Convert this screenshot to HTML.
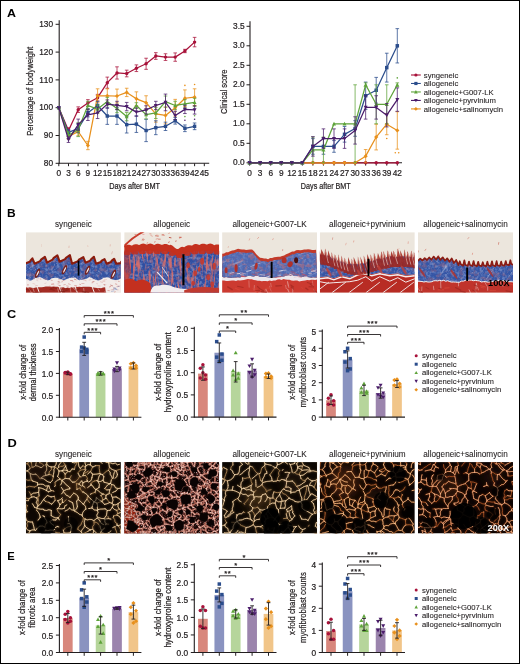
<!DOCTYPE html>
<html><head><meta charset="utf-8"><style>html,body{margin:0;padding:0;background:#fff;font-family:"Liberation Sans",sans-serif;}svg{display:block;}text{font-variant-ligatures:none;font-kerning:none;}</style></head>
<body>
<svg width="520" height="664" viewBox="0 0 520 664" font-family="'Liberation Sans', sans-serif" style="will-change:transform">
<rect x="0" y="0" width="520" height="664" fill="#fff"/>
<text transform="translate(7.0,16.8) scale(1.11,1)" font-size="11.2" font-weight="bold" fill="#000">A</text>
<text transform="translate(6.9,217.0) scale(1.07,1)" font-size="11.2" font-weight="bold" fill="#000">B</text>
<text transform="translate(7.0,318.3) scale(1.14,1)" font-size="11.2" font-weight="bold" fill="#000">C</text>
<text transform="translate(7.6,446.9) scale(1.15,1)" font-size="11.2" font-weight="bold" fill="#000">D</text>
<text transform="translate(7.3,559.8) scale(1.0,1)" font-size="11.2" font-weight="bold" fill="#000">E</text>
<line x1="59.20" y1="20.20" x2="59.20" y2="163.80" stroke="#231f20" stroke-width="1.1"/>
<line x1="58.70" y1="163.30" x2="209.20" y2="163.30" stroke="#231f20" stroke-width="1.1"/>
<line x1="55.60" y1="163.30" x2="59.20" y2="163.30" stroke="#231f20" stroke-width="1"/>
<text x="53.00" y="165.90" font-size="8.3" text-anchor="end" font-weight="normal" fill="#231f20" stroke="#231f20" stroke-width="0.22" >80</text>
<line x1="55.60" y1="135.50" x2="59.20" y2="135.50" stroke="#231f20" stroke-width="1"/>
<text x="53.00" y="138.10" font-size="8.3" text-anchor="end" font-weight="normal" fill="#231f20" stroke="#231f20" stroke-width="0.22" >90</text>
<line x1="55.60" y1="107.70" x2="59.20" y2="107.70" stroke="#231f20" stroke-width="1"/>
<text x="53.00" y="110.30" font-size="8.3" text-anchor="end" font-weight="normal" fill="#231f20" stroke="#231f20" stroke-width="0.22" >100</text>
<line x1="55.60" y1="79.90" x2="59.20" y2="79.90" stroke="#231f20" stroke-width="1"/>
<text x="53.00" y="82.50" font-size="8.3" text-anchor="end" font-weight="normal" fill="#231f20" stroke="#231f20" stroke-width="0.22" >110</text>
<line x1="55.60" y1="52.10" x2="59.20" y2="52.10" stroke="#231f20" stroke-width="1"/>
<text x="53.00" y="54.70" font-size="8.3" text-anchor="end" font-weight="normal" fill="#231f20" stroke="#231f20" stroke-width="0.22" >120</text>
<line x1="55.60" y1="24.30" x2="59.20" y2="24.30" stroke="#231f20" stroke-width="1"/>
<text x="53.00" y="26.90" font-size="8.3" text-anchor="end" font-weight="normal" fill="#231f20" stroke="#231f20" stroke-width="0.22" >130</text>
<line x1="58.80" y1="163.30" x2="58.80" y2="166.20" stroke="#231f20" stroke-width="1"/>
<text x="58.80" y="175.60" font-size="8.3" text-anchor="middle" font-weight="normal" fill="#231f20" stroke="#231f20" stroke-width="0.22" >0</text>
<line x1="68.50" y1="163.30" x2="68.50" y2="166.20" stroke="#231f20" stroke-width="1"/>
<text x="68.50" y="175.60" font-size="8.3" text-anchor="middle" font-weight="normal" fill="#231f20" stroke="#231f20" stroke-width="0.22" >3</text>
<line x1="78.20" y1="163.30" x2="78.20" y2="166.20" stroke="#231f20" stroke-width="1"/>
<text x="78.20" y="175.60" font-size="8.3" text-anchor="middle" font-weight="normal" fill="#231f20" stroke="#231f20" stroke-width="0.22" >6</text>
<line x1="87.90" y1="163.30" x2="87.90" y2="166.20" stroke="#231f20" stroke-width="1"/>
<text x="87.90" y="175.60" font-size="8.3" text-anchor="middle" font-weight="normal" fill="#231f20" stroke="#231f20" stroke-width="0.22" >9</text>
<line x1="97.60" y1="163.30" x2="97.60" y2="166.20" stroke="#231f20" stroke-width="1"/>
<text x="97.60" y="175.60" font-size="8.3" text-anchor="middle" font-weight="normal" fill="#231f20" stroke="#231f20" stroke-width="0.22" >12</text>
<line x1="107.30" y1="163.30" x2="107.30" y2="166.20" stroke="#231f20" stroke-width="1"/>
<text x="107.30" y="175.60" font-size="8.3" text-anchor="middle" font-weight="normal" fill="#231f20" stroke="#231f20" stroke-width="0.22" >15</text>
<line x1="117.00" y1="163.30" x2="117.00" y2="166.20" stroke="#231f20" stroke-width="1"/>
<text x="117.00" y="175.60" font-size="8.3" text-anchor="middle" font-weight="normal" fill="#231f20" stroke="#231f20" stroke-width="0.22" >18</text>
<line x1="126.70" y1="163.30" x2="126.70" y2="166.20" stroke="#231f20" stroke-width="1"/>
<text x="126.70" y="175.60" font-size="8.3" text-anchor="middle" font-weight="normal" fill="#231f20" stroke="#231f20" stroke-width="0.22" >21</text>
<line x1="136.40" y1="163.30" x2="136.40" y2="166.20" stroke="#231f20" stroke-width="1"/>
<text x="136.40" y="175.60" font-size="8.3" text-anchor="middle" font-weight="normal" fill="#231f20" stroke="#231f20" stroke-width="0.22" >24</text>
<line x1="146.10" y1="163.30" x2="146.10" y2="166.20" stroke="#231f20" stroke-width="1"/>
<text x="146.10" y="175.60" font-size="8.3" text-anchor="middle" font-weight="normal" fill="#231f20" stroke="#231f20" stroke-width="0.22" >27</text>
<line x1="155.80" y1="163.30" x2="155.80" y2="166.20" stroke="#231f20" stroke-width="1"/>
<text x="155.80" y="175.60" font-size="8.3" text-anchor="middle" font-weight="normal" fill="#231f20" stroke="#231f20" stroke-width="0.22" >30</text>
<line x1="165.50" y1="163.30" x2="165.50" y2="166.20" stroke="#231f20" stroke-width="1"/>
<text x="165.50" y="175.60" font-size="8.3" text-anchor="middle" font-weight="normal" fill="#231f20" stroke="#231f20" stroke-width="0.22" >33</text>
<line x1="175.20" y1="163.30" x2="175.20" y2="166.20" stroke="#231f20" stroke-width="1"/>
<text x="175.20" y="175.60" font-size="8.3" text-anchor="middle" font-weight="normal" fill="#231f20" stroke="#231f20" stroke-width="0.22" >36</text>
<line x1="184.90" y1="163.30" x2="184.90" y2="166.20" stroke="#231f20" stroke-width="1"/>
<text x="184.90" y="175.60" font-size="8.3" text-anchor="middle" font-weight="normal" fill="#231f20" stroke="#231f20" stroke-width="0.22" >39</text>
<line x1="194.60" y1="163.30" x2="194.60" y2="166.20" stroke="#231f20" stroke-width="1"/>
<text x="194.60" y="175.60" font-size="8.3" text-anchor="middle" font-weight="normal" fill="#231f20" stroke="#231f20" stroke-width="0.22" >42</text>
<line x1="204.30" y1="163.30" x2="204.30" y2="166.20" stroke="#231f20" stroke-width="1"/>
<text x="204.30" y="175.60" font-size="8.3" text-anchor="middle" font-weight="normal" fill="#231f20" stroke="#231f20" stroke-width="0.22" >45</text>
<text transform="translate(33.00,91.20) rotate(-90) scale(0.8600,1)" x="0" y="0" font-size="9" text-anchor="middle" fill="#231f20" stroke="#231f20" stroke-width="0.22">Percentage of bodyweight</text>
<text transform="translate(134.6,189.4) scale(0.8126,1)" font-size="9" text-anchor="middle" fill="#231f20" stroke="#231f20" stroke-width="0.22">Days after BMT</text>
<polyline points="58.80,107.70 68.50,130.50 78.20,109.65 87.90,102.97 97.60,97.69 107.30,82.68 117.00,72.95 126.70,73.51 136.40,68.22 146.10,63.78 155.80,55.99 165.50,57.10 175.20,57.10 184.90,50.99 194.60,42.09" fill="none" stroke="#a8123a" stroke-width="1.25" stroke-linejoin="round"/>
<path d="M68.50,127.72V133.28M66.70,127.72H70.30M66.70,133.28H70.30" stroke="#a8123a" stroke-width="0.9" fill="none" opacity="0.85"/>
<path d="M78.20,106.87V112.43M76.40,106.87H80.00M76.40,112.43H80.00" stroke="#a8123a" stroke-width="0.9" fill="none" opacity="0.85"/>
<path d="M87.90,99.64V106.31M86.10,99.64H89.70M86.10,106.31H89.70" stroke="#a8123a" stroke-width="0.9" fill="none" opacity="0.85"/>
<path d="M97.60,94.36V101.03M95.80,94.36H99.40M95.80,101.03H99.40" stroke="#a8123a" stroke-width="0.9" fill="none" opacity="0.85"/>
<path d="M107.30,77.12V88.24M105.50,77.12H109.10M105.50,88.24H109.10" stroke="#a8123a" stroke-width="0.9" fill="none" opacity="0.85"/>
<path d="M117.00,66.83V79.07M115.20,66.83H118.80M115.20,79.07H118.80" stroke="#a8123a" stroke-width="0.9" fill="none" opacity="0.85"/>
<path d="M126.70,70.17V76.84M124.90,70.17H128.50M124.90,76.84H128.50" stroke="#a8123a" stroke-width="0.9" fill="none" opacity="0.85"/>
<path d="M136.40,64.89V71.56M134.60,64.89H138.20M134.60,71.56H138.20" stroke="#a8123a" stroke-width="0.9" fill="none" opacity="0.85"/>
<path d="M146.10,58.22V69.34M144.30,58.22H147.90M144.30,69.34H147.90" stroke="#a8123a" stroke-width="0.9" fill="none" opacity="0.85"/>
<path d="M155.80,52.66V59.33M154.00,52.66H157.60M154.00,59.33H157.60" stroke="#a8123a" stroke-width="0.9" fill="none" opacity="0.85"/>
<path d="M165.50,53.77V60.44M163.70,53.77H167.30M163.70,60.44H167.30" stroke="#a8123a" stroke-width="0.9" fill="none" opacity="0.85"/>
<path d="M175.20,52.93V61.27M173.40,52.93H177.00M173.40,61.27H177.00" stroke="#a8123a" stroke-width="0.9" fill="none" opacity="0.85"/>
<path d="M184.90,49.32V52.66M183.10,49.32H186.70M183.10,52.66H186.70" stroke="#a8123a" stroke-width="0.9" fill="none" opacity="0.85"/>
<path d="M194.60,37.37V46.82M192.80,37.37H196.40M192.80,46.82H196.40" stroke="#a8123a" stroke-width="0.9" fill="none" opacity="0.85"/>
<circle cx="58.80" cy="107.70" r="1.70" fill="#a8123a"/>
<circle cx="68.50" cy="130.50" r="1.70" fill="#a8123a"/>
<circle cx="78.20" cy="109.65" r="1.70" fill="#a8123a"/>
<circle cx="87.90" cy="102.97" r="1.70" fill="#a8123a"/>
<circle cx="97.60" cy="97.69" r="1.70" fill="#a8123a"/>
<circle cx="107.30" cy="82.68" r="1.70" fill="#a8123a"/>
<circle cx="117.00" cy="72.95" r="1.70" fill="#a8123a"/>
<circle cx="126.70" cy="73.51" r="1.70" fill="#a8123a"/>
<circle cx="136.40" cy="68.22" r="1.70" fill="#a8123a"/>
<circle cx="146.10" cy="63.78" r="1.70" fill="#a8123a"/>
<circle cx="155.80" cy="55.99" r="1.70" fill="#a8123a"/>
<circle cx="165.50" cy="57.10" r="1.70" fill="#a8123a"/>
<circle cx="175.20" cy="57.10" r="1.70" fill="#a8123a"/>
<circle cx="184.90" cy="50.99" r="1.70" fill="#a8123a"/>
<circle cx="194.60" cy="42.09" r="1.70" fill="#a8123a"/>
<polyline points="58.80,107.70 68.50,136.33 78.20,131.61 87.90,145.51 97.60,95.75 107.30,95.75 117.00,96.02 126.70,92.41 136.40,98.80 146.10,102.70 155.80,113.82 165.50,115.48 175.20,107.70 184.90,98.25 194.60,97.14" fill="none" stroke="#e8901c" stroke-width="1.25" stroke-linejoin="round"/>
<path d="M68.50,133.55V139.11M66.70,133.55H70.30M66.70,139.11H70.30" stroke="#e8901c" stroke-width="0.9" fill="none" opacity="0.85"/>
<path d="M78.20,127.44V135.78M76.40,127.44H80.00M76.40,135.78H80.00" stroke="#e8901c" stroke-width="0.9" fill="none" opacity="0.85"/>
<path d="M87.90,141.34V149.68M86.10,141.34H89.70M86.10,149.68H89.70" stroke="#e8901c" stroke-width="0.9" fill="none" opacity="0.85"/>
<path d="M97.60,88.80V102.70M95.80,88.80H99.40M95.80,102.70H99.40" stroke="#e8901c" stroke-width="0.9" fill="none" opacity="0.85"/>
<path d="M107.30,88.80V102.70M105.50,88.80H109.10M105.50,102.70H109.10" stroke="#e8901c" stroke-width="0.9" fill="none" opacity="0.85"/>
<path d="M117.00,89.07V102.97M115.20,89.07H118.80M115.20,102.97H118.80" stroke="#e8901c" stroke-width="0.9" fill="none" opacity="0.85"/>
<path d="M126.70,88.24V96.58M124.90,88.24H128.50M124.90,96.58H128.50" stroke="#e8901c" stroke-width="0.9" fill="none" opacity="0.85"/>
<path d="M136.40,91.85V105.75M134.60,91.85H138.20M134.60,105.75H138.20" stroke="#e8901c" stroke-width="0.9" fill="none" opacity="0.85"/>
<path d="M146.10,95.75V109.65M144.30,95.75H147.90M144.30,109.65H147.90" stroke="#e8901c" stroke-width="0.9" fill="none" opacity="0.85"/>
<path d="M155.80,105.48V122.16M154.00,105.48H157.60M154.00,122.16H157.60" stroke="#e8901c" stroke-width="0.9" fill="none" opacity="0.85"/>
<path d="M165.50,107.14V123.82M163.70,107.14H167.30M163.70,123.82H167.30" stroke="#e8901c" stroke-width="0.9" fill="none" opacity="0.85"/>
<path d="M175.20,99.36V116.04M173.40,99.36H177.00M173.40,116.04H177.00" stroke="#e8901c" stroke-width="0.9" fill="none" opacity="0.85"/>
<path d="M184.90,89.91V106.59M183.10,89.91H186.70M183.10,106.59H186.70" stroke="#e8901c" stroke-width="0.9" fill="none" opacity="0.85"/>
<path d="M194.60,88.80V105.48M192.80,88.80H196.40M192.80,105.48H196.40" stroke="#e8901c" stroke-width="0.9" fill="none" opacity="0.85"/>
<path d="M58.80,105.66L60.84,107.70L58.80,109.74L56.76,107.70Z" fill="#e8901c"/>
<path d="M68.50,134.29L70.54,136.33L68.50,138.37L66.46,136.33Z" fill="#e8901c"/>
<path d="M78.20,129.57L80.24,131.61L78.20,133.65L76.16,131.61Z" fill="#e8901c"/>
<path d="M87.90,143.47L89.94,145.51L87.90,147.55L85.86,145.51Z" fill="#e8901c"/>
<path d="M97.60,93.71L99.64,95.75L97.60,97.79L95.56,95.75Z" fill="#e8901c"/>
<path d="M107.30,93.71L109.34,95.75L107.30,97.79L105.26,95.75Z" fill="#e8901c"/>
<path d="M117.00,93.98L119.04,96.02L117.00,98.06L114.96,96.02Z" fill="#e8901c"/>
<path d="M126.70,90.37L128.74,92.41L126.70,94.45L124.66,92.41Z" fill="#e8901c"/>
<path d="M136.40,96.76L138.44,98.80L136.40,100.84L134.36,98.80Z" fill="#e8901c"/>
<path d="M146.10,100.66L148.14,102.70L146.10,104.74L144.06,102.70Z" fill="#e8901c"/>
<path d="M155.80,111.78L157.84,113.82L155.80,115.86L153.76,113.82Z" fill="#e8901c"/>
<path d="M165.50,113.44L167.54,115.48L165.50,117.52L163.46,115.48Z" fill="#e8901c"/>
<path d="M175.20,105.66L177.24,107.70L175.20,109.74L173.16,107.70Z" fill="#e8901c"/>
<path d="M184.90,96.21L186.94,98.25L184.90,100.29L182.86,98.25Z" fill="#e8901c"/>
<path d="M194.60,95.10L196.64,97.14L194.60,99.18L192.56,97.14Z" fill="#e8901c"/>
<polyline points="58.80,107.70 68.50,132.44 78.20,128.55 87.90,112.70 97.60,105.48 107.30,116.04 117.00,116.04 126.70,124.66 136.40,124.10 146.10,130.50 155.80,127.72 165.50,126.33 175.20,120.77 184.90,128.27 194.60,126.33" fill="none" stroke="#2b4d8c" stroke-width="1.25" stroke-linejoin="round"/>
<path d="M68.50,129.66V135.22M66.70,129.66H70.30M66.70,135.22H70.30" stroke="#2b4d8c" stroke-width="0.9" fill="none" opacity="0.85"/>
<path d="M78.20,124.38V132.72M76.40,124.38H80.00M76.40,132.72H80.00" stroke="#2b4d8c" stroke-width="0.9" fill="none" opacity="0.85"/>
<path d="M87.90,108.53V116.87M86.10,108.53H89.70M86.10,116.87H89.70" stroke="#2b4d8c" stroke-width="0.9" fill="none" opacity="0.85"/>
<path d="M97.60,101.31V109.65M95.80,101.31H99.40M95.80,109.65H99.40" stroke="#2b4d8c" stroke-width="0.9" fill="none" opacity="0.85"/>
<path d="M107.30,107.70V124.38M105.50,107.70H109.10M105.50,124.38H109.10" stroke="#2b4d8c" stroke-width="0.9" fill="none" opacity="0.85"/>
<path d="M117.00,107.70V124.38M115.20,107.70H118.80M115.20,124.38H118.80" stroke="#2b4d8c" stroke-width="0.9" fill="none" opacity="0.85"/>
<path d="M126.70,116.32V133.00M124.90,116.32H128.50M124.90,133.00H128.50" stroke="#2b4d8c" stroke-width="0.9" fill="none" opacity="0.85"/>
<path d="M136.40,115.76V132.44M134.60,115.76H138.20M134.60,132.44H138.20" stroke="#2b4d8c" stroke-width="0.9" fill="none" opacity="0.85"/>
<path d="M146.10,119.38V141.62M144.30,119.38H147.90M144.30,141.62H147.90" stroke="#2b4d8c" stroke-width="0.9" fill="none" opacity="0.85"/>
<path d="M155.80,120.77V134.67M154.00,120.77H157.60M154.00,134.67H157.60" stroke="#2b4d8c" stroke-width="0.9" fill="none" opacity="0.85"/>
<path d="M165.50,122.16V130.50M163.70,122.16H167.30M163.70,130.50H167.30" stroke="#2b4d8c" stroke-width="0.9" fill="none" opacity="0.85"/>
<path d="M175.20,117.43V124.10M173.40,117.43H177.00M173.40,124.10H177.00" stroke="#2b4d8c" stroke-width="0.9" fill="none" opacity="0.85"/>
<path d="M184.90,124.94V131.61M183.10,124.94H186.70M183.10,131.61H186.70" stroke="#2b4d8c" stroke-width="0.9" fill="none" opacity="0.85"/>
<path d="M194.60,122.99V129.66M192.80,122.99H196.40M192.80,129.66H196.40" stroke="#2b4d8c" stroke-width="0.9" fill="none" opacity="0.85"/>
<rect x="57.10" y="106.00" width="3.40" height="3.40" fill="#2b4d8c"/>
<rect x="66.80" y="130.74" width="3.40" height="3.40" fill="#2b4d8c"/>
<rect x="76.50" y="126.85" width="3.40" height="3.40" fill="#2b4d8c"/>
<rect x="86.20" y="111.00" width="3.40" height="3.40" fill="#2b4d8c"/>
<rect x="95.90" y="103.78" width="3.40" height="3.40" fill="#2b4d8c"/>
<rect x="105.60" y="114.34" width="3.40" height="3.40" fill="#2b4d8c"/>
<rect x="115.30" y="114.34" width="3.40" height="3.40" fill="#2b4d8c"/>
<rect x="125.00" y="122.96" width="3.40" height="3.40" fill="#2b4d8c"/>
<rect x="134.70" y="122.40" width="3.40" height="3.40" fill="#2b4d8c"/>
<rect x="144.40" y="128.80" width="3.40" height="3.40" fill="#2b4d8c"/>
<rect x="154.10" y="126.02" width="3.40" height="3.40" fill="#2b4d8c"/>
<rect x="163.80" y="124.63" width="3.40" height="3.40" fill="#2b4d8c"/>
<rect x="173.50" y="119.07" width="3.40" height="3.40" fill="#2b4d8c"/>
<rect x="183.20" y="126.57" width="3.40" height="3.40" fill="#2b4d8c"/>
<rect x="192.90" y="124.63" width="3.40" height="3.40" fill="#2b4d8c"/>
<polyline points="58.80,107.70 68.50,135.22 78.20,129.66 87.90,105.48 97.60,109.09 107.30,101.58 117.00,108.53 126.70,116.60 136.40,105.48 146.10,114.65 155.80,112.98 165.50,101.58 175.20,105.48 184.90,103.81 194.60,102.42" fill="none" stroke="#5ea33a" stroke-width="1.25" stroke-linejoin="round"/>
<path d="M68.50,131.89V138.56M66.70,131.89H70.30M66.70,138.56H70.30" stroke="#5ea33a" stroke-width="0.9" fill="none" opacity="0.85"/>
<path d="M78.20,122.71V136.61M76.40,122.71H80.00M76.40,136.61H80.00" stroke="#5ea33a" stroke-width="0.9" fill="none" opacity="0.85"/>
<path d="M87.90,101.31V109.65M86.10,101.31H89.70M86.10,109.65H89.70" stroke="#5ea33a" stroke-width="0.9" fill="none" opacity="0.85"/>
<path d="M97.60,104.92V113.26M95.80,104.92H99.40M95.80,113.26H99.40" stroke="#5ea33a" stroke-width="0.9" fill="none" opacity="0.85"/>
<path d="M107.30,97.41V105.75M105.50,97.41H109.10M105.50,105.75H109.10" stroke="#5ea33a" stroke-width="0.9" fill="none" opacity="0.85"/>
<path d="M117.00,104.36V112.70M115.20,104.36H118.80M115.20,112.70H118.80" stroke="#5ea33a" stroke-width="0.9" fill="none" opacity="0.85"/>
<path d="M126.70,112.43V120.77M124.90,112.43H128.50M124.90,120.77H128.50" stroke="#5ea33a" stroke-width="0.9" fill="none" opacity="0.85"/>
<path d="M136.40,102.70V108.26M134.60,102.70H138.20M134.60,108.26H138.20" stroke="#5ea33a" stroke-width="0.9" fill="none" opacity="0.85"/>
<path d="M146.10,110.48V118.82M144.30,110.48H147.90M144.30,118.82H147.90" stroke="#5ea33a" stroke-width="0.9" fill="none" opacity="0.85"/>
<path d="M155.80,107.42V118.54M154.00,107.42H157.60M154.00,118.54H157.60" stroke="#5ea33a" stroke-width="0.9" fill="none" opacity="0.85"/>
<path d="M165.50,96.02V107.14M163.70,96.02H167.30M163.70,107.14H167.30" stroke="#5ea33a" stroke-width="0.9" fill="none" opacity="0.85"/>
<path d="M175.20,101.31V109.65M173.40,101.31H177.00M173.40,109.65H177.00" stroke="#5ea33a" stroke-width="0.9" fill="none" opacity="0.85"/>
<path d="M184.90,99.64V107.98M183.10,99.64H186.70M183.10,107.98H186.70" stroke="#5ea33a" stroke-width="0.9" fill="none" opacity="0.85"/>
<path d="M194.60,98.25V106.59M192.80,98.25H196.40M192.80,106.59H196.40" stroke="#5ea33a" stroke-width="0.9" fill="none" opacity="0.85"/>
<path d="M58.80,105.75L60.75,109.26L56.84,109.26Z" fill="#5ea33a"/>
<path d="M68.50,133.27L70.45,136.79L66.55,136.79Z" fill="#5ea33a"/>
<path d="M78.20,127.71L80.15,131.23L76.24,131.23Z" fill="#5ea33a"/>
<path d="M87.90,103.52L89.85,107.04L85.94,107.04Z" fill="#5ea33a"/>
<path d="M97.60,107.14L99.55,110.65L95.64,110.65Z" fill="#5ea33a"/>
<path d="M107.30,99.63L109.25,103.15L105.34,103.15Z" fill="#5ea33a"/>
<path d="M117.00,106.58L118.95,110.10L115.05,110.10Z" fill="#5ea33a"/>
<path d="M126.70,114.64L128.66,118.16L124.74,118.16Z" fill="#5ea33a"/>
<path d="M136.40,103.52L138.35,107.04L134.44,107.04Z" fill="#5ea33a"/>
<path d="M146.10,112.70L148.06,116.21L144.14,116.21Z" fill="#5ea33a"/>
<path d="M155.80,111.03L157.76,114.55L153.84,114.55Z" fill="#5ea33a"/>
<path d="M165.50,99.63L167.46,103.15L163.54,103.15Z" fill="#5ea33a"/>
<path d="M175.20,103.52L177.16,107.04L173.24,107.04Z" fill="#5ea33a"/>
<path d="M184.90,101.85L186.85,105.37L182.94,105.37Z" fill="#5ea33a"/>
<path d="M194.60,100.46L196.55,103.98L192.64,103.98Z" fill="#5ea33a"/>
<polyline points="58.80,107.70 68.50,139.67 78.20,124.66 87.90,114.93 97.60,112.98 107.30,104.09 117.00,105.48 126.70,106.59 136.40,112.15 146.10,109.92 155.80,105.48 165.50,102.42 175.20,115.48 184.90,109.37 194.60,109.92" fill="none" stroke="#4b1d6b" stroke-width="1.25" stroke-linejoin="round"/>
<path d="M68.50,136.89V142.45M66.70,136.89H70.30M66.70,142.45H70.30" stroke="#4b1d6b" stroke-width="0.9" fill="none" opacity="0.85"/>
<path d="M78.20,119.10V130.22M76.40,119.10H80.00M76.40,130.22H80.00" stroke="#4b1d6b" stroke-width="0.9" fill="none" opacity="0.85"/>
<path d="M87.90,109.37V120.49M86.10,109.37H89.70M86.10,120.49H89.70" stroke="#4b1d6b" stroke-width="0.9" fill="none" opacity="0.85"/>
<path d="M97.60,107.42V118.54M95.80,107.42H99.40M95.80,118.54H99.40" stroke="#4b1d6b" stroke-width="0.9" fill="none" opacity="0.85"/>
<path d="M107.30,99.92V108.26M105.50,99.92H109.10M105.50,108.26H109.10" stroke="#4b1d6b" stroke-width="0.9" fill="none" opacity="0.85"/>
<path d="M117.00,101.31V109.65M115.20,101.31H118.80M115.20,109.65H118.80" stroke="#4b1d6b" stroke-width="0.9" fill="none" opacity="0.85"/>
<path d="M126.70,102.42V110.76M124.90,102.42H128.50M124.90,110.76H128.50" stroke="#4b1d6b" stroke-width="0.9" fill="none" opacity="0.85"/>
<path d="M136.40,107.98V116.32M134.60,107.98H138.20M134.60,116.32H138.20" stroke="#4b1d6b" stroke-width="0.9" fill="none" opacity="0.85"/>
<path d="M146.10,105.75V114.09M144.30,105.75H147.90M144.30,114.09H147.90" stroke="#4b1d6b" stroke-width="0.9" fill="none" opacity="0.85"/>
<path d="M155.80,101.31V109.65M154.00,101.31H157.60M154.00,109.65H157.60" stroke="#4b1d6b" stroke-width="0.9" fill="none" opacity="0.85"/>
<path d="M165.50,94.08V110.76M163.70,94.08H167.30M163.70,110.76H167.30" stroke="#4b1d6b" stroke-width="0.9" fill="none" opacity="0.85"/>
<path d="M175.20,111.31V119.65M173.40,111.31H177.00M173.40,119.65H177.00" stroke="#4b1d6b" stroke-width="0.9" fill="none" opacity="0.85"/>
<path d="M184.90,105.20V113.54M183.10,105.20H186.70M183.10,113.54H186.70" stroke="#4b1d6b" stroke-width="0.9" fill="none" opacity="0.85"/>
<path d="M194.60,105.75V114.09M192.80,105.75H196.40M192.80,114.09H196.40" stroke="#4b1d6b" stroke-width="0.9" fill="none" opacity="0.85"/>
<path d="M58.80,109.66L60.75,106.14L56.84,106.14Z" fill="#4b1d6b"/>
<path d="M68.50,141.63L70.45,138.11L66.55,138.11Z" fill="#4b1d6b"/>
<path d="M78.20,126.61L80.15,123.09L76.24,123.09Z" fill="#4b1d6b"/>
<path d="M87.90,116.88L89.85,113.36L85.94,113.36Z" fill="#4b1d6b"/>
<path d="M97.60,114.94L99.55,111.42L95.64,111.42Z" fill="#4b1d6b"/>
<path d="M107.30,106.04L109.25,102.52L105.34,102.52Z" fill="#4b1d6b"/>
<path d="M117.00,107.43L118.95,103.91L115.05,103.91Z" fill="#4b1d6b"/>
<path d="M126.70,108.54L128.66,105.02L124.74,105.02Z" fill="#4b1d6b"/>
<path d="M136.40,114.10L138.35,110.58L134.44,110.58Z" fill="#4b1d6b"/>
<path d="M146.10,111.88L148.06,108.36L144.14,108.36Z" fill="#4b1d6b"/>
<path d="M155.80,107.43L157.76,103.91L153.84,103.91Z" fill="#4b1d6b"/>
<path d="M165.50,104.37L167.46,100.85L163.54,100.85Z" fill="#4b1d6b"/>
<path d="M175.20,117.44L177.16,113.92L173.24,113.92Z" fill="#4b1d6b"/>
<path d="M184.90,111.32L186.85,107.80L182.94,107.80Z" fill="#4b1d6b"/>
<path d="M194.60,111.88L196.55,108.36L192.64,108.36Z" fill="#4b1d6b"/>
<circle cx="184.90" cy="85.4" r="0.8" fill="#e8901c"/>
<circle cx="194.60" cy="84.5" r="0.8" fill="#e8901c"/>
<circle cx="184.90" cy="116.6" r="0.8" fill="#5ea33a"/>
<circle cx="194.60" cy="115.7" r="0.8" fill="#5ea33a"/>
<circle cx="184.90" cy="120.2" r="0.8" fill="#4b1d6b"/>
<circle cx="194.60" cy="119.3" r="0.8" fill="#4b1d6b"/>
<line x1="250.00" y1="21.30" x2="250.00" y2="163.30" stroke="#231f20" stroke-width="1.1"/>
<line x1="249.50" y1="162.80" x2="402.00" y2="162.80" stroke="#231f20" stroke-width="1.1"/>
<line x1="246.50" y1="162.80" x2="250.00" y2="162.80" stroke="#231f20" stroke-width="1"/>
<text x="244.60" y="165.40" font-size="8.3" text-anchor="end" font-weight="normal" fill="#231f20" stroke="#231f20" stroke-width="0.22" >0.0</text>
<line x1="246.50" y1="143.30" x2="250.00" y2="143.30" stroke="#231f20" stroke-width="1"/>
<text x="244.60" y="145.90" font-size="8.3" text-anchor="end" font-weight="normal" fill="#231f20" stroke="#231f20" stroke-width="0.22" >0.5</text>
<line x1="246.50" y1="123.80" x2="250.00" y2="123.80" stroke="#231f20" stroke-width="1"/>
<text x="244.60" y="126.40" font-size="8.3" text-anchor="end" font-weight="normal" fill="#231f20" stroke="#231f20" stroke-width="0.22" >1.0</text>
<line x1="246.50" y1="104.30" x2="250.00" y2="104.30" stroke="#231f20" stroke-width="1"/>
<text x="244.60" y="106.90" font-size="8.3" text-anchor="end" font-weight="normal" fill="#231f20" stroke="#231f20" stroke-width="0.22" >1.5</text>
<line x1="246.50" y1="84.80" x2="250.00" y2="84.80" stroke="#231f20" stroke-width="1"/>
<text x="244.60" y="87.40" font-size="8.3" text-anchor="end" font-weight="normal" fill="#231f20" stroke="#231f20" stroke-width="0.22" >2.0</text>
<line x1="246.50" y1="65.30" x2="250.00" y2="65.30" stroke="#231f20" stroke-width="1"/>
<text x="244.60" y="67.90" font-size="8.3" text-anchor="end" font-weight="normal" fill="#231f20" stroke="#231f20" stroke-width="0.22" >2.5</text>
<line x1="246.50" y1="45.80" x2="250.00" y2="45.80" stroke="#231f20" stroke-width="1"/>
<text x="244.60" y="48.40" font-size="8.3" text-anchor="end" font-weight="normal" fill="#231f20" stroke="#231f20" stroke-width="0.22" >3.0</text>
<line x1="246.50" y1="26.30" x2="250.00" y2="26.30" stroke="#231f20" stroke-width="1"/>
<text x="244.60" y="28.90" font-size="8.3" text-anchor="end" font-weight="normal" fill="#231f20" stroke="#231f20" stroke-width="0.22" >3.5</text>
<line x1="249.60" y1="162.80" x2="249.60" y2="165.60" stroke="#231f20" stroke-width="1"/>
<text x="249.60" y="175.60" font-size="8.3" text-anchor="middle" font-weight="normal" fill="#231f20" stroke="#231f20" stroke-width="0.22" >0</text>
<line x1="260.15" y1="162.80" x2="260.15" y2="165.60" stroke="#231f20" stroke-width="1"/>
<text x="260.15" y="175.60" font-size="8.3" text-anchor="middle" font-weight="normal" fill="#231f20" stroke="#231f20" stroke-width="0.22" >3</text>
<line x1="270.70" y1="162.80" x2="270.70" y2="165.60" stroke="#231f20" stroke-width="1"/>
<text x="270.70" y="175.60" font-size="8.3" text-anchor="middle" font-weight="normal" fill="#231f20" stroke="#231f20" stroke-width="0.22" >6</text>
<line x1="281.25" y1="162.80" x2="281.25" y2="165.60" stroke="#231f20" stroke-width="1"/>
<text x="281.25" y="175.60" font-size="8.3" text-anchor="middle" font-weight="normal" fill="#231f20" stroke="#231f20" stroke-width="0.22" >9</text>
<line x1="291.80" y1="162.80" x2="291.80" y2="165.60" stroke="#231f20" stroke-width="1"/>
<text x="291.80" y="175.60" font-size="8.3" text-anchor="middle" font-weight="normal" fill="#231f20" stroke="#231f20" stroke-width="0.22" >12</text>
<line x1="302.35" y1="162.80" x2="302.35" y2="165.60" stroke="#231f20" stroke-width="1"/>
<text x="302.35" y="175.60" font-size="8.3" text-anchor="middle" font-weight="normal" fill="#231f20" stroke="#231f20" stroke-width="0.22" >15</text>
<line x1="312.90" y1="162.80" x2="312.90" y2="165.60" stroke="#231f20" stroke-width="1"/>
<text x="312.90" y="175.60" font-size="8.3" text-anchor="middle" font-weight="normal" fill="#231f20" stroke="#231f20" stroke-width="0.22" >18</text>
<line x1="323.45" y1="162.80" x2="323.45" y2="165.60" stroke="#231f20" stroke-width="1"/>
<text x="323.45" y="175.60" font-size="8.3" text-anchor="middle" font-weight="normal" fill="#231f20" stroke="#231f20" stroke-width="0.22" >21</text>
<line x1="334.00" y1="162.80" x2="334.00" y2="165.60" stroke="#231f20" stroke-width="1"/>
<text x="334.00" y="175.60" font-size="8.3" text-anchor="middle" font-weight="normal" fill="#231f20" stroke="#231f20" stroke-width="0.22" >24</text>
<line x1="344.55" y1="162.80" x2="344.55" y2="165.60" stroke="#231f20" stroke-width="1"/>
<text x="344.55" y="175.60" font-size="8.3" text-anchor="middle" font-weight="normal" fill="#231f20" stroke="#231f20" stroke-width="0.22" >27</text>
<line x1="355.10" y1="162.80" x2="355.10" y2="165.60" stroke="#231f20" stroke-width="1"/>
<text x="355.10" y="175.60" font-size="8.3" text-anchor="middle" font-weight="normal" fill="#231f20" stroke="#231f20" stroke-width="0.22" >30</text>
<line x1="365.65" y1="162.80" x2="365.65" y2="165.60" stroke="#231f20" stroke-width="1"/>
<text x="365.65" y="175.60" font-size="8.3" text-anchor="middle" font-weight="normal" fill="#231f20" stroke="#231f20" stroke-width="0.22" >33</text>
<line x1="376.20" y1="162.80" x2="376.20" y2="165.60" stroke="#231f20" stroke-width="1"/>
<text x="376.20" y="175.60" font-size="8.3" text-anchor="middle" font-weight="normal" fill="#231f20" stroke="#231f20" stroke-width="0.22" >36</text>
<line x1="386.75" y1="162.80" x2="386.75" y2="165.60" stroke="#231f20" stroke-width="1"/>
<text x="386.75" y="175.60" font-size="8.3" text-anchor="middle" font-weight="normal" fill="#231f20" stroke="#231f20" stroke-width="0.22" >39</text>
<line x1="397.30" y1="162.80" x2="397.30" y2="165.60" stroke="#231f20" stroke-width="1"/>
<text x="397.30" y="175.60" font-size="8.3" text-anchor="middle" font-weight="normal" fill="#231f20" stroke="#231f20" stroke-width="0.22" >42</text>
<text transform="translate(226.70,91.80) rotate(-90) scale(0.8352,1)" x="0" y="0" font-size="9" text-anchor="middle" fill="#231f20" stroke="#231f20" stroke-width="0.22">Clinical score</text>
<text transform="translate(325.8,189.4) scale(0.7998,1)" font-size="9" text-anchor="middle" fill="#231f20" stroke="#231f20" stroke-width="0.22">Days after BMT</text>
<polyline points="249.60,162.80 260.15,162.80 270.70,162.80 281.25,162.80 291.80,162.80 302.35,162.80 312.90,162.80 323.45,162.80 334.00,162.80 344.55,162.80 355.10,162.80 365.65,162.80 376.20,162.80 386.75,162.80 397.30,162.80" fill="none" stroke="#a8123a" stroke-width="1.25" stroke-linejoin="round"/>
<circle cx="249.60" cy="162.80" r="1.75" fill="#a8123a"/>
<circle cx="260.15" cy="162.80" r="1.75" fill="#a8123a"/>
<circle cx="270.70" cy="162.80" r="1.75" fill="#a8123a"/>
<circle cx="281.25" cy="162.80" r="1.75" fill="#a8123a"/>
<circle cx="291.80" cy="162.80" r="1.75" fill="#a8123a"/>
<circle cx="302.35" cy="162.80" r="1.75" fill="#a8123a"/>
<circle cx="312.90" cy="162.80" r="1.75" fill="#a8123a"/>
<circle cx="323.45" cy="162.80" r="1.75" fill="#a8123a"/>
<circle cx="334.00" cy="162.80" r="1.75" fill="#a8123a"/>
<circle cx="344.55" cy="162.80" r="1.75" fill="#a8123a"/>
<circle cx="355.10" cy="162.80" r="1.75" fill="#a8123a"/>
<circle cx="365.65" cy="162.80" r="1.75" fill="#a8123a"/>
<circle cx="376.20" cy="162.80" r="1.75" fill="#a8123a"/>
<circle cx="386.75" cy="162.80" r="1.75" fill="#a8123a"/>
<circle cx="397.30" cy="162.80" r="1.75" fill="#a8123a"/>
<polyline points="249.60,162.80 260.15,162.80 270.70,162.80 281.25,162.80 291.80,162.80 302.35,162.80 312.90,162.80 323.45,162.80 334.00,162.80 344.55,162.80 355.10,162.80 365.65,156.17 376.20,137.06 386.75,124.19 397.30,130.43" fill="none" stroke="#e8901c" stroke-width="1.25" stroke-linejoin="round"/>
<path d="M365.65,149.54V162.80M363.85,149.54H367.45M363.85,162.80H367.45" stroke="#e8901c" stroke-width="0.9" fill="none" opacity="0.85"/>
<path d="M376.20,124.19V149.93M374.40,124.19H378.00M374.40,149.93H378.00" stroke="#e8901c" stroke-width="0.9" fill="none" opacity="0.85"/>
<path d="M386.75,113.66V134.72M384.95,113.66H388.55M384.95,134.72H388.55" stroke="#e8901c" stroke-width="0.9" fill="none" opacity="0.85"/>
<path d="M397.30,111.71V149.15M395.50,111.71H399.10M395.50,149.15H399.10" stroke="#e8901c" stroke-width="0.9" fill="none" opacity="0.85"/>
<path d="M249.60,160.70L251.70,162.80L249.60,164.90L247.50,162.80Z" fill="#e8901c"/>
<path d="M260.15,160.70L262.25,162.80L260.15,164.90L258.05,162.80Z" fill="#e8901c"/>
<path d="M270.70,160.70L272.80,162.80L270.70,164.90L268.60,162.80Z" fill="#e8901c"/>
<path d="M281.25,160.70L283.35,162.80L281.25,164.90L279.15,162.80Z" fill="#e8901c"/>
<path d="M291.80,160.70L293.90,162.80L291.80,164.90L289.70,162.80Z" fill="#e8901c"/>
<path d="M302.35,160.70L304.45,162.80L302.35,164.90L300.25,162.80Z" fill="#e8901c"/>
<path d="M312.90,160.70L315.00,162.80L312.90,164.90L310.80,162.80Z" fill="#e8901c"/>
<path d="M323.45,160.70L325.55,162.80L323.45,164.90L321.35,162.80Z" fill="#e8901c"/>
<path d="M334.00,160.70L336.10,162.80L334.00,164.90L331.90,162.80Z" fill="#e8901c"/>
<path d="M344.55,160.70L346.65,162.80L344.55,164.90L342.45,162.80Z" fill="#e8901c"/>
<path d="M355.10,160.70L357.20,162.80L355.10,164.90L353.00,162.80Z" fill="#e8901c"/>
<path d="M365.65,154.07L367.75,156.17L365.65,158.27L363.55,156.17Z" fill="#e8901c"/>
<path d="M376.20,134.96L378.30,137.06L376.20,139.16L374.10,137.06Z" fill="#e8901c"/>
<path d="M386.75,122.09L388.85,124.19L386.75,126.29L384.65,124.19Z" fill="#e8901c"/>
<path d="M397.30,128.33L399.40,130.43L397.30,132.53L395.20,130.43Z" fill="#e8901c"/>
<polyline points="249.60,162.80 260.15,162.80 270.70,162.80 281.25,162.80 291.80,162.80 302.35,162.80 312.90,146.42 323.45,146.42 334.00,146.42 344.55,134.33 355.10,128.48 365.65,95.72 376.20,90.26 386.75,67.64 397.30,45.80" fill="none" stroke="#2b4d8c" stroke-width="1.25" stroke-linejoin="round"/>
<path d="M312.90,138.62V154.22M311.10,138.62H314.70M311.10,154.22H314.70" stroke="#2b4d8c" stroke-width="0.9" fill="none" opacity="0.85"/>
<path d="M323.45,138.62V154.22M321.65,138.62H325.25M321.65,154.22H325.25" stroke="#2b4d8c" stroke-width="0.9" fill="none" opacity="0.85"/>
<path d="M334.00,140.57V152.27M332.20,140.57H335.80M332.20,152.27H335.80" stroke="#2b4d8c" stroke-width="0.9" fill="none" opacity="0.85"/>
<path d="M344.55,126.53V142.13M342.75,126.53H346.35M342.75,142.13H346.35" stroke="#2b4d8c" stroke-width="0.9" fill="none" opacity="0.85"/>
<path d="M355.10,120.68V136.28M353.30,120.68H356.90M353.30,136.28H356.90" stroke="#2b4d8c" stroke-width="0.9" fill="none" opacity="0.85"/>
<path d="M365.65,82.07V109.37M363.85,82.07H367.45M363.85,109.37H367.45" stroke="#2b4d8c" stroke-width="0.9" fill="none" opacity="0.85"/>
<path d="M376.20,77.39V103.13M374.40,77.39H378.00M374.40,103.13H378.00" stroke="#2b4d8c" stroke-width="0.9" fill="none" opacity="0.85"/>
<path d="M386.75,53.21V82.07M384.95,53.21H388.55M384.95,82.07H388.55" stroke="#2b4d8c" stroke-width="0.9" fill="none" opacity="0.85"/>
<path d="M397.30,28.64V62.96M395.50,28.64H399.10M395.50,62.96H399.10" stroke="#2b4d8c" stroke-width="0.9" fill="none" opacity="0.85"/>
<rect x="247.85" y="161.05" width="3.50" height="3.50" fill="#2b4d8c"/>
<rect x="258.40" y="161.05" width="3.50" height="3.50" fill="#2b4d8c"/>
<rect x="268.95" y="161.05" width="3.50" height="3.50" fill="#2b4d8c"/>
<rect x="279.50" y="161.05" width="3.50" height="3.50" fill="#2b4d8c"/>
<rect x="290.05" y="161.05" width="3.50" height="3.50" fill="#2b4d8c"/>
<rect x="300.60" y="161.05" width="3.50" height="3.50" fill="#2b4d8c"/>
<rect x="311.15" y="144.67" width="3.50" height="3.50" fill="#2b4d8c"/>
<rect x="321.70" y="144.67" width="3.50" height="3.50" fill="#2b4d8c"/>
<rect x="332.25" y="144.67" width="3.50" height="3.50" fill="#2b4d8c"/>
<rect x="342.80" y="132.58" width="3.50" height="3.50" fill="#2b4d8c"/>
<rect x="353.35" y="126.73" width="3.50" height="3.50" fill="#2b4d8c"/>
<rect x="363.90" y="93.97" width="3.50" height="3.50" fill="#2b4d8c"/>
<rect x="374.45" y="88.51" width="3.50" height="3.50" fill="#2b4d8c"/>
<rect x="385.00" y="65.89" width="3.50" height="3.50" fill="#2b4d8c"/>
<rect x="395.55" y="44.05" width="3.50" height="3.50" fill="#2b4d8c"/>
<polyline points="249.60,162.80 260.15,162.80 270.70,162.80 281.25,162.80 291.80,162.80 302.35,162.80 312.90,149.93 323.45,149.93 334.00,123.80 344.55,123.80 355.10,123.80 365.65,84.80 376.20,104.30 386.75,104.30 397.30,84.80" fill="none" stroke="#5ea33a" stroke-width="1.25" stroke-linejoin="round"/>
<path d="M312.90,137.06V162.80M311.10,137.06H314.70M311.10,162.80H314.70" stroke="#5ea33a" stroke-width="0.9" fill="none" opacity="0.85"/>
<path d="M323.45,137.06V162.80M321.65,137.06H325.25M321.65,162.80H325.25" stroke="#5ea33a" stroke-width="0.9" fill="none" opacity="0.85"/>
<path d="M355.10,84.80V162.80M353.30,84.80H356.90M353.30,162.80H356.90" stroke="#5ea33a" stroke-width="0.9" fill="none" opacity="0.85"/>
<path d="M365.65,82.85V86.75M363.85,82.85H367.45M363.85,86.75H367.45" stroke="#5ea33a" stroke-width="0.9" fill="none" opacity="0.85"/>
<path d="M376.20,84.80V123.80M374.40,84.80H378.00M374.40,123.80H378.00" stroke="#5ea33a" stroke-width="0.9" fill="none" opacity="0.85"/>
<path d="M386.75,84.80V123.80M384.95,84.80H388.55M384.95,123.80H388.55" stroke="#5ea33a" stroke-width="0.9" fill="none" opacity="0.85"/>
<path d="M397.30,82.85V86.75M395.50,82.85H399.10M395.50,86.75H399.10" stroke="#5ea33a" stroke-width="0.9" fill="none" opacity="0.85"/>
<path d="M249.60,160.79L251.61,164.41L247.59,164.41Z" fill="#5ea33a"/>
<path d="M260.15,160.79L262.16,164.41L258.14,164.41Z" fill="#5ea33a"/>
<path d="M270.70,160.79L272.71,164.41L268.69,164.41Z" fill="#5ea33a"/>
<path d="M281.25,160.79L283.26,164.41L279.24,164.41Z" fill="#5ea33a"/>
<path d="M291.80,160.79L293.81,164.41L289.79,164.41Z" fill="#5ea33a"/>
<path d="M302.35,160.79L304.36,164.41L300.34,164.41Z" fill="#5ea33a"/>
<path d="M312.90,147.92L314.91,151.54L310.89,151.54Z" fill="#5ea33a"/>
<path d="M323.45,147.92L325.46,151.54L321.44,151.54Z" fill="#5ea33a"/>
<path d="M334.00,121.79L336.01,125.41L331.99,125.41Z" fill="#5ea33a"/>
<path d="M344.55,121.79L346.56,125.41L342.54,125.41Z" fill="#5ea33a"/>
<path d="M355.10,121.79L357.11,125.41L353.09,125.41Z" fill="#5ea33a"/>
<path d="M365.65,82.79L367.66,86.41L363.64,86.41Z" fill="#5ea33a"/>
<path d="M376.20,102.29L378.21,105.91L374.19,105.91Z" fill="#5ea33a"/>
<path d="M386.75,102.29L388.76,105.91L384.74,105.91Z" fill="#5ea33a"/>
<path d="M397.30,82.79L399.31,86.41L395.29,86.41Z" fill="#5ea33a"/>
<polyline points="249.60,162.80 260.15,162.80 270.70,162.80 281.25,162.80 291.80,162.80 302.35,162.80 312.90,146.42 323.45,138.62 334.00,138.62 344.55,138.62 355.10,130.43 365.65,107.42 376.20,107.42 386.75,115.22 397.30,99.62" fill="none" stroke="#4b1d6b" stroke-width="1.25" stroke-linejoin="round"/>
<path d="M312.90,136.67V156.17M311.10,136.67H314.70M311.10,156.17H314.70" stroke="#4b1d6b" stroke-width="0.9" fill="none" opacity="0.85"/>
<path d="M323.45,128.87V148.37M321.65,128.87H325.25M321.65,148.37H325.25" stroke="#4b1d6b" stroke-width="0.9" fill="none" opacity="0.85"/>
<path d="M334.00,128.87V148.37M332.20,128.87H335.80M332.20,148.37H335.80" stroke="#4b1d6b" stroke-width="0.9" fill="none" opacity="0.85"/>
<path d="M344.55,128.87V148.37M342.75,128.87H346.35M342.75,148.37H346.35" stroke="#4b1d6b" stroke-width="0.9" fill="none" opacity="0.85"/>
<path d="M355.10,116.78V144.08M353.30,116.78H356.90M353.30,144.08H356.90" stroke="#4b1d6b" stroke-width="0.9" fill="none" opacity="0.85"/>
<path d="M365.65,95.72V119.12M363.85,95.72H367.45M363.85,119.12H367.45" stroke="#4b1d6b" stroke-width="0.9" fill="none" opacity="0.85"/>
<path d="M376.20,95.72V119.12M374.40,95.72H378.00M374.40,119.12H378.00" stroke="#4b1d6b" stroke-width="0.9" fill="none" opacity="0.85"/>
<path d="M386.75,103.52V126.92M384.95,103.52H388.55M384.95,126.92H388.55" stroke="#4b1d6b" stroke-width="0.9" fill="none" opacity="0.85"/>
<path d="M397.30,87.92V111.32M395.50,87.92H399.10M395.50,111.32H399.10" stroke="#4b1d6b" stroke-width="0.9" fill="none" opacity="0.85"/>
<path d="M249.60,164.81L251.61,161.19L247.59,161.19Z" fill="#4b1d6b"/>
<path d="M260.15,164.81L262.16,161.19L258.14,161.19Z" fill="#4b1d6b"/>
<path d="M270.70,164.81L272.71,161.19L268.69,161.19Z" fill="#4b1d6b"/>
<path d="M281.25,164.81L283.26,161.19L279.24,161.19Z" fill="#4b1d6b"/>
<path d="M291.80,164.81L293.81,161.19L289.79,161.19Z" fill="#4b1d6b"/>
<path d="M302.35,164.81L304.36,161.19L300.34,161.19Z" fill="#4b1d6b"/>
<path d="M312.90,148.43L314.91,144.81L310.89,144.81Z" fill="#4b1d6b"/>
<path d="M323.45,140.63L325.46,137.01L321.44,137.01Z" fill="#4b1d6b"/>
<path d="M334.00,140.63L336.01,137.01L331.99,137.01Z" fill="#4b1d6b"/>
<path d="M344.55,140.63L346.56,137.01L342.54,137.01Z" fill="#4b1d6b"/>
<path d="M355.10,132.44L357.11,128.82L353.09,128.82Z" fill="#4b1d6b"/>
<path d="M365.65,109.43L367.66,105.81L363.64,105.81Z" fill="#4b1d6b"/>
<path d="M376.20,109.43L378.21,105.81L374.19,105.81Z" fill="#4b1d6b"/>
<path d="M386.75,117.23L388.76,113.61L384.74,113.61Z" fill="#4b1d6b"/>
<path d="M397.30,101.63L399.31,98.01L395.29,98.01Z" fill="#4b1d6b"/>
<circle cx="397.30" cy="77.9" r="0.8" fill="#5ea33a"/>
<circle cx="386.75" cy="138.5" r="0.8" fill="#e8901c"/>
<circle cx="395.30" cy="152.7" r="0.8" fill="#e8901c"/>
<circle cx="398.70" cy="152.7" r="0.8" fill="#e8901c"/>
<line x1="411.00" y1="75.00" x2="420.80" y2="75.00" stroke="#a8123a" stroke-width="1.1"/>
<circle cx="415.90" cy="75.00" r="1.60" fill="#a8123a"/>
<text x="423.80" y="77.60" font-size="7.7" text-anchor="start" font-weight="normal" fill="#231f20" stroke="#231f20" stroke-width="0.1" >syngeneic</text>
<line x1="411.00" y1="83.48" x2="420.80" y2="83.48" stroke="#2b4d8c" stroke-width="1.1"/>
<rect x="414.30" y="81.88" width="3.20" height="3.20" fill="#2b4d8c"/>
<text x="423.80" y="86.08" font-size="7.7" text-anchor="start" font-weight="normal" fill="#231f20" stroke="#231f20" stroke-width="0.1" >allogeneic</text>
<line x1="411.00" y1="91.96" x2="420.80" y2="91.96" stroke="#5ea33a" stroke-width="1.1"/>
<path d="M415.90,90.12L417.74,93.43L414.06,93.43Z" fill="#5ea33a"/>
<text x="423.80" y="94.56" font-size="7.7" text-anchor="start" font-weight="normal" fill="#231f20" stroke="#231f20" stroke-width="0.1" >allogeneic+G007-LK</text>
<line x1="411.00" y1="100.44" x2="420.80" y2="100.44" stroke="#4b1d6b" stroke-width="1.1"/>
<path d="M415.90,102.28L417.74,98.97L414.06,98.97Z" fill="#4b1d6b"/>
<text x="423.80" y="103.04" font-size="7.7" text-anchor="start" font-weight="normal" fill="#231f20" stroke="#231f20" stroke-width="0.1" >allogeneic+pyrvinium</text>
<line x1="411.00" y1="108.92" x2="420.80" y2="108.92" stroke="#e8901c" stroke-width="1.1"/>
<path d="M415.90,107.00L417.82,108.92L415.90,110.84L413.98,108.92Z" fill="#e8901c"/>
<text x="423.80" y="111.52" font-size="7.7" text-anchor="start" font-weight="normal" fill="#231f20" stroke="#231f20" stroke-width="0.1" >allogeneic+salinomycin</text>
<text x="73.40" y="227.00" font-size="8.2" text-anchor="middle" font-weight="normal" fill="#231f20" stroke="#231f20" stroke-width="0.08" >syngeneic</text>
<text x="73.40" y="457.00" font-size="8.2" text-anchor="middle" font-weight="normal" fill="#231f20" stroke="#231f20" stroke-width="0.08" >syngeneic</text>
<text x="171.70" y="227.00" font-size="8.2" text-anchor="middle" font-weight="normal" fill="#231f20" stroke="#231f20" stroke-width="0.08" >allogeneic</text>
<text x="171.70" y="457.00" font-size="8.2" text-anchor="middle" font-weight="normal" fill="#231f20" stroke="#231f20" stroke-width="0.08" >allogeneic</text>
<text x="269.60" y="227.00" font-size="8.2" text-anchor="middle" font-weight="normal" fill="#231f20" stroke="#231f20" stroke-width="0.08" >allogeneic+G007-LK</text>
<text x="269.60" y="457.00" font-size="8.2" text-anchor="middle" font-weight="normal" fill="#231f20" stroke="#231f20" stroke-width="0.08" >allogeneic+G007-LK</text>
<text x="367.30" y="227.00" font-size="8.2" text-anchor="middle" font-weight="normal" fill="#231f20" stroke="#231f20" stroke-width="0.08" >allogeneic+pyrvinium</text>
<text x="367.30" y="457.00" font-size="8.2" text-anchor="middle" font-weight="normal" fill="#231f20" stroke="#231f20" stroke-width="0.08" >allogeneic+pyrvinium</text>
<text x="465.50" y="227.00" font-size="8.2" text-anchor="middle" font-weight="normal" fill="#231f20" stroke="#231f20" stroke-width="0.08" >allogeneic+salinomycin</text>
<text x="465.50" y="457.00" font-size="8.2" text-anchor="middle" font-weight="normal" fill="#231f20" stroke="#231f20" stroke-width="0.08" >allogeneic+salinomycin</text>
<defs>
<clipPath id="cb0"><rect x="25.9" y="232.2" width="95.0" height="60.6"/></clipPath>
<clipPath id="cb1"><rect x="124.2" y="232.2" width="95.0" height="60.6"/></clipPath>
<clipPath id="cb2"><rect x="222.1" y="232.2" width="95.0" height="60.6"/></clipPath>
<clipPath id="cb3"><rect x="319.8" y="232.2" width="95.0" height="60.6"/></clipPath>
<clipPath id="cb4"><rect x="418.0" y="232.2" width="95.0" height="60.6"/></clipPath>
<filter id="rmot" x="0" y="0" width="100%" height="100%"><feTurbulence type="fractalNoise" baseFrequency="0.22" numOctaves="2" seed="11"/><feColorMatrix type="matrix" values="0 0 0 0 0.72  0 0 0 0 0.16  0 0 0 0 0.14  6 0 0 0 -3.0"/></filter>
<filter id="rmot2" x="0" y="0" width="100%" height="100%"><feTurbulence type="fractalNoise" baseFrequency="0.18" numOctaves="2" seed="5"/><feColorMatrix type="matrix" values="0 0 0 0 0.75  0 0 0 0 0.18  0 0 0 0 0.16  5 0 0 0 -2.2"/></filter>
<filter id="bmot" x="0" y="0" width="100%" height="100%"><feTurbulence type="fractalNoise" baseFrequency="0.35" numOctaves="2" seed="3"/><feColorMatrix type="matrix" values="0 0 0 0 0.14  0 0 0 0 0.22  0 0 0 0 0.52  3 0 0 0 -1.3"/></filter>
<filter id="wst" x="0" y="0" width="100%" height="100%"><feTurbulence type="fractalNoise" baseFrequency="0.06 0.6" numOctaves="1" seed="8"/><feColorMatrix type="matrix" values="0 0 0 0 0.95  0 0 0 0 0.94  0 0 0 0 0.96  4 0 0 0 -2.45"/></filter>
<filter id="bl3"><feGaussianBlur stdDeviation="0.35"/></filter>
<filter id="rst" x="0" y="0" width="100%" height="100%"><feTurbulence type="fractalNoise" baseFrequency="0.45 0.07" numOctaves="2" seed="21"/><feColorMatrix type="matrix" values="0 0 0 0 0.76  0 0 0 0 0.16  0 0 0 0 0.13  5 0 0 0 -2.5"/></filter>
</defs>
<g clip-path="url(#cb0)">
<rect x="25.9" y="232.2" width="95.0" height="60.6" fill="#ece6dd"/>
<polygon points="25.9,276.2 120.9,276.2 120.9,292.8 25.9,292.8" fill="#f2ecea"/>
<line x1="36.4" y1="278.8" x2="38.8" y2="278.6" stroke="#e0c0c0" stroke-width="0.6" stroke-linecap="round" opacity="0.75"/>
<line x1="58.0" y1="281.8" x2="59.1" y2="281.9" stroke="#b04a44" stroke-width="0.6" stroke-linecap="round" opacity="0.75"/>
<line x1="104.0" y1="284.6" x2="104.8" y2="285.0" stroke="#b04a44" stroke-width="0.9" stroke-linecap="round" opacity="0.75"/>
<line x1="63.0" y1="280.6" x2="64.9" y2="280.0" stroke="#c86a64" stroke-width="0.6" stroke-linecap="round" opacity="0.75"/>
<line x1="51.1" y1="280.1" x2="52.3" y2="280.6" stroke="#b04a44" stroke-width="0.5" stroke-linecap="round" opacity="0.75"/>
<line x1="26.2" y1="278.8" x2="27.5" y2="278.9" stroke="#c86a64" stroke-width="0.8" stroke-linecap="round" opacity="0.75"/>
<line x1="102.9" y1="281.1" x2="104.9" y2="281.0" stroke="#dca09a" stroke-width="0.9" stroke-linecap="round" opacity="0.75"/>
<line x1="32.8" y1="283.4" x2="34.9" y2="284.1" stroke="#dca09a" stroke-width="0.5" stroke-linecap="round" opacity="0.75"/>
<line x1="91.7" y1="283.7" x2="92.5" y2="283.6" stroke="#e0c0c0" stroke-width="0.5" stroke-linecap="round" opacity="0.75"/>
<line x1="61.6" y1="281.9" x2="62.8" y2="281.6" stroke="#b04a44" stroke-width="0.4" stroke-linecap="round" opacity="0.75"/>
<line x1="68.6" y1="283.9" x2="70.1" y2="284.4" stroke="#c86a64" stroke-width="0.7" stroke-linecap="round" opacity="0.75"/>
<line x1="37.0" y1="279.4" x2="38.7" y2="278.7" stroke="#e0c0c0" stroke-width="0.6" stroke-linecap="round" opacity="0.75"/>
<line x1="58.9" y1="285.8" x2="59.7" y2="286.1" stroke="#e0c0c0" stroke-width="0.4" stroke-linecap="round" opacity="0.75"/>
<line x1="40.1" y1="279.0" x2="41.0" y2="279.1" stroke="#c86a64" stroke-width="0.7" stroke-linecap="round" opacity="0.75"/>
<line x1="104.2" y1="279.3" x2="106.6" y2="279.4" stroke="#dca09a" stroke-width="0.5" stroke-linecap="round" opacity="0.75"/>
<line x1="115.5" y1="283.9" x2="116.8" y2="284.3" stroke="#c86a64" stroke-width="0.7" stroke-linecap="round" opacity="0.75"/>
<line x1="71.0" y1="280.5" x2="72.8" y2="281.1" stroke="#e0c0c0" stroke-width="0.9" stroke-linecap="round" opacity="0.75"/>
<line x1="51.6" y1="284.2" x2="53.7" y2="284.0" stroke="#c86a64" stroke-width="0.9" stroke-linecap="round" opacity="0.75"/>
<line x1="46.8" y1="279.1" x2="47.7" y2="279.1" stroke="#c86a64" stroke-width="0.8" stroke-linecap="round" opacity="0.75"/>
<line x1="58.4" y1="281.7" x2="59.9" y2="282.3" stroke="#b04a44" stroke-width="0.4" stroke-linecap="round" opacity="0.75"/>
<line x1="74.8" y1="285.7" x2="76.8" y2="286.1" stroke="#c86a64" stroke-width="0.9" stroke-linecap="round" opacity="0.75"/>
<line x1="92.2" y1="282.2" x2="94.0" y2="281.6" stroke="#b04a44" stroke-width="0.8" stroke-linecap="round" opacity="0.75"/>
<line x1="36.7" y1="280.4" x2="37.9" y2="280.8" stroke="#e0c0c0" stroke-width="0.9" stroke-linecap="round" opacity="0.75"/>
<line x1="43.5" y1="278.7" x2="44.8" y2="279.1" stroke="#dca09a" stroke-width="0.9" stroke-linecap="round" opacity="0.75"/>
<line x1="93.0" y1="279.0" x2="94.3" y2="278.7" stroke="#b04a44" stroke-width="0.5" stroke-linecap="round" opacity="0.75"/>
<line x1="35.3" y1="285.9" x2="37.6" y2="285.3" stroke="#dca09a" stroke-width="0.6" stroke-linecap="round" opacity="0.75"/>
<line x1="81.8" y1="283.5" x2="84.0" y2="283.4" stroke="#b04a44" stroke-width="0.4" stroke-linecap="round" opacity="0.75"/>
<line x1="72.4" y1="281.8" x2="73.8" y2="281.4" stroke="#dca09a" stroke-width="0.5" stroke-linecap="round" opacity="0.75"/>
<line x1="49.3" y1="285.6" x2="50.7" y2="286.1" stroke="#e0c0c0" stroke-width="0.5" stroke-linecap="round" opacity="0.75"/>
<line x1="27.4" y1="280.6" x2="29.6" y2="280.0" stroke="#e0c0c0" stroke-width="0.4" stroke-linecap="round" opacity="0.75"/>
<line x1="58.5" y1="279.7" x2="60.3" y2="279.5" stroke="#dca09a" stroke-width="0.6" stroke-linecap="round" opacity="0.75"/>
<line x1="27.5" y1="284.9" x2="28.4" y2="284.9" stroke="#c86a64" stroke-width="0.8" stroke-linecap="round" opacity="0.75"/>
<line x1="59.1" y1="285.6" x2="60.3" y2="285.7" stroke="#b04a44" stroke-width="0.7" stroke-linecap="round" opacity="0.75"/>
<line x1="60.0" y1="279.6" x2="60.9" y2="279.3" stroke="#e0c0c0" stroke-width="0.8" stroke-linecap="round" opacity="0.75"/>
<line x1="83.8" y1="280.5" x2="85.4" y2="279.9" stroke="#dca09a" stroke-width="0.5" stroke-linecap="round" opacity="0.75"/>
<line x1="48.2" y1="278.6" x2="50.3" y2="278.1" stroke="#e0c0c0" stroke-width="0.5" stroke-linecap="round" opacity="0.75"/>
<line x1="115.0" y1="280.8" x2="116.9" y2="281.0" stroke="#e0c0c0" stroke-width="0.6" stroke-linecap="round" opacity="0.75"/>
<line x1="58.0" y1="284.0" x2="58.9" y2="283.8" stroke="#dca09a" stroke-width="0.6" stroke-linecap="round" opacity="0.75"/>
<line x1="118.5" y1="281.3" x2="119.3" y2="281.6" stroke="#c86a64" stroke-width="0.7" stroke-linecap="round" opacity="0.75"/>
<line x1="96.7" y1="283.6" x2="97.7" y2="283.9" stroke="#e0c0c0" stroke-width="0.9" stroke-linecap="round" opacity="0.75"/>
<line x1="70.4" y1="280.4" x2="72.5" y2="280.5" stroke="#c86a64" stroke-width="0.6" stroke-linecap="round" opacity="0.75"/>
<line x1="85.3" y1="280.6" x2="86.2" y2="280.8" stroke="#dca09a" stroke-width="0.7" stroke-linecap="round" opacity="0.75"/>
<line x1="56.9" y1="283.9" x2="59.3" y2="283.9" stroke="#e0c0c0" stroke-width="0.6" stroke-linecap="round" opacity="0.75"/>
<line x1="63.8" y1="284.8" x2="65.3" y2="284.5" stroke="#c86a64" stroke-width="0.6" stroke-linecap="round" opacity="0.75"/>
<line x1="116.9" y1="278.2" x2="118.4" y2="278.2" stroke="#b04a44" stroke-width="0.8" stroke-linecap="round" opacity="0.75"/>
<line x1="100.5" y1="281.8" x2="102.4" y2="282.4" stroke="#dca09a" stroke-width="0.6" stroke-linecap="round" opacity="0.75"/>
<line x1="44.7" y1="283.6" x2="46.1" y2="283.0" stroke="#e0c0c0" stroke-width="0.8" stroke-linecap="round" opacity="0.75"/>
<line x1="98.0" y1="285.9" x2="100.2" y2="286.1" stroke="#dca09a" stroke-width="0.5" stroke-linecap="round" opacity="0.75"/>
<line x1="104.7" y1="284.3" x2="105.9" y2="284.3" stroke="#dca09a" stroke-width="0.6" stroke-linecap="round" opacity="0.75"/>
<line x1="53.4" y1="285.0" x2="54.8" y2="285.1" stroke="#e0c0c0" stroke-width="0.5" stroke-linecap="round" opacity="0.75"/>
<line x1="79.7" y1="284.3" x2="80.5" y2="284.5" stroke="#c86a64" stroke-width="0.7" stroke-linecap="round" opacity="0.75"/>
<line x1="62.2" y1="280.1" x2="63.2" y2="279.9" stroke="#e0c0c0" stroke-width="0.5" stroke-linecap="round" opacity="0.75"/>
<line x1="74.4" y1="279.2" x2="76.1" y2="279.8" stroke="#b04a44" stroke-width="0.7" stroke-linecap="round" opacity="0.75"/>
<line x1="58.5" y1="281.6" x2="59.4" y2="281.4" stroke="#e0c0c0" stroke-width="0.4" stroke-linecap="round" opacity="0.75"/>
<line x1="118.3" y1="278.3" x2="119.7" y2="278.7" stroke="#e0c0c0" stroke-width="0.6" stroke-linecap="round" opacity="0.75"/>
<line x1="66.7" y1="285.9" x2="68.3" y2="286.2" stroke="#b04a44" stroke-width="0.5" stroke-linecap="round" opacity="0.75"/>
<line x1="32.2" y1="278.8" x2="34.2" y2="279.5" stroke="#dca09a" stroke-width="0.5" stroke-linecap="round" opacity="0.75"/>
<line x1="28.6" y1="278.8" x2="30.7" y2="279.1" stroke="#e0c0c0" stroke-width="0.8" stroke-linecap="round" opacity="0.75"/>
<line x1="110.6" y1="285.1" x2="112.7" y2="285.9" stroke="#b04a44" stroke-width="0.7" stroke-linecap="round" opacity="0.75"/>
<line x1="89.1" y1="280.0" x2="91.0" y2="279.7" stroke="#dca09a" stroke-width="0.7" stroke-linecap="round" opacity="0.75"/>
<polygon points="25.9,287.2 27.9,287.8 29.9,287.3 31.8,287.8 33.8,288.1 35.8,287.4 37.8,287.2 39.8,287.3 41.7,287.2 43.7,287.1 45.7,286.6 47.7,286.5 49.6,286.4 51.6,286.7 53.6,286.4 55.6,286.8 57.6,286.7 59.5,287.4 61.5,287.6 63.5,287.3 65.5,288.2 67.5,287.5 69.4,288.1 71.4,287.3 73.4,287.4 75.4,287.3 77.4,287.1 79.3,286.7 81.3,287.0 83.3,286.8 85.3,286.8 87.3,286.8 89.2,286.7 91.2,287.0 93.2,287.6 95.2,287.7 97.2,288.1 99.1,287.9 101.1,288.2 103.1,287.5 105.1,287.3 105.9,292.8 25.9,292.8" fill="#a42c24"/>
<line x1="36.9" y1="286.2" x2="39.4" y2="292.8" stroke="#f4ecea" stroke-width="1.0"/>
<line x1="58.9" y1="286.2" x2="61.4" y2="292.8" stroke="#f4ecea" stroke-width="1.0"/>
<line x1="74.9" y1="286.2" x2="77.4" y2="292.8" stroke="#f4ecea" stroke-width="1.0"/>
<line x1="91.9" y1="286.2" x2="94.4" y2="292.8" stroke="#f4ecea" stroke-width="1.0"/>
<line x1="28.9" y1="288.6" x2="32.5" y2="294.3" stroke="#f4e8e4" stroke-width="0.4" stroke-linecap="round" opacity="0.85"/>
<line x1="32.7" y1="287.5" x2="34.6" y2="293.4" stroke="#f4e8e4" stroke-width="0.5" stroke-linecap="round" opacity="0.85"/>
<line x1="69.6" y1="284.5" x2="70.9" y2="292.3" stroke="#f4e8e4" stroke-width="0.4" stroke-linecap="round" opacity="0.85"/>
<line x1="60.1" y1="286.1" x2="62.5" y2="291.1" stroke="#f4e8e4" stroke-width="0.5" stroke-linecap="round" opacity="0.85"/>
<line x1="96.5" y1="286.2" x2="99.6" y2="291.0" stroke="#f4e8e4" stroke-width="0.4" stroke-linecap="round" opacity="0.85"/>
<line x1="70.8" y1="285.6" x2="76.4" y2="291.0" stroke="#f4e8e4" stroke-width="0.5" stroke-linecap="round" opacity="0.85"/>
<line x1="57.5" y1="288.2" x2="59.7" y2="295.0" stroke="#f4e8e4" stroke-width="0.5" stroke-linecap="round" opacity="0.85"/>
<line x1="83.7" y1="288.4" x2="84.1" y2="292.6" stroke="#f4e8e4" stroke-width="0.5" stroke-linecap="round" opacity="0.85"/>
<line x1="76.2" y1="290.1" x2="79.8" y2="288.6" stroke="#801c14" stroke-width="1.2" stroke-linecap="round" opacity="0.6"/>
<line x1="23.9" y1="288.7" x2="29.5" y2="290.3" stroke="#801c14" stroke-width="1.2" stroke-linecap="round" opacity="0.6"/>
<line x1="35.9" y1="292.8" x2="41.1" y2="291.9" stroke="#801c14" stroke-width="0.9" stroke-linecap="round" opacity="0.6"/>
<line x1="62.7" y1="291.8" x2="68.5" y2="289.7" stroke="#801c14" stroke-width="1.1" stroke-linecap="round" opacity="0.6"/>
<line x1="82.4" y1="291.7" x2="85.6" y2="292.8" stroke="#801c14" stroke-width="1.1" stroke-linecap="round" opacity="0.6"/>
<line x1="49.7" y1="289.3" x2="53.7" y2="287.6" stroke="#801c14" stroke-width="0.9" stroke-linecap="round" opacity="0.6"/>
<line x1="50.6" y1="289.1" x2="54.2" y2="290.1" stroke="#801c14" stroke-width="1.3" stroke-linecap="round" opacity="0.6"/>
<line x1="53.2" y1="287.8" x2="57.4" y2="288.7" stroke="#801c14" stroke-width="1.1" stroke-linecap="round" opacity="0.6"/>
<line x1="83.4" y1="291.4" x2="88.8" y2="292.6" stroke="#801c14" stroke-width="1.2" stroke-linecap="round" opacity="0.6"/>
<line x1="60.0" y1="292.0" x2="63.1" y2="290.6" stroke="#801c14" stroke-width="1.0" stroke-linecap="round" opacity="0.6"/>
<line x1="61.1" y1="289.5" x2="67.4" y2="288.7" stroke="#801c14" stroke-width="1.0" stroke-linecap="round" opacity="0.6"/>
<line x1="33.4" y1="292.2" x2="36.4" y2="293.1" stroke="#801c14" stroke-width="1.2" stroke-linecap="round" opacity="0.6"/>
<line x1="59.6" y1="290.9" x2="64.4" y2="291.9" stroke="#801c14" stroke-width="1.1" stroke-linecap="round" opacity="0.6"/>
<line x1="29.3" y1="289.2" x2="32.8" y2="290.7" stroke="#801c14" stroke-width="0.8" stroke-linecap="round" opacity="0.6"/>
<line x1="117.7" y1="286.8" x2="119.8" y2="286.0" stroke="#dca09a" stroke-width="0.8" stroke-linecap="round" opacity="0.75"/>
<line x1="111.1" y1="289.9" x2="113.5" y2="289.4" stroke="#dca09a" stroke-width="0.7" stroke-linecap="round" opacity="0.75"/>
<line x1="109.5" y1="286.9" x2="110.8" y2="286.5" stroke="#c86a64" stroke-width="0.7" stroke-linecap="round" opacity="0.75"/>
<line x1="107.9" y1="290.5" x2="109.4" y2="290.7" stroke="#c86a64" stroke-width="0.7" stroke-linecap="round" opacity="0.75"/>
<line x1="113.5" y1="288.0" x2="115.9" y2="288.2" stroke="#7080b8" stroke-width="0.8" stroke-linecap="round" opacity="0.75"/>
<line x1="114.9" y1="288.9" x2="117.0" y2="289.5" stroke="#7080b8" stroke-width="0.9" stroke-linecap="round" opacity="0.75"/>
<line x1="116.8" y1="286.5" x2="118.5" y2="285.9" stroke="#dca09a" stroke-width="0.8" stroke-linecap="round" opacity="0.75"/>
<line x1="113.2" y1="289.3" x2="115.2" y2="288.9" stroke="#7080b8" stroke-width="0.5" stroke-linecap="round" opacity="0.75"/>
<line x1="113.3" y1="288.2" x2="114.5" y2="287.7" stroke="#dca09a" stroke-width="0.6" stroke-linecap="round" opacity="0.75"/>
<line x1="117.2" y1="290.0" x2="118.4" y2="289.9" stroke="#dca09a" stroke-width="0.5" stroke-linecap="round" opacity="0.75"/>
<line x1="104.3" y1="291.8" x2="106.2" y2="292.5" stroke="#dca09a" stroke-width="0.6" stroke-linecap="round" opacity="0.75"/>
<line x1="114.4" y1="292.1" x2="115.3" y2="291.8" stroke="#c86a64" stroke-width="0.7" stroke-linecap="round" opacity="0.75"/>
<line x1="118.0" y1="286.4" x2="119.0" y2="286.5" stroke="#7080b8" stroke-width="0.7" stroke-linecap="round" opacity="0.75"/>
<line x1="111.5" y1="291.4" x2="113.9" y2="290.9" stroke="#7080b8" stroke-width="0.6" stroke-linecap="round" opacity="0.75"/>
<clipPath id="dm0"><polygon points="25.9,263.2 29.8,261.8 30.6,260.4 32.4,258.4 34.6,263.7 40.2,261.1 41.0,259.7 44.9,256.9 47.1,262.7 52.7,259.6 53.5,258.2 57.4,255.3 59.6,261.7 65.2,259.1 66.0,257.8 69.9,255.2 72.1,263.7 78.1,261.1 78.9,259.7 83.3,257.1 85.5,262.7 90.3,260.6 91.1,259.2 93.9,256.8 96.1,263.7 100.9,262.1 101.7,260.6 104.5,259.1 106.7,263.7 111.0,262.1 111.8,260.6 114.1,258.8 116.3,263.7 120.6,263.1 121.4,261.6 123.7,260.4 125.9,263.2 120.9,278.4 118.9,279.3 116.9,280.1 115.0,280.1 113.0,279.5 111.0,279.1 109.0,277.6 107.0,277.3 105.1,277.6 103.1,278.1 101.1,279.4 99.1,280.3 97.2,280.2 95.2,279.4 93.2,278.8 91.2,277.6 89.2,276.9 87.3,278.2 85.3,278.9 83.3,279.6 81.3,279.8 79.3,280.2 77.4,279.3 75.4,277.6 73.4,277.4 71.4,277.7 69.4,278.1 67.5,278.7 65.5,279.6 63.5,280.2 61.5,279.2 59.5,278.8 57.6,278.0 55.6,277.4 53.6,278.1 51.6,278.3 49.6,280.0 47.7,280.2 45.7,279.7 43.7,278.8 41.7,277.8 39.8,277.1 37.8,277.6 35.8,277.8 33.8,278.8 31.8,280.3 29.9,280.5 27.9,279.2 25.9,278.7"/></clipPath>
<g clip-path="url(#dm0)"><rect x="25.9" y="232.2" width="95.0" height="60.6" fill="#3453a2"/><rect x="25.9" y="232.2" width="95.0" height="60.6" filter="url(#bmot)"/><g transform="rotate(-32 72.9 268.2)"><rect x="5.899999999999999" y="232.2" width="135.0" height="60.6" filter="url(#wst)" opacity="0.75"/></g><rect x="25.9" y="232.2" width="95.0" height="60.6" filter="url(#rmot)" opacity="0.25"/></g>
<ellipse cx="37.5" cy="273.2" rx="1.7" ry="5" transform="rotate(25 37.5 273.2)" fill="#7a1a10" opacity="0.9"/>
<ellipse cx="37.8" cy="273.2" rx="0.7" ry="3.2" transform="rotate(25 37.5 273.2)" fill="#f4ecec"/>
<ellipse cx="64.4" cy="269.7" rx="1.7" ry="5" transform="rotate(25 64.4 269.7)" fill="#7a1a10" opacity="0.9"/>
<ellipse cx="64.7" cy="269.7" rx="0.7" ry="3.2" transform="rotate(25 64.4 269.7)" fill="#f4ecec"/>
<ellipse cx="87.5" cy="270.2" rx="1.7" ry="5" transform="rotate(25 87.5 270.2)" fill="#7a1a10" opacity="0.9"/>
<ellipse cx="87.8" cy="270.2" rx="0.7" ry="3.2" transform="rotate(25 87.5 270.2)" fill="#f4ecec"/>
<ellipse cx="113.4" cy="274.2" rx="1.7" ry="5" transform="rotate(25 113.4 274.2)" fill="#7a1a10" opacity="0.9"/>
<ellipse cx="113.7" cy="274.2" rx="0.7" ry="3.2" transform="rotate(25 113.4 274.2)" fill="#f4ecec"/>
<polyline points="25.9,263.2 29.8,261.8 30.6,260.4 32.4,258.4 34.6,263.7 40.2,261.1 41.0,259.7 44.9,256.9 47.1,262.7 52.7,259.6 53.5,258.2 57.4,255.3 59.6,261.7 65.2,259.1 66.0,257.8 69.9,255.2 72.1,263.7 78.1,261.1 78.9,259.7 83.3,257.1 85.5,262.7 90.3,260.6 91.1,259.2 93.9,256.8 96.1,263.7 100.9,262.1 101.7,260.6 104.5,259.1 106.7,263.7 111.0,262.1 111.8,260.6 114.1,258.8 116.3,263.7 120.6,263.1 121.4,261.6 123.7,260.4 125.9,263.2" fill="none" stroke="#8a1c10" stroke-width="2.1" stroke-linejoin="round" filter="url(#bl3)"/>
<line x1="87.9" y1="246.7" x2="87.7" y2="245.6" stroke="#d88070" stroke-width="0.5" stroke-linecap="round" opacity="0.5"/>
<line x1="41.8" y1="246.7" x2="41.7" y2="244.5" stroke="#d88070" stroke-width="0.4" stroke-linecap="round" opacity="0.5"/>
<line x1="111.7" y1="253.9" x2="112.4" y2="251.7" stroke="#c05040" stroke-width="0.5" stroke-linecap="round" opacity="0.5"/>
<line x1="68.9" y1="247.7" x2="69.1" y2="246.1" stroke="#c05040" stroke-width="0.5" stroke-linecap="round" opacity="0.5"/>
<line x1="110.2" y1="246.0" x2="110.3" y2="244.7" stroke="#d88070" stroke-width="0.7" stroke-linecap="round" opacity="0.5"/>
<rect x="77.7" y="260.6" width="1.7" height="15.0" fill="#000"/>
</g>
<g clip-path="url(#cb1)">
<rect x="124.2" y="232.2" width="95.0" height="60.6" fill="#ece6dd"/>
<path d="M123.2,247.2 Q132.2,237.2 144.2,231.2" stroke="#c83a2a" stroke-width="2.0" fill="none"/>
<path d="M125.2,246.7 Q134.2,238.2 145.2,233.2 L150.2,233.2 Q138.2,239.2 130.2,246.2 Z" fill="#f2e4e0"/>
<line x1="162.7" y1="234.8" x2="164.5" y2="235.5" stroke="#d87060" stroke-width="0.5" stroke-linecap="round" opacity="0.8"/>
<line x1="158.5" y1="239.2" x2="160.3" y2="239.2" stroke="#c84030" stroke-width="0.7" stroke-linecap="round" opacity="0.8"/>
<line x1="155.5" y1="235.8" x2="156.2" y2="235.7" stroke="#b02818" stroke-width="0.7" stroke-linecap="round" opacity="0.8"/>
<line x1="156.9" y1="236.5" x2="158.4" y2="236.4" stroke="#c84030" stroke-width="0.5" stroke-linecap="round" opacity="0.8"/>
<line x1="156.7" y1="235.2" x2="158.2" y2="235.4" stroke="#d87060" stroke-width="0.8" stroke-linecap="round" opacity="0.8"/>
<line x1="179.3" y1="237.2" x2="180.4" y2="237.1" stroke="#d87060" stroke-width="0.9" stroke-linecap="round" opacity="0.8"/>
<line x1="154.4" y1="242.1" x2="155.2" y2="241.8" stroke="#c84030" stroke-width="0.7" stroke-linecap="round" opacity="0.8"/>
<line x1="150.8" y1="235.5" x2="152.4" y2="236.2" stroke="#d87060" stroke-width="0.6" stroke-linecap="round" opacity="0.8"/>
<line x1="135.0" y1="234.6" x2="136.5" y2="234.9" stroke="#d87060" stroke-width="0.9" stroke-linecap="round" opacity="0.8"/>
<line x1="162.0" y1="234.9" x2="163.8" y2="234.9" stroke="#c84030" stroke-width="0.8" stroke-linecap="round" opacity="0.8"/>
<line x1="168.8" y1="233.4" x2="169.4" y2="233.1" stroke="#d87060" stroke-width="0.8" stroke-linecap="round" opacity="0.8"/>
<line x1="169.3" y1="237.5" x2="171.0" y2="237.8" stroke="#b02818" stroke-width="0.9" stroke-linecap="round" opacity="0.8"/>
<line x1="175.6" y1="241.2" x2="176.2" y2="241.0" stroke="#c84030" stroke-width="0.9" stroke-linecap="round" opacity="0.8"/>
<line x1="179.5" y1="237.9" x2="181.3" y2="237.4" stroke="#c84030" stroke-width="0.9" stroke-linecap="round" opacity="0.8"/>
<line x1="149.8" y1="233.8" x2="151.1" y2="234.0" stroke="#d87060" stroke-width="0.7" stroke-linecap="round" opacity="0.8"/>
<line x1="142.1" y1="240.1" x2="143.1" y2="239.9" stroke="#c84030" stroke-width="0.6" stroke-linecap="round" opacity="0.8"/>
<line x1="142.3" y1="234.0" x2="144.2" y2="234.7" stroke="#d87060" stroke-width="0.6" stroke-linecap="round" opacity="0.8"/>
<line x1="147.0" y1="243.1" x2="147.7" y2="242.8" stroke="#d87060" stroke-width="0.9" stroke-linecap="round" opacity="0.8"/>
<line x1="156.1" y1="239.1" x2="157.8" y2="238.7" stroke="#d87060" stroke-width="0.7" stroke-linecap="round" opacity="0.8"/>
<line x1="142.3" y1="239.3" x2="143.2" y2="238.9" stroke="#c84030" stroke-width="0.6" stroke-linecap="round" opacity="0.8"/>
<line x1="168.4" y1="242.4" x2="169.4" y2="241.9" stroke="#c84030" stroke-width="0.8" stroke-linecap="round" opacity="0.8"/>
<line x1="143.5" y1="240.0" x2="144.2" y2="239.7" stroke="#c84030" stroke-width="0.7" stroke-linecap="round" opacity="0.8"/>
<polygon points="124.2,246.2 125.2,245.6 126.2,245.2 127.2,244.8 128.2,244.7 129.2,244.8 130.2,245.0 131.2,245.4 132.2,245.4 133.2,244.8 134.2,244.4 135.2,244.2 136.2,244.2 137.2,244.3 138.2,244.7 139.2,245.1 140.2,244.5 141.2,244.0 142.2,243.7 143.2,243.6 144.2,243.7 145.2,244.0 146.2,244.5 147.2,244.5 148.2,244.1 149.2,243.8 150.2,243.6 151.2,243.7 152.2,244.0 153.2,244.4 154.2,244.9 155.2,244.4 156.2,244.0 157.2,243.8 158.2,243.8 159.2,243.9 160.2,244.3 161.2,244.8 162.2,244.8 163.2,244.4 164.2,244.0 165.2,243.9 166.2,244.0 167.2,244.3 168.2,244.7 169.2,245.2 170.2,244.7 171.2,245.1 172.2,245.6 173.2,246.3 174.2,247.2 175.2,247.9 176.2,248.7 177.2,249.1 178.2,249.0 179.2,248.2 180.2,247.5 181.2,247.1 182.2,246.8 183.2,247.0 184.2,247.3 185.2,246.6 186.2,246.0 187.2,245.5 188.2,245.3 189.2,245.2 190.2,245.3 191.2,245.6 192.2,245.4 193.2,244.7 194.2,244.2 195.2,244.0 196.2,244.0 197.2,244.2 198.2,244.6 199.2,245.0 200.2,244.5 201.2,244.1 202.2,243.8 203.2,243.7 204.2,243.8 205.2,244.1 206.2,244.6 207.2,244.5 208.2,244.0 209.2,243.7 210.2,243.6 211.2,243.8 212.2,244.1 213.2,244.6 214.2,245.2 215.2,244.8 216.2,244.5 217.2,244.4 218.2,244.4 219.2,244.7 219.2,292.8 124.2,292.8" fill="#c4301e"/>
<clipPath id="dm1"><polygon points="124.2,253.2 125.2,252.6 126.2,252.2 127.2,251.8 128.2,251.7 129.2,251.8 130.2,252.0 131.2,252.4 132.2,252.4 133.2,251.8 134.2,251.4 135.2,251.2 136.2,251.2 137.2,251.3 138.2,251.7 139.2,252.1 140.2,251.5 141.2,251.0 142.2,250.7 143.2,250.6 144.2,250.7 145.2,251.0 146.2,251.5 147.2,251.5 148.2,251.1 149.2,250.8 150.2,250.6 151.2,250.7 152.2,251.0 153.2,251.4 154.2,251.9 155.2,251.4 156.2,251.0 157.2,250.8 158.2,250.8 159.2,250.9 160.2,251.3 161.2,251.8 162.2,251.8 163.2,251.4 164.2,251.0 165.2,250.9 166.2,251.0 167.2,251.3 168.2,251.7 169.2,252.2 170.2,251.7 171.2,252.1 172.2,252.6 173.2,253.3 174.2,254.2 175.2,254.9 176.2,255.7 177.2,256.1 178.2,256.0 179.2,255.2 180.2,254.5 181.2,254.1 182.2,253.8 183.2,254.0 184.2,254.3 185.2,253.6 186.2,253.0 187.2,252.5 188.2,252.3 189.2,252.2 190.2,252.3 191.2,252.6 192.2,252.4 193.2,251.7 194.2,251.2 195.2,251.0 196.2,251.0 197.2,251.2 198.2,251.6 199.2,252.0 200.2,251.5 201.2,251.1 202.2,250.8 203.2,250.7 204.2,250.8 205.2,251.1 206.2,251.6 207.2,251.5 208.2,251.0 209.2,250.7 210.2,250.6 211.2,250.8 212.2,251.1 213.2,251.6 214.2,252.2 215.2,251.8 216.2,251.5 217.2,251.4 218.2,251.4 219.2,251.7 219.2,292.8 124.2,292.8"/></clipPath>
<g clip-path="url(#dm1)"><rect x="124.2" y="232.2" width="95.0" height="60.6" fill="#2f4ea2"/><rect x="124.2" y="232.2" width="95.0" height="60.6" filter="url(#bmot)"/><rect x="124.2" y="232.2" width="95.0" height="60.6" filter="url(#rst)" opacity="0.85"/><rect x="124.2" y="232.2" width="95.0" height="60.6" filter="url(#rmot)" opacity="0.35"/></g>
<ellipse cx="127.2" cy="253.0" rx="3.6" ry="2.2" fill="#c4301e" opacity="0.9"/>
<ellipse cx="134.7" cy="252.4" rx="3.6" ry="2.2" fill="#c4301e" opacity="0.9"/>
<ellipse cx="142.2" cy="251.9" rx="3.6" ry="2.2" fill="#c4301e" opacity="0.9"/>
<ellipse cx="149.7" cy="251.8" rx="3.6" ry="2.2" fill="#c4301e" opacity="0.9"/>
<ellipse cx="157.2" cy="251.9" rx="3.6" ry="2.2" fill="#c4301e" opacity="0.9"/>
<ellipse cx="164.7" cy="252.1" rx="3.6" ry="2.2" fill="#c4301e" opacity="0.9"/>
<ellipse cx="172.2" cy="253.7" rx="3.6" ry="2.2" fill="#c4301e" opacity="0.9"/>
<ellipse cx="179.7" cy="256.0" rx="3.6" ry="2.2" fill="#c4301e" opacity="0.9"/>
<ellipse cx="187.2" cy="253.7" rx="3.6" ry="2.2" fill="#c4301e" opacity="0.9"/>
<ellipse cx="194.7" cy="252.2" rx="3.6" ry="2.2" fill="#c4301e" opacity="0.9"/>
<ellipse cx="202.2" cy="251.9" rx="3.6" ry="2.2" fill="#c4301e" opacity="0.9"/>
<ellipse cx="209.7" cy="251.7" rx="3.6" ry="2.2" fill="#c4301e" opacity="0.9"/>
<ellipse cx="217.2" cy="252.5" rx="3.6" ry="2.2" fill="#c4301e" opacity="0.9"/>
<polygon points="124.2,250.2 128.2,250.2 131.2,272.2 127.2,282.2 124.2,282.2" fill="#b83028" opacity="0.55"/>
<ellipse cx="188.2" cy="265.2" rx="1.8" ry="3" fill="#c83a2c" opacity="0.9"/>
<ellipse cx="195.2" cy="273.2" rx="1.8" ry="3" fill="#c83a2c" opacity="0.9"/>
<ellipse cx="202.2" cy="261.2" rx="2" ry="3.5" fill="#c83a2c" opacity="0.9"/>
<ellipse cx="208.2" cy="277.2" rx="2" ry="3" fill="#c83a2c" opacity="0.9"/>
<ellipse cx="214.2" cy="266.2" rx="1.8" ry="3.5" fill="#c83a2c" opacity="0.9"/>
<ellipse cx="193.2" cy="283.2" rx="1.8" ry="2.5" fill="#c83a2c" opacity="0.9"/>
<ellipse cx="212.2" cy="284.2" rx="1.8" ry="3" fill="#c83a2c" opacity="0.9"/>
<ellipse cx="199.2" cy="269.2" rx="1.5" ry="2.5" fill="#c83a2c" opacity="0.9"/>
<path d="M124.2,280.2 Q130.2,276.2 136.2,281.2 Q142.2,277.2 150.2,283.2 L152.2,292.8 L124.2,292.8Z" fill="#c4301f"/>
<path d="M150.2,292.8 Q152.2,284.2 158.2,285.7 Q166.2,283.2 174.2,287.2 Q182.2,289.7 190.2,288.7 L190.2,292.8Z" fill="#f2eef0"/>
<path d="M184.2,290.2 Q198.2,285.2 219.2,288.2 L219.2,292.8 L184.2,292.8Z" fill="#c03a30"/>
<path d="M157.2,272.2 L167.2,283.2" stroke="#f4f0f2" stroke-width="1.1"/>
<path d="M162.2,267.2 L168.2,276.2" stroke="#f4f0f2" stroke-width="0.8"/>
<rect x="182.4" y="254.2" width="2.1" height="31.0" fill="#000"/>
</g>
<g clip-path="url(#cb2)">
<rect x="222.1" y="232.2" width="95.0" height="60.6" fill="#ece6dd"/>
<polygon points="222.1,276.7 224.1,277.4 226.1,277.1 228.0,277.5 230.0,277.8 232.0,277.7 234.0,277.4 236.0,277.6 237.9,277.3 239.9,277.4 241.9,276.8 243.9,276.5 245.8,276.7 247.8,276.1 249.8,275.8 251.8,276.3 253.8,276.4 255.7,275.7 257.7,275.8 259.7,276.8 261.7,277.0 263.7,276.8 265.6,276.9 267.6,277.5 269.6,277.9 271.6,277.2 273.6,277.4 275.5,277.5 277.5,276.9 279.5,276.9 281.5,276.4 283.5,276.5 285.4,276.0 287.4,275.7 289.4,275.9 291.4,275.6 293.4,275.5 295.3,275.7 297.3,276.1 299.3,276.2 301.3,276.8 303.2,276.8 305.2,276.8 307.2,277.0 309.2,277.2 311.2,277.7 313.1,277.2 315.1,277.4 317.1,277.6 317.1,292.8 222.1,292.8" fill="#ece8ec"/>
<polygon points="222.1,280.5 224.1,280.4 226.1,281.1 228.0,281.0 230.0,280.7 232.0,280.6 234.0,280.5 236.0,281.0 237.9,280.3 239.9,280.5 241.9,280.3 243.9,280.1 245.8,279.4 247.8,278.9 249.8,279.2 251.8,279.3 253.8,279.9 255.7,280.2 257.7,280.7 259.7,280.8 261.7,281.2 263.7,281.1 265.6,281.0 267.6,281.3 269.6,280.6 271.6,280.9 273.6,280.6 275.5,280.4 277.5,279.4 279.5,279.3 281.5,279.9 283.5,279.0 285.4,279.4 287.4,279.7 289.4,279.8 291.4,280.5 293.4,280.8 295.3,280.5 297.3,280.5 299.3,281.4 301.3,281.0 303.2,280.7 305.2,280.4 307.2,280.0 309.2,280.3 311.2,279.8 313.1,279.8 315.1,280.0 317.1,279.4 317.1,292.8 222.1,292.8" fill="#cc3a30"/>
<line x1="312.3" y1="280.8" x2="313.1" y2="286.8" stroke="#f0dcd8" stroke-width="0.3" stroke-linecap="round" opacity="0.8"/>
<line x1="269.2" y1="286.0" x2="271.2" y2="291.1" stroke="#f0dcd8" stroke-width="0.3" stroke-linecap="round" opacity="0.8"/>
<line x1="287.0" y1="288.8" x2="289.0" y2="292.0" stroke="#f0dcd8" stroke-width="0.5" stroke-linecap="round" opacity="0.8"/>
<line x1="287.5" y1="281.3" x2="288.8" y2="287.4" stroke="#f0dcd8" stroke-width="0.5" stroke-linecap="round" opacity="0.8"/>
<line x1="288.3" y1="289.3" x2="289.3" y2="293.8" stroke="#f0dcd8" stroke-width="0.3" stroke-linecap="round" opacity="0.8"/>
<line x1="254.4" y1="285.5" x2="254.1" y2="289.9" stroke="#f0dcd8" stroke-width="0.4" stroke-linecap="round" opacity="0.8"/>
<line x1="285.6" y1="285.4" x2="286.2" y2="288.5" stroke="#f0dcd8" stroke-width="0.4" stroke-linecap="round" opacity="0.8"/>
<line x1="287.6" y1="282.5" x2="288.2" y2="285.6" stroke="#f0dcd8" stroke-width="0.3" stroke-linecap="round" opacity="0.8"/>
<line x1="265.3" y1="289.6" x2="264.8" y2="295.9" stroke="#f0dcd8" stroke-width="0.3" stroke-linecap="round" opacity="0.8"/>
<line x1="266.0" y1="289.2" x2="267.8" y2="293.4" stroke="#f0dcd8" stroke-width="0.5" stroke-linecap="round" opacity="0.8"/>
<line x1="313.9" y1="290.0" x2="316.8" y2="294.7" stroke="#f0dcd8" stroke-width="0.5" stroke-linecap="round" opacity="0.8"/>
<line x1="292.8" y1="288.2" x2="292.7" y2="293.9" stroke="#f0dcd8" stroke-width="0.5" stroke-linecap="round" opacity="0.8"/>
<line x1="248.9" y1="280.8" x2="249.2" y2="287.2" stroke="#f0dcd8" stroke-width="0.4" stroke-linecap="round" opacity="0.8"/>
<line x1="270.7" y1="283.4" x2="271.2" y2="286.7" stroke="#f0dcd8" stroke-width="0.4" stroke-linecap="round" opacity="0.8"/>
<line x1="275.9" y1="286.0" x2="281.5" y2="285.6" stroke="#a02820" stroke-width="1.4" stroke-linecap="round" opacity="0.7"/>
<line x1="261.4" y1="291.7" x2="266.3" y2="292.4" stroke="#a02820" stroke-width="1.2" stroke-linecap="round" opacity="0.7"/>
<line x1="266.1" y1="288.3" x2="271.3" y2="287.9" stroke="#d84a3a" stroke-width="1.1" stroke-linecap="round" opacity="0.7"/>
<line x1="310.3" y1="284.4" x2="313.4" y2="286.5" stroke="#a02820" stroke-width="1.1" stroke-linecap="round" opacity="0.7"/>
<line x1="291.4" y1="287.0" x2="293.5" y2="289.0" stroke="#a02820" stroke-width="1.3" stroke-linecap="round" opacity="0.7"/>
<line x1="290.8" y1="285.0" x2="293.5" y2="287.0" stroke="#a02820" stroke-width="1.2" stroke-linecap="round" opacity="0.7"/>
<line x1="237.5" y1="286.3" x2="243.2" y2="287.5" stroke="#a02820" stroke-width="1.1" stroke-linecap="round" opacity="0.7"/>
<line x1="227.7" y1="286.9" x2="232.2" y2="289.6" stroke="#a02820" stroke-width="1.4" stroke-linecap="round" opacity="0.7"/>
<line x1="257.5" y1="286.5" x2="259.1" y2="288.0" stroke="#a02820" stroke-width="1.2" stroke-linecap="round" opacity="0.7"/>
<line x1="253.0" y1="288.7" x2="257.1" y2="289.6" stroke="#d84a3a" stroke-width="1.2" stroke-linecap="round" opacity="0.7"/>
<line x1="230.0" y1="291.8" x2="233.0" y2="292.1" stroke="#d84a3a" stroke-width="0.9" stroke-linecap="round" opacity="0.7"/>
<line x1="309.0" y1="286.7" x2="313.6" y2="287.0" stroke="#a02820" stroke-width="1.1" stroke-linecap="round" opacity="0.7"/>
<line x1="255.0" y1="291.3" x2="257.9" y2="292.4" stroke="#d84a3a" stroke-width="1.1" stroke-linecap="round" opacity="0.7"/>
<line x1="301.6" y1="287.5" x2="303.2" y2="288.7" stroke="#d84a3a" stroke-width="0.9" stroke-linecap="round" opacity="0.7"/>
<line x1="314.1" y1="290.8" x2="318.7" y2="292.9" stroke="#a02820" stroke-width="1.3" stroke-linecap="round" opacity="0.7"/>
<line x1="307.3" y1="282.5" x2="312.1" y2="284.0" stroke="#a02820" stroke-width="1.1" stroke-linecap="round" opacity="0.7"/>
<line x1="235.3" y1="288.2" x2="239.3" y2="290.0" stroke="#d84a3a" stroke-width="1.1" stroke-linecap="round" opacity="0.7"/>
<line x1="305.8" y1="288.1" x2="308.0" y2="289.7" stroke="#a02820" stroke-width="1.3" stroke-linecap="round" opacity="0.7"/>
<line x1="259.5" y1="288.6" x2="263.7" y2="291.0" stroke="#a02820" stroke-width="1.1" stroke-linecap="round" opacity="0.7"/>
<line x1="256.0" y1="290.4" x2="259.4" y2="290.5" stroke="#a02820" stroke-width="1.3" stroke-linecap="round" opacity="0.7"/>
<polygon points="222.1,253.8 224.1,253.6 226.1,252.3 228.1,252.2 230.1,251.3 232.1,250.5 234.1,250.2 236.1,249.6 238.1,248.7 240.1,249.3 242.1,249.5 244.1,249.5 246.1,250.0 248.1,249.8 250.1,249.5 252.1,249.4 254.1,251.3 256.1,254.1 258.1,255.9 260.1,257.8 262.1,258.0 264.1,258.5 266.1,258.5 268.1,259.2 270.1,258.1 272.1,257.9 274.1,257.2 276.1,257.0 278.1,256.7 280.1,256.7 282.1,256.0 284.1,255.4 286.1,254.2 288.1,253.5 290.1,252.4 292.1,251.6 294.1,251.5 296.1,250.2 298.1,250.0 300.1,250.2 302.1,250.0 304.1,249.5 306.1,249.4 308.1,249.2 310.1,249.6 312.1,249.9 314.1,249.9 316.1,249.8 317.1,277.6 315.1,277.4 313.1,277.2 311.2,277.7 309.2,277.2 307.2,277.0 305.2,276.8 303.2,276.8 301.3,276.8 299.3,276.2 297.3,276.1 295.3,275.7 293.4,275.5 291.4,275.6 289.4,275.9 287.4,275.7 285.4,276.0 283.5,276.5 281.5,276.4 279.5,276.9 277.5,276.9 275.5,277.5 273.6,277.4 271.6,277.2 269.6,277.9 267.6,277.5 265.6,276.9 263.7,276.8 261.7,277.0 259.7,276.8 257.7,275.8 255.7,275.7 253.8,276.4 251.8,276.3 249.8,275.8 247.8,276.1 245.8,276.7 243.9,276.5 241.9,276.8 239.9,277.4 237.9,277.3 236.0,277.6 234.0,277.4 232.0,277.7 230.0,277.8 228.0,277.5 226.1,277.1 224.1,277.4 222.1,276.7" fill="#c23a2a"/>
<clipPath id="dm2"><polygon points="222.1,256.8 224.1,256.6 226.1,255.3 228.1,255.2 230.1,254.3 232.1,253.5 234.1,253.2 236.1,252.6 238.1,251.7 240.1,252.3 242.1,252.5 244.1,252.5 246.1,253.0 248.1,252.8 250.1,252.5 252.1,252.4 254.1,254.3 256.1,257.1 258.1,258.9 260.1,260.8 262.1,261.0 264.1,261.5 266.1,261.5 268.1,262.2 270.1,261.1 272.1,260.9 274.1,260.2 276.1,260.0 278.1,259.7 280.1,259.7 282.1,259.0 284.1,258.4 286.1,257.2 288.1,256.5 290.1,255.4 292.1,254.6 294.1,254.5 296.1,253.2 298.1,253.0 300.1,253.2 302.1,253.0 304.1,252.5 306.1,252.4 308.1,252.2 310.1,252.6 312.1,252.9 314.1,252.9 316.1,252.8 317.1,277.6 315.1,277.4 313.1,277.2 311.2,277.7 309.2,277.2 307.2,277.0 305.2,276.8 303.2,276.8 301.3,276.8 299.3,276.2 297.3,276.1 295.3,275.7 293.4,275.5 291.4,275.6 289.4,275.9 287.4,275.7 285.4,276.0 283.5,276.5 281.5,276.4 279.5,276.9 277.5,276.9 275.5,277.5 273.6,277.4 271.6,277.2 269.6,277.9 267.6,277.5 265.6,276.9 263.7,276.8 261.7,277.0 259.7,276.8 257.7,275.8 255.7,275.7 253.8,276.4 251.8,276.3 249.8,275.8 247.8,276.1 245.8,276.7 243.9,276.5 241.9,276.8 239.9,277.4 237.9,277.3 236.0,277.6 234.0,277.4 232.0,277.7 230.0,277.8 228.0,277.5 226.1,277.1 224.1,277.4 222.1,276.7"/></clipPath>
<g clip-path="url(#dm2)"><rect x="222.1" y="232.2" width="95.0" height="60.6" fill="#5068b0"/><rect x="222.1" y="232.2" width="95.0" height="60.6" filter="url(#bmot)"/><g transform="rotate(-20 269.1 268.2)"><rect x="202.1" y="222.2" width="135.0" height="80.6" filter="url(#wst)" opacity="0.6"/></g><rect x="222.1" y="232.2" width="95.0" height="60.6" filter="url(#rmot)" opacity="0.4"/></g>
<line x1="311.2" y1="271.4" x2="315.4" y2="270.7" stroke="#f0e8ec" stroke-width="0.7" stroke-linecap="round" opacity="0.8"/>
<line x1="230.1" y1="273.3" x2="233.5" y2="272.4" stroke="#f0e8ec" stroke-width="0.7" stroke-linecap="round" opacity="0.8"/>
<line x1="290.9" y1="271.8" x2="294.3" y2="272.3" stroke="#c85060" stroke-width="0.8" stroke-linecap="round" opacity="0.8"/>
<line x1="279.2" y1="271.2" x2="282.4" y2="270.7" stroke="#f0e8ec" stroke-width="0.8" stroke-linecap="round" opacity="0.8"/>
<line x1="302.1" y1="274.0" x2="306.4" y2="275.5" stroke="#c85060" stroke-width="1.0" stroke-linecap="round" opacity="0.8"/>
<line x1="286.6" y1="276.3" x2="289.6" y2="275.2" stroke="#f0e8ec" stroke-width="0.7" stroke-linecap="round" opacity="0.8"/>
<line x1="252.2" y1="274.0" x2="256.3" y2="275.2" stroke="#c85060" stroke-width="0.8" stroke-linecap="round" opacity="0.8"/>
<line x1="241.3" y1="276.5" x2="243.9" y2="276.6" stroke="#c85060" stroke-width="0.9" stroke-linecap="round" opacity="0.8"/>
<line x1="275.8" y1="277.3" x2="280.7" y2="276.7" stroke="#c85060" stroke-width="0.9" stroke-linecap="round" opacity="0.8"/>
<line x1="265.3" y1="274.2" x2="269.9" y2="275.4" stroke="#c85060" stroke-width="0.5" stroke-linecap="round" opacity="0.8"/>
<line x1="308.8" y1="273.6" x2="311.4" y2="273.5" stroke="#e0c0c8" stroke-width="0.7" stroke-linecap="round" opacity="0.8"/>
<line x1="257.2" y1="273.0" x2="260.0" y2="271.9" stroke="#c85060" stroke-width="0.6" stroke-linecap="round" opacity="0.8"/>
<line x1="265.6" y1="277.5" x2="270.0" y2="275.9" stroke="#f0e8ec" stroke-width="0.9" stroke-linecap="round" opacity="0.8"/>
<line x1="266.6" y1="277.4" x2="269.3" y2="277.5" stroke="#f0e8ec" stroke-width="0.5" stroke-linecap="round" opacity="0.8"/>
<line x1="296.8" y1="274.2" x2="299.1" y2="275.2" stroke="#c85060" stroke-width="0.6" stroke-linecap="round" opacity="0.8"/>
<line x1="291.9" y1="273.8" x2="296.3" y2="274.5" stroke="#c85060" stroke-width="0.6" stroke-linecap="round" opacity="0.8"/>
<line x1="313.4" y1="270.9" x2="316.8" y2="272.5" stroke="#e0c0c8" stroke-width="0.6" stroke-linecap="round" opacity="0.8"/>
<line x1="260.1" y1="274.6" x2="264.7" y2="275.2" stroke="#e0c0c8" stroke-width="0.9" stroke-linecap="round" opacity="0.8"/>
<line x1="246.8" y1="271.4" x2="251.0" y2="270.4" stroke="#f0e8ec" stroke-width="0.9" stroke-linecap="round" opacity="0.8"/>
<line x1="240.4" y1="274.6" x2="244.0" y2="275.1" stroke="#e0c0c8" stroke-width="0.8" stroke-linecap="round" opacity="0.8"/>
<line x1="237.2" y1="273.8" x2="239.7" y2="273.5" stroke="#f0e8ec" stroke-width="1.0" stroke-linecap="round" opacity="0.8"/>
<line x1="243.0" y1="276.3" x2="245.1" y2="276.8" stroke="#c85060" stroke-width="0.9" stroke-linecap="round" opacity="0.8"/>
<line x1="281.0" y1="270.6" x2="285.9" y2="270.2" stroke="#f0e8ec" stroke-width="0.6" stroke-linecap="round" opacity="0.8"/>
<line x1="297.5" y1="276.5" x2="301.6" y2="277.6" stroke="#c85060" stroke-width="0.5" stroke-linecap="round" opacity="0.8"/>
<line x1="289.8" y1="274.3" x2="292.5" y2="275.4" stroke="#f0e8ec" stroke-width="1.0" stroke-linecap="round" opacity="0.8"/>
<line x1="294.2" y1="277.2" x2="298.7" y2="276.2" stroke="#e0c0c8" stroke-width="0.9" stroke-linecap="round" opacity="0.8"/>
<line x1="240.6" y1="272.8" x2="245.5" y2="273.8" stroke="#e0c0c8" stroke-width="0.7" stroke-linecap="round" opacity="0.8"/>
<line x1="287.5" y1="276.6" x2="289.6" y2="276.3" stroke="#f0e8ec" stroke-width="0.7" stroke-linecap="round" opacity="0.8"/>
<line x1="304.3" y1="276.8" x2="307.0" y2="276.6" stroke="#e0c0c8" stroke-width="0.9" stroke-linecap="round" opacity="0.8"/>
<line x1="277.9" y1="275.2" x2="280.5" y2="275.3" stroke="#f0e8ec" stroke-width="0.7" stroke-linecap="round" opacity="0.8"/>
<ellipse cx="236.1" cy="268.2" rx="1.6" ry="4" transform="rotate(0 236.1 268.2)" fill="#b0302a"/>
<ellipse cx="256.1" cy="266.2" rx="1.5" ry="3.5" transform="rotate(10 256.1 266.2)" fill="#b0302a"/>
<ellipse cx="284.1" cy="260.2" rx="2.5" ry="3" transform="rotate(0 284.1 260.2)" fill="#b0302a"/>
<ellipse cx="290.1" cy="264.2" rx="2.5" ry="3" transform="rotate(30 290.1 264.2)" fill="#b0302a"/>
<ellipse cx="226.1" cy="270.2" rx="1.5" ry="3" transform="rotate(0 226.1 270.2)" fill="#b0302a"/>
<ellipse cx="296.1" cy="260.2" rx="2" ry="3" fill="#4a1010"/>
<line x1="272.7" y1="239.7" x2="273.2" y2="238.7" stroke="#d87060" stroke-width="0.8" stroke-linecap="round" opacity="0.6"/>
<line x1="228.1" y1="247.7" x2="228.5" y2="246.3" stroke="#d87060" stroke-width="0.5" stroke-linecap="round" opacity="0.6"/>
<line x1="257.6" y1="238.5" x2="258.6" y2="237.4" stroke="#d87060" stroke-width="0.9" stroke-linecap="round" opacity="0.6"/>
<line x1="249.2" y1="240.1" x2="249.7" y2="238.7" stroke="#d87060" stroke-width="0.7" stroke-linecap="round" opacity="0.6"/>
<line x1="282.6" y1="250.5" x2="282.7" y2="249.6" stroke="#c04030" stroke-width="0.7" stroke-linecap="round" opacity="0.6"/>
<rect x="270.7" y="261.7" width="1.9" height="16.3" fill="#000"/>
</g>
<g clip-path="url(#cb3)">
<rect x="319.8" y="232.2" width="95.0" height="60.6" fill="#ece6dd"/>
<polygon points="319.8,277.2 327.8,276.2 333.8,278.2 341.8,275.2 349.8,277.2 357.8,273.2 365.8,272.2 371.8,274.2 379.8,272.2 389.8,274.2 397.8,273.2 405.8,275.2 414.8,274.2 414.8,292.8 319.8,292.8" fill="#b82c24"/>
<polyline points="319.8,278.8 327.8,277.8 333.8,279.8 341.8,276.8 349.8,278.8 357.8,274.8 365.8,273.8 371.8,275.8 379.8,273.8 389.8,275.8 397.8,274.8 405.8,276.8 414.8,275.8" fill="none" stroke="#f4eeee" stroke-width="1.4"/>
<polyline points="319.8,281.7 327.8,283.2 333.8,282.7 341.8,282.2 349.8,281.7 357.8,280.2 365.8,276.7 371.8,281.2 379.8,276.7 389.8,281.2 397.8,277.7 405.8,282.2 414.8,278.7" fill="none" stroke="#f4eeee" stroke-width="1.0"/>
<line x1="314.8" y1="292.8" x2="328.8" y2="282.2" stroke="#f4eeee" stroke-width="0.9"/>
<line x1="331.8" y1="292.8" x2="345.8" y2="282.2" stroke="#f4eeee" stroke-width="0.9"/>
<line x1="348.8" y1="292.8" x2="362.8" y2="282.2" stroke="#f4eeee" stroke-width="0.9"/>
<line x1="365.8" y1="292.8" x2="379.8" y2="282.2" stroke="#f4eeee" stroke-width="0.9"/>
<line x1="382.8" y1="292.8" x2="396.8" y2="282.2" stroke="#f4eeee" stroke-width="0.9"/>
<line x1="399.8" y1="292.8" x2="413.8" y2="282.2" stroke="#f4eeee" stroke-width="0.9"/>
<clipPath id="dm3"><polygon points="319.8,255.0 321.8,254.5 323.8,255.2 325.8,255.6 327.8,255.7 329.8,256.5 331.8,258.4 333.8,258.3 335.8,259.5 337.8,261.1 339.8,261.8 341.8,261.4 343.8,262.2 345.8,263.3 347.8,264.6 349.8,263.6 351.8,264.3 353.8,263.9 355.8,263.9 357.8,264.4 359.8,263.7 361.8,263.6 363.8,263.6 365.8,263.1 367.8,261.9 369.8,261.8 371.8,260.8 373.8,260.7 375.8,259.3 377.8,259.0 379.8,258.8 381.8,259.0 383.8,258.1 385.8,257.5 387.8,256.7 389.8,256.4 391.8,256.1 393.8,257.3 395.8,257.0 397.8,256.9 399.8,256.2 401.8,256.7 403.8,256.3 405.8,256.8 407.8,256.4 409.8,257.1 411.8,257.2 413.8,257.4 414.8,274.2 405.8,275.2 397.8,273.2 389.8,274.2 379.8,272.2 371.8,274.2 365.8,272.2 357.8,273.2 349.8,277.2 341.8,275.2 333.8,278.2 327.8,276.2 319.8,277.2"/></clipPath>
<g clip-path="url(#dm3)"><rect x="319.8" y="232.2" width="95.0" height="60.6" fill="#3456a6"/><rect x="319.8" y="232.2" width="95.0" height="60.6" filter="url(#bmot)"/><rect x="319.8" y="232.2" width="95.0" height="60.6" filter="url(#rmot)" opacity="0.25"/></g>
<polygon points="317.6,255.7 317.4,246.4 322.0,257.2 324.5,264.7 320.8,264.7" fill="#a2241a" opacity="0.85"/>
<polygon points="320.7,256.2 321.3,249.0 325.5,257.7 328.0,265.2 324.1,265.2" fill="#a2241a" opacity="0.85"/>
<polygon points="324.3,257.0 325.1,248.6 328.5,258.5 331.0,266.0 327.4,266.0" fill="#a2241a" opacity="0.85"/>
<line x1="325.6" y1="250.6" x2="328.4" y2="263.0" stroke="#f2dcd6" stroke-width="0.7" opacity="0.8"/>
<polygon points="327.8,258.6 328.1,250.3 331.6,260.1 334.1,267.6 330.7,267.6" fill="#a2241a" opacity="0.85"/>
<polygon points="331.4,260.1 331.6,252.0 334.6,261.6 337.1,269.1 334.0,269.1" fill="#a2241a" opacity="0.85"/>
<line x1="332.2" y1="254.0" x2="335.0" y2="266.1" stroke="#f2dcd6" stroke-width="0.7" opacity="0.8"/>
<polygon points="334.0,261.4 334.8,254.3 338.6,262.9 341.1,270.4 337.3,270.4" fill="#a2241a" opacity="0.85"/>
<line x1="335.4" y1="256.3" x2="338.3" y2="267.4" stroke="#f2dcd6" stroke-width="0.7" opacity="0.8"/>
<polygon points="337.9,262.6 338.0,254.2 341.3,264.1 343.8,271.6 340.6,271.6" fill="#a2241a" opacity="0.85"/>
<line x1="338.7" y1="256.2" x2="341.6" y2="268.6" stroke="#f2dcd6" stroke-width="0.7" opacity="0.8"/>
<polygon points="341.1,264.0 341.4,255.5 344.7,265.5 347.2,273.0 343.9,273.0" fill="#a2241a" opacity="0.85"/>
<line x1="342.0" y1="257.5" x2="344.9" y2="270.0" stroke="#f2dcd6" stroke-width="0.7" opacity="0.8"/>
<polygon points="344.1,265.3 344.5,257.4 348.3,266.8 350.8,274.3 347.2,274.3" fill="#a2241a" opacity="0.85"/>
<line x1="345.2" y1="259.4" x2="348.2" y2="271.3" stroke="#f2dcd6" stroke-width="0.7" opacity="0.8"/>
<polygon points="347.5,265.8 348.3,257.1 351.5,267.3 354.0,274.8 350.5,274.8" fill="#a2241a" opacity="0.85"/>
<polygon points="351.1,266.1 351.7,258.4 354.5,267.6 357.0,275.1 353.8,275.1" fill="#a2241a" opacity="0.85"/>
<line x1="352.1" y1="260.4" x2="354.8" y2="272.1" stroke="#f2dcd6" stroke-width="0.7" opacity="0.8"/>
<polygon points="354.0,265.9 353.6,256.9 358.2,267.4 360.7,274.9 357.1,274.9" fill="#a2241a" opacity="0.85"/>
<polygon points="357.6,265.7 357.9,256.4 361.2,267.2 363.7,274.7 360.4,274.7" fill="#a2241a" opacity="0.85"/>
<line x1="358.5" y1="258.4" x2="361.4" y2="271.7" stroke="#f2dcd6" stroke-width="0.7" opacity="0.8"/>
<polygon points="361.2,265.0 360.3,256.4 364.2,266.5 366.7,274.0 363.7,274.0" fill="#a2241a" opacity="0.85"/>
<polygon points="364.1,264.1 363.7,255.6 367.9,265.6 370.4,273.1 367.0,273.1" fill="#a2241a" opacity="0.85"/>
<line x1="364.6" y1="257.6" x2="368.0" y2="270.1" stroke="#f2dcd6" stroke-width="0.7" opacity="0.8"/>
<polygon points="367.1,263.0 367.2,253.9 371.5,264.5 374.0,272.0 370.3,272.0" fill="#a2241a" opacity="0.85"/>
<polygon points="370.6,262.0 370.5,254.2 374.6,263.5 377.1,271.0 373.6,271.0" fill="#a2241a" opacity="0.85"/>
<line x1="371.3" y1="256.2" x2="374.6" y2="268.0" stroke="#f2dcd6" stroke-width="0.7" opacity="0.8"/>
<polygon points="373.7,261.2 373.9,252.7 378.1,262.7 380.6,270.2 376.9,270.2" fill="#a2241a" opacity="0.85"/>
<line x1="374.7" y1="254.7" x2="377.9" y2="267.2" stroke="#f2dcd6" stroke-width="0.7" opacity="0.8"/>
<polygon points="376.9,260.4 377.9,253.0 381.5,261.9 384.0,269.4 380.2,269.4" fill="#a2241a" opacity="0.85"/>
<polygon points="380.2,259.7 381.3,251.3 384.8,261.2 387.3,268.7 383.5,268.7" fill="#a2241a" opacity="0.85"/>
<line x1="381.8" y1="253.3" x2="384.5" y2="265.7" stroke="#f2dcd6" stroke-width="0.7" opacity="0.8"/>
<polygon points="384.0,259.0 383.3,250.8 387.6,260.5 390.1,268.0 386.8,268.0" fill="#a2241a" opacity="0.85"/>
<line x1="384.3" y1="252.8" x2="387.8" y2="265.0" stroke="#f2dcd6" stroke-width="0.7" opacity="0.8"/>
<polygon points="386.8,258.3 387.6,250.2 391.4,259.8 393.9,267.3 390.1,267.3" fill="#a2241a" opacity="0.85"/>
<line x1="388.2" y1="252.2" x2="391.1" y2="264.3" stroke="#f2dcd6" stroke-width="0.7" opacity="0.8"/>
<polygon points="390.2,258.1 391.4,251.0 394.6,259.6 397.1,267.1 393.4,267.1" fill="#a2241a" opacity="0.85"/>
<polygon points="393.4,257.9 393.3,250.6 398.0,259.4 400.5,266.9 396.7,266.9" fill="#a2241a" opacity="0.85"/>
<line x1="394.2" y1="252.6" x2="397.7" y2="263.9" stroke="#f2dcd6" stroke-width="0.7" opacity="0.8"/>
<polygon points="396.8,257.7 397.7,248.6 401.2,259.2 403.7,266.7 400.0,266.7" fill="#a2241a" opacity="0.85"/>
<polygon points="400.4,257.9 400.2,250.3 404.2,259.4 406.7,266.9 403.3,266.9" fill="#a2241a" opacity="0.85"/>
<polygon points="403.6,258.3 404.2,249.3 407.6,259.8 410.1,267.3 406.6,267.3" fill="#a2241a" opacity="0.85"/>
<line x1="404.8" y1="251.3" x2="407.6" y2="264.3" stroke="#f2dcd6" stroke-width="0.7" opacity="0.8"/>
<polygon points="406.8,258.6 407.4,251.1 411.0,260.1 413.5,267.6 409.9,267.6" fill="#a2241a" opacity="0.85"/>
<line x1="408.0" y1="253.1" x2="410.9" y2="264.6" stroke="#f2dcd6" stroke-width="0.7" opacity="0.8"/>
<polygon points="409.9,259.2 411.2,250.4 414.5,260.7 417.0,268.2 413.2,268.2" fill="#a2241a" opacity="0.85"/>
<line x1="411.6" y1="252.4" x2="414.2" y2="265.2" stroke="#f2dcd6" stroke-width="0.7" opacity="0.8"/>
<polygon points="413.4,259.7 413.9,252.0 417.6,261.2 420.1,268.7 416.5,268.7" fill="#a2241a" opacity="0.85"/>
<line x1="414.6" y1="254.0" x2="417.5" y2="265.7" stroke="#f2dcd6" stroke-width="0.7" opacity="0.8"/>
<ellipse cx="328.8" cy="272.2" rx="1.3" ry="5" transform="rotate(-30 328.8 272.2)" fill="#c04038" opacity="0.8"/>
<ellipse cx="339.8" cy="273.2" rx="1.3" ry="5" transform="rotate(-30 339.8 273.2)" fill="#c04038" opacity="0.8"/>
<ellipse cx="359.8" cy="274.2" rx="1.3" ry="5" transform="rotate(-30 359.8 274.2)" fill="#c04038" opacity="0.8"/>
<ellipse cx="379.8" cy="269.2" rx="1.3" ry="5" transform="rotate(-30 379.8 269.2)" fill="#c04038" opacity="0.8"/>
<ellipse cx="403.8" cy="270.2" rx="1.3" ry="5" transform="rotate(-30 403.8 270.2)" fill="#c04038" opacity="0.8"/>
<line x1="408.1" y1="243.5" x2="408.3" y2="241.8" stroke="#d87060" stroke-width="0.7" stroke-linecap="round" opacity="0.6"/>
<line x1="332.4" y1="239.5" x2="332.7" y2="237.8" stroke="#c04030" stroke-width="0.6" stroke-linecap="round" opacity="0.6"/>
<line x1="353.6" y1="242.0" x2="353.8" y2="240.9" stroke="#d87060" stroke-width="0.8" stroke-linecap="round" opacity="0.6"/>
<line x1="398.0" y1="249.5" x2="398.7" y2="248.8" stroke="#d87060" stroke-width="0.8" stroke-linecap="round" opacity="0.6"/>
<line x1="345.6" y1="244.9" x2="346.2" y2="243.2" stroke="#d87060" stroke-width="0.6" stroke-linecap="round" opacity="0.6"/>
<rect x="367.5" y="258.8" width="1.9" height="17.4" fill="#000"/>
</g>
<g clip-path="url(#cb4)">
<rect x="418.0" y="232.2" width="95.0" height="60.6" fill="#ece6dd"/>
<polygon points="418.0,281.2 420.0,281.3 422.0,281.5 423.9,282.0 425.9,281.6 427.9,282.0 429.9,282.0 431.9,281.7 433.8,280.8 435.8,280.7 437.8,280.9 439.8,280.3 441.8,280.9 443.7,280.3 445.7,281.2 447.7,280.7 449.7,281.6 451.6,282.1 453.6,282.0 455.6,282.1 457.6,282.3 459.6,282.2 461.5,281.1 463.5,281.1 465.5,280.3 467.5,280.4 469.5,280.1 471.4,280.1 473.4,280.7 475.4,280.4 477.4,280.7 479.4,280.9 481.3,282.0 483.3,281.7 485.3,281.6 487.3,282.1 489.2,282.0 491.2,281.6 493.2,281.2 495.2,280.9 497.2,280.8 499.1,280.2 501.1,280.7 503.1,280.7 505.1,281.1 507.1,281.4 509.0,281.7 511.0,281.7 513.0,281.9 513.0,292.8 418.0,292.8" fill="#c0342c"/>
<line x1="487.7" y1="287.2" x2="487.7" y2="290.3" stroke="#f0e0dc" stroke-width="0.6" stroke-linecap="round" opacity="0.8"/>
<line x1="500.6" y1="282.7" x2="502.7" y2="286.1" stroke="#f0e0dc" stroke-width="0.6" stroke-linecap="round" opacity="0.8"/>
<line x1="476.3" y1="283.2" x2="476.0" y2="289.1" stroke="#f0e0dc" stroke-width="0.6" stroke-linecap="round" opacity="0.8"/>
<line x1="417.9" y1="288.2" x2="420.3" y2="291.4" stroke="#f0e0dc" stroke-width="0.5" stroke-linecap="round" opacity="0.8"/>
<line x1="440.6" y1="281.4" x2="440.9" y2="288.6" stroke="#f0e0dc" stroke-width="0.6" stroke-linecap="round" opacity="0.8"/>
<line x1="476.3" y1="283.8" x2="478.5" y2="290.0" stroke="#f0e0dc" stroke-width="0.5" stroke-linecap="round" opacity="0.8"/>
<line x1="483.5" y1="280.1" x2="487.2" y2="286.4" stroke="#f0e0dc" stroke-width="0.5" stroke-linecap="round" opacity="0.8"/>
<line x1="469.1" y1="289.8" x2="471.4" y2="294.8" stroke="#f0e0dc" stroke-width="0.7" stroke-linecap="round" opacity="0.8"/>
<line x1="474.5" y1="290.0" x2="478.0" y2="293.9" stroke="#f0e0dc" stroke-width="0.5" stroke-linecap="round" opacity="0.8"/>
<line x1="421.9" y1="286.9" x2="421.7" y2="290.6" stroke="#f0e0dc" stroke-width="0.5" stroke-linecap="round" opacity="0.8"/>
<line x1="458.5" y1="281.1" x2="458.6" y2="285.9" stroke="#f0e0dc" stroke-width="0.6" stroke-linecap="round" opacity="0.8"/>
<line x1="433.3" y1="286.1" x2="433.9" y2="289.7" stroke="#f0e0dc" stroke-width="0.6" stroke-linecap="round" opacity="0.8"/>
<line x1="418.0" y1="286.9" x2="420.3" y2="287.9" stroke="#d84a3a" stroke-width="0.9" stroke-linecap="round" opacity="0.7"/>
<line x1="438.2" y1="289.9" x2="443.6" y2="289.8" stroke="#d84a3a" stroke-width="1.3" stroke-linecap="round" opacity="0.7"/>
<line x1="460.4" y1="291.2" x2="465.2" y2="292.1" stroke="#9c2620" stroke-width="1.2" stroke-linecap="round" opacity="0.7"/>
<line x1="438.9" y1="288.3" x2="441.5" y2="289.0" stroke="#9c2620" stroke-width="1.2" stroke-linecap="round" opacity="0.7"/>
<line x1="455.6" y1="287.6" x2="460.6" y2="290.0" stroke="#9c2620" stroke-width="1.3" stroke-linecap="round" opacity="0.7"/>
<line x1="425.9" y1="287.4" x2="429.0" y2="289.0" stroke="#9c2620" stroke-width="0.9" stroke-linecap="round" opacity="0.7"/>
<line x1="419.9" y1="291.7" x2="422.3" y2="292.6" stroke="#9c2620" stroke-width="1.3" stroke-linecap="round" opacity="0.7"/>
<line x1="481.0" y1="287.3" x2="483.8" y2="288.0" stroke="#d84a3a" stroke-width="0.9" stroke-linecap="round" opacity="0.7"/>
<line x1="503.9" y1="285.3" x2="508.8" y2="286.7" stroke="#9c2620" stroke-width="1.1" stroke-linecap="round" opacity="0.7"/>
<line x1="474.2" y1="284.9" x2="477.6" y2="286.2" stroke="#9c2620" stroke-width="1.1" stroke-linecap="round" opacity="0.7"/>
<line x1="509.3" y1="283.7" x2="513.1" y2="285.0" stroke="#d84a3a" stroke-width="1.0" stroke-linecap="round" opacity="0.7"/>
<line x1="480.7" y1="285.6" x2="485.3" y2="287.0" stroke="#d84a3a" stroke-width="1.2" stroke-linecap="round" opacity="0.7"/>
<line x1="472.5" y1="290.1" x2="475.9" y2="291.2" stroke="#9c2620" stroke-width="1.0" stroke-linecap="round" opacity="0.7"/>
<line x1="506.1" y1="290.8" x2="511.2" y2="291.9" stroke="#9c2620" stroke-width="1.2" stroke-linecap="round" opacity="0.7"/>
<line x1="444.9" y1="288.1" x2="449.1" y2="287.7" stroke="#d84a3a" stroke-width="1.1" stroke-linecap="round" opacity="0.7"/>
<line x1="490.0" y1="290.5" x2="495.7" y2="290.4" stroke="#d84a3a" stroke-width="0.8" stroke-linecap="round" opacity="0.7"/>
<clipPath id="dm4"><polygon points="418.0,260.9 420.2,258.7 422.5,260.5 424.7,258.1 427.0,260.0 429.2,257.5 431.5,259.7 433.7,256.6 436.0,259.5 438.2,256.5 440.5,259.9 442.7,257.3 445.0,260.7 447.2,258.3 449.5,261.8 451.7,258.4 454.0,263.1 456.2,260.0 458.5,265.1 459.8,261.2 460.7,264.1 463.1,265.8 464.4,260.3 465.3,264.8 467.7,265.9 469.0,261.5 469.9,264.9 472.3,266.0 473.6,261.0 474.5,265.0 476.9,266.2 478.2,261.8 479.1,265.2 481.5,266.2 482.8,262.2 483.7,265.2 486.1,266.2 487.4,261.7 488.3,265.2 490.7,266.2 492.0,261.3 492.9,265.2 495.3,266.2 496.6,261.1 497.5,265.2 499.9,266.0 501.2,261.6 502.1,265.0 504.5,265.6 505.8,261.1 506.7,264.6 509.1,265.1 510.4,260.2 511.3,264.1 513.7,264.7 515.0,259.9 515.9,263.7 513.0,281.9 511.0,281.7 509.0,281.7 507.1,281.4 505.1,281.1 503.1,280.7 501.1,280.7 499.1,280.2 497.2,280.8 495.2,280.9 493.2,281.2 491.2,281.6 489.2,282.0 487.3,282.1 485.3,281.6 483.3,281.7 481.3,282.0 479.4,280.9 477.4,280.7 475.4,280.4 473.4,280.7 471.4,280.1 469.5,280.1 467.5,280.4 465.5,280.3 463.5,281.1 461.5,281.1 459.6,282.2 457.6,282.3 455.6,282.1 453.6,282.0 451.6,282.1 449.7,281.6 447.7,280.7 445.7,281.2 443.7,280.3 441.8,280.9 439.8,280.3 437.8,280.9 435.8,280.7 433.8,280.8 431.9,281.7 429.9,282.0 427.9,282.0 425.9,281.6 423.9,282.0 422.0,281.5 420.0,281.3 418.0,281.2"/></clipPath>
<g clip-path="url(#dm4)"><rect x="418.0" y="232.2" width="95.0" height="60.6" fill="#3556a6"/><rect x="418.0" y="232.2" width="95.0" height="60.6" filter="url(#bmot)"/><g transform="rotate(-55 465.0 272.2)"><rect x="388.0" y="212.2" width="155.0" height="100.6" filter="url(#wst)" opacity="0.55"/></g><rect x="418.0" y="232.2" width="95.0" height="60.6" filter="url(#rmot)" opacity="0.25"/></g>
<polyline points="418.0,281.2 420.0,281.3 422.0,281.5 423.9,282.0 425.9,281.6 427.9,282.0 429.9,282.0 431.9,281.7 433.8,280.8 435.8,280.7 437.8,280.9 439.8,280.3 441.8,280.9 443.7,280.3 445.7,281.2 447.7,280.7 449.7,281.6 451.6,282.1 453.6,282.0 455.6,282.1 457.6,282.3 459.6,282.2 461.5,281.1 463.5,281.1 465.5,280.3 467.5,280.4 469.5,280.1 471.4,280.1 473.4,280.7 475.4,280.4 477.4,280.7 479.4,280.9 481.3,282.0 483.3,281.7 485.3,281.6 487.3,282.1 489.2,282.0 491.2,281.6 493.2,281.2 495.2,280.9 497.2,280.8 499.1,280.2 501.1,280.7 503.1,280.7 505.1,281.1 507.1,281.4 509.0,281.7 511.0,281.7 513.0,281.9" fill="none" stroke="#f4f0f0" stroke-width="1.0"/>
<ellipse cx="422.0" cy="272.2" rx="1.1" ry="6" transform="rotate(-35 422.0 272.2)" fill="#b0302a" opacity="0.8"/>
<ellipse cx="454.0" cy="274.2" rx="1.1" ry="6" transform="rotate(-35 454.0 274.2)" fill="#b0302a" opacity="0.8"/>
<ellipse cx="490.0" cy="272.2" rx="1.1" ry="6" transform="rotate(-35 490.0 272.2)" fill="#b0302a" opacity="0.8"/>
<polyline points="418.0,260.9 420.2,258.7 422.5,260.5 424.7,258.1 427.0,260.0 429.2,257.5 431.5,259.7 433.7,256.6 436.0,259.5 438.2,256.5 440.5,259.9 442.7,257.3 445.0,260.7 447.2,258.3 449.5,261.8 451.7,258.4 454.0,263.1 456.2,260.0 458.5,265.1 459.8,261.2 460.7,264.1 463.1,265.8 464.4,260.3 465.3,264.8 467.7,265.9 469.0,261.5 469.9,264.9 472.3,266.0 473.6,261.0 474.5,265.0 476.9,266.2 478.2,261.8 479.1,265.2 481.5,266.2 482.8,262.2 483.7,265.2 486.1,266.2 487.4,261.7 488.3,265.2 490.7,266.2 492.0,261.3 492.9,265.2 495.3,266.2 496.6,261.1 497.5,265.2 499.9,266.0 501.2,261.6 502.1,265.0 504.5,265.6 505.8,261.1 506.7,264.6 509.1,265.1 510.4,260.2 511.3,264.1 513.7,264.7 515.0,259.9 515.9,263.7" fill="none" stroke="#8a1c12" stroke-width="1.7" stroke-linejoin="round" filter="url(#bl3)"/>
<line x1="425.0" y1="250.5" x2="425.9" y2="249.2" stroke="#c04030" stroke-width="0.7" stroke-linecap="round" opacity="0.6"/>
<line x1="472.4" y1="254.4" x2="472.6" y2="253.2" stroke="#d87060" stroke-width="0.9" stroke-linecap="round" opacity="0.6"/>
<line x1="418.4" y1="252.1" x2="418.6" y2="250.8" stroke="#d87060" stroke-width="0.8" stroke-linecap="round" opacity="0.6"/>
<line x1="467.7" y1="238.9" x2="468.9" y2="237.4" stroke="#c04030" stroke-width="0.6" stroke-linecap="round" opacity="0.6"/>
<line x1="498.4" y1="244.4" x2="498.8" y2="242.5" stroke="#c04030" stroke-width="0.8" stroke-linecap="round" opacity="0.6"/>
<line x1="438.2" y1="256.2" x2="438.9" y2="255.2" stroke="#d87060" stroke-width="0.9" stroke-linecap="round" opacity="0.6"/>
<rect x="466.2" y="267.5" width="1.9" height="13.5" fill="#000"/>
<text x="488.0" y="285.8" font-size="8.4" font-weight="bold" fill="#000" textLength="21.6" lengthAdjust="spacingAndGlyphs">100X</text>
</g>
<defs>
<clipPath id="cd0"><rect x="25.9" y="462.1" width="95.0" height="71.4"/></clipPath>
<clipPath id="cd1"><rect x="124.2" y="462.1" width="95.0" height="71.4"/></clipPath>
<clipPath id="cd2"><rect x="222.1" y="462.1" width="95.0" height="71.4"/></clipPath>
<clipPath id="cd3"><rect x="319.8" y="462.1" width="95.0" height="71.4"/></clipPath>
<clipPath id="cd4"><rect x="418.0" y="462.1" width="95.0" height="71.4"/></clipPath>
<filter id="dblur" x="-5%" y="-5%" width="110%" height="110%"><feGaussianBlur stdDeviation="0.4"/></filter>
<filter id="dblur2" x="-5%" y="-5%" width="110%" height="110%"><feGaussianBlur stdDeviation="0.9"/></filter>
<filter id="dblur3" x="-50%" y="-50%" width="200%" height="200%"><feGaussianBlur stdDeviation="5"/></filter>
<filter id="mott" x="0" y="0" width="100%" height="100%"><feTurbulence type="fractalNoise" baseFrequency="0.6" numOctaves="2" seed="4" result="n"/><feColorMatrix in="n" type="matrix" values="0 0 0 0 0.12  0 0 0 0 0.03  0 0 0 0 0.03  5 0 0 0 -2.7"/></filter>
<filter id="mott2" x="0" y="0" width="100%" height="100%"><feTurbulence type="fractalNoise" baseFrequency="0.8" numOctaves="1" seed="9" result="n"/><feColorMatrix in="n" type="matrix" values="0 0 0 0 0.97  0 0 0 0 0.86  0 0 0 0 0.84  0 5 0 0 -3.0"/></filter>
</defs>
<g clip-path="url(#cd0)">
<rect x="25.9" y="462.1" width="95.0" height="71.4" fill="#0e0703"/>
<circle cx="75.9" cy="490.1" r="16" fill="#3a2410" opacity="0.6" filter="url(#dblur3)"/>
<circle cx="105.9" cy="482.1" r="10" fill="#2a1a0c" opacity="0.5" filter="url(#dblur3)"/>
<path d="M46.9,446.4 46.9,448.8 45.5,451.0 45.2,453.4 45.9,455.9 45.0,458.2M45.0,458.2 46.8,461.9M50.7,459.9 48.9,461.1 46.8,461.9M20.8,533.5 21.9,535.0M20.4,523.7 21.9,526.6 23.2,529.6M22.7,514.8 20.4,513.6 18.4,511.9 15.4,512.4 13.4,510.6M123.6,472.3 124.5,474.5M117.4,474.4 116.8,476.7 115.0,478.2M123.9,480.8 124.0,480.7M125.4,494.7 128.1,494.2 130.5,493.1 133.1,492.4M120.1,488.3 120.7,489.1M120.1,488.3 121.7,486.0 123.0,483.5 123.9,480.8M142.6,470.7 140.3,471.0 138.2,471.9 136.0,472.9 133.4,471.7 131.2,472.3 128.9,473.0 126.7,473.5 124.5,474.5M123.7,480.1 124.0,480.7M132.8,468.0 130.3,467.7 127.9,467.4 125.6,468.7 123.1,468.5M123.1,468.5 124.3,465.4 126.9,463.4M126.9,463.4 126.2,460.4 124.5,457.8M124.5,457.8 121.4,456.6M117.2,450.5 116.1,453.0 114.2,454.7 112.8,456.9 111.4,459.1 109.2,460.7M104.0,450.7 105.4,452.5 105.7,454.9 107.2,456.6 107.8,458.9 109.2,460.7M125.4,494.7 124.8,496.9 124.4,499.2 122.8,501.0M122.8,501.0 124.9,502.2 125.9,504.3M125.9,504.3 128.1,505.2 130.4,505.0 132.6,506.0 134.9,506.2 137.2,506.5 139.4,507.3 141.8,506.4 144.1,506.8 146.4,506.8 148.5,508.6 150.8,508.3M45.9,475.4 49.1,474.5M45.9,475.4 45.1,472.7 46.7,470.0 46.6,467.3 45.9,464.6M46.7,464.0 48.6,466.2 51.3,467.0M51.3,467.0 51.4,469.8 49.1,471.8 49.1,474.5M24.0,535.9 25.0,537.9 25.6,540.1 25.6,542.5 27.0,544.3 27.3,546.6 28.7,548.5 28.6,550.9 29.7,552.8 30.9,554.8M24.0,535.9 27.5,535.2M27.5,535.2 30.0,535.7 31.6,538.0 34.0,538.9M21.9,535.0 24.0,535.9M30.0,530.8 28.9,533.1 27.5,535.2M30.0,530.8 27.6,530.1 26.2,528.0M42.0,538.7 45.2,538.5 48.0,536.9M34.0,538.9 36.3,537.0 37.7,534.5M38.3,534.5 37.7,534.5M38.3,534.5 40.8,536.1 42.0,538.7M110.6,483.4 111.4,479.7M110.6,483.4 111.5,484.5M111.5,484.5 114.2,485.1 115.5,487.9 118.1,488.5M120.1,488.3 118.1,488.5M111.4,479.7 112.4,478.6M122.8,501.0 121.6,501.2M117.1,497.5 119.7,498.9 121.6,501.2M100.1,534.4 101.7,530.5M100.1,534.4 100.0,534.5M100.0,534.5 97.4,533.8 95.4,532.2 93.6,530.2M93.6,530.2 92.8,529.2M94.0,521.9 94.1,524.4 92.6,526.7 92.8,529.2M94.0,521.9 96.5,522.5 98.5,523.9 100.0,526.0M101.7,530.5 100.5,528.4 100.0,526.0M20.4,523.7 22.0,521.8 24.4,521.2 26.6,520.4M26.2,528.0 27.5,526.1 26.9,523.5 28.1,521.5M28.1,521.5 26.6,520.4M26.6,520.4 25.7,517.6 24.5,515.0M53.4,476.7 52.3,480.5M57.6,476.5 60.3,479.2M60.3,479.2 57.3,480.2 55.1,482.4M62.0,480.3 60.3,479.2M62.0,480.3 62.0,480.6M62.0,480.6 61.7,482.9 60.6,484.9M55.1,482.4 55.2,485.9M50.4,482.6 47.9,481.8 45.7,480.3 43.5,478.7 40.8,478.3M48.2,485.9 45.5,486.0 43.1,484.3 40.4,484.2 37.7,484.4M37.6,482.8 37.7,484.4M52.3,480.5 50.4,482.6M54.5,486.4 55.2,485.9M53.4,476.7 53.1,476.5M45.9,475.4 43.4,476.1 41.3,477.8M53.1,476.5 51.4,474.9 49.1,474.5M91.9,477.7 92.7,474.1M96.6,480.6 94.7,480.9M50.7,459.9 53.6,460.9 56.5,461.3M46.8,461.9 46.7,464.0M51.3,467.0 54.5,466.8M56.5,461.3 56.1,464.2 54.5,466.8M56.5,461.3 58.4,458.8 60.7,456.7M53.1,476.5 53.5,474.1 54.0,471.8 53.9,469.4 55.1,467.2M55.1,467.2 54.5,466.8M57.6,476.5 58.6,473.8 59.0,471.0M55.1,467.2 57.3,468.4M59.0,471.0 57.3,468.4M60.7,456.7 63.0,459.5M63.0,459.5 61.7,461.5 60.3,463.3 58.8,465.2 58.4,467.6M63.0,459.5 63.5,459.9M63.5,459.9 63.6,462.6 65.0,464.7M58.4,467.6 60.5,466.4 63.0,466.2 65.0,464.7M72.5,482.2 70.9,480.6 69.6,478.8M62.0,480.3 65.2,478.4M62.0,480.6 64.1,482.2 65.7,484.4 68.0,486.0 69.8,487.9M69.6,478.8 65.2,478.4M62.2,470.8 63.8,472.4 65.1,474.2M59.0,471.0 62.2,470.8M65.1,474.2 65.2,478.4M80.3,470.2 78.1,472.6M80.2,468.4 78.8,466.2 78.5,463.7 78.2,461.2M74.5,469.2 75.0,466.6 76.4,464.2 77.4,461.7M77.4,461.7 78.2,461.2M30.0,530.8 32.1,529.9 34.4,529.9M28.1,521.5 30.3,522.0 32.5,522.0M34.4,529.9 33.9,527.2 33.2,524.6 32.5,522.0M21.2,496.1 23.7,497.1 26.3,498.1 28.9,498.9M22.8,500.4 23.7,501.0M23.7,501.0 26.1,500.6 28.5,500.6M28.5,500.6 28.9,498.9M19.1,491.9 20.1,494.0 21.2,496.1M19.5,506.4 22.2,506.5M24.0,503.6 22.2,506.5M24.0,503.6 23.7,501.0M93.6,530.2 93.4,532.8 91.1,534.4 91.0,536.9M90.8,537.8 91.0,536.9M90.8,537.8 93.0,539.2M100.1,534.4 102.8,533.1 105.8,533.8 108.6,532.9M108.6,532.9 108.7,535.7 109.6,538.4 109.2,541.2M92.8,529.2 90.2,529.9M87.8,531.4 90.2,529.9M112.4,478.6 111.6,476.4 110.3,474.5 110.1,472.1 108.5,470.4M103.8,476.7 102.6,474.7M108.5,470.4 106.1,471.3 104.5,473.2 102.6,474.7M97.8,480.9 98.4,478.5 99.1,476.2 100.5,474.1M97.8,480.9 96.6,480.6M93.5,474.3 96.7,474.1 99.9,473.5M100.5,474.1 99.9,473.5M103.8,476.7 103.1,480.2M97.8,480.9 98.2,481.6M102.6,474.7 100.5,474.1M98.2,481.6 100.8,481.4 103.1,480.2M110.6,483.4 109.5,483.8M109.5,483.8 106.8,482.9 104.0,482.2M104.0,482.2 103.1,480.2M124.4,539.1 121.8,537.1M105.1,508.8 102.8,509.0 100.5,509.1 98.2,509.6M105.1,508.8 107.4,510.5M98.2,509.6 97.7,509.9M97.3,510.3 97.7,509.9M97.3,510.3 98.1,512.7 96.7,515.2 97.6,517.6M94.3,520.3 93.8,520.8M94.3,520.3 97.2,518.0M97.2,518.0 99.0,519.4 100.2,521.4 101.3,523.4 103.5,524.5M121.3,524.5 124.9,526.1M124.4,521.8 126.8,522.3M128.2,513.7 126.5,511.6 124.5,509.8M44.9,527.1 42.5,526.0 39.8,526.2M35.4,530.7 37.3,528.1 39.8,526.2M45.2,530.9 45.5,530.2M35.6,474.2 32.9,474.5 30.2,473.6M30.2,473.6 27.5,470.8M29.5,469.2 27.5,470.8M20.1,475.2 22.6,472.5M18.9,453.5 20.6,455.1 20.1,457.8 21.0,459.8 22.9,461.4 23.5,463.6M22.8,479.6 25.4,479.3 27.8,480.3 30.5,480.0 32.9,481.1M22.8,479.6 20.8,477.8 20.1,475.2M32.9,481.1 31.2,478.9 30.6,476.3 30.2,473.6M22.6,472.5 24.9,471.2 27.5,470.8M45.3,501.3 48.9,502.5M48.9,502.5 51.7,504.2M51.3,510.4 48.9,509.7 46.4,510.5 43.9,510.0M43.9,510.0 43.2,509.2M45.3,501.3 43.7,499.4M37.3,507.2 38.4,505.6M37.0,508.3 40.0,509.1 43.2,509.2M38.4,505.6 40.6,503.9 42.1,501.6 43.7,499.4M69.8,487.9 69.7,488.8M61.4,487.4 63.6,490.8M69.7,488.8 66.6,489.5 63.6,490.8M57.4,508.6 59.7,508.7 62.0,508.9 64.2,508.3M57.4,508.6 57.0,509.0M57.0,509.0 58.2,512.1 60.7,514.4M66.8,504.9 65.5,505.6M69.6,508.1 67.5,509.9 65.0,511.1M64.2,508.3 65.0,505.9M65.5,505.6 65.0,505.9M55.2,500.2 53.5,502.3 51.7,504.2M55.2,500.2 54.4,496.3M51.1,496.9 54.4,496.3M49.0,485.8 49.7,488.5 51.3,490.7M51.3,490.7 53.3,490.8M53.3,490.8 53.7,491.3M80.2,468.4 83.0,465.7M78.2,461.2 79.2,459.9M85.2,469.4 82.7,469.7 80.3,470.2M85.2,469.4 85.3,467.0M83.0,465.7 85.3,467.0M72.5,482.2 74.9,482.0M78.1,473.3 79.6,476.3M71.2,475.7 69.6,478.8M79.6,476.3 78.5,478.6 76.9,480.5 74.9,482.0M90.9,460.3 88.8,461.3 86.5,461.7M90.9,460.3 90.3,464.5M90.5,464.9 88.1,464.5 86.0,465.8M90.5,464.9 90.3,464.5M84.8,461.3 85.2,463.6 86.0,465.8M85.8,469.9 83.9,472.5 83.0,475.5M88.3,471.1 86.4,472.4 84.2,473.3 83.0,475.5M92.6,467.0 91.5,469.3 90.6,471.8M92.6,467.0 90.5,464.9M85.3,467.0 86.0,465.8M67.1,459.7 70.1,457.3M70.1,457.3 71.5,457.6M68.2,451.7 68.8,454.6 70.1,457.3M73.8,456.2 71.5,457.6M72.1,469.0 69.9,471.7M65.7,465.7 65.6,466.2M65.6,466.2 66.5,468.5 67.4,470.7M69.9,471.7 67.9,471.5M72.3,462.4 71.6,461.7M72.3,462.4 74.9,462.9 77.4,461.7M74.5,469.2 72.1,469.0M62.2,470.8 64.0,468.6 65.6,466.2M62.2,470.8 64.8,470.0 67.4,470.7M65.1,474.2 67.9,471.5M88.2,539.9 90.0,537.9M90.8,537.8 90.0,537.9M84.3,540.9 84.4,538.3 84.4,535.7 83.2,533.3M84.1,533.3 84.4,533.6M84.1,533.3 87.8,531.4M93.8,520.8 91.8,519.5 89.6,519.4 87.2,519.9 85.1,519.0M90.2,529.9 88.2,528.5 86.0,527.2 84.6,525.1M85.1,519.0 84.2,522.0 84.6,525.1M108.6,462.8 109.5,467.0M108.6,462.8 110.8,462.9 112.9,463.8 115.3,463.0 117.3,464.8 119.6,464.3M109.5,467.0 111.1,468.9 113.2,469.9 115.5,470.6M116.2,470.5 119.3,469.5 122.6,468.9M122.6,468.9 122.6,468.9M109.2,460.7 108.4,462.5M108.4,462.5 108.6,462.8M113.2,478.2 113.5,475.5 114.1,472.9 115.5,470.6M108.5,470.4 109.5,467.0M117.4,474.4 116.2,470.5M104.0,450.7 104.3,454.0 103.2,457.1M108.4,462.5 106.2,462.5M103.2,457.1 104.5,459.9 106.2,462.5M95.9,465.6 99.4,465.6M102.0,463.4 100.2,461.5 98.4,459.8 97.2,457.5 95.4,455.6 93.9,453.6M92.3,457.5 92.4,456.6M92.6,467.0 95.9,465.6M92.7,474.1 92.0,473.6M99.9,473.5 99.6,470.9 99.2,468.3 99.4,465.6M90.6,471.8 92.0,473.6M96.3,497.7 98.2,498.8 99.8,500.5 102.0,501.3M100.8,495.5 102.3,497.6 102.6,500.2M104.5,504.4 102.0,501.6M112.3,507.4 113.3,504.8M112.3,507.4 110.1,510.3M110.1,510.3 107.4,510.5M113.3,504.8 112.1,503.3M112.1,503.3 109.7,502.5M104.5,504.4 107.2,503.7 109.7,502.5M96.3,497.7 96.0,500.1 94.4,501.9M94.4,501.9 96.9,503.1M96.9,503.1 99.4,502.2 101.9,501.5M102.0,501.3 101.9,501.5M97.7,509.9 97.4,507.6 97.5,505.3 96.9,503.1M102.0,501.6 101.9,501.5M109.8,489.7 106.8,489.9M109.8,489.7 109.2,492.8M102.6,500.2 105.8,498.4M109.7,502.5 108.2,500.8 106.8,498.8M105.8,498.4 106.8,498.8M93.6,502.4 92.6,505.2 91.9,508.0M91.9,508.0 89.3,508.5M89.3,508.5 88.7,508.5M93.9,502.0 94.4,501.9M97.3,510.3 94.3,509.9 91.9,508.0M97.2,518.0 97.6,517.6M82.6,516.8 82.1,515.1M82.1,515.1 82.7,512.7 83.9,510.7 85.9,509.1M83.4,517.7 85.1,519.0M91.9,477.7 91.2,480.3 89.0,481.9M94.7,480.9 92.4,481.9 90.9,483.9M101.7,530.5 104.7,528.0M108.6,532.9 110.3,531.1M107.0,511.2 106.5,515.3M98.6,517.5 101.2,518.4 104.0,518.7M104.0,518.7 106.5,515.3M121.8,537.1 121.2,534.0 120.5,530.9M121.0,529.8 120.5,530.9M121.0,529.8 121.6,529.8M121.3,524.5 118.2,525.8M124.9,526.1 125.2,527.5M121.0,529.8 119.6,527.8 118.2,525.8M124.4,521.8 122.9,519.2M122.7,514.9 121.3,518.3M51.3,510.4 51.2,513.0 51.2,515.6M42.9,515.8 44.2,516.3M48.3,536.4 51.2,535.8 54.2,536.0M54.2,536.1 54.2,536.0M34.7,507.4 32.5,503.8M27.3,505.5 26.5,507.6 26.3,509.9M26.3,509.9 26.9,511.8M26.9,511.8 27.7,511.7M24.0,503.6 27.3,505.5M22.2,506.5 24.5,507.9 26.3,509.9M24.5,515.0 26.9,511.8M22.8,479.6 23.3,482.1 21.6,484.3 21.7,486.8M32.9,481.1 35.3,481.8 37.6,482.8M37.7,484.4 37.6,485.4M37.6,485.4 34.6,487.1M34.6,487.1 32.1,486.7 29.5,486.3 26.9,487.1 24.3,487.6 21.7,486.8M21.7,486.8 21.5,489.2 20.0,491.2M20.0,491.2 22.8,491.9 25.6,492.4M36.8,510.6 38.5,512.5 39.6,514.7 40.2,517.2M40.2,517.2 38.5,519.8M37.8,520.1 38.5,519.8M36.8,508.1 34.7,507.4M37.0,508.3 36.8,510.6M45.8,523.8 47.0,522.8M47.0,522.8 46.5,520.5 45.0,518.5 44.2,516.3M44.9,527.1 45.8,523.8M48.2,485.9 47.1,488.2 46.5,490.6M38.5,487.6 41.3,488.2 44.0,489.2 46.5,490.6M43.7,499.4 43.7,499.3M51.1,496.9 47.4,495.5M43.7,499.3 45.4,497.3 47.4,495.5M51.3,490.7 48.4,491.8M46.5,490.6 48.4,491.8M74.1,510.3 73.7,507.7 73.3,505.2 72.6,502.7M74.5,510.9 76.5,509.0 77.4,506.4M77.4,506.4 76.9,503.8 76.6,501.1M69.6,508.1 71.6,509.8 74.1,510.3M68.8,500.7 72.6,502.7M57.4,508.6 59.3,506.9 59.9,504.4M57.7,500.7 59.9,504.4M59.9,504.4 60.5,504.3M79.8,458.9 80.7,459.0M79.8,458.9 78.9,456.4M80.7,459.0 83.5,458.2 85.3,455.6 87.9,454.4M83.7,460.2 80.7,459.0M85.5,475.4 87.1,477.5M85.5,475.4 82.8,475.8M86.9,480.0 87.4,478.4M83.0,475.5 82.8,475.8M90.1,471.7 87.7,474.1M79.6,476.3 80.8,476.8M80.8,476.8 81.0,476.8M32.7,456.8 33.1,459.4M33.1,459.4 32.9,459.5M28.2,459.5 30.5,459.8 32.9,459.5M37.8,455.2 38.3,458.0M35.5,460.4 38.3,458.0M60.7,514.4 58.3,517.8M68.4,516.4 68.6,518.8 68.6,521.1M59.2,519.8 58.3,517.8M51.2,515.6 53.3,516.9 55.5,517.8 58.0,517.8M58.0,517.8 58.3,517.8M59.2,541.2 61.7,539.5 62.9,536.8M70.3,538.3 67.9,537.6 65.5,536.4 62.9,536.8M98.2,481.6 99.4,484.4 99.0,487.5M99.0,487.5 99.1,487.5M90.9,483.9 91.1,484.9M95.9,489.6 94.1,488.3 93.0,486.2 91.1,484.9M95.9,489.6 96.3,489.3M99.0,487.5 96.3,489.3M95.4,493.0 95.0,492.3M100.8,495.5 103.3,494.1M95.0,492.3 95.9,489.6M96.3,489.3 98.6,491.0 100.7,492.9 103.3,494.1M112.4,497.3 116.2,496.9M111.9,496.8 111.1,494.1M112.7,492.5 116.0,491.0M112.1,503.3 113.0,500.3 112.4,497.3M113.3,504.8 115.9,504.8 118.2,503.5M117.1,497.5 116.2,496.9M121.6,501.2 118.2,503.5M118.1,488.5 116.0,491.0M110.5,489.0 111.3,486.8 111.5,484.5M87.0,499.1 87.4,497.3M87.0,499.1 85.1,501.5 83.5,504.2M83.0,504.0 83.5,504.2M83.0,504.0 80.8,501.6 78.2,499.6M78.2,499.6 78.3,497.4M93.9,502.0 92.2,500.0 90.0,498.4 88.2,496.4M89.5,502.5 87.0,499.1M88.2,496.4 87.4,497.3M85.9,509.1 85.4,506.2 83.5,504.2M82.1,515.1 79.4,514.3 77.2,512.4 74.6,511.2M76.6,501.1 78.2,499.6M81.6,480.9 83.0,482.7M86.9,480.0 87.5,481.1M87.5,481.1 85.2,481.7 83.0,482.7M87.5,481.1 88.2,481.7M108.7,524.2 106.3,524.0M106.3,524.0 104.8,521.9 104.9,519.4M104.9,519.4 108.7,518.6M110.9,519.1 108.7,518.6M105.3,524.8 106.3,524.0M108.0,516.5 108.7,518.6M112.3,527.7 115.1,526.6M115.1,526.6 115.3,528.9 116.3,531.0 116.9,533.3M116.9,533.3 115.3,535.3M110.3,531.1 110.8,530.9M118.2,525.8 117.1,525.3M117.1,525.3 117.0,525.3M122.0,511.5 121.7,512.0M122.0,511.5 119.1,509.0M121.7,512.0 117.7,513.7M119.1,509.0 116.9,510.4M116.9,510.4 117.7,513.7M124.5,509.8 122.0,511.5M118.2,503.5 117.9,506.4 119.1,509.0M112.3,507.4 114.3,509.4 116.9,510.4M117.0,523.6 115.0,522.1 114.7,519.5 113.2,517.7M120.8,518.4 119.2,516.2 116.7,515.1M116.7,515.1 113.7,515.9M113.7,515.9 113.2,517.7M117.1,525.3 117.0,523.6M121.3,518.3 120.8,518.4M117.7,513.7 116.7,515.1M31.5,497.1 31.0,494.7M31.5,497.1 34.0,496.7 36.3,497.9M31.0,494.7 33.3,493.2 36.0,492.9 38.6,492.2M36.8,497.7 36.3,497.9M37.8,497.0 39.1,496.1M38.6,492.2 39.1,496.1M28.9,498.7 31.5,497.1M29.2,491.7 31.0,494.7M38.5,487.6 39.0,489.9 38.6,492.2M37.3,507.2 37.5,504.8 36.3,502.4 37.4,500.0 36.8,497.7M38.4,505.6 37.9,502.7 38.5,499.8 37.8,497.0M69.9,497.6 68.4,496.0 66.1,495.2 64.8,493.3 63.3,491.7M61.6,493.9 63.3,491.7M63.2,502.5 66.2,499.7M57.7,500.7 60.4,499.7 62.3,497.7M63.6,490.8 63.3,491.7M62.6,502.5 60.5,504.3M62.6,502.5 62.3,499.2M62.3,499.2 62.2,502.0 60.5,504.3M63.2,502.5 62.6,502.5M60.5,504.3 60.5,504.3M31.2,462.5 31.7,464.8 32.0,467.2M30.2,468.1 29.1,465.8 27.6,463.8M27.6,463.8 28.2,462.7M28.2,459.5 28.2,462.7M32.9,459.5 31.2,462.5M29.5,469.2 30.2,468.1M23.5,463.6 27.6,463.8M33.5,467.0 34.6,466.4M35.6,474.2 36.8,474.8M32.0,467.2 33.5,467.0M40.0,478.9 37.5,475.4M36.2,462.6 35.5,465.6M35.5,465.6 38.1,466.2 40.4,467.4M39.6,462.8 42.1,463.5 43.7,465.5M40.4,467.4 41.7,467.5M43.7,465.5 41.7,467.5M41.3,458.6 40.9,460.9 39.6,462.8M34.6,466.4 35.5,465.6M55.8,520.0 52.8,519.9 50.1,521.3M53.6,525.2 51.5,523.8 49.9,521.9M58.0,517.8 55.8,520.0M70.5,538.0 72.9,537.4 75.5,537.9 77.8,536.7M70.4,532.8 70.9,530.0 71.5,527.2M77.8,529.3 81.0,531.5M77.8,536.7 80.0,534.9M80.0,534.9 81.6,532.7M81.6,532.7 81.0,531.5M78.6,542.4 77.3,539.7 77.8,536.7M70.3,538.3 70.5,538.0M83.4,517.7 83.0,520.4 81.7,522.6 80.8,525.1 78.4,526.8 77.8,529.3M84.6,525.1 83.9,527.6 82.3,529.5 81.0,531.5M81.3,540.5 80.5,537.7 80.0,534.9M62.9,536.8 62.8,536.5M70.4,532.8 67.3,533.1 64.1,533.1M62.8,536.5 64.1,533.1M90.3,494.3 91.8,493.5M88.2,496.4 88.2,496.2M95.0,492.3 91.8,493.5M91.1,484.9 87.7,487.5M103.7,494.0 106.0,495.4M106.0,495.4 107.1,494.5M104.7,488.6 104.9,488.8M105.8,498.4 106.0,495.4M109.5,493.6 107.1,494.5M106.8,489.9 104.9,488.8M109.5,483.8 107.5,485.1 106.1,486.9 104.7,488.6M88.2,496.2 86.8,494.4 85.0,493.1 83.1,491.9M85.1,488.1 84.1,486.6M83.0,482.7 82.4,485.7M84.1,486.6 82.4,485.7M81.6,480.9 78.8,484.1M76.4,483.4 78.8,484.1M78.8,484.1 81.3,485.9M83.1,491.9 82.7,492.0M82.7,492.0 80.9,490.3 80.1,487.9M77.6,495.8 75.9,494.3 73.8,493.1M76.8,489.3 77.6,489.1M78.3,497.4 77.6,495.8M69.9,497.6 71.7,495.3 73.8,493.1M80.1,487.9 77.6,489.1M76.4,483.4 76.7,486.4 76.8,489.3M70.7,525.0 69.4,523.4M71.5,527.2 70.9,526.2M70.7,525.0 70.9,526.2M69.4,523.4 67.5,523.7M55.4,532.2 57.5,532.6 59.6,533.3M55.4,527.5 57.3,526.5M57.3,526.5 58.9,526.9M62.8,536.5 61.3,534.8 59.6,533.3M64.1,533.1 63.3,530.2M70.9,526.2 68.0,526.8 65.6,528.1 63.4,530.0M45.5,530.2 47.9,530.6 50.1,530.1 52.5,530.2 54.7,529.4" stroke="#a88050" stroke-width="1.85" fill="none" stroke-linecap="round" stroke-linejoin="round" opacity="0.35" filter="url(#dblur2)"/>
<path d="M46.9,446.4 46.9,448.8 45.5,451.0 45.2,453.4 45.9,455.9 45.0,458.2M45.0,458.2 46.8,461.9M50.7,459.9 48.9,461.1 46.8,461.9M20.8,533.5 21.9,535.0M20.4,523.7 21.9,526.6 23.2,529.6M22.7,514.8 20.4,513.6 18.4,511.9 15.4,512.4 13.4,510.6M123.6,472.3 124.5,474.5M117.4,474.4 116.8,476.7 115.0,478.2M123.9,480.8 124.0,480.7M125.4,494.7 128.1,494.2 130.5,493.1 133.1,492.4M120.1,488.3 120.7,489.1M120.1,488.3 121.7,486.0 123.0,483.5 123.9,480.8M142.6,470.7 140.3,471.0 138.2,471.9 136.0,472.9 133.4,471.7 131.2,472.3 128.9,473.0 126.7,473.5 124.5,474.5M123.7,480.1 124.0,480.7M132.8,468.0 130.3,467.7 127.9,467.4 125.6,468.7 123.1,468.5M123.1,468.5 124.3,465.4 126.9,463.4M126.9,463.4 126.2,460.4 124.5,457.8M124.5,457.8 121.4,456.6M117.2,450.5 116.1,453.0 114.2,454.7 112.8,456.9 111.4,459.1 109.2,460.7M104.0,450.7 105.4,452.5 105.7,454.9 107.2,456.6 107.8,458.9 109.2,460.7M125.4,494.7 124.8,496.9 124.4,499.2 122.8,501.0M122.8,501.0 124.9,502.2 125.9,504.3M125.9,504.3 128.1,505.2 130.4,505.0 132.6,506.0 134.9,506.2 137.2,506.5 139.4,507.3 141.8,506.4 144.1,506.8 146.4,506.8 148.5,508.6 150.8,508.3M45.9,475.4 49.1,474.5M45.9,475.4 45.1,472.7 46.7,470.0 46.6,467.3 45.9,464.6M46.7,464.0 48.6,466.2 51.3,467.0M51.3,467.0 51.4,469.8 49.1,471.8 49.1,474.5M24.0,535.9 25.0,537.9 25.6,540.1 25.6,542.5 27.0,544.3 27.3,546.6 28.7,548.5 28.6,550.9 29.7,552.8 30.9,554.8M24.0,535.9 27.5,535.2M27.5,535.2 30.0,535.7 31.6,538.0 34.0,538.9M21.9,535.0 24.0,535.9M30.0,530.8 28.9,533.1 27.5,535.2M30.0,530.8 27.6,530.1 26.2,528.0M42.0,538.7 45.2,538.5 48.0,536.9M34.0,538.9 36.3,537.0 37.7,534.5M38.3,534.5 37.7,534.5M38.3,534.5 40.8,536.1 42.0,538.7M110.6,483.4 111.4,479.7M110.6,483.4 111.5,484.5M111.5,484.5 114.2,485.1 115.5,487.9 118.1,488.5M120.1,488.3 118.1,488.5M111.4,479.7 112.4,478.6M122.8,501.0 121.6,501.2M117.1,497.5 119.7,498.9 121.6,501.2M100.1,534.4 101.7,530.5M100.1,534.4 100.0,534.5M100.0,534.5 97.4,533.8 95.4,532.2 93.6,530.2M93.6,530.2 92.8,529.2M94.0,521.9 94.1,524.4 92.6,526.7 92.8,529.2M94.0,521.9 96.5,522.5 98.5,523.9 100.0,526.0M101.7,530.5 100.5,528.4 100.0,526.0M20.4,523.7 22.0,521.8 24.4,521.2 26.6,520.4M26.2,528.0 27.5,526.1 26.9,523.5 28.1,521.5M28.1,521.5 26.6,520.4M26.6,520.4 25.7,517.6 24.5,515.0M53.4,476.7 52.3,480.5M57.6,476.5 60.3,479.2M60.3,479.2 57.3,480.2 55.1,482.4M62.0,480.3 60.3,479.2M62.0,480.3 62.0,480.6M62.0,480.6 61.7,482.9 60.6,484.9M55.1,482.4 55.2,485.9M50.4,482.6 47.9,481.8 45.7,480.3 43.5,478.7 40.8,478.3M48.2,485.9 45.5,486.0 43.1,484.3 40.4,484.2 37.7,484.4M37.6,482.8 37.7,484.4M52.3,480.5 50.4,482.6M54.5,486.4 55.2,485.9M53.4,476.7 53.1,476.5M45.9,475.4 43.4,476.1 41.3,477.8M53.1,476.5 51.4,474.9 49.1,474.5M91.9,477.7 92.7,474.1M96.6,480.6 94.7,480.9M50.7,459.9 53.6,460.9 56.5,461.3M46.8,461.9 46.7,464.0M51.3,467.0 54.5,466.8M56.5,461.3 56.1,464.2 54.5,466.8M56.5,461.3 58.4,458.8 60.7,456.7M53.1,476.5 53.5,474.1 54.0,471.8 53.9,469.4 55.1,467.2M55.1,467.2 54.5,466.8M57.6,476.5 58.6,473.8 59.0,471.0M55.1,467.2 57.3,468.4M59.0,471.0 57.3,468.4M60.7,456.7 63.0,459.5M63.0,459.5 61.7,461.5 60.3,463.3 58.8,465.2 58.4,467.6M63.0,459.5 63.5,459.9M63.5,459.9 63.6,462.6 65.0,464.7M58.4,467.6 60.5,466.4 63.0,466.2 65.0,464.7M72.5,482.2 70.9,480.6 69.6,478.8M62.0,480.3 65.2,478.4M62.0,480.6 64.1,482.2 65.7,484.4 68.0,486.0 69.8,487.9M69.6,478.8 65.2,478.4M62.2,470.8 63.8,472.4 65.1,474.2M59.0,471.0 62.2,470.8M65.1,474.2 65.2,478.4M80.3,470.2 78.1,472.6M80.2,468.4 78.8,466.2 78.5,463.7 78.2,461.2M74.5,469.2 75.0,466.6 76.4,464.2 77.4,461.7M77.4,461.7 78.2,461.2M30.0,530.8 32.1,529.9 34.4,529.9M28.1,521.5 30.3,522.0 32.5,522.0M34.4,529.9 33.9,527.2 33.2,524.6 32.5,522.0M21.2,496.1 23.7,497.1 26.3,498.1 28.9,498.9M22.8,500.4 23.7,501.0M23.7,501.0 26.1,500.6 28.5,500.6M28.5,500.6 28.9,498.9M19.1,491.9 20.1,494.0 21.2,496.1M19.5,506.4 22.2,506.5M24.0,503.6 22.2,506.5M24.0,503.6 23.7,501.0M93.6,530.2 93.4,532.8 91.1,534.4 91.0,536.9M90.8,537.8 91.0,536.9M90.8,537.8 93.0,539.2M100.1,534.4 102.8,533.1 105.8,533.8 108.6,532.9M108.6,532.9 108.7,535.7 109.6,538.4 109.2,541.2M92.8,529.2 90.2,529.9M87.8,531.4 90.2,529.9M112.4,478.6 111.6,476.4 110.3,474.5 110.1,472.1 108.5,470.4M103.8,476.7 102.6,474.7M108.5,470.4 106.1,471.3 104.5,473.2 102.6,474.7M97.8,480.9 98.4,478.5 99.1,476.2 100.5,474.1M97.8,480.9 96.6,480.6M93.5,474.3 96.7,474.1 99.9,473.5M100.5,474.1 99.9,473.5M103.8,476.7 103.1,480.2M97.8,480.9 98.2,481.6M102.6,474.7 100.5,474.1M98.2,481.6 100.8,481.4 103.1,480.2M110.6,483.4 109.5,483.8M109.5,483.8 106.8,482.9 104.0,482.2M104.0,482.2 103.1,480.2M124.4,539.1 121.8,537.1M105.1,508.8 102.8,509.0 100.5,509.1 98.2,509.6M105.1,508.8 107.4,510.5M98.2,509.6 97.7,509.9M97.3,510.3 97.7,509.9M97.3,510.3 98.1,512.7 96.7,515.2 97.6,517.6M94.3,520.3 93.8,520.8M94.3,520.3 97.2,518.0M97.2,518.0 99.0,519.4 100.2,521.4 101.3,523.4 103.5,524.5M121.3,524.5 124.9,526.1M124.4,521.8 126.8,522.3M128.2,513.7 126.5,511.6 124.5,509.8M44.9,527.1 42.5,526.0 39.8,526.2M35.4,530.7 37.3,528.1 39.8,526.2M45.2,530.9 45.5,530.2M35.6,474.2 32.9,474.5 30.2,473.6M30.2,473.6 27.5,470.8M29.5,469.2 27.5,470.8M20.1,475.2 22.6,472.5M18.9,453.5 20.6,455.1 20.1,457.8 21.0,459.8 22.9,461.4 23.5,463.6M22.8,479.6 25.4,479.3 27.8,480.3 30.5,480.0 32.9,481.1M22.8,479.6 20.8,477.8 20.1,475.2M32.9,481.1 31.2,478.9 30.6,476.3 30.2,473.6M22.6,472.5 24.9,471.2 27.5,470.8M45.3,501.3 48.9,502.5M48.9,502.5 51.7,504.2M51.3,510.4 48.9,509.7 46.4,510.5 43.9,510.0M43.9,510.0 43.2,509.2M45.3,501.3 43.7,499.4M37.3,507.2 38.4,505.6M37.0,508.3 40.0,509.1 43.2,509.2M38.4,505.6 40.6,503.9 42.1,501.6 43.7,499.4M69.8,487.9 69.7,488.8M61.4,487.4 63.6,490.8M69.7,488.8 66.6,489.5 63.6,490.8M57.4,508.6 59.7,508.7 62.0,508.9 64.2,508.3M57.4,508.6 57.0,509.0M57.0,509.0 58.2,512.1 60.7,514.4M66.8,504.9 65.5,505.6M69.6,508.1 67.5,509.9 65.0,511.1M64.2,508.3 65.0,505.9M65.5,505.6 65.0,505.9M55.2,500.2 53.5,502.3 51.7,504.2M55.2,500.2 54.4,496.3M51.1,496.9 54.4,496.3M49.0,485.8 49.7,488.5 51.3,490.7M51.3,490.7 53.3,490.8M53.3,490.8 53.7,491.3M80.2,468.4 83.0,465.7M78.2,461.2 79.2,459.9M85.2,469.4 82.7,469.7 80.3,470.2M85.2,469.4 85.3,467.0M83.0,465.7 85.3,467.0M72.5,482.2 74.9,482.0M78.1,473.3 79.6,476.3M71.2,475.7 69.6,478.8M79.6,476.3 78.5,478.6 76.9,480.5 74.9,482.0M90.9,460.3 88.8,461.3 86.5,461.7M90.9,460.3 90.3,464.5M90.5,464.9 88.1,464.5 86.0,465.8M90.5,464.9 90.3,464.5M84.8,461.3 85.2,463.6 86.0,465.8M85.8,469.9 83.9,472.5 83.0,475.5M88.3,471.1 86.4,472.4 84.2,473.3 83.0,475.5M92.6,467.0 91.5,469.3 90.6,471.8M92.6,467.0 90.5,464.9M85.3,467.0 86.0,465.8M67.1,459.7 70.1,457.3M70.1,457.3 71.5,457.6M68.2,451.7 68.8,454.6 70.1,457.3M73.8,456.2 71.5,457.6M72.1,469.0 69.9,471.7M65.7,465.7 65.6,466.2M65.6,466.2 66.5,468.5 67.4,470.7M69.9,471.7 67.9,471.5M72.3,462.4 71.6,461.7M72.3,462.4 74.9,462.9 77.4,461.7M74.5,469.2 72.1,469.0M62.2,470.8 64.0,468.6 65.6,466.2M62.2,470.8 64.8,470.0 67.4,470.7M65.1,474.2 67.9,471.5M88.2,539.9 90.0,537.9M90.8,537.8 90.0,537.9M84.3,540.9 84.4,538.3 84.4,535.7 83.2,533.3M84.1,533.3 84.4,533.6M84.1,533.3 87.8,531.4M93.8,520.8 91.8,519.5 89.6,519.4 87.2,519.9 85.1,519.0M90.2,529.9 88.2,528.5 86.0,527.2 84.6,525.1M85.1,519.0 84.2,522.0 84.6,525.1M108.6,462.8 109.5,467.0M108.6,462.8 110.8,462.9 112.9,463.8 115.3,463.0 117.3,464.8 119.6,464.3M109.5,467.0 111.1,468.9 113.2,469.9 115.5,470.6M116.2,470.5 119.3,469.5 122.6,468.9M122.6,468.9 122.6,468.9M109.2,460.7 108.4,462.5M108.4,462.5 108.6,462.8M113.2,478.2 113.5,475.5 114.1,472.9 115.5,470.6M108.5,470.4 109.5,467.0M117.4,474.4 116.2,470.5M104.0,450.7 104.3,454.0 103.2,457.1M108.4,462.5 106.2,462.5M103.2,457.1 104.5,459.9 106.2,462.5M95.9,465.6 99.4,465.6M102.0,463.4 100.2,461.5 98.4,459.8 97.2,457.5 95.4,455.6 93.9,453.6M92.3,457.5 92.4,456.6M92.6,467.0 95.9,465.6M92.7,474.1 92.0,473.6M99.9,473.5 99.6,470.9 99.2,468.3 99.4,465.6M90.6,471.8 92.0,473.6M96.3,497.7 98.2,498.8 99.8,500.5 102.0,501.3M100.8,495.5 102.3,497.6 102.6,500.2M104.5,504.4 102.0,501.6M112.3,507.4 113.3,504.8M112.3,507.4 110.1,510.3M110.1,510.3 107.4,510.5M113.3,504.8 112.1,503.3M112.1,503.3 109.7,502.5M104.5,504.4 107.2,503.7 109.7,502.5M96.3,497.7 96.0,500.1 94.4,501.9M94.4,501.9 96.9,503.1M96.9,503.1 99.4,502.2 101.9,501.5M102.0,501.3 101.9,501.5M97.7,509.9 97.4,507.6 97.5,505.3 96.9,503.1M102.0,501.6 101.9,501.5M109.8,489.7 106.8,489.9M109.8,489.7 109.2,492.8M102.6,500.2 105.8,498.4M109.7,502.5 108.2,500.8 106.8,498.8M105.8,498.4 106.8,498.8M93.6,502.4 92.6,505.2 91.9,508.0M91.9,508.0 89.3,508.5M89.3,508.5 88.7,508.5M93.9,502.0 94.4,501.9M97.3,510.3 94.3,509.9 91.9,508.0M97.2,518.0 97.6,517.6M82.6,516.8 82.1,515.1M82.1,515.1 82.7,512.7 83.9,510.7 85.9,509.1M83.4,517.7 85.1,519.0M91.9,477.7 91.2,480.3 89.0,481.9M94.7,480.9 92.4,481.9 90.9,483.9M101.7,530.5 104.7,528.0M108.6,532.9 110.3,531.1M107.0,511.2 106.5,515.3M98.6,517.5 101.2,518.4 104.0,518.7M104.0,518.7 106.5,515.3M121.8,537.1 121.2,534.0 120.5,530.9M121.0,529.8 120.5,530.9M121.0,529.8 121.6,529.8M121.3,524.5 118.2,525.8M124.9,526.1 125.2,527.5M121.0,529.8 119.6,527.8 118.2,525.8M124.4,521.8 122.9,519.2M122.7,514.9 121.3,518.3M51.3,510.4 51.2,513.0 51.2,515.6M42.9,515.8 44.2,516.3M48.3,536.4 51.2,535.8 54.2,536.0M54.2,536.1 54.2,536.0M34.7,507.4 32.5,503.8M27.3,505.5 26.5,507.6 26.3,509.9M26.3,509.9 26.9,511.8M26.9,511.8 27.7,511.7M24.0,503.6 27.3,505.5M22.2,506.5 24.5,507.9 26.3,509.9M24.5,515.0 26.9,511.8M22.8,479.6 23.3,482.1 21.6,484.3 21.7,486.8M32.9,481.1 35.3,481.8 37.6,482.8M37.7,484.4 37.6,485.4M37.6,485.4 34.6,487.1M34.6,487.1 32.1,486.7 29.5,486.3 26.9,487.1 24.3,487.6 21.7,486.8M21.7,486.8 21.5,489.2 20.0,491.2M20.0,491.2 22.8,491.9 25.6,492.4M36.8,510.6 38.5,512.5 39.6,514.7 40.2,517.2M40.2,517.2 38.5,519.8M37.8,520.1 38.5,519.8M36.8,508.1 34.7,507.4M37.0,508.3 36.8,510.6M45.8,523.8 47.0,522.8M47.0,522.8 46.5,520.5 45.0,518.5 44.2,516.3M44.9,527.1 45.8,523.8M48.2,485.9 47.1,488.2 46.5,490.6M38.5,487.6 41.3,488.2 44.0,489.2 46.5,490.6M43.7,499.4 43.7,499.3M51.1,496.9 47.4,495.5M43.7,499.3 45.4,497.3 47.4,495.5M51.3,490.7 48.4,491.8M46.5,490.6 48.4,491.8M74.1,510.3 73.7,507.7 73.3,505.2 72.6,502.7M74.5,510.9 76.5,509.0 77.4,506.4M77.4,506.4 76.9,503.8 76.6,501.1M69.6,508.1 71.6,509.8 74.1,510.3M68.8,500.7 72.6,502.7M57.4,508.6 59.3,506.9 59.9,504.4M57.7,500.7 59.9,504.4M59.9,504.4 60.5,504.3M79.8,458.9 80.7,459.0M79.8,458.9 78.9,456.4M80.7,459.0 83.5,458.2 85.3,455.6 87.9,454.4M83.7,460.2 80.7,459.0M85.5,475.4 87.1,477.5M85.5,475.4 82.8,475.8M86.9,480.0 87.4,478.4M83.0,475.5 82.8,475.8M90.1,471.7 87.7,474.1M79.6,476.3 80.8,476.8M80.8,476.8 81.0,476.8M32.7,456.8 33.1,459.4M33.1,459.4 32.9,459.5M28.2,459.5 30.5,459.8 32.9,459.5M37.8,455.2 38.3,458.0M35.5,460.4 38.3,458.0M60.7,514.4 58.3,517.8M68.4,516.4 68.6,518.8 68.6,521.1M59.2,519.8 58.3,517.8M51.2,515.6 53.3,516.9 55.5,517.8 58.0,517.8M58.0,517.8 58.3,517.8M59.2,541.2 61.7,539.5 62.9,536.8M70.3,538.3 67.9,537.6 65.5,536.4 62.9,536.8M98.2,481.6 99.4,484.4 99.0,487.5M99.0,487.5 99.1,487.5M90.9,483.9 91.1,484.9M95.9,489.6 94.1,488.3 93.0,486.2 91.1,484.9M95.9,489.6 96.3,489.3M99.0,487.5 96.3,489.3M95.4,493.0 95.0,492.3M100.8,495.5 103.3,494.1M95.0,492.3 95.9,489.6M96.3,489.3 98.6,491.0 100.7,492.9 103.3,494.1M112.4,497.3 116.2,496.9M111.9,496.8 111.1,494.1M112.7,492.5 116.0,491.0M112.1,503.3 113.0,500.3 112.4,497.3M113.3,504.8 115.9,504.8 118.2,503.5M117.1,497.5 116.2,496.9M121.6,501.2 118.2,503.5M118.1,488.5 116.0,491.0M110.5,489.0 111.3,486.8 111.5,484.5M87.0,499.1 87.4,497.3M87.0,499.1 85.1,501.5 83.5,504.2M83.0,504.0 83.5,504.2M83.0,504.0 80.8,501.6 78.2,499.6M78.2,499.6 78.3,497.4M93.9,502.0 92.2,500.0 90.0,498.4 88.2,496.4M89.5,502.5 87.0,499.1M88.2,496.4 87.4,497.3M85.9,509.1 85.4,506.2 83.5,504.2M82.1,515.1 79.4,514.3 77.2,512.4 74.6,511.2M76.6,501.1 78.2,499.6M81.6,480.9 83.0,482.7M86.9,480.0 87.5,481.1M87.5,481.1 85.2,481.7 83.0,482.7M87.5,481.1 88.2,481.7M108.7,524.2 106.3,524.0M106.3,524.0 104.8,521.9 104.9,519.4M104.9,519.4 108.7,518.6M110.9,519.1 108.7,518.6M105.3,524.8 106.3,524.0M108.0,516.5 108.7,518.6M112.3,527.7 115.1,526.6M115.1,526.6 115.3,528.9 116.3,531.0 116.9,533.3M116.9,533.3 115.3,535.3M110.3,531.1 110.8,530.9M118.2,525.8 117.1,525.3M117.1,525.3 117.0,525.3M122.0,511.5 121.7,512.0M122.0,511.5 119.1,509.0M121.7,512.0 117.7,513.7M119.1,509.0 116.9,510.4M116.9,510.4 117.7,513.7M124.5,509.8 122.0,511.5M118.2,503.5 117.9,506.4 119.1,509.0M112.3,507.4 114.3,509.4 116.9,510.4M117.0,523.6 115.0,522.1 114.7,519.5 113.2,517.7M120.8,518.4 119.2,516.2 116.7,515.1M116.7,515.1 113.7,515.9M113.7,515.9 113.2,517.7M117.1,525.3 117.0,523.6M121.3,518.3 120.8,518.4M117.7,513.7 116.7,515.1M31.5,497.1 31.0,494.7M31.5,497.1 34.0,496.7 36.3,497.9M31.0,494.7 33.3,493.2 36.0,492.9 38.6,492.2M36.8,497.7 36.3,497.9M37.8,497.0 39.1,496.1M38.6,492.2 39.1,496.1M28.9,498.7 31.5,497.1M29.2,491.7 31.0,494.7M38.5,487.6 39.0,489.9 38.6,492.2M37.3,507.2 37.5,504.8 36.3,502.4 37.4,500.0 36.8,497.7M38.4,505.6 37.9,502.7 38.5,499.8 37.8,497.0M69.9,497.6 68.4,496.0 66.1,495.2 64.8,493.3 63.3,491.7M61.6,493.9 63.3,491.7M63.2,502.5 66.2,499.7M57.7,500.7 60.4,499.7 62.3,497.7M63.6,490.8 63.3,491.7M62.6,502.5 60.5,504.3M62.6,502.5 62.3,499.2M62.3,499.2 62.2,502.0 60.5,504.3M63.2,502.5 62.6,502.5M60.5,504.3 60.5,504.3M31.2,462.5 31.7,464.8 32.0,467.2M30.2,468.1 29.1,465.8 27.6,463.8M27.6,463.8 28.2,462.7M28.2,459.5 28.2,462.7M32.9,459.5 31.2,462.5M29.5,469.2 30.2,468.1M23.5,463.6 27.6,463.8M33.5,467.0 34.6,466.4M35.6,474.2 36.8,474.8M32.0,467.2 33.5,467.0M40.0,478.9 37.5,475.4M36.2,462.6 35.5,465.6M35.5,465.6 38.1,466.2 40.4,467.4M39.6,462.8 42.1,463.5 43.7,465.5M40.4,467.4 41.7,467.5M43.7,465.5 41.7,467.5M41.3,458.6 40.9,460.9 39.6,462.8M34.6,466.4 35.5,465.6M55.8,520.0 52.8,519.9 50.1,521.3M53.6,525.2 51.5,523.8 49.9,521.9M58.0,517.8 55.8,520.0M70.5,538.0 72.9,537.4 75.5,537.9 77.8,536.7M70.4,532.8 70.9,530.0 71.5,527.2M77.8,529.3 81.0,531.5M77.8,536.7 80.0,534.9M80.0,534.9 81.6,532.7M81.6,532.7 81.0,531.5M78.6,542.4 77.3,539.7 77.8,536.7M70.3,538.3 70.5,538.0M83.4,517.7 83.0,520.4 81.7,522.6 80.8,525.1 78.4,526.8 77.8,529.3M84.6,525.1 83.9,527.6 82.3,529.5 81.0,531.5M81.3,540.5 80.5,537.7 80.0,534.9M62.9,536.8 62.8,536.5M70.4,532.8 67.3,533.1 64.1,533.1M62.8,536.5 64.1,533.1M90.3,494.3 91.8,493.5M88.2,496.4 88.2,496.2M95.0,492.3 91.8,493.5M91.1,484.9 87.7,487.5M103.7,494.0 106.0,495.4M106.0,495.4 107.1,494.5M104.7,488.6 104.9,488.8M105.8,498.4 106.0,495.4M109.5,493.6 107.1,494.5M106.8,489.9 104.9,488.8M109.5,483.8 107.5,485.1 106.1,486.9 104.7,488.6M88.2,496.2 86.8,494.4 85.0,493.1 83.1,491.9M85.1,488.1 84.1,486.6M83.0,482.7 82.4,485.7M84.1,486.6 82.4,485.7M81.6,480.9 78.8,484.1M76.4,483.4 78.8,484.1M78.8,484.1 81.3,485.9M83.1,491.9 82.7,492.0M82.7,492.0 80.9,490.3 80.1,487.9M77.6,495.8 75.9,494.3 73.8,493.1M76.8,489.3 77.6,489.1M78.3,497.4 77.6,495.8M69.9,497.6 71.7,495.3 73.8,493.1M80.1,487.9 77.6,489.1M76.4,483.4 76.7,486.4 76.8,489.3M70.7,525.0 69.4,523.4M71.5,527.2 70.9,526.2M70.7,525.0 70.9,526.2M69.4,523.4 67.5,523.7M55.4,532.2 57.5,532.6 59.6,533.3M55.4,527.5 57.3,526.5M57.3,526.5 58.9,526.9M62.8,536.5 61.3,534.8 59.6,533.3M64.1,533.1 63.3,530.2M70.9,526.2 68.0,526.8 65.6,528.1 63.4,530.0M45.5,530.2 47.9,530.6 50.1,530.1 52.5,530.2 54.7,529.4" stroke="#a88050" stroke-width="0.95" fill="none" stroke-linecap="round" stroke-linejoin="round" filter="url(#dblur)"/>
<path d="M46.9,446.4 46.9,448.8 45.5,451.0 45.2,453.4 45.9,455.9 45.0,458.2M50.7,459.9 48.9,461.1 46.8,461.9M20.4,523.7 21.9,526.6 23.2,529.6M123.6,472.3 124.5,474.5M117.4,474.4 116.8,476.7 115.0,478.2M123.9,480.8 124.0,480.7M142.6,470.7 140.3,471.0 138.2,471.9 136.0,472.9 133.4,471.7 131.2,472.3 128.9,473.0 126.7,473.5 124.5,474.5M123.7,480.1 124.0,480.7M132.8,468.0 130.3,467.7 127.9,467.4 125.6,468.7 123.1,468.5M123.1,468.5 124.3,465.4 126.9,463.4M126.9,463.4 126.2,460.4 124.5,457.8M117.2,450.5 116.1,453.0 114.2,454.7 112.8,456.9 111.4,459.1 109.2,460.7M104.0,450.7 105.4,452.5 105.7,454.9 107.2,456.6 107.8,458.9 109.2,460.7M125.4,494.7 124.8,496.9 124.4,499.2 122.8,501.0M122.8,501.0 124.9,502.2 125.9,504.3M125.9,504.3 128.1,505.2 130.4,505.0 132.6,506.0 134.9,506.2 137.2,506.5 139.4,507.3 141.8,506.4 144.1,506.8 146.4,506.8 148.5,508.6 150.8,508.3M45.9,475.4 49.1,474.5M45.9,475.4 45.1,472.7 46.7,470.0 46.6,467.3 45.9,464.6M46.7,464.0 48.6,466.2 51.3,467.0M24.0,535.9 27.5,535.2M27.5,535.2 30.0,535.7 31.6,538.0 34.0,538.9M21.9,535.0 24.0,535.9M30.0,530.8 28.9,533.1 27.5,535.2M30.0,530.8 27.6,530.1 26.2,528.0M42.0,538.7 45.2,538.5 48.0,536.9M38.3,534.5 37.7,534.5M38.3,534.5 40.8,536.1 42.0,538.7M110.6,483.4 111.4,479.7M110.6,483.4 111.5,484.5M111.5,484.5 114.2,485.1 115.5,487.9 118.1,488.5M120.1,488.3 118.1,488.5M122.8,501.0 121.6,501.2M117.1,497.5 119.7,498.9 121.6,501.2M100.1,534.4 101.7,530.5M100.1,534.4 100.0,534.5M100.0,534.5 97.4,533.8 95.4,532.2 93.6,530.2M101.7,530.5 100.5,528.4 100.0,526.0M26.6,520.4 25.7,517.6 24.5,515.0M57.6,476.5 60.3,479.2M60.3,479.2 57.3,480.2 55.1,482.4M62.0,480.6 61.7,482.9 60.6,484.9M50.4,482.6 47.9,481.8 45.7,480.3 43.5,478.7 40.8,478.3M48.2,485.9 45.5,486.0 43.1,484.3 40.4,484.2 37.7,484.4M37.6,482.8 37.7,484.4M52.3,480.5 50.4,482.6M54.5,486.4 55.2,485.9M53.4,476.7 53.1,476.5M45.9,475.4 43.4,476.1 41.3,477.8M91.9,477.7 92.7,474.1M50.7,459.9 53.6,460.9 56.5,461.3M46.8,461.9 46.7,464.0M51.3,467.0 54.5,466.8M56.5,461.3 56.1,464.2 54.5,466.8M53.1,476.5 53.5,474.1 54.0,471.8 53.9,469.4 55.1,467.2M57.6,476.5 58.6,473.8 59.0,471.0M59.0,471.0 57.3,468.4M60.7,456.7 63.0,459.5M63.0,459.5 61.7,461.5 60.3,463.3 58.8,465.2 58.4,467.6M72.5,482.2 70.9,480.6 69.6,478.8M62.0,480.3 65.2,478.4M62.0,480.6 64.1,482.2 65.7,484.4 68.0,486.0 69.8,487.9M69.6,478.8 65.2,478.4M62.2,470.8 63.8,472.4 65.1,474.2M59.0,471.0 62.2,470.8M80.2,468.4 78.8,466.2 78.5,463.7 78.2,461.2M77.4,461.7 78.2,461.2M30.0,530.8 32.1,529.9 34.4,529.9M28.1,521.5 30.3,522.0 32.5,522.0M34.4,529.9 33.9,527.2 33.2,524.6 32.5,522.0M23.7,501.0 26.1,500.6 28.5,500.6M19.1,491.9 20.1,494.0 21.2,496.1M19.5,506.4 22.2,506.5M24.0,503.6 22.2,506.5M24.0,503.6 23.7,501.0M93.6,530.2 93.4,532.8 91.1,534.4 91.0,536.9M90.8,537.8 91.0,536.9M90.8,537.8 93.0,539.2M100.1,534.4 102.8,533.1 105.8,533.8 108.6,532.9M108.6,532.9 108.7,535.7 109.6,538.4 109.2,541.2M92.8,529.2 90.2,529.9M87.8,531.4 90.2,529.9M112.4,478.6 111.6,476.4 110.3,474.5 110.1,472.1 108.5,470.4M103.8,476.7 102.6,474.7M97.8,480.9 98.4,478.5 99.1,476.2 100.5,474.1M97.8,480.9 96.6,480.6M93.5,474.3 96.7,474.1 99.9,473.5M100.5,474.1 99.9,473.5M103.8,476.7 103.1,480.2M102.6,474.7 100.5,474.1M98.2,481.6 100.8,481.4 103.1,480.2M110.6,483.4 109.5,483.8M109.5,483.8 106.8,482.9 104.0,482.2M104.0,482.2 103.1,480.2M124.4,539.1 121.8,537.1M105.1,508.8 102.8,509.0 100.5,509.1 98.2,509.6M105.1,508.8 107.4,510.5M98.2,509.6 97.7,509.9M97.3,510.3 98.1,512.7 96.7,515.2 97.6,517.6M94.3,520.3 97.2,518.0M97.2,518.0 99.0,519.4 100.2,521.4 101.3,523.4 103.5,524.5M121.3,524.5 124.9,526.1M128.2,513.7 126.5,511.6 124.5,509.8M44.9,527.1 42.5,526.0 39.8,526.2M35.4,530.7 37.3,528.1 39.8,526.2M45.2,530.9 45.5,530.2M35.6,474.2 32.9,474.5 30.2,473.6M30.2,473.6 27.5,470.8M29.5,469.2 27.5,470.8M20.1,475.2 22.6,472.5M18.9,453.5 20.6,455.1 20.1,457.8 21.0,459.8 22.9,461.4 23.5,463.6M22.8,479.6 20.8,477.8 20.1,475.2M32.9,481.1 31.2,478.9 30.6,476.3 30.2,473.6M22.6,472.5 24.9,471.2 27.5,470.8M48.9,502.5 51.7,504.2M51.3,510.4 48.9,509.7 46.4,510.5 43.9,510.0M43.9,510.0 43.2,509.2M45.3,501.3 43.7,499.4M37.3,507.2 38.4,505.6M37.0,508.3 40.0,509.1 43.2,509.2M38.4,505.6 40.6,503.9 42.1,501.6 43.7,499.4M69.8,487.9 69.7,488.8M61.4,487.4 63.6,490.8M69.7,488.8 66.6,489.5 63.6,490.8M57.4,508.6 59.7,508.7 62.0,508.9 64.2,508.3M66.8,504.9 65.5,505.6M69.6,508.1 67.5,509.9 65.0,511.1M64.2,508.3 65.0,505.9M55.2,500.2 53.5,502.3 51.7,504.2M51.1,496.9 54.4,496.3M49.0,485.8 49.7,488.5 51.3,490.7M53.3,490.8 53.7,491.3M80.2,468.4 83.0,465.7M78.2,461.2 79.2,459.9M85.2,469.4 85.3,467.0M72.5,482.2 74.9,482.0M78.1,473.3 79.6,476.3M90.9,460.3 90.3,464.5M90.5,464.9 88.1,464.5 86.0,465.8M90.5,464.9 90.3,464.5M84.8,461.3 85.2,463.6 86.0,465.8M85.8,469.9 83.9,472.5 83.0,475.5M92.6,467.0 90.5,464.9M85.3,467.0 86.0,465.8M67.1,459.7 70.1,457.3M70.1,457.3 71.5,457.6M73.8,456.2 71.5,457.6M72.1,469.0 69.9,471.7M65.7,465.7 65.6,466.2M65.6,466.2 66.5,468.5 67.4,470.7M69.9,471.7 67.9,471.5M72.3,462.4 71.6,461.7M72.3,462.4 74.9,462.9 77.4,461.7M74.5,469.2 72.1,469.0M62.2,470.8 64.0,468.6 65.6,466.2M62.2,470.8 64.8,470.0 67.4,470.7M65.1,474.2 67.9,471.5M88.2,539.9 90.0,537.9M84.3,540.9 84.4,538.3 84.4,535.7 83.2,533.3M84.1,533.3 84.4,533.6M93.8,520.8 91.8,519.5 89.6,519.4 87.2,519.9 85.1,519.0M90.2,529.9 88.2,528.5 86.0,527.2 84.6,525.1M85.1,519.0 84.2,522.0 84.6,525.1M108.6,462.8 109.5,467.0M108.6,462.8 110.8,462.9 112.9,463.8 115.3,463.0 117.3,464.8 119.6,464.3M109.5,467.0 111.1,468.9 113.2,469.9 115.5,470.6M122.6,468.9 122.6,468.9M109.2,460.7 108.4,462.5M113.2,478.2 113.5,475.5 114.1,472.9 115.5,470.6M117.4,474.4 116.2,470.5M104.0,450.7 104.3,454.0 103.2,457.1M108.4,462.5 106.2,462.5M102.0,463.4 100.2,461.5 98.4,459.8 97.2,457.5 95.4,455.6 93.9,453.6M92.6,467.0 95.9,465.6M92.7,474.1 92.0,473.6M90.6,471.8 92.0,473.6M96.3,497.7 98.2,498.8 99.8,500.5 102.0,501.3M104.5,504.4 102.0,501.6M112.3,507.4 113.3,504.8M112.3,507.4 110.1,510.3M110.1,510.3 107.4,510.5M113.3,504.8 112.1,503.3M112.1,503.3 109.7,502.5M104.5,504.4 107.2,503.7 109.7,502.5M96.3,497.7 96.0,500.1 94.4,501.9M94.4,501.9 96.9,503.1M102.0,501.3 101.9,501.5M97.7,509.9 97.4,507.6 97.5,505.3 96.9,503.1M109.8,489.7 106.8,489.9M109.8,489.7 109.2,492.8M102.6,500.2 105.8,498.4M105.8,498.4 106.8,498.8M93.6,502.4 92.6,505.2 91.9,508.0M91.9,508.0 89.3,508.5M89.3,508.5 88.7,508.5M93.9,502.0 94.4,501.9M97.3,510.3 94.3,509.9 91.9,508.0M82.6,516.8 82.1,515.1M82.1,515.1 82.7,512.7 83.9,510.7 85.9,509.1M91.9,477.7 91.2,480.3 89.0,481.9M101.7,530.5 104.7,528.0M108.6,532.9 110.3,531.1M107.0,511.2 106.5,515.3M98.6,517.5 101.2,518.4 104.0,518.7M104.0,518.7 106.5,515.3M121.8,537.1 121.2,534.0 120.5,530.9M121.0,529.8 120.5,530.9M121.0,529.8 121.6,529.8M121.3,524.5 118.2,525.8M124.4,521.8 122.9,519.2M122.7,514.9 121.3,518.3M51.3,510.4 51.2,513.0 51.2,515.6M42.9,515.8 44.2,516.3M48.3,536.4 51.2,535.8 54.2,536.0M54.2,536.1 54.2,536.0M34.7,507.4 32.5,503.8M26.3,509.9 26.9,511.8M26.9,511.8 27.7,511.7M22.2,506.5 24.5,507.9 26.3,509.9M32.9,481.1 35.3,481.8 37.6,482.8M37.7,484.4 37.6,485.4M21.7,486.8 21.5,489.2 20.0,491.2M36.8,510.6 38.5,512.5 39.6,514.7 40.2,517.2M40.2,517.2 38.5,519.8M36.8,508.1 34.7,507.4M45.8,523.8 47.0,522.8M47.0,522.8 46.5,520.5 45.0,518.5 44.2,516.3M48.2,485.9 47.1,488.2 46.5,490.6M38.5,487.6 41.3,488.2 44.0,489.2 46.5,490.6M51.1,496.9 47.4,495.5M43.7,499.3 45.4,497.3 47.4,495.5M51.3,490.7 48.4,491.8M46.5,490.6 48.4,491.8M74.1,510.3 73.7,507.7 73.3,505.2 72.6,502.7M74.5,510.9 76.5,509.0 77.4,506.4M77.4,506.4 76.9,503.8 76.6,501.1M69.6,508.1 71.6,509.8 74.1,510.3M68.8,500.7 72.6,502.7M57.4,508.6 59.3,506.9 59.9,504.4M57.7,500.7 59.9,504.4M59.9,504.4 60.5,504.3M79.8,458.9 80.7,459.0M79.8,458.9 78.9,456.4M80.7,459.0 83.5,458.2 85.3,455.6 87.9,454.4M85.5,475.4 82.8,475.8M90.1,471.7 87.7,474.1M80.8,476.8 81.0,476.8M32.7,456.8 33.1,459.4M33.1,459.4 32.9,459.5M35.5,460.4 38.3,458.0M68.4,516.4 68.6,518.8 68.6,521.1M59.2,519.8 58.3,517.8M51.2,515.6 53.3,516.9 55.5,517.8 58.0,517.8M58.0,517.8 58.3,517.8M59.2,541.2 61.7,539.5 62.9,536.8M70.3,538.3 67.9,537.6 65.5,536.4 62.9,536.8M98.2,481.6 99.4,484.4 99.0,487.5M99.0,487.5 99.1,487.5M90.9,483.9 91.1,484.9M95.9,489.6 94.1,488.3 93.0,486.2 91.1,484.9M99.0,487.5 96.3,489.3M100.8,495.5 103.3,494.1M95.0,492.3 95.9,489.6M96.3,489.3 98.6,491.0 100.7,492.9 103.3,494.1M112.4,497.3 116.2,496.9M111.9,496.8 111.1,494.1M112.7,492.5 116.0,491.0M112.1,503.3 113.0,500.3 112.4,497.3M113.3,504.8 115.9,504.8 118.2,503.5M117.1,497.5 116.2,496.9M121.6,501.2 118.2,503.5M118.1,488.5 116.0,491.0M87.0,499.1 85.1,501.5 83.5,504.2M83.0,504.0 83.5,504.2M83.0,504.0 80.8,501.6 78.2,499.6M78.2,499.6 78.3,497.4M93.9,502.0 92.2,500.0 90.0,498.4 88.2,496.4M85.9,509.1 85.4,506.2 83.5,504.2M82.1,515.1 79.4,514.3 77.2,512.4 74.6,511.2M76.6,501.1 78.2,499.6M81.6,480.9 83.0,482.7M86.9,480.0 87.5,481.1M87.5,481.1 85.2,481.7 83.0,482.7M87.5,481.1 88.2,481.7M106.3,524.0 104.8,521.9 104.9,519.4M104.9,519.4 108.7,518.6M110.9,519.1 108.7,518.6M105.3,524.8 106.3,524.0M112.3,527.7 115.1,526.6M116.9,533.3 115.3,535.3M110.3,531.1 110.8,530.9M118.2,525.8 117.1,525.3M117.1,525.3 117.0,525.3M122.0,511.5 119.1,509.0M121.7,512.0 117.7,513.7M118.2,503.5 117.9,506.4 119.1,509.0M112.3,507.4 114.3,509.4 116.9,510.4M120.8,518.4 119.2,516.2 116.7,515.1M113.7,515.9 113.2,517.7M117.1,525.3 117.0,523.6M31.5,497.1 34.0,496.7 36.3,497.9M31.0,494.7 33.3,493.2 36.0,492.9 38.6,492.2M36.8,497.7 36.3,497.9M38.6,492.2 39.1,496.1M28.9,498.7 31.5,497.1M38.5,487.6 39.0,489.9 38.6,492.2M37.3,507.2 37.5,504.8 36.3,502.4 37.4,500.0 36.8,497.7M69.9,497.6 68.4,496.0 66.1,495.2 64.8,493.3 63.3,491.7M61.6,493.9 63.3,491.7M57.7,500.7 60.4,499.7 62.3,497.7M62.6,502.5 62.3,499.2M63.2,502.5 62.6,502.5M60.5,504.3 60.5,504.3M32.9,459.5 31.2,462.5M29.5,469.2 30.2,468.1M35.6,474.2 36.8,474.8M32.0,467.2 33.5,467.0M36.2,462.6 35.5,465.6M35.5,465.6 38.1,466.2 40.4,467.4M40.4,467.4 41.7,467.5M43.7,465.5 41.7,467.5M41.3,458.6 40.9,460.9 39.6,462.8M34.6,466.4 35.5,465.6M55.8,520.0 52.8,519.9 50.1,521.3M53.6,525.2 51.5,523.8 49.9,521.9M58.0,517.8 55.8,520.0M70.4,532.8 70.9,530.0 71.5,527.2M77.8,536.7 80.0,534.9M81.6,532.7 81.0,531.5M78.6,542.4 77.3,539.7 77.8,536.7M70.3,538.3 70.5,538.0M84.6,525.1 83.9,527.6 82.3,529.5 81.0,531.5M81.3,540.5 80.5,537.7 80.0,534.9M62.9,536.8 62.8,536.5M70.4,532.8 67.3,533.1 64.1,533.1M90.3,494.3 91.8,493.5M88.2,496.4 88.2,496.2M91.1,484.9 87.7,487.5M106.0,495.4 107.1,494.5M105.8,498.4 106.0,495.4M109.5,493.6 107.1,494.5M109.5,483.8 107.5,485.1 106.1,486.9 104.7,488.6M88.2,496.2 86.8,494.4 85.0,493.1 83.1,491.9M83.0,482.7 82.4,485.7M84.1,486.6 82.4,485.7M81.6,480.9 78.8,484.1M78.8,484.1 81.3,485.9M83.1,491.9 82.7,492.0M77.6,495.8 75.9,494.3 73.8,493.1M76.8,489.3 77.6,489.1M78.3,497.4 77.6,495.8M69.9,497.6 71.7,495.3 73.8,493.1M70.7,525.0 69.4,523.4M71.5,527.2 70.9,526.2M70.7,525.0 70.9,526.2M69.4,523.4 67.5,523.7M55.4,527.5 57.3,526.5M57.3,526.5 58.9,526.9M62.8,536.5 61.3,534.8 59.6,533.3M64.1,533.1 63.3,530.2M45.5,530.2 47.9,530.6 50.1,530.1 52.5,530.2 54.7,529.4" stroke="#fce8c4" stroke-width="0.65" fill="none" stroke-linecap="round" stroke-dasharray="1.2 0.9" opacity="0.9"/>
<circle cx="37.9" cy="472.1" r="10" fill="#3a2412" opacity="0.3" filter="url(#dblur)"/>
<circle cx="45.9" cy="526.1" r="9" fill="#050302" opacity="0.75" filter="url(#dblur)"/>
<circle cx="70.9" cy="524.1" r="7" fill="#050302" opacity="0.6" filter="url(#dblur)"/>
<circle cx="105.9" cy="526.1" r="7" fill="#050302" opacity="0.6" filter="url(#dblur)"/>
<circle cx="95.9" cy="502.1" r="5" fill="#050302" opacity="0.5" filter="url(#dblur)"/>
</g>
<g clip-path="url(#cd1)">
<rect x="124.2" y="462.1" width="95.0" height="71.4" fill="#1a0806"/>
<path d="M124.2,496.1 Q136.2,506.1 141.2,533.5 L124.2,533.5Z" fill="#a02010" opacity="0.9" filter="url(#dblur)"/>
<path d="M121.3,456.2 118.9,457.4 116.9,459.1M223.2,539.2 224.8,537.2 226.0,535.1 227.4,533.1M215.1,531.1 219.1,529.6M215.1,531.1 217.2,532.9 219.4,534.6 221.1,536.8M219.1,529.6 221.3,530.6 223.6,531.4M221.1,536.8 222.7,534.4 223.9,531.7M223.9,531.7 223.6,531.4M227.4,533.1 223.9,531.7M225.3,526.9 224.2,529.1 223.6,531.4M213.4,531.2 213.1,530.0M213.4,531.2 215.1,531.1M213.1,530.0 214.2,526.8M217.4,524.1 219.8,527.2M217.4,524.1 215.3,525.4M219.8,527.2 219.1,529.6M215.3,525.4 214.2,526.8M221.4,464.2 219.5,464.7M219.5,464.7 218.2,467.9M227.1,472.2 225.0,471.4 222.8,471.0 220.6,470.4 218.5,469.6M218.2,467.9 218.5,469.6M227.1,472.2 225.1,474.5 223.8,477.1M223.8,477.1 222.3,477.7M217.1,475.6 217.7,472.9 218.3,470.2M218.3,470.2 218.5,469.6M222.7,460.3 221.4,464.2M121.8,528.9 119.5,527.9 117.4,526.6 114.8,526.3 112.6,525.0M121.8,528.9 120.5,530.9 119.9,533.3M119.9,533.3 117.9,532.3M119.9,533.3 120.7,535.4M117.0,538.2 118.6,536.4 120.7,535.4M119.0,465.1 120.7,466.9M119.0,465.1 121.5,464.1 124.1,463.7M120.7,466.9 124.5,465.5M124.1,463.7 124.5,465.5M118.3,464.9 120.0,462.6 122.0,460.6 124.1,458.8M124.1,463.7 124.9,459.9M124.9,459.9 124.1,458.8M121.3,456.2 123.6,457.7M124.1,458.8 123.6,457.7M157.6,470.7 155.1,467.9M213.4,531.2 212.0,533.2M212.0,533.2 212.1,535.2M212.1,535.2 213.6,536.8 215.6,537.8 217.1,539.5M213.1,530.0 212.9,529.8M214.2,526.8 213.6,523.8 212.6,521.0M212.6,521.0 210.7,524.0M219.2,508.8 217.4,507.1 215.0,506.2M219.2,508.8 217.0,509.2 215.0,510.4M215.0,506.2 214.3,509.7M215.0,510.4 214.4,509.8M214.3,509.7 214.4,509.8M217.7,512.4 219.5,508.9M217.7,512.4 216.0,512.7M219.5,508.9 219.2,508.8M216.0,512.7 215.0,510.4M212.8,505.0 214.2,504.5M212.8,505.0 211.6,502.9 209.9,501.3 208.4,499.5M214.2,504.5 214.6,503.7M214.6,503.7 214.6,500.7M214.6,500.7 211.5,500.2 208.4,499.5M212.9,466.1 215.5,467.6M212.9,466.1 211.8,466.0M211.8,466.0 210.9,467.7M210.9,467.7 212.7,469.8M212.7,469.8 215.5,467.6M216.2,461.1 214.7,463.7 212.9,466.1M218.2,467.9 215.5,467.6M212.6,471.0 212.7,469.8M212.6,471.0 215.5,470.9 218.3,470.2M216.0,492.0 213.0,489.7M216.0,492.0 217.9,490.6 219.8,489.1M218.8,487.3 219.8,489.1M218.8,487.3 216.6,488.0 214.3,488.2M214.3,488.2 213.0,489.7M220.7,497.8 217.8,496.6M220.7,497.8 223.1,496.0M223.1,496.0 224.8,493.4M218.2,494.2 217.8,496.6M218.2,494.2 220.3,492.7 222.7,491.8M224.8,493.4 223.4,492.0M222.7,491.8 223.4,492.0M220.4,500.6 220.7,497.8M220.4,500.6 217.7,500.1 214.9,500.3M214.9,500.3 215.1,498.5M215.1,498.5 217.8,496.6M216.4,493.1 213.3,495.6M216.4,493.1 218.2,494.2M213.3,495.6 215.1,498.5M216.0,492.0 216.4,493.1M219.8,489.1 222.7,491.8M219.6,484.1 218.8,487.3M220.6,483.5 222.6,485.2 224.9,486.4M223.8,477.1 225.2,478.5M222.3,477.7 221.5,480.4 220.8,483.1M220.8,483.1 223.6,483.4 226.5,482.8M220.6,483.5 220.8,483.1M210.3,463.6 211.8,466.0M210.3,463.6 212.6,461.8 215.0,460.0M216.2,461.1 215.9,460.6M215.0,460.0 215.9,460.6M221.4,456.7 222.4,457.5M222.4,457.5 222.9,457.4M236.6,461.7 234.5,460.6 232.1,460.0 229.9,459.1 227.5,458.8 225.1,458.2 222.9,457.4M222.7,460.3 222.4,457.5M215.9,460.6 217.9,459.7 219.3,457.7 221.4,456.7M130.6,515.9 129.5,517.6M130.6,515.9 128.6,514.7 126.8,513.2M129.5,517.6 127.0,517.1 124.4,516.9M126.8,513.2 125.4,514.9 124.4,516.9M120.8,511.8 119.9,510.0M119.9,510.0 118.9,508.9M123.6,517.1 122.7,512.8M123.5,517.1 121.8,517.1M121.8,517.1 118.3,516.8M122.7,512.8 120.8,511.8M121.8,517.1 121.2,519.4 120.1,521.5M116.3,521.6 120.1,521.5M123.5,517.1 122.4,519.2 122.1,521.5M120.1,521.5 122.1,521.5M160.1,457.0 158.2,459.1M155.5,456.2 158.2,459.1M152.7,459.7 155.0,456.3M152.7,459.7 150.9,457.8 149.5,455.6M158.2,459.1 158.1,459.3M154.0,460.8 157.9,459.4M154.0,460.8 152.7,459.9M152.7,459.9 152.7,459.7M158.1,459.3 157.9,459.4M123.6,517.1 123.8,517.1M123.8,517.1 124.4,516.9M122.7,512.8 124.4,512.0M126.8,513.2 126.6,512.6M126.6,512.6 124.4,512.0M186.8,537.9 183.5,535.1M186.8,537.9 185.1,540.0 183.6,542.3M181.3,540.2 182.1,538.1 182.0,535.8M182.0,535.8 183.5,535.1M186.8,537.9 189.1,537.7 191.3,537.0M183.5,535.1 184.3,532.1M184.3,532.1 185.5,532.3M191.3,537.0 189.4,535.4 187.2,534.2 185.5,532.3M154.0,460.8 154.8,463.7M157.9,459.4 157.2,461.7 157.5,464.0M157.5,464.0 154.8,463.7M212.1,535.2 210.9,537.2M223.8,500.6 226.4,501.3 228.8,502.4 231.2,503.4 233.5,504.8M223.8,500.6 223.0,498.4 223.1,496.0M219.6,484.1 217.2,482.8 214.7,481.9M217.1,475.6 214.7,476.5M214.7,481.9 215.1,479.2 214.7,476.5M214.3,488.2 213.5,485.7 213.5,483.0M214.7,481.9 213.5,483.0M212.6,471.0 211.1,474.1M214.7,476.5 213.1,476.0M211.1,474.1 213.1,476.0M218.6,504.0 218.7,504.1M218.6,504.0 220.5,500.6M218.7,504.1 221.6,502.7M220.5,500.6 221.2,501.0M221.2,501.0 221.6,502.7M219.5,508.9 219.5,508.9M215.0,506.2 214.2,504.5M214.6,503.7 218.6,504.0M221.1,506.4 218.7,504.1M220.4,500.6 220.5,500.6M214.9,500.3 214.6,500.7M221.1,506.4 222.8,505.6M222.8,505.6 221.6,502.7M223.8,500.6 221.2,501.0M222.8,505.6 225.3,505.7 227.8,506.0 230.3,505.9M214.5,458.6 214.5,459.1M214.5,458.6 216.5,455.8M214.5,459.1 215.0,460.0M213.8,456.3 214.5,458.6M139.0,540.7 139.0,538.2M133.8,539.8 136.4,539.0 139.0,538.2M133.2,523.9 136.0,525.5M133.2,523.9 134.9,522.2M136.0,525.5 137.9,522.1M134.9,522.2 137.9,522.1M120.7,535.4 123.9,536.2M123.9,536.2 123.7,538.8 123.6,541.4M151.6,460.5 150.5,462.2M150.5,462.2 146.8,462.4M146.6,459.8 146.6,462.4M146.6,462.4 146.8,462.4M150.5,464.2 146.8,462.4M150.5,464.2 150.5,462.2M122.7,509.5 124.6,509.6M122.7,509.5 123.9,507.0M124.6,509.6 125.5,508.6M123.9,507.0 125.5,508.6M119.9,510.0 122.7,509.5M124.4,512.0 124.6,509.6M150.2,532.3 152.5,534.1 154.9,535.6M150.2,532.3 149.8,534.8 149.2,537.3M149.2,537.3 152.2,537.5 155.2,537.5M154.9,535.6 155.2,537.5M149.0,537.8 149.2,539.2M149.0,537.8 149.2,537.3M152.5,545.0 153.7,542.9 154.8,540.7 155.4,538.4M138.6,528.6 142.2,528.7M140.2,532.8 142.5,530.5M142.2,528.7 142.5,530.5M142.3,518.2 143.7,516.7M142.3,518.2 142.8,520.5M143.7,516.7 145.0,516.7M142.8,520.5 146.7,520.2M146.7,520.2 145.0,516.7M142.1,515.0 142.9,512.3M142.1,515.0 143.7,516.7M143.6,512.4 142.9,512.3M143.6,512.4 145.2,516.4M145.0,516.7 145.2,516.4M164.3,538.6 164.3,538.5M164.3,538.5 164.4,538.4M170.0,538.4 171.3,540.4 172.3,542.6M170.0,538.4 169.3,537.6M165.1,486.7 164.4,489.6 164.7,492.5M165.1,486.7 162.0,485.9M157.1,489.2 157.1,488.3M157.1,488.3 159.4,487.0M162.0,485.9 159.4,487.0M192.6,539.5 192.1,537.4M191.3,537.0 191.4,537.0M192.1,537.4 191.4,537.0M197.4,509.0 198.0,506.3M197.4,509.0 194.1,508.9M195.9,503.1 193.7,504.6 191.2,505.3M195.9,503.1 197.1,503.4M191.2,505.3 192.9,506.9 194.1,508.9M198.0,506.3 197.1,503.4M194.2,498.6 193.4,499.8M194.2,498.6 197.7,500.2M197.7,500.2 198.0,501.0M198.0,501.0 197.7,502.6M195.9,503.1 193.5,500.0M197.1,503.4 197.7,502.6M155.0,467.1 153.0,468.7 150.9,470.1M155.0,467.1 155.0,467.1M155.0,467.1 153.9,465.1M150.9,470.1 151.9,467.6 153.3,465.3M153.3,465.3 153.9,465.1M157.6,470.7 158.1,470.6M155.1,467.9 155.0,467.1M158.1,470.6 159.3,470.2M159.3,470.2 160.2,467.3M160.2,467.3 157.6,467.3 155.0,467.1M150.7,464.8 150.5,464.2M150.7,464.8 153.3,465.3M152.7,459.9 151.6,460.5M154.8,463.7 153.9,465.1M206.1,521.5 205.6,521.7M205.6,521.7 205.0,524.4M205.0,524.4 207.8,526.7M209.2,523.9 208.4,526.8M212.9,529.8 210.9,528.0 208.4,526.8M210.7,524.0 209.2,523.9M199.8,527.8 199.8,527.8M199.8,527.8 200.7,529.2M199.8,527.8 201.9,526.7 203.9,525.5M200.7,529.2 203.2,529.7 205.6,530.7M203.9,525.5 206.0,528.8M205.6,530.7 206.0,528.8M199.8,519.2 202.6,520.6 205.6,521.7M199.8,519.2 198.3,520.9 196.7,522.3M196.7,522.3 198.3,525.0 199.8,527.8M205.0,524.4 203.9,525.5M207.4,532.6 205.7,534.3 203.6,535.4M207.4,532.6 205.6,530.7M200.8,534.3 203.6,535.4M200.8,534.3 200.9,531.7 200.7,529.2M207.8,526.7 206.0,528.8M212.0,533.2 209.7,533.3 207.4,532.6M217.7,512.4 220.1,514.8M219.5,508.9 221.5,510.1 223.0,512.0M230.3,505.9 228.3,507.1 227.1,509.2 225.0,510.2 223.5,512.0M223.0,512.0 223.5,512.0M223.5,512.0 224.8,513.8 225.7,515.9M203.9,459.0 199.9,457.4M203.9,459.0 204.3,460.8M200.0,464.1 202.3,462.6 204.3,460.8M200.0,464.1 199.3,461.9 199.5,459.7 199.3,457.5M199.3,457.5 199.9,457.4M203.9,459.0 206.6,457.8M206.6,457.8 205.5,456.0M199.9,457.4 200.6,456.8M208.4,499.5 208.0,499.4M213.3,495.6 212.5,495.2M212.5,495.2 210.4,497.4 208.0,499.4M213.0,489.7 211.6,490.1M211.7,483.2 213.5,483.0M211.7,483.2 210.1,485.8M210.1,485.8 209.5,487.5M211.6,490.1 209.5,487.5M212.5,495.2 210.6,492.1M211.6,490.1 210.6,492.1M200.0,464.1 199.8,466.0M206.4,462.5 204.3,460.8M206.4,462.5 204.2,465.8M199.8,466.0 203.9,465.9M204.2,465.8 203.9,465.9M208.0,461.8 210.1,463.6M208.0,461.8 206.4,462.5M210.1,463.6 207.6,466.5M204.2,465.8 207.6,466.5M210.3,463.6 210.1,463.6M210.9,467.7 209.1,468.6M207.6,466.5 209.1,468.6M211.1,474.1 208.2,473.2M208.2,473.2 208.3,476.2 207.7,479.2M213.1,476.0 211.3,478.0 209.2,479.8M209.2,479.8 207.7,479.2M211.7,483.2 209.6,481.9M209.2,479.8 209.6,481.9M140.1,520.4 138.6,521.9M140.1,520.4 140.9,518.4M138.6,521.9 138.5,521.8M138.5,521.8 137.9,520.5M137.6,519.6 140.9,518.4M137.6,519.6 137.9,520.5M140.9,518.4 140.9,518.4M140.0,523.3 138.6,521.9M140.0,523.3 142.5,523.7M142.6,521.1 142.5,523.7M142.6,521.1 140.1,520.4M142.3,518.2 140.9,518.4M142.8,520.5 142.6,521.1M140.0,523.3 138.6,525.3 137.5,527.4M137.5,527.4 136.0,525.5M137.9,522.1 138.5,521.8M135.0,521.0 137.9,520.5M135.0,521.0 134.9,522.2M134.8,519.0 135.1,518.4M134.8,519.0 135.0,521.0M135.1,518.4 136.7,518.3M136.7,518.3 137.6,519.6M138.6,528.6 137.7,528.5M137.7,528.5 135.6,530.6M137.5,535.3 136.3,533.3 135.5,531.2M137.5,535.3 138.7,536.0M140.2,532.8 138.7,536.0M135.6,530.6 135.5,531.2M133.8,539.8 134.3,537.7M139.0,538.2 139.3,536.9M137.5,535.3 135.0,536.4M138.7,536.0 139.2,536.5M139.3,536.9 139.2,536.5M134.3,537.7 135.0,536.4M143.6,539.3 142.2,538.0M142.2,538.0 145.4,536.3M144.9,539.6 145.9,537.2M145.9,537.2 145.4,536.3M139.3,536.9 142.2,538.0M149.0,537.8 145.9,537.2M143.1,531.9 143.1,534.2M143.1,531.9 145.4,532.2 147.5,533.3M143.1,534.2 145.3,535.0M147.5,533.3 145.3,535.0M139.2,536.5 141.4,535.8 143.1,534.2M143.0,531.3 142.5,530.5M143.0,531.3 143.1,531.9M150.0,531.9 150.0,531.6M150.0,531.9 147.5,533.3M150.0,531.6 147.7,531.2 145.3,531.5 143.0,531.3M150.0,531.9 150.2,532.3M130.3,464.6 130.8,468.2M130.3,464.6 132.6,464.9 134.9,465.6M134.9,465.6 132.6,466.6 130.8,468.2M150.7,464.8 148.8,466.3M146.6,462.4 146.0,463.6M148.8,466.3 146.0,463.6M137.7,465.7 137.8,466.0M137.7,465.7 137.7,465.1M137.8,466.0 140.0,465.3 142.2,465.0 144.5,465.0M137.7,465.1 140.8,462.9M140.8,462.9 145.0,464.3M145.0,464.3 144.5,465.0M137.5,464.7 138.4,462.1 139.6,459.6M137.5,464.7 137.7,465.1M142.2,461.3 140.8,462.9M142.3,461.2 142.2,461.3M142.3,461.2 145.5,463.7M145.5,463.7 145.0,464.3M139.4,456.7 141.7,457.3 143.7,458.5M143.7,458.5 145.9,457.9M145.9,457.9 146.7,456.2M136.7,458.2 134.9,455.6M136.7,458.2 139.2,457.0M142.3,461.2 143.7,458.5M139.6,459.6 139.2,457.0M146.6,459.8 145.9,457.9M145.5,463.7 146.0,463.6M124.9,459.9 126.2,460.3M123.6,457.7 126.4,455.6M126.2,460.3 128.7,459.4 130.7,457.7M134.0,456.6 135.5,459.4M133.0,460.0 131.7,457.8M133.0,460.0 133.6,460.6M132.2,456.4 131.7,457.8M133.6,460.6 134.7,460.7M134.7,460.7 135.5,459.4M136.7,458.2 135.5,459.4M126.2,460.3 126.3,460.3M126.3,460.3 128.5,460.4 130.8,460.5 133.0,460.0M130.7,457.7 131.7,457.8M130.0,464.1 128.3,462.0 126.3,460.3M130.0,464.1 132.0,462.5 133.6,460.6M130.0,464.1 130.3,464.6M130.0,464.1 130.0,464.1M134.9,465.6 137.7,465.7M143.6,512.4 145.7,511.9M147.8,514.5 145.2,516.4M147.8,514.5 147.3,513.6M147.3,513.6 145.7,511.9M162.8,537.9 159.3,538.4M162.8,537.9 162.2,535.7 160.9,533.7M160.9,533.7 160.9,533.7M160.9,533.7 159.9,536.0 159.3,538.4M159.3,538.4 159.3,538.4M163.1,545.8 161.5,543.5 160.3,541.0 159.3,538.4M164.3,538.5 162.8,537.9M155.4,538.4 159.3,538.4M154.9,535.6 157.0,533.7 159.1,531.9M159.1,531.9 159.4,531.9M151.1,528.6 149.3,526.8 147.5,525.1 146.0,523.0M151.1,528.6 150.3,529.6M150.3,529.6 148.1,528.6 145.8,528.2 143.7,527.3M143.7,527.3 143.5,524.6M143.5,524.6 146.0,523.0M150.0,531.6 150.3,529.6M151.1,528.5 155.2,527.8M151.1,528.5 151.1,528.6M155.2,527.8 157.4,529.7 159.1,531.9M142.2,528.7 143.7,527.3M137.7,528.5 137.5,527.4M142.5,523.7 143.5,524.6M146.7,520.2 147.5,521.1M147.5,521.1 146.0,523.0M151.0,524.3 154.5,522.1M151.0,524.3 149.2,520.9M149.2,520.9 150.5,518.8 152.5,517.3M154.5,522.1 153.4,520.0 152.9,517.7M152.5,517.3 152.9,517.7M151.1,528.5 151.0,524.3M147.5,521.1 149.2,520.9M147.8,514.5 152.1,515.2M152.1,515.2 152.4,515.4M152.4,515.4 152.5,517.3M155.5,527.4 155.2,527.8M155.5,527.4 159.9,527.4M159.4,531.9 160.7,530.6M159.9,527.4 160.7,530.6M180.0,540.1 178.9,538.1 177.6,536.2M182.0,535.8 179.3,535.0M179.3,535.0 177.6,536.2M172.5,542.8 173.8,540.8 174.3,538.4 175.7,536.4M177.6,536.2 175.7,536.4M164.9,534.8 165.7,534.4M164.9,534.8 161.5,533.8M165.7,534.4 165.7,532.9M161.5,533.8 164.6,531.5M164.6,531.5 165.7,532.9M164.4,538.4 164.9,534.8M168.8,535.3 169.3,537.6M168.8,535.3 168.7,535.1M168.7,535.1 165.7,534.4M160.9,533.7 161.5,533.8M168.7,535.1 169.8,531.5M169.8,531.5 169.7,530.9M169.7,530.9 168.1,530.2M168.1,530.2 165.7,532.9M160.7,530.6 164.1,528.3M164.1,528.3 164.6,531.5M166.6,528.6 168.1,530.2M166.6,528.6 164.6,527.6M164.6,527.6 164.1,528.3M161.8,497.6 158.9,498.5M161.8,497.6 164.1,498.3M161.3,503.2 163.4,501.9M161.3,503.2 158.9,500.7M158.9,500.7 158.9,498.5M164.1,498.3 163.4,501.9M179.7,499.3 180.2,502.1 180.9,504.8M179.7,499.3 178.0,500.2M180.9,504.8 178.4,504.0 175.8,503.9M178.0,500.2 175.8,503.9M164.5,493.0 163.4,494.0M164.5,493.0 164.5,492.9M163.4,494.0 160.9,494.1 158.4,494.9M157.1,489.2 157.0,489.6M157.0,489.6 157.2,492.4 158.4,494.9M163.4,494.0 161.8,497.6M158.9,498.5 158.3,497.7M158.4,494.9 158.3,497.7M157.1,507.7 153.4,507.2M157.1,507.7 156.5,510.4 156.7,513.2M153.4,507.2 154.5,509.2 155.8,511.1 156.6,513.2M156.7,513.2 156.6,513.2M158.9,506.8 156.8,505.1 154.8,503.4M158.9,506.8 157.1,507.7M153.4,507.2 153.4,507.1M153.4,507.1 154.8,503.4M196.2,530.2 193.8,529.5M196.2,530.2 195.6,532.9 195.2,535.6M193.8,529.5 193.5,532.1 193.3,534.7 192.4,537.2M195.2,535.6 192.4,537.2M198.5,535.8 200.8,534.3M198.5,535.8 195.2,535.6M199.8,527.8 196.2,530.2M193.4,529.3 190.5,532.2M193.4,529.3 192.2,527.0M191.5,527.2 192.2,527.0M191.5,527.2 189.2,530.5M190.5,532.2 189.3,530.9M189.2,530.5 189.3,530.9M192.1,537.4 192.4,537.2M191.4,537.0 190.7,534.7 190.5,532.2M193.8,529.5 193.4,529.3M195.3,522.2 193.6,523.5M195.3,522.2 196.7,522.3M193.6,523.5 192.2,527.0M187.4,528.5 187.3,526.6M187.4,528.5 189.2,530.5M187.3,526.6 191.5,527.2M185.5,532.3 189.3,530.9M187.4,528.5 185.8,530.1 184.0,531.5M180.9,504.8 181.3,505.7M181.3,505.7 178.3,505.8 175.2,505.3M175.8,503.9 174.8,504.8M175.2,505.3 174.8,504.8M179.2,509.6 177.7,513.4M179.2,509.6 178.2,509.3M178.2,509.3 176.0,510.5 173.6,510.7M173.4,511.3 175.4,512.8 177.7,513.4M171.7,516.2 169.6,517.7 167.6,519.2M171.7,516.2 172.9,518.9 173.2,521.7M167.6,519.2 170.1,521.3 173.2,522.5M173.2,521.7 173.2,522.5M187.3,526.6 186.8,525.9M193.6,523.5 189.4,523.3M189.4,523.3 186.8,525.9M182.7,512.9 183.6,514.9 184.5,517.0 184.7,519.3M182.7,512.9 183.1,511.4M184.7,519.3 185.6,519.0M183.1,511.4 185.3,512.7M185.3,512.7 186.7,515.9M186.7,515.9 185.6,519.0M195.3,522.2 194.0,519.8 192.1,518.0M189.4,523.3 188.5,521.1 187.0,519.3M187.0,519.3 189.6,519.0 192.1,518.0M198.0,506.3 200.8,505.8M197.7,502.6 201.4,502.3M200.8,505.8 201.4,502.3M137.2,479.0 138.7,477.2 140.3,475.4M137.2,479.0 137.1,480.0M137.1,480.0 139.7,480.8M139.7,480.8 141.5,478.5M141.5,478.5 140.3,475.4M118.8,508.0 119.8,505.4M123.9,507.0 122.8,505.3M122.8,505.3 119.8,505.4M119.8,505.4 119.1,503.9M200.2,515.7 203.2,514.3M200.2,515.7 199.8,519.2M203.2,514.3 205.3,515.0 207.5,515.5M206.1,521.5 207.3,519.3 209.2,517.8M207.5,515.5 209.2,517.8M212.6,521.0 213.1,518.3M209.2,517.8 213.1,518.3M216.0,512.7 213.9,515.3M214.4,509.8 213.1,513.8M213.1,513.8 213.9,515.3M197.4,509.0 197.5,509.3M197.5,509.3 201.6,509.2M201.3,505.9 200.8,505.8M201.3,505.9 202.7,507.1M201.6,509.2 202.7,507.1M201.3,505.9 203.4,503.6 205.8,501.5M205.8,501.5 206.6,503.6M206.6,503.6 205.8,506.8M202.7,507.1 205.8,506.8M206.8,538.5 206.8,541.7M206.8,538.5 206.6,538.4M206.6,538.4 205.1,542.4M210.9,537.2 206.8,538.5M203.6,535.4 204.1,538.0M204.1,538.0 206.6,538.4M199.3,537.7 201.5,538.0 203.4,539.2M199.3,537.7 199.1,541.9M198.5,535.8 199.3,537.7M204.1,538.0 203.4,539.2M220.1,514.8 220.0,515.2M213.9,515.3 213.3,518.2M213.3,518.2 214.3,518.5M220.0,515.2 218.1,516.2 216.1,517.3 214.3,518.5M217.4,524.1 218.3,521.1M215.3,525.4 214.5,523.2 214.8,520.8 214.3,518.5M213.3,518.2 213.1,518.3M214.3,518.5 214.3,518.5M227.9,520.3 226.3,522.6 224.0,524.2M225.5,517.9 222.3,518.0M222.3,518.0 219.8,521.1M219.8,521.1 222.5,524.1M224.0,524.2 222.5,524.1M220.0,515.2 222.3,518.0M218.3,521.1 219.8,521.1M219.8,527.2 222.5,524.1M208.1,461.0 210.0,459.7 211.9,458.5M208.1,461.0 206.9,457.9M206.9,457.9 208.2,457.0M211.9,458.5 209.7,456.5M208.0,461.8 208.1,461.0M214.5,459.1 211.9,458.5M206.6,457.8 206.9,457.9M192.3,478.1 188.7,479.0M192.3,478.1 193.5,476.9M193.5,476.9 192.1,474.5M192.1,474.5 189.8,476.1 187.9,478.4M187.9,478.4 188.7,479.0M194.6,484.1 192.4,485.0 190.5,486.5M194.6,484.1 193.5,481.1 192.3,478.1M190.2,486.4 190.5,486.5M190.2,486.4 189.6,483.9 189.1,481.5 188.7,479.0M199.6,477.1 199.6,477.9M199.6,477.1 196.5,476.9 193.5,476.9M199.6,477.9 197.7,480.6 196.5,483.6M197.3,468.2 198.1,470.6 199.6,472.7 200.7,475.1M197.3,468.2 194.5,467.7M199.6,477.1 200.7,475.1M194.5,467.7 190.5,469.3M192.1,474.5 191.0,472.0 190.4,469.4M190.4,469.4 190.5,469.3M204.1,474.1 204.4,471.8 204.1,469.4 204.5,467.0M204.1,474.1 207.9,473.0M207.9,473.0 207.9,471.9M197.3,468.2 199.8,466.0M200.7,475.1 201.8,475.0M201.8,475.0 204.1,474.1M203.9,465.9 204.5,467.0M208.2,473.2 207.9,473.0M201.8,475.0 204.1,477.4 206.7,479.4M207.7,479.2 206.7,479.4M209.1,468.6 207.9,471.9M204.4,484.7 207.3,487.1M204.4,484.7 204.7,483.4M208.3,484.1 207.5,487.1M208.3,484.1 207.6,482.9M207.6,482.9 205.0,483.2M204.7,483.4 205.0,483.2M207.5,487.1 207.3,487.1M210.1,485.8 208.3,484.1M209.5,487.5 207.5,487.1M209.6,481.9 207.6,482.9M206.7,479.4 205.0,483.2M199.6,477.9 201.6,479.4 203.3,481.3 204.7,483.4M135.5,531.2 133.2,531.9 131.2,533.2M135.0,536.4 131.5,535.5M134.3,537.7 130.5,537.5M131.5,535.5 130.5,537.5M130.5,539.7 129.9,538.3M126.5,541.1 128.2,537.7M128.2,537.7 129.9,538.3M129.9,538.3 130.5,537.5M129.7,521.9 129.5,517.6M129.7,521.9 129.5,522.8M123.8,517.1 125.4,519.9 126.9,522.7M129.7,521.9 132.1,520.2 134.8,519.0M133.2,523.9 130.4,524.2M129.5,522.8 130.4,524.2M122.1,521.5 124.1,523.6M126.9,522.7 124.1,523.6M112.8,524.8 115.5,525.2 118.2,524.8 120.9,524.8 123.6,524.6M124.1,523.6 123.6,524.6M139.3,473.9 139.6,471.4 138.9,468.9M139.3,473.9 136.8,475.4M134.3,473.9 135.3,471.9 136.4,469.9 137.9,468.2M134.3,473.9 136.8,475.4M138.9,468.9 138.0,468.2M137.9,468.2 138.0,468.2M140.2,474.5 139.3,473.9M140.2,474.5 140.3,475.4M137.2,479.0 136.8,475.4M129.5,474.8 130.5,472.5 130.6,470.0M129.5,474.8 131.9,474.0 134.3,473.9M130.6,470.0 133.0,469.1 135.4,468.6 137.9,468.2M130.6,470.0 130.6,470.0M130.6,470.0 130.8,468.2M137.8,466.0 138.0,468.2M140.2,474.5 141.5,474.4M138.9,468.9 141.4,469.4 143.9,470.0M141.5,478.5 143.7,477.7 145.7,476.5M141.5,474.4 143.5,475.6 145.7,476.5M150.9,470.1 149.2,472.7M148.8,466.3 148.2,469.1 148.6,471.9M149.2,472.7 148.6,471.9M144.5,465.0 144.8,467.5 144.6,470.0M144.6,470.0 143.9,470.0M126.6,512.6 127.6,510.5 129.1,508.8M125.5,508.6 128.8,508.5M129.1,508.8 128.8,508.5M174.9,535.0 175.6,532.9 175.9,530.6 176.2,528.4M174.9,535.0 173.1,534.5M176.2,528.4 174.3,530.8 172.3,533.2M172.3,533.2 172.8,534.3M172.8,534.3 173.1,534.5M179.1,530.9 179.3,535.0M179.1,530.9 176.2,528.3M176.2,528.3 176.2,528.4M175.7,536.4 174.9,535.0M170.0,538.4 171.2,536.2 173.1,534.5M168.8,535.3 172.8,534.3M169.8,531.5 172.3,533.2M178.2,509.3 176.7,507.2 175.2,505.3M173.6,510.7 172.1,508.1M174.8,504.8 172.1,504.8M172.1,508.1 172.1,504.8M163.6,518.5 163.7,519.0M171.7,516.2 172.2,515.5M163.7,519.0 167.6,519.2M166.7,513.2 169.6,514.1 172.2,515.5M173.2,521.7 174.5,519.0 175.1,516.0M175.1,516.0 173.2,515.0M172.2,515.5 173.2,515.0M161.3,503.2 161.6,504.5M158.9,500.7 157.1,502.3 154.8,503.2M158.9,506.8 159.3,506.8M154.8,503.2 154.8,503.4M161.6,504.5 159.3,506.8M159.0,513.4 156.7,513.2M159.0,513.4 160.3,511.1M159.3,506.8 160.3,511.1M164.1,498.3 166.8,497.7M163.4,501.9 166.6,501.3 169.8,501.2M169.8,501.2 169.8,500.9M166.8,497.7 168.7,498.9 169.8,500.9M164.5,493.0 166.5,495.2M166.8,497.7 166.5,495.2M169.8,501.2 170.1,503.2M178.0,500.2 175.8,499.9 173.6,499.8 171.3,499.4M170.1,503.2 172.1,504.8M169.8,500.9 171.3,499.4M163.4,519.5 164.5,521.6 164.5,524.0M163.4,519.5 160.7,520.5M160.7,520.5 159.0,522.3 157.0,523.9M160.5,526.4 164.3,525.4M160.5,526.4 156.8,524.9M156.8,524.9 157.0,523.9M164.3,525.4 164.5,524.0M159.0,513.4 160.3,515.3 161.9,516.9 163.6,518.5M152.4,515.4 154.6,514.5 156.6,513.2M152.9,517.7 155.6,518.4 158.2,519.4 160.7,520.5M163.7,519.0 163.4,519.5M154.5,522.1 157.0,523.9M159.9,527.4 160.5,526.4M164.6,527.6 164.3,525.4M155.5,527.4 156.8,524.9M171.8,525.4 169.3,525.1 167.0,524.2 164.5,524.0M193.5,500.0 192.0,501.8 190.9,503.8M191.2,505.3 190.7,505.2M190.9,503.8 190.7,505.2M173.9,491.3 176.1,490.4 178.5,490.5M173.9,491.3 173.7,491.1M178.5,490.5 177.3,487.7 175.8,485.2M173.7,491.1 174.4,488.2 174.5,485.3M175.8,485.2 174.5,485.3M148.0,492.1 145.1,493.3M148.0,492.1 148.6,492.6M144.9,494.2 145.1,497.4M145.1,497.4 146.7,498.4M146.7,498.4 147.8,496.3 149.5,494.7M148.6,492.6 149.5,494.7M152.1,515.2 151.8,512.0 150.8,509.0M150.8,509.0 148.5,509.7M145.7,511.9 145.6,509.1M148.5,509.7 145.6,509.1M142.9,512.3 141.2,510.3M141.2,510.3 143.1,508.0M143.1,508.0 145.1,508.5M145.1,508.5 145.6,509.1M147.9,491.6 147.7,488.9 146.9,486.2M147.9,491.6 149.8,490.2 152.1,489.6 153.9,488.2 155.8,487.0M146.9,486.2 149.4,486.4 151.8,485.6 154.2,485.9M154.2,485.9 154.5,485.9M154.5,485.9 155.3,486.4M155.8,487.0 155.3,486.4M157.1,488.3 155.8,487.0M157.0,489.6 155.7,490.6M148.0,492.1 147.9,491.6M155.7,490.6 153.5,491.7 151.0,492.1 148.6,492.6M157.8,480.5 155.0,480.1M157.8,480.5 156.1,483.2 155.3,486.4M154.0,480.7 155.0,480.1M154.0,480.7 154.3,483.3 154.5,485.9M159.5,478.7 159.9,481.5 159.8,484.3 159.4,487.0M159.5,478.7 157.8,480.5M145.5,485.1 146.5,482.8M145.5,485.1 143.4,485.3M139.7,480.8 140.0,481.3M143.4,485.3 142.0,483.0 140.0,481.3M145.7,476.5 146.6,476.4M146.5,482.8 146.4,479.6 146.6,476.4M149.2,472.7 149.5,473.5M146.6,476.4 149.5,473.5M152.5,472.7 150.6,473.9M149.5,473.5 150.6,473.9M179.2,509.6 182.4,508.9M182.7,512.9 181.2,514.4M177.7,513.4 177.6,514.2M183.1,511.4 182.4,508.9M181.2,514.4 177.6,514.2M173.4,511.3 173.0,512.3M175.1,516.0 176.6,516.1M173.0,512.3 173.2,515.0M177.6,514.2 176.6,516.1M184.0,531.5 183.6,531.2M186.8,525.9 183.6,524.8M183.6,524.8 183.8,528.0 183.6,531.2M179.1,530.9 182.6,531.0M182.6,531.0 183.6,531.2M182.4,521.0 182.2,523.5M182.4,521.0 179.8,519.0M179.8,519.0 179.1,518.8M179.1,518.8 177.4,520.4 175.3,521.5 173.2,522.5M182.2,523.5 180.1,524.9M180.1,524.9 178.3,526.6 175.9,527.4M175.9,527.4 174.7,526.8M174.7,526.8 173.5,525.3M173.5,525.3 173.2,522.5M184.7,519.3 182.4,521.0M185.6,519.0 187.0,519.3M183.6,524.8 182.2,523.5M181.2,514.4 180.9,516.8 179.8,519.0M173.2,522.5 173.2,522.5M182.6,531.0 181.5,527.9 180.1,524.9M176.2,528.3 175.9,527.4M169.7,530.9 172.4,529.1 174.7,526.8M171.8,525.4 173.5,525.3M188.8,512.2 186.6,511.1 184.8,509.5 182.9,508.1M188.8,512.2 188.2,507.9M187.7,506.9 188.2,507.9M187.7,506.9 183.5,507.7M183.5,507.7 182.9,508.0M182.9,508.0 182.9,508.1M194.1,508.9 192.0,511.1M192.0,511.1 190.2,509.5 188.2,507.9M189.2,505.5 190.7,505.2M189.2,505.5 187.7,506.9M184.8,500.9 188.1,503.2M184.8,500.9 184.7,503.2 183.8,505.4 183.5,507.7M188.1,503.2 189.2,505.5M179.7,499.3 179.8,499.1M179.8,499.1 182.3,499.9 184.8,500.9M184.8,500.9 184.8,500.9M182.4,508.9 182.9,508.1M198.1,513.6 194.8,514.4M192.0,511.1 191.9,511.6M194.8,514.4 191.9,511.6M200.2,515.7 198.1,513.6M192.1,518.0 192.1,517.7M194.8,514.4 192.1,517.7M129.5,474.8 128.2,476.2M130.1,482.2 128.2,479.5M130.1,482.2 132.3,481.0 134.9,481.0 137.1,480.0M128.2,476.2 128.2,479.5M106.9,491.1 109.2,490.9 111.1,489.5 113.4,489.2 115.6,488.5 117.7,487.7 119.9,487.1M119.9,487.1 119.0,489.4 117.5,491.2 116.0,493.1M144.4,493.1 142.2,491.7 140.2,489.9M144.4,493.1 145.1,493.3M145.5,485.1 146.9,486.2M143.4,485.3 142.2,486.5M140.2,489.9 142.2,486.5M140.0,481.3 138.1,483.1 136.7,485.4M142.2,486.5 139.4,486.2 136.7,485.4M144.9,494.2 143.0,496.0 140.4,496.9 138.4,498.6M145.1,497.4 143.0,498.2 140.9,498.9 138.7,499.1M138.4,498.6 138.7,499.1M144.4,493.1 142.2,494.2 140.2,495.8 138.0,497.0M138.0,497.0 138.1,498.2M138.4,498.6 138.1,498.2M213.1,513.8 212.5,512.9M208.4,512.7 212.5,512.9M214.3,509.7 211.8,510.4M212.8,505.0 211.8,505.4M211.8,505.4 211.3,507.6 210.2,509.6M210.2,509.6 211.8,510.4M211.8,510.4 212.5,512.9M203.7,511.3 206.2,510.7 208.7,510.5M203.7,511.3 203.6,511.1M203.6,511.1 204.7,509.0 205.9,507.0M205.9,507.0 208.9,510.1M208.7,510.5 208.9,510.1M203.2,514.3 203.7,511.3M208.4,512.7 208.7,510.5M201.6,509.2 203.6,511.1M205.8,506.8 205.9,507.0M211.8,505.4 209.2,504.5 206.6,503.6M210.2,509.6 208.9,510.1M157.6,473.3 158.1,470.6M159.3,470.2 160.7,472.1M160.7,472.1 160.0,475.9M159.5,478.7 160.0,478.1M162.0,485.9 162.0,483.6 162.2,481.2 162.4,478.9M162.4,478.9 160.0,478.1M157.6,473.3 155.7,476.2M155.7,476.2 157.6,477.4 159.8,477.9M160.0,475.9 159.8,477.9M155.7,476.2 154.8,476.0M154.8,476.0 155.0,480.1M159.8,477.9 160.0,478.1M202.6,497.9 202.3,497.2M202.6,497.9 205.3,500.8M202.3,497.2 204.4,495.2 205.7,492.7M207.7,499.4 205.6,500.9M207.9,493.0 206.5,492.6M205.6,500.9 205.3,500.8M206.5,492.6 205.7,492.7M197.7,500.2 198.2,497.2 197.8,494.2M198.0,501.0 200.5,499.7 202.6,497.9M197.8,494.2 200.1,495.6 202.3,497.2M201.4,502.3 205.3,500.8M208.0,499.4 207.7,499.4M210.6,492.1 207.9,493.0M205.8,501.5 205.6,500.9M206.5,488.5 207.3,487.1M206.5,488.5 206.5,492.6M190.2,486.4 188.7,486.7M187.9,478.4 187.2,477.9M188.6,486.7 188.7,486.7M188.6,486.7 186.9,484.6 185.9,482.1 184.0,480.1M187.2,477.9 184.0,480.1M200.9,486.4 203.7,485.2M200.9,486.4 201.1,487.8M203.7,485.2 204.2,489.1M201.1,487.8 201.7,490.9M204.2,489.1 203.3,491.0M203.3,491.0 201.7,490.9M198.6,485.6 196.5,483.6M198.6,485.6 200.9,486.4M204.4,484.7 203.7,485.2M197.6,490.3 201.1,487.8M197.6,490.3 198.3,488.0 198.6,485.6M206.5,488.5 204.2,489.1M197.6,490.3 196.7,493.6M196.7,493.6 197.6,493.9M197.6,493.9 199.7,492.5 201.7,490.9M205.7,492.7 203.3,491.0M197.8,494.2 197.6,493.9M131.2,533.2 128.5,531.9M128.2,537.7 125.0,535.7M128.5,531.9 127.0,534.0 125.0,535.7M123.9,536.2 124.9,535.7M124.9,535.7 125.0,535.7M135.6,530.6 133.7,529.1M130.4,524.2 130.4,524.2M133.7,529.1 131.8,526.8 130.4,524.2M142.1,515.0 140.1,514.7M141.2,510.3 140.0,510.6M140.0,510.6 139.6,511.1M139.6,511.1 140.1,514.7M140.1,514.7 138.4,516.0M136.7,518.3 138.3,516.0M138.3,516.0 138.4,516.0M131.2,515.5 132.8,515.8M131.2,515.5 131.5,512.7 131.5,509.9M132.8,515.8 136.1,513.7M131.5,509.9 133.6,509.3M133.6,509.3 136.3,512.2M136.1,513.7 136.3,512.2M135.1,518.4 132.8,515.8M130.6,515.9 131.2,515.5M129.1,508.8 131.5,509.9M138.3,516.0 136.1,513.7M139.6,511.1 136.3,512.2M171.8,508.3 169.5,508.8 167.5,510.1M171.8,508.3 170.7,510.2 169.2,512.0M167.5,510.1 167.0,512.1M169.2,512.0 167.0,512.1M172.1,508.1 171.8,508.3M173.0,512.3 169.2,512.0M166.7,513.2 166.8,512.4M166.8,512.4 167.0,512.1M162.6,505.3 162.4,507.6 162.8,510.0M162.6,505.3 166.5,506.3M166.5,506.3 166.5,506.3M163.3,510.1 162.8,510.0M161.6,504.5 162.6,505.3M160.3,511.1 162.8,510.0M167.5,510.1 166.5,506.3M166.8,512.4 163.3,510.1M169.5,493.4 172.6,496.4M169.5,493.4 168.7,494.2M168.7,494.2 170.4,495.9 172.1,497.5M172.1,497.5 172.5,496.9M173.9,491.3 173.9,492.0M173.7,491.1 170.9,490.3M164.7,492.5 167.5,491.1 170.5,490.1M170.9,490.3 170.5,490.1M166.5,495.2 168.7,494.2M171.3,499.4 172.1,497.5M179.8,499.1 179.8,497.5M179.8,497.5 177.5,496.7M177.5,496.7 175.0,497.2 172.5,496.9M177.5,496.7 175.8,494.2 173.9,492.0M190.5,486.5 191.4,489.0 192.8,491.1M192.8,491.1 196.2,493.6M194.2,498.6 195.1,495.3M195.1,495.3 196.2,493.6M179.8,497.5 181.3,494.7M185.7,499.9 186.3,496.8M178.5,490.5 180.3,490.7M180.3,490.7 181.3,493.6M181.3,494.7 181.3,493.6M188.4,501.6 190.2,499.9M188.4,501.6 187.2,500.0M187.2,500.0 190.1,499.0M190.2,499.9 190.3,499.3M190.3,499.3 190.1,499.0M188.1,503.2 188.4,501.6M190.9,503.8 190.2,499.9M185.7,499.9 187.2,500.0M193.4,499.8 190.3,499.3M165.1,486.7 166.2,486.3M170.5,490.1 169.5,487.8M166.2,486.3 169.5,487.8M162.4,478.9 164.7,478.8 166.8,477.8M166.2,486.3 166.6,484.9M166.6,484.9 167.0,482.5 167.0,480.2 166.8,477.8M181.9,480.6 180.4,482.0M179.0,473.5 181.6,474.9M179.0,473.5 177.9,475.5 176.0,477.0M180.4,482.0 178.7,480.5 177.5,478.6 176.0,477.0M182.6,487.1 185.6,486.9 188.6,486.7M182.6,487.1 181.4,484.9 180.2,482.7M180.4,482.0 180.2,482.7M180.3,490.7 182.6,487.1M175.8,485.2 178.8,483.2M180.2,482.7 178.8,483.2M151.3,498.4 151.0,495.7M151.3,498.4 153.8,498.8M151.0,495.7 153.3,495.2M153.3,495.2 155.6,497.5M153.8,498.8 155.6,497.5M155.7,490.6 154.6,492.9 153.3,495.2M149.5,494.7 151.0,495.7M158.3,497.7 155.6,497.5M154.0,502.6 154.8,503.2M154.0,502.6 153.8,498.8M153.4,507.1 151.4,507.7M150.8,509.0 151.2,507.9M151.4,507.7 151.2,507.9M145.1,508.5 147.5,505.9M151.2,507.9 147.5,505.9M151.2,481.4 149.9,481.5M151.2,481.4 152.3,479.4M149.9,481.5 150.6,479.0 150.3,476.4 150.7,473.9M152.3,479.4 152.1,476.9 151.3,474.5M151.3,474.5 150.7,473.9M154.2,485.9 152.5,483.8 151.2,481.4M146.5,482.8 149.9,481.5M154.0,480.7 152.3,479.4M150.6,473.9 150.7,473.9M154.8,476.0 151.3,474.5M188.3,514.9 190.8,515.7M188.3,514.9 188.4,512.7M190.8,515.7 190.8,512.4M190.8,512.4 188.8,512.3M188.8,512.3 188.4,512.7M186.7,515.9 188.3,514.9M192.1,517.7 190.8,515.7M185.3,512.7 188.4,512.7M191.9,511.6 190.8,512.4M188.8,512.2 188.8,512.3M138.0,497.0 137.4,494.2M140.2,489.9 138.7,490.9M137.4,494.2 138.7,490.9M131.0,484.6 133.2,486.0M131.0,484.6 131.7,487.4 132.3,490.2 132.7,493.1M133.2,486.0 134.6,487.7M134.6,487.7 133.4,490.3 132.9,493.1M132.7,493.1 132.9,493.1M130.1,482.2 130.3,484.0M130.3,484.0 131.0,484.6M136.7,485.4 133.2,486.0M129.6,485.0 130.3,484.0M129.6,485.0 128.5,488.0 128.0,491.1M129.8,494.1 132.7,493.1M129.8,494.1 128.7,493.2M128.0,491.1 128.7,493.2M137.4,494.2 135.3,493.3 132.9,493.1M129.8,494.1 130.2,497.4M130.2,497.4 131.0,498.6M138.1,498.2 135.7,497.8 133.4,498.3 131.0,498.6M122.8,505.3 124.1,504.4M128.8,508.5 128.8,507.5M124.1,504.4 127.8,504.1M128.8,507.5 127.8,504.1M124.1,504.4 123.9,501.4M128.5,502.7 127.8,504.1M128.5,502.7 125.4,499.9M123.9,501.4 125.4,499.9M118.7,501.7 119.9,500.5M123.9,501.4 119.9,500.5M130.2,497.4 127.7,498.1 125.2,498.4M131.0,498.6 130.1,501.7M128.5,502.7 130.1,501.7M125.2,498.4 125.4,499.9M160.7,472.1 163.3,472.3 165.8,472.6M166.8,477.8 167.6,477.3M167.6,477.3 166.7,473.7M165.8,472.6 166.7,473.7M167.6,477.3 171.4,477.9M171.5,477.8 171.4,477.9M171.5,477.8 172.1,475.6 172.5,473.3M166.7,473.7 168.7,472.1 170.3,470.2M172.5,473.3 170.3,470.2M199.3,457.5 198.8,457.2M198.8,457.2 199.3,455.0 199.7,452.8 199.6,450.5 200.1,448.3 200.3,446.1 200.5,443.8 201.0,441.6 200.7,439.3 200.8,437.1 201.8,434.9 201.1,432.6 202.2,430.4 202.2,428.2 202.8,426.0 202.3,423.7 202.9,421.5 203.1,419.2 203.7,417.0 203.7,414.8 203.8,412.5 204.3,410.3 204.0,408.0 204.2,405.8 204.6,403.6 205.2,401.4M194.5,467.7 194.4,467.0M196.2,457.8 195.4,458.5M196.2,457.8 198.6,457.2M198.8,457.2 198.6,457.2M194.4,467.0 194.7,464.2 195.3,461.4 195.4,458.5M194.0,450.2 195.5,452.6 197.2,454.8 198.6,457.2M187.2,477.9 186.5,475.4M181.6,474.9 183.3,474.8M186.5,475.4 183.3,474.8M190.4,469.4 189.6,470.0M133.7,529.1 131.3,529.4 129.0,530.1M130.4,524.2 129.8,525.2M129.8,525.2 129.8,527.7 129.0,530.1M128.5,531.9 128.4,531.4M128.4,531.4 129.0,530.1M187.0,491.0 184.8,492.6 182.1,493.4M187.0,491.0 187.1,493.4M187.1,493.4 184.6,493.8 182.1,493.4M188.7,486.7 188.1,488.9 187.0,491.0M181.3,493.6 182.1,493.4M187.5,496.3 188.0,494.5M187.5,496.3 189.9,498.0M189.9,498.0 190.7,497.0M190.7,497.0 190.3,493.5M190.3,493.5 188.0,494.5M186.3,496.8 187.5,496.3M187.1,493.4 188.0,494.5M190.1,499.0 189.9,498.0M195.1,495.3 192.9,496.2 190.7,497.0M192.8,491.1 190.3,493.5M170.2,483.2 171.9,479.9M170.2,483.2 170.5,486.6M173.6,484.8 172.7,482.7 172.3,480.5M173.6,484.8 170.5,486.6M172.3,480.5 171.9,479.9M166.6,484.9 170.2,483.2M171.4,477.9 171.9,479.9M169.5,487.8 170.5,486.6M174.5,485.3 173.6,484.8M178.8,483.2 176.6,482.4 174.6,481.0 172.3,480.5M176.0,477.0 173.9,477.8 171.5,477.8M145.2,502.6 147.4,500.4M145.2,502.6 147.4,505.4M147.4,505.4 150.2,503.2M147.4,500.4 149.8,500.8M149.8,500.8 150.6,501.8M150.6,501.8 150.2,503.2M141.2,503.1 139.1,502.0M141.2,503.1 145.2,502.6M146.7,498.4 147.4,500.4M138.7,499.1 139.1,502.0M143.1,508.0 141.9,505.7 141.2,503.1M147.5,505.9 147.4,505.4M151.4,507.7 150.5,505.5 150.2,503.2M151.3,498.4 149.8,500.8M154.0,502.6 150.6,501.8M120.7,466.9 121.1,468.2M121.1,468.2 118.3,470.7M117.5,477.5 119.4,475.2 121.7,473.2M118.3,470.7 121.7,473.2M119.8,485.5 120.6,482.6M119.8,485.5 117.7,484.7 115.4,484.4 113.2,484.2 110.9,483.8 108.8,482.9 106.6,482.3M106.6,482.3 109.0,482.9 111.3,481.9 113.6,482.0 116.0,482.4 118.3,482.5 120.6,482.6M129.6,485.0 127.5,485.6 125.4,486.3 123.5,487.5 121.5,488.4M120.0,487.0 121.5,488.4M120.0,487.0 119.8,485.5M128.2,479.5 126.0,480.2 123.6,480.4 121.4,481.0M121.4,481.0 120.6,482.6M120.0,487.0 119.9,487.1M117.5,477.6 119.4,479.3 121.4,481.0M131.1,505.7 132.5,503.3M131.1,505.7 133.4,505.9 135.6,506.4M132.5,503.3 136.4,504.7M136.4,504.7 136.2,505.6M136.2,505.6 135.6,506.4M130.1,501.7 132.5,503.3M128.8,507.5 131.1,505.7M133.6,509.3 135.6,506.4M140.0,510.6 138.3,507.9 136.2,505.6M125.6,494.9 123.6,491.1M125.6,494.9 123.6,496.7M123.6,496.7 122.0,496.5M122.0,496.5 120.3,494.1M120.3,494.1 121.9,490.6M121.9,490.6 123.6,491.1M128.7,493.2 125.6,494.9M125.2,498.4 123.6,496.7M119.9,500.5 120.8,498.4 122.0,496.5M118.6,494.1 120.3,494.1M121.5,488.4 121.9,490.6M160.1,457.0 162.4,457.6 164.3,458.9M158.1,459.3 160.1,460.8 161.6,462.8M161.6,462.8 162.9,460.8 164.3,458.9M191.8,459.3 191.4,461.6M191.8,459.3 190.0,457.8M190.0,457.8 189.8,457.8M189.8,457.8 188.6,461.9M191.4,461.6 188.6,461.9M194.4,467.0 192.9,464.3 191.4,461.6M195.4,458.5 191.8,459.3M191.9,456.0 190.0,457.8M187.4,462.5 186.5,461.6M187.4,462.5 188.6,461.9M188.7,457.3 189.8,457.8M188.7,457.3 186.2,460.0M186.2,460.0 186.5,461.6M190.5,469.3 187.9,466.1M187.9,466.1 187.4,462.5M121.8,528.9 122.0,528.9M123.6,524.6 123.6,525.5M123.6,525.5 122.0,528.9M124.9,535.7 123.6,532.8 123.2,529.5M122.0,528.9 123.2,529.5M125.4,473.9 123.9,473.0M125.4,473.9 126.6,470.9 127.0,467.6M123.4,469.5 125.2,466.6M125.2,466.6 126.4,466.9M126.4,466.9 127.0,467.6M128.2,476.2 125.4,473.9M121.7,473.2 123.9,473.0M130.6,470.0 127.0,467.6M121.1,468.2 123.4,469.5M124.5,465.5 125.2,466.6M130.0,464.1 128.4,465.8 126.4,466.9M165.8,472.6 165.4,468.9M170.3,470.2 170.7,469.1M170.7,469.1 170.1,466.9M170.1,466.9 168.5,466.4M168.5,466.4 165.4,468.9M160.2,467.3 160.8,466.4M165.4,468.9 162.9,468.1 160.8,466.4M171.2,469.2 173.8,471.7M171.2,469.2 174.3,469.1M174.3,469.1 175.2,470.8M173.8,471.7 175.2,471.0M175.2,471.0 175.2,470.8M172.5,473.3 173.8,471.7M170.7,469.1 171.2,469.2M178.9,473.1 175.2,471.0M176.6,468.5 175.2,470.8M176.6,468.5 179.3,470.0M179.9,471.0 179.3,470.0M183.3,474.8 183.2,472.5 184.1,470.4M179.9,471.0 181.2,470.0M181.2,470.0 184.1,470.4M189.6,470.0 186.5,469.9M186.5,469.9 184.1,470.4M126.9,530.4 126.6,527.2M126.9,530.4 124.7,529.6M124.7,529.6 125.9,527.2M126.6,527.2 125.9,527.2M129.8,525.2 126.6,527.2M123.2,529.5 124.7,529.6M123.6,525.5 125.9,527.2M167.8,464.8 167.8,464.8M167.8,464.8 166.6,463.6M167.8,464.8 165.4,464.8 163.2,465.8 160.8,465.9M166.6,463.6 164.0,463.1 161.5,463.6M161.5,463.6 160.7,465.4M160.7,465.4 160.8,465.9M168.5,466.4 167.8,464.8M160.8,466.4 160.8,465.9M161.6,462.8 161.5,463.6M164.3,458.9 165.2,458.6M165.2,458.6 166.0,461.1 166.6,463.6M157.5,464.0 160.7,465.4M187.9,466.1 185.8,465.7M186.5,469.9 183.6,467.5M185.8,465.7 183.6,467.5M181.2,470.0 181.9,467.3M181.9,467.3 182.4,467.3M183.6,467.5 182.4,467.3M165.2,458.6 165.8,458.1M165.8,458.1 166.8,456.1M176.6,468.5 175.5,465.1M174.3,469.1 175.0,465.3M175.5,465.1 175.0,465.3M179.3,470.0 178.3,467.3 177.6,464.5M177.6,464.5 176.8,464.3M175.5,465.1 176.8,464.3M170.1,466.9 173.1,465.2M175.0,465.3 173.1,465.2M185.8,465.7 185.4,465.6M182.4,467.3 184.1,465.9M185.4,465.6 184.1,465.9M186.5,461.6 182.8,463.0M185.4,465.6 182.8,463.0M181.9,467.3 180.5,464.4M184.1,465.9 180.5,464.4M177.6,464.5 180.5,464.4M180.5,464.4 180.5,464.4M168.7,463.2 170.9,461.3M168.7,463.2 168.2,460.9 166.9,459.0M166.9,459.0 169.0,460.0 170.9,461.3M167.8,464.8 168.7,463.2M173.1,465.2 171.2,461.3M171.2,461.3 170.9,461.3M165.8,458.1 166.9,459.0M182.2,462.9 181.8,463.1M182.2,462.9 182.4,460.7 183.2,458.5M181.8,463.1 180.6,461.2 179.6,459.2M183.2,458.5 179.6,459.2M182.8,463.0 182.2,462.9M180.5,464.4 181.8,463.1M186.2,460.0 183.4,458.4M183.4,458.4 183.2,458.5M183.4,458.4 183.4,456.8M179.6,459.2 178.9,459.0M176.8,464.3 176.7,463.6M176.7,463.6 174.6,461.8 172.6,459.8M171.2,461.3 172.3,459.9M172.6,459.8 172.3,459.9M172.3,459.9 170.0,456.4M177.3,460.2 178.1,459.6M177.3,460.2 174.6,458.4M178.1,459.6 176.9,457.4 175.1,455.7M174.6,458.4 174.6,458.2M175.1,455.7 174.6,458.2M176.7,463.6 177.3,460.2M178.9,459.0 178.1,459.6M172.6,459.8 174.6,458.4M170.6,456.1 172.8,456.8 174.6,458.2" stroke="#b46a5a" stroke-width="1.75" fill="none" stroke-linecap="round" stroke-linejoin="round"/>
<path d="M121.3,456.2 118.9,457.4 116.9,459.1M223.2,539.2 224.8,537.2 226.0,535.1 227.4,533.1M215.1,531.1 219.1,529.6M215.1,531.1 217.2,532.9 219.4,534.6 221.1,536.8M219.1,529.6 221.3,530.6 223.6,531.4M225.3,526.9 224.2,529.1 223.6,531.4M213.4,531.2 213.1,530.0M213.4,531.2 215.1,531.1M217.4,524.1 219.8,527.2M217.4,524.1 215.3,525.4M219.8,527.2 219.1,529.6M221.4,464.2 219.5,464.7M219.5,464.7 218.2,467.9M227.1,472.2 225.0,471.4 222.8,471.0 220.6,470.4 218.5,469.6M227.1,472.2 225.1,474.5 223.8,477.1M223.8,477.1 222.3,477.7M217.1,475.6 217.7,472.9 218.3,470.2M119.9,533.3 120.7,535.4M117.0,538.2 118.6,536.4 120.7,535.4M119.0,465.1 120.7,466.9M119.0,465.1 121.5,464.1 124.1,463.7M120.7,466.9 124.5,465.5M124.1,463.7 124.5,465.5M118.3,464.9 120.0,462.6 122.0,460.6 124.1,458.8M124.1,463.7 124.9,459.9M124.9,459.9 124.1,458.8M121.3,456.2 123.6,457.7M157.6,470.7 155.1,467.9M212.0,533.2 212.1,535.2M212.1,535.2 213.6,536.8 215.6,537.8 217.1,539.5M219.2,508.8 217.4,507.1 215.0,506.2M215.0,506.2 214.3,509.7M215.0,510.4 214.4,509.8M217.7,512.4 219.5,508.9M219.5,508.9 219.2,508.8M216.0,512.7 215.0,510.4M212.8,505.0 214.2,504.5M212.8,505.0 211.6,502.9 209.9,501.3 208.4,499.5M214.6,503.7 214.6,500.7M212.9,466.1 215.5,467.6M212.9,466.1 211.8,466.0M211.8,466.0 210.9,467.7M210.9,467.7 212.7,469.8M212.7,469.8 215.5,467.6M216.2,461.1 214.7,463.7 212.9,466.1M218.2,467.9 215.5,467.6M212.6,471.0 212.7,469.8M216.0,492.0 213.0,489.7M216.0,492.0 217.9,490.6 219.8,489.1M218.8,487.3 219.8,489.1M214.3,488.2 213.0,489.7M220.7,497.8 217.8,496.6M222.7,491.8 223.4,492.0M220.4,500.6 220.7,497.8M220.4,500.6 217.7,500.1 214.9,500.3M214.9,500.3 215.1,498.5M215.1,498.5 217.8,496.6M216.4,493.1 218.2,494.2M213.3,495.6 215.1,498.5M216.0,492.0 216.4,493.1M220.6,483.5 222.6,485.2 224.9,486.4M222.3,477.7 221.5,480.4 220.8,483.1M220.8,483.1 223.6,483.4 226.5,482.8M220.6,483.5 220.8,483.1M216.2,461.1 215.9,460.6M215.0,460.0 215.9,460.6M222.4,457.5 222.9,457.4M236.6,461.7 234.5,460.6 232.1,460.0 229.9,459.1 227.5,458.8 225.1,458.2 222.9,457.4M222.7,460.3 222.4,457.5M129.5,517.6 127.0,517.1 124.4,516.9M126.8,513.2 125.4,514.9 124.4,516.9M120.8,511.8 119.9,510.0M119.9,510.0 118.9,508.9M123.6,517.1 122.7,512.8M121.8,517.1 121.2,519.4 120.1,521.5M116.3,521.6 120.1,521.5M120.1,521.5 122.1,521.5M160.1,457.0 158.2,459.1M152.7,459.7 155.0,456.3M154.0,460.8 157.9,459.4M152.7,459.9 152.7,459.7M123.6,517.1 123.8,517.1M123.8,517.1 124.4,516.9M122.7,512.8 124.4,512.0M126.8,513.2 126.6,512.6M126.6,512.6 124.4,512.0M186.8,537.9 183.5,535.1M186.8,537.9 185.1,540.0 183.6,542.3M181.3,540.2 182.1,538.1 182.0,535.8M186.8,537.9 189.1,537.7 191.3,537.0M184.3,532.1 185.5,532.3M191.3,537.0 189.4,535.4 187.2,534.2 185.5,532.3M154.0,460.8 154.8,463.7M157.9,459.4 157.2,461.7 157.5,464.0M212.1,535.2 210.9,537.2M223.8,500.6 223.0,498.4 223.1,496.0M219.6,484.1 217.2,482.8 214.7,481.9M217.1,475.6 214.7,476.5M214.3,488.2 213.5,485.7 213.5,483.0M214.7,481.9 213.5,483.0M212.6,471.0 211.1,474.1M214.7,476.5 213.1,476.0M211.1,474.1 213.1,476.0M221.2,501.0 221.6,502.7M219.5,508.9 219.5,508.9M215.0,506.2 214.2,504.5M214.6,503.7 218.6,504.0M221.1,506.4 218.7,504.1M220.4,500.6 220.5,500.6M221.1,506.4 222.8,505.6M222.8,505.6 225.3,505.7 227.8,506.0 230.3,505.9M214.5,458.6 214.5,459.1M214.5,458.6 216.5,455.8M213.8,456.3 214.5,458.6M139.0,540.7 139.0,538.2M133.2,523.9 136.0,525.5M133.2,523.9 134.9,522.2M136.0,525.5 137.9,522.1M134.9,522.2 137.9,522.1M146.6,459.8 146.6,462.4M146.6,462.4 146.8,462.4M150.5,464.2 150.5,462.2M122.7,509.5 124.6,509.6M122.7,509.5 123.9,507.0M119.9,510.0 122.7,509.5M150.2,532.3 152.5,534.1 154.9,535.6M149.2,537.3 152.2,537.5 155.2,537.5M149.0,537.8 149.2,539.2M138.6,528.6 142.2,528.7M142.3,518.2 143.7,516.7M142.3,518.2 142.8,520.5M146.7,520.2 145.0,516.7M142.1,515.0 143.7,516.7M143.6,512.4 142.9,512.3M143.6,512.4 145.2,516.4M145.0,516.7 145.2,516.4M164.3,538.6 164.3,538.5M170.0,538.4 169.3,537.6M165.1,486.7 162.0,485.9M157.1,488.3 159.4,487.0M162.0,485.9 159.4,487.0M192.6,539.5 192.1,537.4M191.3,537.0 191.4,537.0M192.1,537.4 191.4,537.0M197.4,509.0 198.0,506.3M197.4,509.0 194.1,508.9M191.2,505.3 192.9,506.9 194.1,508.9M198.0,506.3 197.1,503.4M194.2,498.6 193.4,499.8M194.2,498.6 197.7,500.2M155.0,467.1 153.9,465.1M155.1,467.9 155.0,467.1M158.1,470.6 159.3,470.2M159.3,470.2 160.2,467.3M160.2,467.3 157.6,467.3 155.0,467.1M150.7,464.8 150.5,464.2M150.7,464.8 153.3,465.3M199.8,527.8 200.7,529.2M199.8,527.8 201.9,526.7 203.9,525.5M203.9,525.5 206.0,528.8M199.8,519.2 198.3,520.9 196.7,522.3M196.7,522.3 198.3,525.0 199.8,527.8M207.4,532.6 205.7,534.3 203.6,535.4M207.4,532.6 205.6,530.7M207.8,526.7 206.0,528.8M212.0,533.2 209.7,533.3 207.4,532.6M217.7,512.4 220.1,514.8M219.5,508.9 221.5,510.1 223.0,512.0M230.3,505.9 228.3,507.1 227.1,509.2 225.0,510.2 223.5,512.0M223.0,512.0 223.5,512.0M223.5,512.0 224.8,513.8 225.7,515.9M203.9,459.0 199.9,457.4M206.6,457.8 205.5,456.0M208.4,499.5 208.0,499.4M213.3,495.6 212.5,495.2M212.5,495.2 210.4,497.4 208.0,499.4M212.5,495.2 210.6,492.1M199.8,466.0 203.9,465.9M204.2,465.8 203.9,465.9M208.0,461.8 210.1,463.6M210.1,463.6 207.6,466.5M210.3,463.6 210.1,463.6M208.2,473.2 208.3,476.2 207.7,479.2M213.1,476.0 211.3,478.0 209.2,479.8M209.2,479.8 207.7,479.2M209.2,479.8 209.6,481.9M140.1,520.4 138.6,521.9M138.6,521.9 138.5,521.8M137.6,519.6 140.9,518.4M137.6,519.6 137.9,520.5M140.0,523.3 138.6,521.9M140.0,523.3 142.5,523.7M142.6,521.1 142.5,523.7M142.6,521.1 140.1,520.4M142.3,518.2 140.9,518.4M140.0,523.3 138.6,525.3 137.5,527.4M137.5,527.4 136.0,525.5M137.9,522.1 138.5,521.8M135.0,521.0 134.9,522.2M134.8,519.0 135.1,518.4M134.8,519.0 135.0,521.0M138.6,528.6 137.7,528.5M137.5,535.3 136.3,533.3 135.5,531.2M137.5,535.3 138.7,536.0M140.2,532.8 138.7,536.0M135.6,530.6 135.5,531.2M133.8,539.8 134.3,537.7M139.0,538.2 139.3,536.9M137.5,535.3 135.0,536.4M138.7,536.0 139.2,536.5M139.3,536.9 139.2,536.5M142.2,538.0 145.4,536.3M144.9,539.6 145.9,537.2M145.9,537.2 145.4,536.3M139.3,536.9 142.2,538.0M149.0,537.8 145.9,537.2M143.1,531.9 143.1,534.2M143.1,531.9 145.4,532.2 147.5,533.3M143.1,534.2 145.3,535.0M139.2,536.5 141.4,535.8 143.1,534.2M143.0,531.3 143.1,531.9M150.0,531.9 150.0,531.6M150.0,531.9 150.2,532.3M130.3,464.6 130.8,468.2M130.3,464.6 132.6,464.9 134.9,465.6M150.7,464.8 148.8,466.3M146.6,462.4 146.0,463.6M148.8,466.3 146.0,463.6M137.7,465.7 137.7,465.1M140.8,462.9 145.0,464.3M145.0,464.3 144.5,465.0M137.5,464.7 138.4,462.1 139.6,459.6M137.5,464.7 137.7,465.1M142.2,461.3 140.8,462.9M142.3,461.2 142.2,461.3M142.3,461.2 145.5,463.7M143.7,458.5 145.9,457.9M136.7,458.2 134.9,455.6M136.7,458.2 139.2,457.0M142.3,461.2 143.7,458.5M139.6,459.6 139.2,457.0M123.6,457.7 126.4,455.6M126.2,460.3 128.7,459.4 130.7,457.7M133.0,460.0 131.7,457.8M132.2,456.4 131.7,457.8M134.7,460.7 135.5,459.4M136.7,458.2 135.5,459.4M126.2,460.3 126.3,460.3M130.0,464.1 128.3,462.0 126.3,460.3M130.0,464.1 132.0,462.5 133.6,460.6M130.0,464.1 130.0,464.1M134.9,465.6 137.7,465.7M143.6,512.4 145.7,511.9M147.8,514.5 145.2,516.4M147.8,514.5 147.3,513.6M147.3,513.6 145.7,511.9M162.8,537.9 159.3,538.4M162.8,537.9 162.2,535.7 160.9,533.7M160.9,533.7 160.9,533.7M163.1,545.8 161.5,543.5 160.3,541.0 159.3,538.4M164.3,538.5 162.8,537.9M159.1,531.9 159.4,531.9M151.1,528.6 149.3,526.8 147.5,525.1 146.0,523.0M150.3,529.6 148.1,528.6 145.8,528.2 143.7,527.3M143.7,527.3 143.5,524.6M151.1,528.5 151.1,528.6M155.2,527.8 157.4,529.7 159.1,531.9M137.7,528.5 137.5,527.4M142.5,523.7 143.5,524.6M146.7,520.2 147.5,521.1M151.0,524.3 154.5,522.1M149.2,520.9 150.5,518.8 152.5,517.3M154.5,522.1 153.4,520.0 152.9,517.7M151.1,528.5 151.0,524.3M147.8,514.5 152.1,515.2M152.1,515.2 152.4,515.4M155.5,527.4 155.2,527.8M159.9,527.4 160.7,530.6M182.0,535.8 179.3,535.0M177.6,536.2 175.7,536.4M164.9,534.8 165.7,534.4M168.7,535.1 165.7,534.4M160.9,533.7 161.5,533.8M168.7,535.1 169.8,531.5M169.7,530.9 168.1,530.2M168.1,530.2 165.7,532.9M160.7,530.6 164.1,528.3M166.6,528.6 168.1,530.2M164.6,527.6 164.1,528.3M161.8,497.6 158.9,498.5M161.8,497.6 164.1,498.3M161.3,503.2 163.4,501.9M161.3,503.2 158.9,500.7M158.9,500.7 158.9,498.5M164.1,498.3 163.4,501.9M158.4,494.9 158.3,497.7M157.1,507.7 153.4,507.2M153.4,507.2 154.5,509.2 155.8,511.1 156.6,513.2M156.7,513.2 156.6,513.2M158.9,506.8 156.8,505.1 154.8,503.4M158.9,506.8 157.1,507.7M153.4,507.2 153.4,507.1M195.2,535.6 192.4,537.2M198.5,535.8 195.2,535.6M199.8,527.8 196.2,530.2M191.5,527.2 189.2,530.5M190.5,532.2 189.3,530.9M189.2,530.5 189.3,530.9M191.4,537.0 190.7,534.7 190.5,532.2M195.3,522.2 193.6,523.5M193.6,523.5 192.2,527.0M187.4,528.5 187.3,526.6M187.4,528.5 189.2,530.5M185.5,532.3 189.3,530.9M181.3,505.7 178.3,505.8 175.2,505.3M175.8,503.9 174.8,504.8M175.2,505.3 174.8,504.8M179.2,509.6 178.2,509.3M178.2,509.3 176.0,510.5 173.6,510.7M173.4,511.3 175.4,512.8 177.7,513.4M171.7,516.2 169.6,517.7 167.6,519.2M171.7,516.2 172.9,518.9 173.2,521.7M167.6,519.2 170.1,521.3 173.2,522.5M187.3,526.6 186.8,525.9M189.4,523.3 186.8,525.9M183.1,511.4 185.3,512.7M186.7,515.9 185.6,519.0M195.3,522.2 194.0,519.8 192.1,518.0M189.4,523.3 188.5,521.1 187.0,519.3M197.7,502.6 201.4,502.3M200.8,505.8 201.4,502.3M137.2,479.0 138.7,477.2 140.3,475.4M137.2,479.0 137.1,480.0M137.1,480.0 139.7,480.8M141.5,478.5 140.3,475.4M119.8,505.4 119.1,503.9M200.2,515.7 203.2,514.3M203.2,514.3 205.3,515.0 207.5,515.5M206.1,521.5 207.3,519.3 209.2,517.8M207.5,515.5 209.2,517.8M212.6,521.0 213.1,518.3M216.0,512.7 213.9,515.3M213.1,513.8 213.9,515.3M197.4,509.0 197.5,509.3M197.5,509.3 201.6,509.2M201.3,505.9 200.8,505.8M201.6,509.2 202.7,507.1M205.8,501.5 206.6,503.6M206.6,503.6 205.8,506.8M202.7,507.1 205.8,506.8M206.8,538.5 206.8,541.7M206.8,538.5 206.6,538.4M206.6,538.4 205.1,542.4M204.1,538.0 206.6,538.4M204.1,538.0 203.4,539.2M220.1,514.8 220.0,515.2M213.9,515.3 213.3,518.2M213.3,518.2 214.3,518.5M215.3,525.4 214.5,523.2 214.8,520.8 214.3,518.5M213.3,518.2 213.1,518.3M214.3,518.5 214.3,518.5M227.9,520.3 226.3,522.6 224.0,524.2M225.5,517.9 222.3,518.0M222.3,518.0 219.8,521.1M224.0,524.2 222.5,524.1M220.0,515.2 222.3,518.0M218.3,521.1 219.8,521.1M219.8,527.2 222.5,524.1M208.1,461.0 210.0,459.7 211.9,458.5M208.1,461.0 206.9,457.9M211.9,458.5 209.7,456.5M206.6,457.8 206.9,457.9M192.3,478.1 193.5,476.9M193.5,476.9 192.1,474.5M192.1,474.5 189.8,476.1 187.9,478.4M194.6,484.1 192.4,485.0 190.5,486.5M190.2,486.4 189.6,483.9 189.1,481.5 188.7,479.0M199.6,477.1 199.6,477.9M199.6,477.1 196.5,476.9 193.5,476.9M197.3,468.2 198.1,470.6 199.6,472.7 200.7,475.1M197.3,468.2 194.5,467.7M199.6,477.1 200.7,475.1M194.5,467.7 190.5,469.3M207.9,473.0 207.9,471.9M197.3,468.2 199.8,466.0M201.8,475.0 204.1,474.1M201.8,475.0 204.1,477.4 206.7,479.4M207.7,479.2 206.7,479.4M209.1,468.6 207.9,471.9M204.4,484.7 204.7,483.4M208.3,484.1 207.6,482.9M207.6,482.9 205.0,483.2M204.7,483.4 205.0,483.2M207.5,487.1 207.3,487.1M210.1,485.8 208.3,484.1M209.6,481.9 207.6,482.9M199.6,477.9 201.6,479.4 203.3,481.3 204.7,483.4M135.0,536.4 131.5,535.5M134.3,537.7 130.5,537.5M131.5,535.5 130.5,537.5M130.5,539.7 129.9,538.3M126.5,541.1 128.2,537.7M128.2,537.7 129.9,538.3M123.8,517.1 125.4,519.9 126.9,522.7M129.5,522.8 130.4,524.2M122.1,521.5 124.1,523.6M126.9,522.7 124.1,523.6M139.3,473.9 139.6,471.4 138.9,468.9M139.3,473.9 136.8,475.4M134.3,473.9 136.8,475.4M138.9,468.9 138.0,468.2M137.9,468.2 138.0,468.2M140.2,474.5 139.3,473.9M137.2,479.0 136.8,475.4M129.5,474.8 131.9,474.0 134.3,473.9M130.6,470.0 130.8,468.2M137.8,466.0 138.0,468.2M138.9,468.9 141.4,469.4 143.9,470.0M141.5,478.5 143.7,477.7 145.7,476.5M141.5,474.4 143.5,475.6 145.7,476.5M150.9,470.1 149.2,472.7M148.8,466.3 148.2,469.1 148.6,471.9M149.2,472.7 148.6,471.9M144.5,465.0 144.8,467.5 144.6,470.0M126.6,512.6 127.6,510.5 129.1,508.8M125.5,508.6 128.8,508.5M129.1,508.8 128.8,508.5M174.9,535.0 173.1,534.5M176.2,528.4 174.3,530.8 172.3,533.2M172.3,533.2 172.8,534.3M172.8,534.3 173.1,534.5M179.1,530.9 176.2,528.3M175.7,536.4 174.9,535.0M170.0,538.4 171.2,536.2 173.1,534.5M169.8,531.5 172.3,533.2M178.2,509.3 176.7,507.2 175.2,505.3M174.8,504.8 172.1,504.8M172.1,508.1 172.1,504.8M163.6,518.5 163.7,519.0M175.1,516.0 173.2,515.0M172.2,515.5 173.2,515.0M161.3,503.2 161.6,504.5M158.9,506.8 159.3,506.8M154.8,503.2 154.8,503.4M164.1,498.3 166.8,497.7M166.8,497.7 168.7,498.9 169.8,500.9M164.5,493.0 166.5,495.2M166.8,497.7 166.5,495.2M169.8,501.2 170.1,503.2M170.1,503.2 172.1,504.8M169.8,500.9 171.3,499.4M163.4,519.5 160.7,520.5M160.7,520.5 159.0,522.3 157.0,523.9M160.5,526.4 164.3,525.4M159.0,513.4 160.3,515.3 161.9,516.9 163.6,518.5M152.9,517.7 155.6,518.4 158.2,519.4 160.7,520.5M154.5,522.1 157.0,523.9M159.9,527.4 160.5,526.4M164.6,527.6 164.3,525.4M155.5,527.4 156.8,524.9M171.8,525.4 169.3,525.1 167.0,524.2 164.5,524.0M193.5,500.0 192.0,501.8 190.9,503.8M191.2,505.3 190.7,505.2M173.9,491.3 176.1,490.4 178.5,490.5M178.5,490.5 177.3,487.7 175.8,485.2M148.0,492.1 148.6,492.6M146.7,498.4 147.8,496.3 149.5,494.7M148.6,492.6 149.5,494.7M152.1,515.2 151.8,512.0 150.8,509.0M145.7,511.9 145.6,509.1M142.9,512.3 141.2,510.3M141.2,510.3 143.1,508.0M145.1,508.5 145.6,509.1M147.9,491.6 147.7,488.9 146.9,486.2M154.2,485.9 154.5,485.9M154.5,485.9 155.3,486.4M155.8,487.0 155.3,486.4M148.0,492.1 147.9,491.6M155.7,490.6 153.5,491.7 151.0,492.1 148.6,492.6M157.8,480.5 155.0,480.1M157.8,480.5 156.1,483.2 155.3,486.4M154.0,480.7 155.0,480.1M159.5,478.7 157.8,480.5M145.5,485.1 146.5,482.8M145.5,485.1 143.4,485.3M139.7,480.8 140.0,481.3M143.4,485.3 142.0,483.0 140.0,481.3M145.7,476.5 146.6,476.4M152.5,472.7 150.6,473.9M149.5,473.5 150.6,473.9M182.7,512.9 181.2,514.4M183.1,511.4 182.4,508.9M181.2,514.4 177.6,514.2M175.1,516.0 176.6,516.1M173.0,512.3 173.2,515.0M177.6,514.2 176.6,516.1M184.0,531.5 183.6,531.2M186.8,525.9 183.6,524.8M183.6,524.8 183.8,528.0 183.6,531.2M182.4,521.0 182.2,523.5M182.4,521.0 179.8,519.0M179.8,519.0 179.1,518.8M179.1,518.8 177.4,520.4 175.3,521.5 173.2,522.5M182.2,523.5 180.1,524.9M174.7,526.8 173.5,525.3M173.5,525.3 173.2,522.5M184.7,519.3 182.4,521.0M181.2,514.4 180.9,516.8 179.8,519.0M173.2,522.5 173.2,522.5M182.6,531.0 181.5,527.9 180.1,524.9M176.2,528.3 175.9,527.4M169.7,530.9 172.4,529.1 174.7,526.8M171.8,525.4 173.5,525.3M188.8,512.2 186.6,511.1 184.8,509.5 182.9,508.1M188.8,512.2 188.2,507.9M187.7,506.9 183.5,507.7M183.5,507.7 182.9,508.0M182.9,508.0 182.9,508.1M192.0,511.1 190.2,509.5 188.2,507.9M189.2,505.5 190.7,505.2M184.8,500.9 188.1,503.2M188.1,503.2 189.2,505.5M179.7,499.3 179.8,499.1M184.8,500.9 184.8,500.9M182.4,508.9 182.9,508.1M194.8,514.4 191.9,511.6M200.2,515.7 198.1,513.6M194.8,514.4 192.1,517.7M128.2,476.2 128.2,479.5M119.9,487.1 119.0,489.4 117.5,491.2 116.0,493.1M144.4,493.1 142.2,491.7 140.2,489.9M144.4,493.1 145.1,493.3M145.5,485.1 146.9,486.2M140.2,489.9 142.2,486.5M145.1,497.4 143.0,498.2 140.9,498.9 138.7,499.1M138.4,498.6 138.7,499.1M144.4,493.1 142.2,494.2 140.2,495.8 138.0,497.0M138.0,497.0 138.1,498.2M213.1,513.8 212.5,512.9M208.4,512.7 212.5,512.9M212.8,505.0 211.8,505.4M210.2,509.6 211.8,510.4M211.8,510.4 212.5,512.9M203.7,511.3 206.2,510.7 208.7,510.5M203.7,511.3 203.6,511.1M210.2,509.6 208.9,510.1M160.7,472.1 160.0,475.9M159.5,478.7 160.0,478.1M162.0,485.9 162.0,483.6 162.2,481.2 162.4,478.9M162.4,478.9 160.0,478.1M157.6,473.3 155.7,476.2M155.7,476.2 157.6,477.4 159.8,477.9M155.7,476.2 154.8,476.0M154.8,476.0 155.0,480.1M159.8,477.9 160.0,478.1M202.6,497.9 205.3,500.8M207.9,493.0 206.5,492.6M197.7,500.2 198.2,497.2 197.8,494.2M197.8,494.2 200.1,495.6 202.3,497.2M208.0,499.4 207.7,499.4M205.8,501.5 205.6,500.9M206.5,488.5 207.3,487.1M206.5,488.5 206.5,492.6M190.2,486.4 188.7,486.7M187.9,478.4 187.2,477.9M188.6,486.7 186.9,484.6 185.9,482.1 184.0,480.1M187.2,477.9 184.0,480.1M200.9,486.4 201.1,487.8M201.1,487.8 201.7,490.9M203.3,491.0 201.7,490.9M198.6,485.6 196.5,483.6M198.6,485.6 200.9,486.4M204.4,484.7 203.7,485.2M197.6,490.3 201.1,487.8M206.5,488.5 204.2,489.1M197.6,490.3 196.7,493.6M196.7,493.6 197.6,493.9M197.6,493.9 199.7,492.5 201.7,490.9M205.7,492.7 203.3,491.0M123.9,536.2 124.9,535.7M135.6,530.6 133.7,529.1M130.4,524.2 130.4,524.2M133.7,529.1 131.8,526.8 130.4,524.2M142.1,515.0 140.1,514.7M141.2,510.3 140.0,510.6M139.6,511.1 140.1,514.7M136.7,518.3 138.3,516.0M138.3,516.0 138.4,516.0M131.2,515.5 131.5,512.7 131.5,509.9M133.6,509.3 136.3,512.2M136.1,513.7 136.3,512.2M171.8,508.3 169.5,508.8 167.5,510.1M171.8,508.3 170.7,510.2 169.2,512.0M167.5,510.1 167.0,512.1M169.2,512.0 167.0,512.1M173.0,512.3 169.2,512.0M166.7,513.2 166.8,512.4M162.6,505.3 162.4,507.6 162.8,510.0M166.5,506.3 166.5,506.3M163.3,510.1 162.8,510.0M169.5,493.4 172.6,496.4M169.5,493.4 168.7,494.2M172.1,497.5 172.5,496.9M173.9,491.3 173.9,492.0M173.7,491.1 170.9,490.3M171.3,499.4 172.1,497.5M179.8,499.1 179.8,497.5M179.8,497.5 177.5,496.7M177.5,496.7 175.0,497.2 172.5,496.9M177.5,496.7 175.8,494.2 173.9,492.0M190.5,486.5 191.4,489.0 192.8,491.1M192.8,491.1 196.2,493.6M194.2,498.6 195.1,495.3M195.1,495.3 196.2,493.6M180.3,490.7 181.3,493.6M181.3,494.7 181.3,493.6M188.4,501.6 190.2,499.9M188.4,501.6 187.2,500.0M190.3,499.3 190.1,499.0M188.1,503.2 188.4,501.6M190.9,503.8 190.2,499.9M185.7,499.9 187.2,500.0M193.4,499.8 190.3,499.3M170.5,490.1 169.5,487.8M162.4,478.9 164.7,478.8 166.8,477.8M166.2,486.3 166.6,484.9M166.6,484.9 167.0,482.5 167.0,480.2 166.8,477.8M179.0,473.5 181.6,474.9M179.0,473.5 177.9,475.5 176.0,477.0M180.4,482.0 178.7,480.5 177.5,478.6 176.0,477.0M182.6,487.1 181.4,484.9 180.2,482.7M180.4,482.0 180.2,482.7M180.3,490.7 182.6,487.1M180.2,482.7 178.8,483.2M151.3,498.4 153.8,498.8M151.0,495.7 153.3,495.2M153.8,498.8 155.6,497.5M155.7,490.6 154.6,492.9 153.3,495.2M154.0,502.6 154.8,503.2M153.4,507.1 151.4,507.7M151.4,507.7 151.2,507.9M145.1,508.5 147.5,505.9M151.2,507.9 147.5,505.9M151.2,481.4 149.9,481.5M151.2,481.4 152.3,479.4M149.9,481.5 150.6,479.0 150.3,476.4 150.7,473.9M152.3,479.4 152.1,476.9 151.3,474.5M151.3,474.5 150.7,473.9M154.2,485.9 152.5,483.8 151.2,481.4M150.6,473.9 150.7,473.9M154.8,476.0 151.3,474.5M188.3,514.9 188.4,512.7M190.8,515.7 190.8,512.4M190.8,512.4 188.8,512.3M192.1,517.7 190.8,515.7M185.3,512.7 188.4,512.7M188.8,512.2 188.8,512.3M138.0,497.0 137.4,494.2M140.2,489.9 138.7,490.9M131.0,484.6 133.2,486.0M133.2,486.0 134.6,487.7M130.3,484.0 131.0,484.6M136.7,485.4 133.2,486.0M129.8,494.1 128.7,493.2M128.0,491.1 128.7,493.2M137.4,494.2 135.3,493.3 132.9,493.1M129.8,494.1 130.2,497.4M122.8,505.3 124.1,504.4M124.1,504.4 127.8,504.1M128.5,502.7 127.8,504.1M128.5,502.7 125.4,499.9M118.7,501.7 119.9,500.5M123.9,501.4 119.9,500.5M131.0,498.6 130.1,501.7M125.2,498.4 125.4,499.9M160.7,472.1 163.3,472.3 165.8,472.6M166.8,477.8 167.6,477.3M165.8,472.6 166.7,473.7M171.5,477.8 171.4,477.9M171.5,477.8 172.1,475.6 172.5,473.3M172.5,473.3 170.3,470.2M199.3,457.5 198.8,457.2M196.2,457.8 195.4,458.5M198.8,457.2 198.6,457.2M194.4,467.0 194.7,464.2 195.3,461.4 195.4,458.5M181.6,474.9 183.3,474.8M186.5,475.4 183.3,474.8M190.4,469.4 189.6,470.0M133.7,529.1 131.3,529.4 129.0,530.1M130.4,524.2 129.8,525.2M129.8,525.2 129.8,527.7 129.0,530.1M187.0,491.0 184.8,492.6 182.1,493.4M187.1,493.4 184.6,493.8 182.1,493.4M187.5,496.3 188.0,494.5M190.7,497.0 190.3,493.5M190.3,493.5 188.0,494.5M186.3,496.8 187.5,496.3M173.6,484.8 170.5,486.6M166.6,484.9 170.2,483.2M171.4,477.9 171.9,479.9M169.5,487.8 170.5,486.6M174.5,485.3 173.6,484.8M178.8,483.2 176.6,482.4 174.6,481.0 172.3,480.5M176.0,477.0 173.9,477.8 171.5,477.8M145.2,502.6 147.4,500.4M149.8,500.8 150.6,501.8M150.6,501.8 150.2,503.2M141.2,503.1 139.1,502.0M141.2,503.1 145.2,502.6M143.1,508.0 141.9,505.7 141.2,503.1M147.5,505.9 147.4,505.4M151.3,498.4 149.8,500.8M117.5,477.5 119.4,475.2 121.7,473.2M118.3,470.7 121.7,473.2M106.6,482.3 109.0,482.9 111.3,481.9 113.6,482.0 116.0,482.4 118.3,482.5 120.6,482.6M129.6,485.0 127.5,485.6 125.4,486.3 123.5,487.5 121.5,488.4M120.0,487.0 119.8,485.5M128.2,479.5 126.0,480.2 123.6,480.4 121.4,481.0M120.0,487.0 119.9,487.1M131.1,505.7 133.4,505.9 135.6,506.4M132.5,503.3 136.4,504.7M128.8,507.5 131.1,505.7M125.6,494.9 123.6,496.7M123.6,496.7 122.0,496.5M122.0,496.5 120.3,494.1M120.3,494.1 121.9,490.6M121.9,490.6 123.6,491.1M128.7,493.2 125.6,494.9M125.2,498.4 123.6,496.7M118.6,494.1 120.3,494.1M121.5,488.4 121.9,490.6M161.6,462.8 162.9,460.8 164.3,458.9M191.8,459.3 190.0,457.8M191.4,461.6 188.6,461.9M194.4,467.0 192.9,464.3 191.4,461.6M195.4,458.5 191.8,459.3M191.9,456.0 190.0,457.8M187.4,462.5 186.5,461.6M187.4,462.5 188.6,461.9M188.7,457.3 189.8,457.8M186.2,460.0 186.5,461.6M187.9,466.1 187.4,462.5M121.8,528.9 122.0,528.9M124.9,535.7 123.6,532.8 123.2,529.5M122.0,528.9 123.2,529.5M125.4,473.9 123.9,473.0M125.4,473.9 126.6,470.9 127.0,467.6M125.2,466.6 126.4,466.9M126.4,466.9 127.0,467.6M121.7,473.2 123.9,473.0M121.1,468.2 123.4,469.5M130.0,464.1 128.4,465.8 126.4,466.9M165.8,472.6 165.4,468.9M168.5,466.4 165.4,468.9M160.2,467.3 160.8,466.4M165.4,468.9 162.9,468.1 160.8,466.4M171.2,469.2 173.8,471.7M174.3,469.1 175.2,470.8M175.2,471.0 175.2,470.8M170.7,469.1 171.2,469.2M178.9,473.1 175.2,471.0M176.6,468.5 175.2,470.8M176.6,468.5 179.3,470.0M179.9,471.0 181.2,470.0M181.2,470.0 184.1,470.4M126.9,530.4 126.6,527.2M126.6,527.2 125.9,527.2M129.8,525.2 126.6,527.2M123.6,525.5 125.9,527.2M167.8,464.8 166.6,463.6M167.8,464.8 165.4,464.8 163.2,465.8 160.8,465.9M161.5,463.6 160.7,465.4M160.7,465.4 160.8,465.9M168.5,466.4 167.8,464.8M160.8,466.4 160.8,465.9M165.2,458.6 166.0,461.1 166.6,463.6M187.9,466.1 185.8,465.7M185.8,465.7 183.6,467.5M181.2,470.0 181.9,467.3M181.9,467.3 182.4,467.3M183.6,467.5 182.4,467.3M165.8,458.1 166.8,456.1M179.3,470.0 178.3,467.3 177.6,464.5M170.1,466.9 173.1,465.2M175.0,465.3 173.1,465.2M182.4,467.3 184.1,465.9M186.5,461.6 182.8,463.0M181.9,467.3 180.5,464.4M184.1,465.9 180.5,464.4M177.6,464.5 180.5,464.4M168.7,463.2 170.9,461.3M168.7,463.2 168.2,460.9 166.9,459.0M166.9,459.0 169.0,460.0 170.9,461.3M167.8,464.8 168.7,463.2M165.8,458.1 166.9,459.0M182.2,462.9 181.8,463.1M182.2,462.9 182.4,460.7 183.2,458.5M181.8,463.1 180.6,461.2 179.6,459.2M183.2,458.5 179.6,459.2M182.8,463.0 182.2,462.9M186.2,460.0 183.4,458.4M183.4,458.4 183.2,458.5M183.4,458.4 183.4,456.8M176.8,464.3 176.7,463.6M176.7,463.6 174.6,461.8 172.6,459.8M171.2,461.3 172.3,459.9M172.3,459.9 170.0,456.4M177.3,460.2 178.1,459.6M177.3,460.2 174.6,458.4M178.1,459.6 176.9,457.4 175.1,455.7M178.9,459.0 178.1,459.6M172.6,459.8 174.6,458.4M170.6,456.1 172.8,456.8 174.6,458.2" stroke="#f8d8d0" stroke-width="0.7" fill="none" stroke-linecap="round" stroke-dasharray="1 1.2" opacity="0.85"/>
<rect x="124.2" y="462.1" width="95.0" height="71.4" filter="url(#mott)"/>
<rect x="124.2" y="462.1" width="95.0" height="71.4" filter="url(#mott2)" opacity="0.7"/>
<polygon points="186.0,484.3 182.8,487.0 180.8,491.3 176.3,490.0 174.8,486.1 175.1,482.7 176.7,479.3 180.5,479.4 183.9,480.7" fill="#0a0303" stroke="#0a0303" stroke-width="0.6" stroke-linejoin="round"/>
<polygon points="198.6,482.4 197.1,484.7 195.2,487.5 192.2,486.1 190.0,484.0 190.5,481.0 191.9,478.2 195.3,476.9 197.9,479.4" fill="#0a0303" stroke="#0a0303" stroke-width="0.6" stroke-linejoin="round"/>
<polygon points="177.9,503.6 177.5,507.3 174.2,509.9 170.6,507.9 167.2,505.7 166.8,501.3 170.9,499.7 173.8,499.4 177.1,500.2" fill="#0a0303" stroke="#0a0303" stroke-width="0.6" stroke-linejoin="round"/>
<polygon points="191.0,499.0 190.4,502.7 186.9,504.3 183.1,504.0 181.4,500.7 180.6,497.0 183.9,495.4 186.7,494.8 190.2,495.5" fill="#0a0303" stroke="#0a0303" stroke-width="0.6" stroke-linejoin="round"/>
<polygon points="170.0,493.5 168.5,495.8 166.3,497.0 164.0,496.5 162.5,494.7 161.8,492.1 163.8,490.3 166.3,490.2 168.7,491.0" fill="#0a0303" stroke="#0a0303" stroke-width="0.6" stroke-linejoin="round"/>
<polygon points="152.8,472.3 151.2,474.8 148.9,476.1 145.3,477.3 143.9,473.9 144.6,471.0 146.4,469.3 149.0,467.6 151.8,469.3" fill="#0a0303" stroke="#0a0303" stroke-width="0.6" stroke-linejoin="round"/>
<polygon points="138.8,487.9 139.2,491.3 136.2,493.8 133.1,491.6 131.5,489.3 129.4,485.8 133.3,484.5 136.0,483.1 139.0,484.7" fill="#0a0303" stroke="#0a0303" stroke-width="0.6" stroke-linejoin="round"/>
<polygon points="135.0,494.4 135.2,497.4 132.3,498.2 129.2,498.5 127.7,495.8 127.5,492.9 129.8,491.3 132.2,490.9 135.0,491.5" fill="#0a0303" stroke="#0a0303" stroke-width="0.6" stroke-linejoin="round"/>
<polygon points="154.7,499.9 154.4,502.0 152.6,503.9 150.3,502.6 149.2,500.9 148.3,498.6 150.0,496.5 152.5,496.5 154.1,498.0" fill="#0a0303" stroke="#0a0303" stroke-width="0.6" stroke-linejoin="round"/>
<polygon points="145.0,508.2 142.7,509.8 141.4,511.7 139.2,510.9 136.8,509.7 138.1,507.2 139.3,505.7 141.3,505.6 142.7,506.6" fill="#0a0303" stroke="#0a0303" stroke-width="0.6" stroke-linejoin="round"/>
<polygon points="162.1,521.1 160.6,525.3 156.3,525.3 152.2,527.0 150.2,523.1 150.0,519.0 152.7,516.0 156.8,514.2 160.7,516.8" fill="#0a0303" stroke="#0a0303" stroke-width="0.6" stroke-linejoin="round"/>
<polygon points="138.7,526.7 135.9,530.3 132.6,532.1 129.5,530.4 126.5,528.6 127.4,525.2 128.1,520.6 132.6,521.2 135.1,523.8" fill="#0a0303" stroke="#0a0303" stroke-width="0.6" stroke-linejoin="round"/>
<polygon points="183.6,525.8 183.2,528.8 180.4,530.3 176.8,530.6 174.6,527.6 174.5,523.9 176.8,521.0 180.6,520.4 183.9,522.2" fill="#0a0303" stroke="#0a0303" stroke-width="0.6" stroke-linejoin="round"/>
<polygon points="207.6,517.5 207.4,520.6 204.4,522.0 201.6,520.9 198.9,519.2 199.6,516.1 200.8,512.7 204.3,513.2 207.8,514.0" fill="#0a0303" stroke="#0a0303" stroke-width="0.6" stroke-linejoin="round"/>
<polygon points="214.0,523.0 214.3,525.8 211.5,525.6 209.1,526.3 207.4,524.3 208.4,522.1 209.6,520.5 211.6,519.5 213.7,520.7" fill="#0a0303" stroke="#0a0303" stroke-width="0.6" stroke-linejoin="round"/>
<polygon points="215.2,499.0 213.7,501.3 211.7,503.2 209.1,502.2 208.7,499.8 207.0,497.6 209.1,495.8 211.7,494.9 213.9,496.5" fill="#0a0303" stroke="#0a0303" stroke-width="0.6" stroke-linejoin="round"/>
<polygon points="202.9,508.2 202.5,510.4 200.6,512.1 198.3,511.0 196.5,509.4 196.6,507.0 198.5,505.8 200.4,505.3 202.6,506.0" fill="#0a0303" stroke="#0a0303" stroke-width="0.6" stroke-linejoin="round"/>
<polygon points="132.8,463.9 132.4,466.2 130.2,466.6 127.7,467.4 126.6,465.0 126.1,462.6 127.7,460.4 130.2,460.9 131.9,462.0" fill="#0a0303" stroke="#0a0303" stroke-width="0.6" stroke-linejoin="round"/>
<polygon points="196.7,469.5 196.8,471.7 194.6,471.8 193.1,471.5 191.3,470.6 190.9,468.3 193.1,467.6 194.6,467.3 196.8,467.3" fill="#0a0303" stroke="#0a0303" stroke-width="0.6" stroke-linejoin="round"/>
<polygon points="170.0,469.5 169.6,471.9 167.2,472.1 165.6,471.5 163.7,470.6 163.6,468.4 165.4,467.2 167.1,467.2 169.2,467.4" fill="#0a0303" stroke="#0a0303" stroke-width="0.6" stroke-linejoin="round"/>
<polygon points="217.0,473.1 215.6,475.5 213.4,476.7 211.2,475.8 208.7,474.6 209.2,471.8 211.0,470.0 213.4,469.4 215.7,470.6" fill="#0a0303" stroke="#0a0303" stroke-width="0.6" stroke-linejoin="round"/>
<polygon points="163.2,484.1 162.1,485.7 160.6,486.4 159.2,485.8 158.2,484.8 158.2,483.4 158.9,481.9 160.6,481.8 162.2,482.4" fill="#0a0303" stroke="#0a0303" stroke-width="0.6" stroke-linejoin="round"/>
<polygon points="190.4,512.1 190.5,514.1 188.6,514.1 186.5,515.0 186.0,512.9 185.6,511.2 186.7,509.5 188.7,509.5 189.8,510.7" fill="#0a0303" stroke="#0a0303" stroke-width="0.6" stroke-linejoin="round"/>
<polygon points="147.3,517.1 147.0,519.4 144.8,520.6 142.7,519.8 141.7,518.0 141.4,516.1 142.8,514.7 144.6,514.6 146.1,515.5" fill="#0a0303" stroke="#0a0303" stroke-width="0.6" stroke-linejoin="round"/>
<polygon points="216.4,486.1 216.7,488.2 214.8,489.4 212.4,489.2 211.6,487.0 210.8,484.9 212.7,483.5 214.6,483.8 216.1,484.5" fill="#0a0303" stroke="#0a0303" stroke-width="0.6" stroke-linejoin="round"/>
<polygon points="157.0,510.1 156.0,511.6 154.7,512.8 153.1,512.1 152.1,510.8 151.6,509.2 153.3,508.5 154.5,508.2 156.2,508.4" fill="#0a0303" stroke="#0a0303" stroke-width="0.6" stroke-linejoin="round"/>
<polygon points="209.4,466.1 208.6,468.1 206.7,468.7 204.5,469.0 203.7,467.0 203.1,465.0 204.8,463.6 206.7,463.0 207.9,464.7" fill="#0a0303" stroke="#0a0303" stroke-width="0.6" stroke-linejoin="round"/>
<polygon points="172.0,514.1 171.9,515.5 170.7,517.0 168.7,516.7 167.7,515.0 167.8,513.2 168.8,511.7 170.7,511.3 172.4,512.3" fill="#0a0303" stroke="#0a0303" stroke-width="0.6" stroke-linejoin="round"/>
<polygon points="142.1,477.1 141.0,478.6 139.7,480.1 137.9,479.4 135.7,478.4 135.8,475.9 137.4,474.0 139.6,474.6 141.2,475.4" fill="#0a0303" stroke="#0a0303" stroke-width="0.6" stroke-linejoin="round"/>
<polygon points="160.0,492.1 159.8,494.3 157.6,494.2 156.1,494.0 155.4,492.8 154.0,490.9 156.2,490.4 157.6,489.7 159.5,490.2" fill="#0a0303" stroke="#0a0303" stroke-width="0.6" stroke-linejoin="round"/>
<polygon points="176.8,474.1 176.9,476.3 174.6,476.4 172.9,476.3 171.7,475.0 170.8,472.9 172.6,471.4 174.6,471.6 176.4,472.3" fill="#0a0303" stroke="#0a0303" stroke-width="0.6" stroke-linejoin="round"/>
<polygon points="188.3,489.1 187.8,490.5 186.7,492.0 185.0,491.2 184.2,489.8 183.1,488.0 184.7,486.5 186.7,486.3 188.8,486.9" fill="#0a0303" stroke="#0a0303" stroke-width="0.6" stroke-linejoin="round"/>
<polygon points="207.7,492.1 207.0,494.4 204.6,494.6 203.1,494.0 201.9,493.0 200.7,490.8 202.4,489.0 204.9,488.3 205.9,490.6" fill="#0a0303" stroke="#0a0303" stroke-width="0.6" stroke-linejoin="round"/>
<polygon points="219.6,507.1 218.4,508.9 216.8,510.4 214.7,509.7 213.1,508.2 213.4,506.1 214.4,504.0 216.8,503.8 218.5,505.2" fill="#0a0303" stroke="#0a0303" stroke-width="0.6" stroke-linejoin="round"/>
<polygon points="166.3,506.1 166.1,507.7 164.8,509.5 163.0,508.2 161.0,507.3 162.4,505.4 162.8,503.6 164.6,503.8 166.3,504.3" fill="#0a0303" stroke="#0a0303" stroke-width="0.6" stroke-linejoin="round"/>
<polygon points="149.2,489.1 147.9,490.5 146.6,491.6 144.9,491.4 143.5,490.1 143.5,488.1 145.2,487.4 146.5,487.3 148.5,487.2" fill="#0a0303" stroke="#0a0303" stroke-width="0.6" stroke-linejoin="round"/>
<polygon points="194.7,520.1 194.8,522.3 192.6,522.2 190.7,522.8 189.7,521.0 190.0,519.3 190.4,516.9 192.8,516.9 194.3,518.3" fill="#0a0303" stroke="#0a0303" stroke-width="0.6" stroke-linejoin="round"/>
<polygon points="172.4,528.1 171.8,530.3 169.6,530.4 167.6,530.9 166.2,529.2 166.0,526.9 167.5,525.2 169.7,525.4 171.1,526.5" fill="#0a0303" stroke="#0a0303" stroke-width="0.6" stroke-linejoin="round"/>
<polygon points="212.1,477.1 211.2,478.8 209.6,479.5 208.1,479.1 207.4,477.8 207.2,476.4 207.8,474.6 209.7,474.2 210.9,475.7" fill="#0a0303" stroke="#0a0303" stroke-width="0.6" stroke-linejoin="round"/>
<polygon points="183.0,512.1 182.7,513.3 181.7,515.1 180.2,513.8 179.0,512.9 178.6,511.2 180.3,510.5 181.6,509.6 182.9,510.7" fill="#0a0303" stroke="#0a0303" stroke-width="0.6" stroke-linejoin="round"/>
</g>
<g clip-path="url(#cd2)">
<rect x="222.1" y="462.1" width="95.0" height="71.4" fill="#0c0703"/>
<circle cx="257.1" cy="498.1" r="13" fill="#4a3018" opacity="0.7" filter="url(#dblur3)"/>
<circle cx="292.1" cy="482.1" r="10" fill="#2a1a0c" opacity="0.6" filter="url(#dblur3)"/>
<path d="M215.1,475.3 216.4,473.4 217.9,471.6 218.4,469.3M215.6,468.0 218.4,469.3M219.3,489.3 219.1,488.8M220.1,477.3 218.1,478.6 217.8,481.2 215.2,482.1 214.3,484.2M205.3,505.7 207.8,504.9 209.2,502.4 211.6,501.5 213.8,500.2 216.3,499.4 218.1,497.6M218.1,497.6 217.6,494.9 217.3,492.3M218.1,497.6 219.9,499.1 222.5,498.9 224.3,500.3M224.3,500.3 224.6,497.9 225.8,495.5 225.3,492.9 226.1,490.6M226.1,490.6 223.8,490.0 221.5,489.9 219.3,489.3M320.3,462.4 318.3,463.2M314.2,454.4 314.6,456.9 315.7,459.0 317.3,461.0 318.3,463.2M318.3,463.2 318.1,465.9 319.2,468.5 318.9,471.2M279.7,470.5 278.1,468.9 276.2,467.6M282.4,470.4 283.0,469.5M276.2,467.6 277.4,464.7M277.4,464.7 279.9,464.1 282.0,462.7M317.8,478.2 316.5,480.4 315.9,482.7 315.0,485.0 314.1,487.3M317.8,478.2 315.6,480.3 312.6,480.9M312.6,480.9 310.5,482.7 309.5,485.3M314.1,487.3 312.1,485.7 309.5,485.3M285.9,500.7 282.1,501.2M285.9,500.7 284.9,503.1 285.4,505.7 284.8,508.1M280.2,508.4 282.5,508.2 284.8,508.1M280.2,508.4 280.7,506.2 281.2,503.9 281.2,501.6M281.2,501.6 282.1,501.2M299.3,490.4 299.3,489.5M299.3,490.4 300.1,493.0 300.7,495.6 301.8,498.0 301.8,500.8M301.8,500.8 304.6,499.9M304.6,499.9 304.3,497.5 305.0,495.2 305.8,492.9 306.3,490.6 306.6,488.2 306.7,485.8M299.3,489.5 301.7,488.0 304.0,486.6 306.7,485.8M306.9,499.5 308.7,497.2 310.3,494.8M306.9,499.5 304.6,499.9M310.3,494.8 309.6,492.4 308.7,490.2 308.6,487.6 307.3,485.5M307.3,485.5 307.2,485.5M307.2,485.5 306.7,485.8M222.6,478.8 224.1,479.3M222.6,478.8 220.2,477.3M224.1,479.3 224.9,476.8 225.7,474.3 226.7,471.9 227.0,469.3M220.2,477.3 220.4,475.0 220.5,472.7 221.7,470.6 222.2,468.3M227.0,469.3 223.3,467.4M222.2,468.3 223.3,467.4M216.6,485.7 218.2,484.0 219.5,482.2 220.5,480.0 222.6,478.8M219.1,488.8 220.4,486.5 222.5,484.7 223.9,482.5 225.0,480.0M225.0,480.0 224.1,479.3M220.1,477.3 220.2,477.3M218.4,469.3 222.2,468.3M258.5,427.6 258.2,429.9 257.9,432.1 256.1,433.9 256.3,436.3 256.2,438.6 255.1,440.6 254.0,442.6 253.7,444.8 252.7,446.9 252.4,449.1 252.3,451.4 251.0,453.4 251.2,455.7 250.1,457.8 249.7,459.9 248.8,462.0 248.9,464.3M239.0,454.8 241.1,456.4 242.2,458.8 244.4,460.2 245.4,462.7 247.6,464.2M220.2,531.7 221.3,533.9 220.3,536.4 221.8,538.4 221.9,540.7M220.2,531.7 218.0,530.3 216.4,528.2M216.4,537.9 219.3,539.0 221.9,540.7M224.5,533.0 223.9,536.1 224.1,539.4M216.4,528.2 218.6,527.8 220.5,526.7 222.5,525.6 224.7,525.1M224.5,533.0 227.2,532.9 229.8,532.5M224.7,525.1 225.6,527.2 227.8,528.4 228.3,530.8 229.8,532.5M224.3,500.3 224.4,500.5M224.4,500.5 223.6,502.8 223.0,505.2 221.4,507.2M216.3,509.7 217.6,511.9 218.2,514.4M215.1,523.0 217.4,519.2M282.2,562.3 282.3,560.0 283.8,558.0 284.2,555.7 284.0,553.3 284.8,551.1 284.7,548.7 286.4,546.8 286.7,544.5 286.5,542.0 287.3,539.9 288.1,537.7M280.1,541.1 282.8,540.2 285.0,538.1 287.8,537.4M288.1,537.7 287.8,537.4M279.7,470.5 278.5,472.8 279.0,475.6 277.7,477.9 277.3,480.4M284.3,480.0 281.9,479.3 279.6,480.8 277.3,480.4M285.1,472.4 287.4,472.3 289.7,472.7M289.7,472.7 288.3,474.5 287.8,476.7 286.4,478.6 286.0,480.8M284.3,480.0 286.0,480.8M292.3,481.0 289.5,481.4 286.7,481.3M286.0,480.8 286.7,481.3M300.8,501.8 300.5,501.9M300.8,501.8 301.8,500.8M300.5,501.9 297.7,502.0 295.0,501.4M295.0,501.4 293.2,500.0 291.1,499.3 289.1,498.2M289.1,498.2 289.0,497.8M299.3,490.4 297.0,490.5 295.2,492.1 292.9,492.2 290.8,493.0M318.1,477.9 317.8,478.2M318.1,477.9 318.2,474.9 317.9,472.0M310.7,471.1 313.2,470.8 315.6,471.4 317.9,472.0M310.7,471.1 310.2,471.7M312.6,480.9 309.8,479.8 307.6,477.9M295.9,451.2 297.1,453.2 299.2,454.3 300.0,456.5 301.9,457.9M310.7,456.9 308.4,456.6 306.3,457.1 304.1,457.3 301.9,457.9M263.0,442.8 263.6,445.0 262.5,447.3 263.3,449.5 264.1,451.7 264.1,454.0 264.2,456.2 263.7,458.5 263.7,460.7M249.9,466.2 252.1,466.8M271.3,465.3 268.2,464.6 265.1,464.0M263.7,460.7 265.1,464.0M265.1,464.0 264.7,465.4M264.7,465.4 261.8,468.0M312.7,514.2 314.5,513.2M316.3,522.7 318.5,521.0 320.8,519.6M314.5,513.2 315.2,513.4M321.9,493.1 319.4,492.2 317.6,490.4M321.9,493.1 320.9,495.7 318.8,497.4M318.8,497.4 317.6,497.8M317.6,497.8 316.0,496.1 314.0,495.0 312.0,493.8M317.6,490.4 316.3,490.2M311.5,501.6 313.4,500.1 315.7,499.3 317.6,497.8M310.3,494.8 312.0,493.8M314.1,487.3 316.3,490.2M321.2,481.4 320.5,483.8 318.8,485.7 318.8,488.3 317.6,490.4M286.6,509.4 289.2,507.7 291.6,505.8M286.6,509.4 287.3,511.5M287.3,511.5 289.8,510.9 291.9,509.4M291.6,505.8 291.9,509.4M289.1,498.2 285.9,500.7M292.8,511.2 291.9,509.4M295.4,485.0 295.2,483.8M295.4,485.0 296.7,486.3M296.7,486.3 299.2,485.6 301.4,484.4 303.4,482.8 305.5,481.5M301.0,478.6 302.8,480.2 305.2,480.5M299.3,489.5 296.7,486.3M292.3,481.0 295.2,483.8M293.2,472.9 294.8,472.6M300.2,475.5 301.0,478.6M300.2,475.5 299.3,474.4M294.8,472.6 296.8,474.1 299.3,474.4M307.6,477.9 305.2,480.5M310.2,471.7 307.4,471.9 305.2,473.7 302.9,475.2 300.2,475.5M232.9,465.0 232.8,460.9M236.9,459.1 238.8,460.8 240.9,462.4 242.5,464.5M239.8,466.6 242.5,464.5M239.0,454.8 237.9,456.9 236.9,459.1M241.0,411.3 240.4,413.5 239.3,415.6 238.6,417.7 237.9,419.9 236.4,421.7 234.9,423.6 235.1,426.1 233.7,428.0 233.0,430.1 232.6,432.5 231.2,434.3 229.7,436.2 229.8,438.7 229.1,440.8 228.2,442.9 226.9,444.8 225.5,446.7 225.3,449.1 224.5,451.2 223.1,453.1 222.0,455.1 220.6,456.9 220.4,459.3M227.6,457.5 225.0,459.4 221.8,460.0M220.4,459.3 221.8,460.0M232.8,460.9 230.4,458.8 227.6,457.5M215.6,457.3 218.1,458.1 220.4,459.3M230.6,469.5 231.1,466.9 232.9,465.0M225.0,480.0 227.4,481.0M227.4,481.0 228.1,485.2M228.1,485.2 227.9,487.9 226.7,490.2M224.7,525.1 226.5,522.7M226.5,522.7 225.1,519.8M229.8,532.5 230.2,532.7M231.6,522.3 235.5,522.4M235.5,522.4 234.1,524.3 233.2,526.4 232.9,528.9 231.2,530.6 230.2,532.7M224.1,539.4 226.6,537.7 229.5,537.2 232.1,536.1M234.3,538.9 232.2,536.1M227.2,490.5 226.7,490.2M232.7,501.7 235.4,499.6M313.0,535.1 314.9,533.6 317.3,533.3 319.6,532.8M315.3,526.0 317.0,527.5M308.4,526.3 309.1,525.2M319.6,539.3 320.0,536.1 319.9,533.0M266.5,491.7 265.6,489.0 263.4,487.1 262.0,484.6M266.5,491.7 268.6,490.2 271.1,489.7M272.1,480.7 269.8,481.2 267.4,481.4 265.0,481.9 262.7,482.7M272.1,480.7 273.2,481.4M262.0,484.6 262.7,482.7M291.0,488.5 288.6,487.1 285.8,487.2M291.0,488.5 290.8,491.9M290.8,491.9 288.4,491.0 285.8,490.5 283.7,488.9M285.8,487.2 283.7,488.9M286.7,481.3 286.4,484.3 285.8,487.2M290.8,493.0 290.8,491.9M289.0,497.8 287.3,496.0 285.5,494.4 282.9,493.6 281.6,491.4M281.8,490.3 283.7,488.9M277.3,480.4 276.3,481.1M296.6,463.8 298.7,461.3 301.4,459.6M294.6,463.5 295.3,460.9 294.3,458.4 294.7,455.8 294.6,453.3M299.3,474.4 300.0,472.1 301.9,470.5M301.9,470.5 304.7,470.0 307.4,469.8 310.2,470.5M301.4,459.6 302.2,462.5 303.6,465.2M303.6,465.2 306.2,466.4 308.8,467.5M310.2,470.5 308.8,467.5M275.3,467.7 272.9,466.4M275.3,467.7 273.8,469.4 272.5,471.2 271.2,473.0 269.9,474.9M266.6,471.4 266.9,473.4M276.2,467.6 275.3,467.7M273.2,456.4 275.1,457.5 276.9,458.9M276.9,458.9 276.9,461.8 277.4,464.7M272.1,480.7 271.6,477.6 269.9,474.9M273.2,481.4 276.3,481.1M264.7,465.4 265.2,468.6 266.6,471.4M265.0,473.9 264.1,476.5 262.7,479.0 262.2,481.7M258.9,473.8 260.5,473.0M258.9,473.8 259.5,476.0 260.0,478.1 260.6,480.3M260.6,480.3 262.2,481.7M266.9,473.4 265.0,473.9M261.8,468.0 261.1,470.5 260.5,473.0M257.9,473.6 255.7,471.8 254.1,469.4 252.5,467.1M252.4,478.4 254.4,476.9 256.1,475.2 257.9,473.6M321.2,481.4 323.3,482.1 325.4,482.8 327.3,484.2 329.6,484.4 331.2,486.3 333.8,486.0 335.4,487.8 337.9,487.8 339.5,489.8 341.6,490.5 343.9,490.7 345.9,491.6M321.9,493.1 324.4,493.7 327.0,493.9 329.6,493.2M318.8,497.4 319.3,500.1 320.0,502.7M320.0,502.7 321.8,501.4 323.2,499.5 324.4,497.6 326.5,496.5 328.5,495.3 329.6,493.2M313.4,503.6 314.0,505.8 314.6,508.0 313.5,510.4 314.6,512.5M314.6,512.5 316.6,510.9 318.6,509.3 319.9,507.0 321.6,505.2M319.9,503.3 321.6,505.2M311.5,501.6 313.4,503.6M322.2,511.9 320.4,512.6M320.4,512.6 317.7,512.4 315.2,513.4M328.0,507.3 325.6,507.3 323.5,506.4 321.6,505.2M265.0,501.7 266.6,499.6 267.5,497.0M267.5,497.0 269.9,498.2M269.9,498.2 270.2,501.4 269.5,504.5M267.7,506.3 269.5,504.5M278.4,509.4 276.9,508.4M281.2,501.6 278.5,501.8 276.0,500.5M276.0,500.5 275.2,503.1M276.9,508.4 276.0,505.8 275.2,503.1M300.8,501.8 302.0,504.4 302.0,507.2M292.8,511.2 292.6,512.6M292.6,512.6 292.9,512.9M313.0,535.1 311.0,536.9M312.3,514.3 310.5,516.1 309.3,518.4 308.0,520.5M312.3,514.3 310.3,513.1 308.3,511.9 306.2,510.7 303.9,509.9 302.3,508.2M308.0,520.5 306.0,519.3 303.7,519.4 301.6,519.0M301.6,519.0 299.9,515.2M312.7,514.2 312.3,514.3M315.3,526.0 316.3,522.7M302.0,507.2 302.3,508.2M294.7,515.9 292.9,512.9M249.4,467.8 247.2,468.9 245.4,470.5 243.4,471.7 241.9,473.7 239.8,474.8M249.4,467.8 249.5,470.2 248.8,472.7 249.0,475.2 249.7,477.7M249.7,477.7 247.3,477.8 245.0,478.5 242.5,477.9M249.9,466.2 249.4,467.8M239.8,466.6 239.5,469.2 239.2,471.8 237.9,474.2M230.6,469.5 232.5,470.8 233.1,473.1 234.7,474.7M237.9,474.2 234.7,474.7M227.4,481.0 230.3,480.0 232.8,478.2M234.7,474.7 232.8,478.2M249.7,477.7 250.6,478.5M224.4,515.5 225.2,517.8M221.4,507.2 223.2,508.8 225.4,509.8 227.2,511.2M224.4,515.5 225.8,513.3 227.2,511.2M322.6,520.2 321.5,517.4 321.5,514.3M321.5,514.3 322.5,516.9 324.9,518.5 326.1,520.9M320.8,519.6 322.6,520.2M317.0,527.5 319.2,526.3 320.6,524.3 322.9,523.1 324.1,520.8M319.9,533.0 319.6,532.8M279.6,494.4 278.3,496.3 276.8,497.9 275.9,500.0M279.6,494.4 280.5,492.2M280.5,492.2 277.2,492.7 273.9,491.9M273.9,491.9 272.9,494.9 273.0,498.0M273.0,498.0 275.9,500.0M282.1,501.2 281.6,498.8 280.4,496.7 279.6,494.4M281.6,491.4 280.5,492.2M265.6,493.8 267.5,497.0M269.9,498.2 273.0,498.0M269.5,504.5 272.2,503.1 275.2,503.1M287.4,463.8 284.3,461.5M284.3,461.5 283.7,459.1 282.8,456.8M282.0,462.7 284.3,461.5M292.2,472.3 291.8,469.6 291.1,467.0 290.3,464.5M290.3,464.5 289.2,463.7M290.3,464.5 292.5,464.1 294.6,463.5M294.6,453.3 293.2,455.7 290.8,457.1M276.9,458.9 279.8,457.6 282.8,456.8M302.6,466.1 301.6,469.6M302.6,466.1 300.1,466.0 297.8,466.9M301.6,469.6 297.7,467.8M297.8,466.9 297.7,467.8M301.9,470.5 301.6,469.6M296.6,463.8 297.8,466.9M294.8,472.6 296.8,470.6 297.7,467.8M267.6,506.8 267.4,508.9M267.4,508.9 265.0,509.7 262.6,510.1 260.0,509.8M260.0,509.8 257.5,507.1M267.7,506.3 267.6,506.8M258.7,502.8 260.4,501.2M258.7,502.8 258.7,502.8M259.9,510.8 258.0,512.5 256.3,514.3 254.8,516.3M252.9,507.9 251.8,510.6M252.9,507.9 255.3,508.0 257.5,507.1M251.8,510.6 253.9,513.1 254.8,516.3M259.9,510.8 261.4,513.1 261.9,515.9M259.4,519.3 261.9,515.9M259.4,519.3 256.7,519.6 254.4,521.0M254.8,516.3 254.0,518.6 254.4,521.0M252.0,500.8 250.9,502.9 250.0,505.0M248.3,498.8 246.3,501.4 244.1,503.7M244.1,503.7 244.7,504.5M252.9,507.9 250.0,505.0M254.0,499.2 252.0,500.8M243.5,512.0 241.6,513.7 239.0,513.8 237.0,515.2M237.0,515.2 236.6,514.7M294.7,515.9 292.0,519.3M292.0,519.3 290.4,517.4 289.6,515.0 289.2,512.6M283.5,518.6 287.2,518.2M287.2,518.2 286.3,514.0M278.4,509.4 278.6,512.2 278.5,515.1M278.5,515.1 278.5,515.1M286.3,514.0 287.4,512.0M290.9,531.4 293.0,531.8M291.8,519.8 289.6,520.9M296.4,526.5 293.5,526.8 290.9,525.7 288.1,525.1M289.6,520.9 288.0,524.8M305.3,528.5 302.6,529.7M302.6,529.7 300.0,528.1 298.4,525.5M287.2,518.2 289.6,520.9M290.9,531.4 289.6,529.3 288.3,527.1M288.3,527.1 288.1,525.1M293.0,531.8 294.2,528.9 296.4,526.5M249.5,538.5 249.4,537.3M262.3,538.6 260.5,536.3 258.1,534.5 256.4,532.1M278.5,515.1 276.5,516.8 275.0,518.9M268.2,509.8 268.3,510.4M268.3,510.4 268.9,512.7 270.4,514.4 271.8,516.3 273.4,517.9M275.0,518.9 273.4,517.9M233.0,486.4 232.2,490.2M237.5,485.3 241.1,487.5M232.2,490.2 235.0,490.9 237.5,492.0 240.0,493.4M241.8,488.8 241.1,487.5M241.8,488.8 240.6,492.5M240.0,493.4 240.6,492.5M227.2,490.5 229.7,490.2 232.2,490.2M242.5,477.9 242.8,480.4 241.2,482.6 240.8,485.0 241.1,487.5M235.4,499.6 237.8,498.5M237.8,498.5 239.4,496.2 240.0,493.4M243.7,488.3 241.8,488.8M237.8,498.5 239.0,500.6 241.1,501.7M248.1,496.2 245.9,494.3 242.8,494.4 240.6,492.5M262.0,484.6 259.7,486.3 257.1,487.5M255.7,480.0 255.9,483.2 256.0,486.4M250.8,478.6 251.2,481.5 252.4,484.2M243.7,488.3 244.0,488.4M244.0,488.4 246.7,487.7 249.0,486.4 251.4,485.1M252.4,484.2 251.4,485.1M244.0,488.4 246.3,489.9 249.2,489.5 251.7,490.8M251.4,485.1 250.9,488.0 251.7,490.8M228.3,517.0 230.0,515.2 231.7,513.6 233.8,512.4M226.7,517.3 228.2,515.2 230.4,513.5 231.3,510.9M233.8,512.4 232.4,510.8M232.4,510.8 231.3,510.9M225.2,517.8 226.7,517.3M235.5,522.4 237.2,521.5M237.2,521.5 236.3,518.4 237.0,515.2M232.7,501.7 233.4,504.0 233.0,506.3 232.3,508.5 232.4,510.8M237.2,521.5 237.2,521.6M232.2,536.1 233.6,533.7 236.5,532.8 237.9,530.5M237.2,521.6 239.4,524.0M253.3,524.7 251.0,526.1 248.6,527.1 246.0,527.5M253.3,524.7 255.3,527.0M249.4,537.3 247.5,535.0 245.2,533.0M256.4,532.1 255.8,529.6 255.3,527.0M246.0,527.5 245.6,530.2 245.2,533.0M237.7,537.6 241.2,536.9M237.7,537.6 239.1,535.1 239.1,532.2M241.2,536.9 243.3,535.6 244.5,533.5M239.1,532.2 242.0,532.1 244.5,533.5M234.3,538.9 237.7,537.6M242.8,539.3 241.2,536.9M245.2,533.0 244.5,533.5M239.4,524.0 241.4,525.5 243.8,526.4 246.0,527.5M253.2,494.8 254.0,497.1M253.2,494.8 253.9,492.0M254.0,497.1 256.4,496.6 258.8,496.9 261.2,496.7M253.9,492.0 256.0,490.6M262.3,494.8 261.2,496.7M248.1,496.2 250.4,494.8 253.2,494.8M254.0,499.2 254.0,497.1M251.7,490.8 253.9,492.0M260.4,501.2 261.1,499.0 261.2,496.7M265.6,493.8 262.3,494.8M248.1,512.5 249.8,514.2 250.1,516.6 250.6,518.8 252.2,520.6M247.1,518.3 249.9,519.0 252.2,520.6M251.8,510.6 248.1,512.5M243.5,512.0 244.8,512.5M237.2,521.6 239.5,520.1 242.1,519.9 244.5,518.7 247.1,518.3M254.4,521.0 253.7,521.9M253.7,521.9 252.2,520.6M253.3,524.7 253.7,521.9M300.4,533.4 302.1,531.4M300.4,533.4 302.1,535.2 304.4,536.5 306.0,538.4 307.0,540.9 308.9,542.5M302.6,529.7 302.1,531.4M297.5,536.0 300.4,533.4M311.0,536.9 309.8,538.8M284.3,534.2 283.2,532.7M288.3,527.1 286.6,528.9 284.8,530.6 283.1,532.3M283.2,532.7 283.1,532.3M263.9,515.9 266.0,519.1M263.9,515.9 266.2,513.8M266.2,513.8 267.6,515.8 267.9,518.3M266.0,519.1 267.9,518.3M264.8,521.6 266.0,519.1M268.3,510.4 266.2,513.8M273.4,517.9 270.6,517.4 267.9,518.3M281.9,524.4 278.6,525.0M275.0,518.9 276.4,520.8 278.0,522.6 278.6,525.0M279.5,528.7 280.7,531.1 283.1,532.3M279.5,528.7 278.6,525.3M278.6,525.0 278.6,525.3M279.5,528.7 277.7,530.9 276.7,533.6M276.7,533.6 279.3,535.1M284.3,534.2 282.5,536.0 281.0,538.1 279.8,540.4M275.0,518.9 273.7,521.1 271.7,522.5 269.1,523.0 267.8,525.1M274.5,527.9 271.4,527.8 268.4,526.9M268.4,526.9 267.8,525.1M264.8,521.6 265.6,524.2M265.6,524.2 267.8,525.1M275.2,534.1 274.0,537.8M275.2,534.1 273.2,531.8M273.2,531.8 272.3,531.9M274.0,537.8 272.2,538.5M279.8,540.5 276.7,539.6 274.0,537.8M274.5,527.9 273.2,531.8M268.4,526.9 268.0,529.6M268.0,529.6 270.2,530.6 272.3,531.9M264.4,537.1 267.9,537.2M262.3,538.6 264.4,537.1M260.7,526.7 262.8,528.0 263.9,530.2M260.7,526.7 262.9,525.2 265.4,524.3M265.4,524.3 264.6,527.2 263.9,530.2M255.3,527.0 258.0,526.5 260.7,526.7M265.7,532.5 263.9,530.2M265.6,524.2 265.4,524.3" stroke="#a07a4c" stroke-width="1.85" fill="none" stroke-linecap="round" stroke-linejoin="round" opacity="0.35" filter="url(#dblur2)"/>
<path d="M215.1,475.3 216.4,473.4 217.9,471.6 218.4,469.3M215.6,468.0 218.4,469.3M219.3,489.3 219.1,488.8M220.1,477.3 218.1,478.6 217.8,481.2 215.2,482.1 214.3,484.2M205.3,505.7 207.8,504.9 209.2,502.4 211.6,501.5 213.8,500.2 216.3,499.4 218.1,497.6M218.1,497.6 217.6,494.9 217.3,492.3M218.1,497.6 219.9,499.1 222.5,498.9 224.3,500.3M224.3,500.3 224.6,497.9 225.8,495.5 225.3,492.9 226.1,490.6M226.1,490.6 223.8,490.0 221.5,489.9 219.3,489.3M320.3,462.4 318.3,463.2M314.2,454.4 314.6,456.9 315.7,459.0 317.3,461.0 318.3,463.2M318.3,463.2 318.1,465.9 319.2,468.5 318.9,471.2M279.7,470.5 278.1,468.9 276.2,467.6M282.4,470.4 283.0,469.5M276.2,467.6 277.4,464.7M277.4,464.7 279.9,464.1 282.0,462.7M317.8,478.2 316.5,480.4 315.9,482.7 315.0,485.0 314.1,487.3M317.8,478.2 315.6,480.3 312.6,480.9M312.6,480.9 310.5,482.7 309.5,485.3M314.1,487.3 312.1,485.7 309.5,485.3M285.9,500.7 282.1,501.2M285.9,500.7 284.9,503.1 285.4,505.7 284.8,508.1M280.2,508.4 282.5,508.2 284.8,508.1M280.2,508.4 280.7,506.2 281.2,503.9 281.2,501.6M281.2,501.6 282.1,501.2M299.3,490.4 299.3,489.5M299.3,490.4 300.1,493.0 300.7,495.6 301.8,498.0 301.8,500.8M301.8,500.8 304.6,499.9M304.6,499.9 304.3,497.5 305.0,495.2 305.8,492.9 306.3,490.6 306.6,488.2 306.7,485.8M299.3,489.5 301.7,488.0 304.0,486.6 306.7,485.8M306.9,499.5 308.7,497.2 310.3,494.8M306.9,499.5 304.6,499.9M310.3,494.8 309.6,492.4 308.7,490.2 308.6,487.6 307.3,485.5M307.3,485.5 307.2,485.5M307.2,485.5 306.7,485.8M222.6,478.8 224.1,479.3M222.6,478.8 220.2,477.3M224.1,479.3 224.9,476.8 225.7,474.3 226.7,471.9 227.0,469.3M220.2,477.3 220.4,475.0 220.5,472.7 221.7,470.6 222.2,468.3M227.0,469.3 223.3,467.4M222.2,468.3 223.3,467.4M216.6,485.7 218.2,484.0 219.5,482.2 220.5,480.0 222.6,478.8M219.1,488.8 220.4,486.5 222.5,484.7 223.9,482.5 225.0,480.0M225.0,480.0 224.1,479.3M220.1,477.3 220.2,477.3M218.4,469.3 222.2,468.3M258.5,427.6 258.2,429.9 257.9,432.1 256.1,433.9 256.3,436.3 256.2,438.6 255.1,440.6 254.0,442.6 253.7,444.8 252.7,446.9 252.4,449.1 252.3,451.4 251.0,453.4 251.2,455.7 250.1,457.8 249.7,459.9 248.8,462.0 248.9,464.3M239.0,454.8 241.1,456.4 242.2,458.8 244.4,460.2 245.4,462.7 247.6,464.2M220.2,531.7 221.3,533.9 220.3,536.4 221.8,538.4 221.9,540.7M220.2,531.7 218.0,530.3 216.4,528.2M216.4,537.9 219.3,539.0 221.9,540.7M224.5,533.0 223.9,536.1 224.1,539.4M216.4,528.2 218.6,527.8 220.5,526.7 222.5,525.6 224.7,525.1M224.5,533.0 227.2,532.9 229.8,532.5M224.7,525.1 225.6,527.2 227.8,528.4 228.3,530.8 229.8,532.5M224.3,500.3 224.4,500.5M224.4,500.5 223.6,502.8 223.0,505.2 221.4,507.2M216.3,509.7 217.6,511.9 218.2,514.4M215.1,523.0 217.4,519.2M282.2,562.3 282.3,560.0 283.8,558.0 284.2,555.7 284.0,553.3 284.8,551.1 284.7,548.7 286.4,546.8 286.7,544.5 286.5,542.0 287.3,539.9 288.1,537.7M280.1,541.1 282.8,540.2 285.0,538.1 287.8,537.4M288.1,537.7 287.8,537.4M279.7,470.5 278.5,472.8 279.0,475.6 277.7,477.9 277.3,480.4M284.3,480.0 281.9,479.3 279.6,480.8 277.3,480.4M285.1,472.4 287.4,472.3 289.7,472.7M289.7,472.7 288.3,474.5 287.8,476.7 286.4,478.6 286.0,480.8M284.3,480.0 286.0,480.8M292.3,481.0 289.5,481.4 286.7,481.3M286.0,480.8 286.7,481.3M300.8,501.8 300.5,501.9M300.8,501.8 301.8,500.8M300.5,501.9 297.7,502.0 295.0,501.4M295.0,501.4 293.2,500.0 291.1,499.3 289.1,498.2M289.1,498.2 289.0,497.8M299.3,490.4 297.0,490.5 295.2,492.1 292.9,492.2 290.8,493.0M318.1,477.9 317.8,478.2M318.1,477.9 318.2,474.9 317.9,472.0M310.7,471.1 313.2,470.8 315.6,471.4 317.9,472.0M310.7,471.1 310.2,471.7M312.6,480.9 309.8,479.8 307.6,477.9M295.9,451.2 297.1,453.2 299.2,454.3 300.0,456.5 301.9,457.9M310.7,456.9 308.4,456.6 306.3,457.1 304.1,457.3 301.9,457.9M263.0,442.8 263.6,445.0 262.5,447.3 263.3,449.5 264.1,451.7 264.1,454.0 264.2,456.2 263.7,458.5 263.7,460.7M249.9,466.2 252.1,466.8M271.3,465.3 268.2,464.6 265.1,464.0M263.7,460.7 265.1,464.0M265.1,464.0 264.7,465.4M264.7,465.4 261.8,468.0M312.7,514.2 314.5,513.2M316.3,522.7 318.5,521.0 320.8,519.6M314.5,513.2 315.2,513.4M321.9,493.1 319.4,492.2 317.6,490.4M321.9,493.1 320.9,495.7 318.8,497.4M318.8,497.4 317.6,497.8M317.6,497.8 316.0,496.1 314.0,495.0 312.0,493.8M317.6,490.4 316.3,490.2M311.5,501.6 313.4,500.1 315.7,499.3 317.6,497.8M310.3,494.8 312.0,493.8M314.1,487.3 316.3,490.2M321.2,481.4 320.5,483.8 318.8,485.7 318.8,488.3 317.6,490.4M286.6,509.4 289.2,507.7 291.6,505.8M286.6,509.4 287.3,511.5M287.3,511.5 289.8,510.9 291.9,509.4M291.6,505.8 291.9,509.4M289.1,498.2 285.9,500.7M292.8,511.2 291.9,509.4M295.4,485.0 295.2,483.8M295.4,485.0 296.7,486.3M296.7,486.3 299.2,485.6 301.4,484.4 303.4,482.8 305.5,481.5M301.0,478.6 302.8,480.2 305.2,480.5M299.3,489.5 296.7,486.3M292.3,481.0 295.2,483.8M293.2,472.9 294.8,472.6M300.2,475.5 301.0,478.6M300.2,475.5 299.3,474.4M294.8,472.6 296.8,474.1 299.3,474.4M307.6,477.9 305.2,480.5M310.2,471.7 307.4,471.9 305.2,473.7 302.9,475.2 300.2,475.5M232.9,465.0 232.8,460.9M236.9,459.1 238.8,460.8 240.9,462.4 242.5,464.5M239.8,466.6 242.5,464.5M239.0,454.8 237.9,456.9 236.9,459.1M241.0,411.3 240.4,413.5 239.3,415.6 238.6,417.7 237.9,419.9 236.4,421.7 234.9,423.6 235.1,426.1 233.7,428.0 233.0,430.1 232.6,432.5 231.2,434.3 229.7,436.2 229.8,438.7 229.1,440.8 228.2,442.9 226.9,444.8 225.5,446.7 225.3,449.1 224.5,451.2 223.1,453.1 222.0,455.1 220.6,456.9 220.4,459.3M227.6,457.5 225.0,459.4 221.8,460.0M220.4,459.3 221.8,460.0M232.8,460.9 230.4,458.8 227.6,457.5M215.6,457.3 218.1,458.1 220.4,459.3M230.6,469.5 231.1,466.9 232.9,465.0M225.0,480.0 227.4,481.0M227.4,481.0 228.1,485.2M228.1,485.2 227.9,487.9 226.7,490.2M224.7,525.1 226.5,522.7M226.5,522.7 225.1,519.8M229.8,532.5 230.2,532.7M231.6,522.3 235.5,522.4M235.5,522.4 234.1,524.3 233.2,526.4 232.9,528.9 231.2,530.6 230.2,532.7M224.1,539.4 226.6,537.7 229.5,537.2 232.1,536.1M234.3,538.9 232.2,536.1M227.2,490.5 226.7,490.2M232.7,501.7 235.4,499.6M313.0,535.1 314.9,533.6 317.3,533.3 319.6,532.8M315.3,526.0 317.0,527.5M308.4,526.3 309.1,525.2M319.6,539.3 320.0,536.1 319.9,533.0M266.5,491.7 265.6,489.0 263.4,487.1 262.0,484.6M266.5,491.7 268.6,490.2 271.1,489.7M272.1,480.7 269.8,481.2 267.4,481.4 265.0,481.9 262.7,482.7M272.1,480.7 273.2,481.4M262.0,484.6 262.7,482.7M291.0,488.5 288.6,487.1 285.8,487.2M291.0,488.5 290.8,491.9M290.8,491.9 288.4,491.0 285.8,490.5 283.7,488.9M285.8,487.2 283.7,488.9M286.7,481.3 286.4,484.3 285.8,487.2M290.8,493.0 290.8,491.9M289.0,497.8 287.3,496.0 285.5,494.4 282.9,493.6 281.6,491.4M281.8,490.3 283.7,488.9M277.3,480.4 276.3,481.1M296.6,463.8 298.7,461.3 301.4,459.6M294.6,463.5 295.3,460.9 294.3,458.4 294.7,455.8 294.6,453.3M299.3,474.4 300.0,472.1 301.9,470.5M301.9,470.5 304.7,470.0 307.4,469.8 310.2,470.5M301.4,459.6 302.2,462.5 303.6,465.2M303.6,465.2 306.2,466.4 308.8,467.5M310.2,470.5 308.8,467.5M275.3,467.7 272.9,466.4M275.3,467.7 273.8,469.4 272.5,471.2 271.2,473.0 269.9,474.9M266.6,471.4 266.9,473.4M276.2,467.6 275.3,467.7M273.2,456.4 275.1,457.5 276.9,458.9M276.9,458.9 276.9,461.8 277.4,464.7M272.1,480.7 271.6,477.6 269.9,474.9M273.2,481.4 276.3,481.1M264.7,465.4 265.2,468.6 266.6,471.4M265.0,473.9 264.1,476.5 262.7,479.0 262.2,481.7M258.9,473.8 260.5,473.0M258.9,473.8 259.5,476.0 260.0,478.1 260.6,480.3M260.6,480.3 262.2,481.7M266.9,473.4 265.0,473.9M261.8,468.0 261.1,470.5 260.5,473.0M257.9,473.6 255.7,471.8 254.1,469.4 252.5,467.1M252.4,478.4 254.4,476.9 256.1,475.2 257.9,473.6M321.2,481.4 323.3,482.1 325.4,482.8 327.3,484.2 329.6,484.4 331.2,486.3 333.8,486.0 335.4,487.8 337.9,487.8 339.5,489.8 341.6,490.5 343.9,490.7 345.9,491.6M321.9,493.1 324.4,493.7 327.0,493.9 329.6,493.2M318.8,497.4 319.3,500.1 320.0,502.7M320.0,502.7 321.8,501.4 323.2,499.5 324.4,497.6 326.5,496.5 328.5,495.3 329.6,493.2M313.4,503.6 314.0,505.8 314.6,508.0 313.5,510.4 314.6,512.5M314.6,512.5 316.6,510.9 318.6,509.3 319.9,507.0 321.6,505.2M319.9,503.3 321.6,505.2M311.5,501.6 313.4,503.6M322.2,511.9 320.4,512.6M320.4,512.6 317.7,512.4 315.2,513.4M328.0,507.3 325.6,507.3 323.5,506.4 321.6,505.2M265.0,501.7 266.6,499.6 267.5,497.0M267.5,497.0 269.9,498.2M269.9,498.2 270.2,501.4 269.5,504.5M267.7,506.3 269.5,504.5M278.4,509.4 276.9,508.4M281.2,501.6 278.5,501.8 276.0,500.5M276.0,500.5 275.2,503.1M276.9,508.4 276.0,505.8 275.2,503.1M300.8,501.8 302.0,504.4 302.0,507.2M292.8,511.2 292.6,512.6M292.6,512.6 292.9,512.9M313.0,535.1 311.0,536.9M312.3,514.3 310.5,516.1 309.3,518.4 308.0,520.5M312.3,514.3 310.3,513.1 308.3,511.9 306.2,510.7 303.9,509.9 302.3,508.2M308.0,520.5 306.0,519.3 303.7,519.4 301.6,519.0M301.6,519.0 299.9,515.2M312.7,514.2 312.3,514.3M315.3,526.0 316.3,522.7M302.0,507.2 302.3,508.2M294.7,515.9 292.9,512.9M249.4,467.8 247.2,468.9 245.4,470.5 243.4,471.7 241.9,473.7 239.8,474.8M249.4,467.8 249.5,470.2 248.8,472.7 249.0,475.2 249.7,477.7M249.7,477.7 247.3,477.8 245.0,478.5 242.5,477.9M249.9,466.2 249.4,467.8M239.8,466.6 239.5,469.2 239.2,471.8 237.9,474.2M230.6,469.5 232.5,470.8 233.1,473.1 234.7,474.7M237.9,474.2 234.7,474.7M227.4,481.0 230.3,480.0 232.8,478.2M234.7,474.7 232.8,478.2M249.7,477.7 250.6,478.5M224.4,515.5 225.2,517.8M221.4,507.2 223.2,508.8 225.4,509.8 227.2,511.2M224.4,515.5 225.8,513.3 227.2,511.2M322.6,520.2 321.5,517.4 321.5,514.3M321.5,514.3 322.5,516.9 324.9,518.5 326.1,520.9M320.8,519.6 322.6,520.2M317.0,527.5 319.2,526.3 320.6,524.3 322.9,523.1 324.1,520.8M319.9,533.0 319.6,532.8M279.6,494.4 278.3,496.3 276.8,497.9 275.9,500.0M279.6,494.4 280.5,492.2M280.5,492.2 277.2,492.7 273.9,491.9M273.9,491.9 272.9,494.9 273.0,498.0M273.0,498.0 275.9,500.0M282.1,501.2 281.6,498.8 280.4,496.7 279.6,494.4M281.6,491.4 280.5,492.2M265.6,493.8 267.5,497.0M269.9,498.2 273.0,498.0M269.5,504.5 272.2,503.1 275.2,503.1M287.4,463.8 284.3,461.5M284.3,461.5 283.7,459.1 282.8,456.8M282.0,462.7 284.3,461.5M292.2,472.3 291.8,469.6 291.1,467.0 290.3,464.5M290.3,464.5 289.2,463.7M290.3,464.5 292.5,464.1 294.6,463.5M294.6,453.3 293.2,455.7 290.8,457.1M276.9,458.9 279.8,457.6 282.8,456.8M302.6,466.1 301.6,469.6M302.6,466.1 300.1,466.0 297.8,466.9M301.6,469.6 297.7,467.8M297.8,466.9 297.7,467.8M301.9,470.5 301.6,469.6M296.6,463.8 297.8,466.9M294.8,472.6 296.8,470.6 297.7,467.8M267.6,506.8 267.4,508.9M267.4,508.9 265.0,509.7 262.6,510.1 260.0,509.8M260.0,509.8 257.5,507.1M267.7,506.3 267.6,506.8M258.7,502.8 260.4,501.2M258.7,502.8 258.7,502.8M259.9,510.8 258.0,512.5 256.3,514.3 254.8,516.3M252.9,507.9 251.8,510.6M252.9,507.9 255.3,508.0 257.5,507.1M251.8,510.6 253.9,513.1 254.8,516.3M259.9,510.8 261.4,513.1 261.9,515.9M259.4,519.3 261.9,515.9M259.4,519.3 256.7,519.6 254.4,521.0M254.8,516.3 254.0,518.6 254.4,521.0M252.0,500.8 250.9,502.9 250.0,505.0M248.3,498.8 246.3,501.4 244.1,503.7M244.1,503.7 244.7,504.5M252.9,507.9 250.0,505.0M254.0,499.2 252.0,500.8M243.5,512.0 241.6,513.7 239.0,513.8 237.0,515.2M237.0,515.2 236.6,514.7M294.7,515.9 292.0,519.3M292.0,519.3 290.4,517.4 289.6,515.0 289.2,512.6M283.5,518.6 287.2,518.2M287.2,518.2 286.3,514.0M278.4,509.4 278.6,512.2 278.5,515.1M278.5,515.1 278.5,515.1M286.3,514.0 287.4,512.0M290.9,531.4 293.0,531.8M291.8,519.8 289.6,520.9M296.4,526.5 293.5,526.8 290.9,525.7 288.1,525.1M289.6,520.9 288.0,524.8M305.3,528.5 302.6,529.7M302.6,529.7 300.0,528.1 298.4,525.5M287.2,518.2 289.6,520.9M290.9,531.4 289.6,529.3 288.3,527.1M288.3,527.1 288.1,525.1M293.0,531.8 294.2,528.9 296.4,526.5M249.5,538.5 249.4,537.3M262.3,538.6 260.5,536.3 258.1,534.5 256.4,532.1M278.5,515.1 276.5,516.8 275.0,518.9M268.2,509.8 268.3,510.4M268.3,510.4 268.9,512.7 270.4,514.4 271.8,516.3 273.4,517.9M275.0,518.9 273.4,517.9M233.0,486.4 232.2,490.2M237.5,485.3 241.1,487.5M232.2,490.2 235.0,490.9 237.5,492.0 240.0,493.4M241.8,488.8 241.1,487.5M241.8,488.8 240.6,492.5M240.0,493.4 240.6,492.5M227.2,490.5 229.7,490.2 232.2,490.2M242.5,477.9 242.8,480.4 241.2,482.6 240.8,485.0 241.1,487.5M235.4,499.6 237.8,498.5M237.8,498.5 239.4,496.2 240.0,493.4M243.7,488.3 241.8,488.8M237.8,498.5 239.0,500.6 241.1,501.7M248.1,496.2 245.9,494.3 242.8,494.4 240.6,492.5M262.0,484.6 259.7,486.3 257.1,487.5M255.7,480.0 255.9,483.2 256.0,486.4M250.8,478.6 251.2,481.5 252.4,484.2M243.7,488.3 244.0,488.4M244.0,488.4 246.7,487.7 249.0,486.4 251.4,485.1M252.4,484.2 251.4,485.1M244.0,488.4 246.3,489.9 249.2,489.5 251.7,490.8M251.4,485.1 250.9,488.0 251.7,490.8M228.3,517.0 230.0,515.2 231.7,513.6 233.8,512.4M226.7,517.3 228.2,515.2 230.4,513.5 231.3,510.9M233.8,512.4 232.4,510.8M232.4,510.8 231.3,510.9M225.2,517.8 226.7,517.3M235.5,522.4 237.2,521.5M237.2,521.5 236.3,518.4 237.0,515.2M232.7,501.7 233.4,504.0 233.0,506.3 232.3,508.5 232.4,510.8M237.2,521.5 237.2,521.6M232.2,536.1 233.6,533.7 236.5,532.8 237.9,530.5M237.2,521.6 239.4,524.0M253.3,524.7 251.0,526.1 248.6,527.1 246.0,527.5M253.3,524.7 255.3,527.0M249.4,537.3 247.5,535.0 245.2,533.0M256.4,532.1 255.8,529.6 255.3,527.0M246.0,527.5 245.6,530.2 245.2,533.0M237.7,537.6 241.2,536.9M237.7,537.6 239.1,535.1 239.1,532.2M241.2,536.9 243.3,535.6 244.5,533.5M239.1,532.2 242.0,532.1 244.5,533.5M234.3,538.9 237.7,537.6M242.8,539.3 241.2,536.9M245.2,533.0 244.5,533.5M239.4,524.0 241.4,525.5 243.8,526.4 246.0,527.5M253.2,494.8 254.0,497.1M253.2,494.8 253.9,492.0M254.0,497.1 256.4,496.6 258.8,496.9 261.2,496.7M253.9,492.0 256.0,490.6M262.3,494.8 261.2,496.7M248.1,496.2 250.4,494.8 253.2,494.8M254.0,499.2 254.0,497.1M251.7,490.8 253.9,492.0M260.4,501.2 261.1,499.0 261.2,496.7M265.6,493.8 262.3,494.8M248.1,512.5 249.8,514.2 250.1,516.6 250.6,518.8 252.2,520.6M247.1,518.3 249.9,519.0 252.2,520.6M251.8,510.6 248.1,512.5M243.5,512.0 244.8,512.5M237.2,521.6 239.5,520.1 242.1,519.9 244.5,518.7 247.1,518.3M254.4,521.0 253.7,521.9M253.7,521.9 252.2,520.6M253.3,524.7 253.7,521.9M300.4,533.4 302.1,531.4M300.4,533.4 302.1,535.2 304.4,536.5 306.0,538.4 307.0,540.9 308.9,542.5M302.6,529.7 302.1,531.4M297.5,536.0 300.4,533.4M311.0,536.9 309.8,538.8M284.3,534.2 283.2,532.7M288.3,527.1 286.6,528.9 284.8,530.6 283.1,532.3M283.2,532.7 283.1,532.3M263.9,515.9 266.0,519.1M263.9,515.9 266.2,513.8M266.2,513.8 267.6,515.8 267.9,518.3M266.0,519.1 267.9,518.3M264.8,521.6 266.0,519.1M268.3,510.4 266.2,513.8M273.4,517.9 270.6,517.4 267.9,518.3M281.9,524.4 278.6,525.0M275.0,518.9 276.4,520.8 278.0,522.6 278.6,525.0M279.5,528.7 280.7,531.1 283.1,532.3M279.5,528.7 278.6,525.3M278.6,525.0 278.6,525.3M279.5,528.7 277.7,530.9 276.7,533.6M276.7,533.6 279.3,535.1M284.3,534.2 282.5,536.0 281.0,538.1 279.8,540.4M275.0,518.9 273.7,521.1 271.7,522.5 269.1,523.0 267.8,525.1M274.5,527.9 271.4,527.8 268.4,526.9M268.4,526.9 267.8,525.1M264.8,521.6 265.6,524.2M265.6,524.2 267.8,525.1M275.2,534.1 274.0,537.8M275.2,534.1 273.2,531.8M273.2,531.8 272.3,531.9M274.0,537.8 272.2,538.5M279.8,540.5 276.7,539.6 274.0,537.8M274.5,527.9 273.2,531.8M268.4,526.9 268.0,529.6M268.0,529.6 270.2,530.6 272.3,531.9M264.4,537.1 267.9,537.2M262.3,538.6 264.4,537.1M260.7,526.7 262.8,528.0 263.9,530.2M260.7,526.7 262.9,525.2 265.4,524.3M265.4,524.3 264.6,527.2 263.9,530.2M255.3,527.0 258.0,526.5 260.7,526.7M265.7,532.5 263.9,530.2M265.6,524.2 265.4,524.3" stroke="#a07a4c" stroke-width="0.95" fill="none" stroke-linecap="round" stroke-linejoin="round" filter="url(#dblur)"/>
<path d="M215.1,475.3 216.4,473.4 217.9,471.6 218.4,469.3M220.1,477.3 218.1,478.6 217.8,481.2 215.2,482.1 214.3,484.2M218.1,497.6 217.6,494.9 217.3,492.3M218.1,497.6 219.9,499.1 222.5,498.9 224.3,500.3M224.3,500.3 224.6,497.9 225.8,495.5 225.3,492.9 226.1,490.6M320.3,462.4 318.3,463.2M314.2,454.4 314.6,456.9 315.7,459.0 317.3,461.0 318.3,463.2M282.4,470.4 283.0,469.5M276.2,467.6 277.4,464.7M277.4,464.7 279.9,464.1 282.0,462.7M317.8,478.2 315.6,480.3 312.6,480.9M312.6,480.9 310.5,482.7 309.5,485.3M314.1,487.3 312.1,485.7 309.5,485.3M285.9,500.7 282.1,501.2M285.9,500.7 284.9,503.1 285.4,505.7 284.8,508.1M280.2,508.4 282.5,508.2 284.8,508.1M280.2,508.4 280.7,506.2 281.2,503.9 281.2,501.6M299.3,490.4 299.3,489.5M299.3,490.4 300.1,493.0 300.7,495.6 301.8,498.0 301.8,500.8M301.8,500.8 304.6,499.9M299.3,489.5 301.7,488.0 304.0,486.6 306.7,485.8M306.9,499.5 308.7,497.2 310.3,494.8M310.3,494.8 309.6,492.4 308.7,490.2 308.6,487.6 307.3,485.5M307.3,485.5 307.2,485.5M307.2,485.5 306.7,485.8M222.6,478.8 224.1,479.3M222.6,478.8 220.2,477.3M220.2,477.3 220.4,475.0 220.5,472.7 221.7,470.6 222.2,468.3M227.0,469.3 223.3,467.4M216.6,485.7 218.2,484.0 219.5,482.2 220.5,480.0 222.6,478.8M219.1,488.8 220.4,486.5 222.5,484.7 223.9,482.5 225.0,480.0M220.1,477.3 220.2,477.3M218.4,469.3 222.2,468.3M258.5,427.6 258.2,429.9 257.9,432.1 256.1,433.9 256.3,436.3 256.2,438.6 255.1,440.6 254.0,442.6 253.7,444.8 252.7,446.9 252.4,449.1 252.3,451.4 251.0,453.4 251.2,455.7 250.1,457.8 249.7,459.9 248.8,462.0 248.9,464.3M239.0,454.8 241.1,456.4 242.2,458.8 244.4,460.2 245.4,462.7 247.6,464.2M220.2,531.7 221.3,533.9 220.3,536.4 221.8,538.4 221.9,540.7M220.2,531.7 218.0,530.3 216.4,528.2M216.4,537.9 219.3,539.0 221.9,540.7M224.5,533.0 223.9,536.1 224.1,539.4M216.4,528.2 218.6,527.8 220.5,526.7 222.5,525.6 224.7,525.1M224.5,533.0 227.2,532.9 229.8,532.5M224.7,525.1 225.6,527.2 227.8,528.4 228.3,530.8 229.8,532.5M224.3,500.3 224.4,500.5M224.4,500.5 223.6,502.8 223.0,505.2 221.4,507.2M216.3,509.7 217.6,511.9 218.2,514.4M280.1,541.1 282.8,540.2 285.0,538.1 287.8,537.4M288.1,537.7 287.8,537.4M284.3,480.0 281.9,479.3 279.6,480.8 277.3,480.4M285.1,472.4 287.4,472.3 289.7,472.7M289.7,472.7 288.3,474.5 287.8,476.7 286.4,478.6 286.0,480.8M284.3,480.0 286.0,480.8M292.3,481.0 289.5,481.4 286.7,481.3M300.8,501.8 300.5,501.9M300.8,501.8 301.8,500.8M300.5,501.9 297.7,502.0 295.0,501.4M295.0,501.4 293.2,500.0 291.1,499.3 289.1,498.2M289.1,498.2 289.0,497.8M299.3,490.4 297.0,490.5 295.2,492.1 292.9,492.2 290.8,493.0M318.1,477.9 317.8,478.2M318.1,477.9 318.2,474.9 317.9,472.0M310.7,471.1 313.2,470.8 315.6,471.4 317.9,472.0M312.6,480.9 309.8,479.8 307.6,477.9M295.9,451.2 297.1,453.2 299.2,454.3 300.0,456.5 301.9,457.9M310.7,456.9 308.4,456.6 306.3,457.1 304.1,457.3 301.9,457.9M249.9,466.2 252.1,466.8M271.3,465.3 268.2,464.6 265.1,464.0M263.7,460.7 265.1,464.0M265.1,464.0 264.7,465.4M264.7,465.4 261.8,468.0M316.3,522.7 318.5,521.0 320.8,519.6M314.5,513.2 315.2,513.4M321.9,493.1 319.4,492.2 317.6,490.4M317.6,497.8 316.0,496.1 314.0,495.0 312.0,493.8M311.5,501.6 313.4,500.1 315.7,499.3 317.6,497.8M310.3,494.8 312.0,493.8M321.2,481.4 320.5,483.8 318.8,485.7 318.8,488.3 317.6,490.4M286.6,509.4 289.2,507.7 291.6,505.8M286.6,509.4 287.3,511.5M287.3,511.5 289.8,510.9 291.9,509.4M291.6,505.8 291.9,509.4M289.1,498.2 285.9,500.7M296.7,486.3 299.2,485.6 301.4,484.4 303.4,482.8 305.5,481.5M292.3,481.0 295.2,483.8M300.2,475.5 301.0,478.6M300.2,475.5 299.3,474.4M307.6,477.9 305.2,480.5M310.2,471.7 307.4,471.9 305.2,473.7 302.9,475.2 300.2,475.5M232.9,465.0 232.8,460.9M236.9,459.1 238.8,460.8 240.9,462.4 242.5,464.5M239.8,466.6 242.5,464.5M239.0,454.8 237.9,456.9 236.9,459.1M241.0,411.3 240.4,413.5 239.3,415.6 238.6,417.7 237.9,419.9 236.4,421.7 234.9,423.6 235.1,426.1 233.7,428.0 233.0,430.1 232.6,432.5 231.2,434.3 229.7,436.2 229.8,438.7 229.1,440.8 228.2,442.9 226.9,444.8 225.5,446.7 225.3,449.1 224.5,451.2 223.1,453.1 222.0,455.1 220.6,456.9 220.4,459.3M227.6,457.5 225.0,459.4 221.8,460.0M220.4,459.3 221.8,460.0M232.8,460.9 230.4,458.8 227.6,457.5M227.4,481.0 228.1,485.2M228.1,485.2 227.9,487.9 226.7,490.2M224.7,525.1 226.5,522.7M229.8,532.5 230.2,532.7M235.5,522.4 234.1,524.3 233.2,526.4 232.9,528.9 231.2,530.6 230.2,532.7M224.1,539.4 226.6,537.7 229.5,537.2 232.1,536.1M232.7,501.7 235.4,499.6M315.3,526.0 317.0,527.5M272.1,480.7 269.8,481.2 267.4,481.4 265.0,481.9 262.7,482.7M262.0,484.6 262.7,482.7M291.0,488.5 288.6,487.1 285.8,487.2M291.0,488.5 290.8,491.9M290.8,491.9 288.4,491.0 285.8,490.5 283.7,488.9M286.7,481.3 286.4,484.3 285.8,487.2M290.8,493.0 290.8,491.9M281.8,490.3 283.7,488.9M296.6,463.8 298.7,461.3 301.4,459.6M294.6,463.5 295.3,460.9 294.3,458.4 294.7,455.8 294.6,453.3M301.9,470.5 304.7,470.0 307.4,469.8 310.2,470.5M301.4,459.6 302.2,462.5 303.6,465.2M303.6,465.2 306.2,466.4 308.8,467.5M310.2,470.5 308.8,467.5M275.3,467.7 272.9,466.4M266.6,471.4 266.9,473.4M276.2,467.6 275.3,467.7M273.2,456.4 275.1,457.5 276.9,458.9M276.9,458.9 276.9,461.8 277.4,464.7M272.1,480.7 271.6,477.6 269.9,474.9M273.2,481.4 276.3,481.1M265.0,473.9 264.1,476.5 262.7,479.0 262.2,481.7M258.9,473.8 260.5,473.0M260.6,480.3 262.2,481.7M266.9,473.4 265.0,473.9M252.4,478.4 254.4,476.9 256.1,475.2 257.9,473.6M321.2,481.4 323.3,482.1 325.4,482.8 327.3,484.2 329.6,484.4 331.2,486.3 333.8,486.0 335.4,487.8 337.9,487.8 339.5,489.8 341.6,490.5 343.9,490.7 345.9,491.6M321.9,493.1 324.4,493.7 327.0,493.9 329.6,493.2M320.0,502.7 321.8,501.4 323.2,499.5 324.4,497.6 326.5,496.5 328.5,495.3 329.6,493.2M313.4,503.6 314.0,505.8 314.6,508.0 313.5,510.4 314.6,512.5M319.9,503.3 321.6,505.2M311.5,501.6 313.4,503.6M322.2,511.9 320.4,512.6M328.0,507.3 325.6,507.3 323.5,506.4 321.6,505.2M265.0,501.7 266.6,499.6 267.5,497.0M267.5,497.0 269.9,498.2M278.4,509.4 276.9,508.4M281.2,501.6 278.5,501.8 276.0,500.5M276.0,500.5 275.2,503.1M276.9,508.4 276.0,505.8 275.2,503.1M300.8,501.8 302.0,504.4 302.0,507.2M292.8,511.2 292.6,512.6M292.6,512.6 292.9,512.9M313.0,535.1 311.0,536.9M312.3,514.3 310.5,516.1 309.3,518.4 308.0,520.5M312.3,514.3 310.3,513.1 308.3,511.9 306.2,510.7 303.9,509.9 302.3,508.2M308.0,520.5 306.0,519.3 303.7,519.4 301.6,519.0M301.6,519.0 299.9,515.2M312.7,514.2 312.3,514.3M315.3,526.0 316.3,522.7M294.7,515.9 292.9,512.9M249.4,467.8 247.2,468.9 245.4,470.5 243.4,471.7 241.9,473.7 239.8,474.8M249.4,467.8 249.5,470.2 248.8,472.7 249.0,475.2 249.7,477.7M249.9,466.2 249.4,467.8M239.8,466.6 239.5,469.2 239.2,471.8 237.9,474.2M230.6,469.5 232.5,470.8 233.1,473.1 234.7,474.7M237.9,474.2 234.7,474.7M227.4,481.0 230.3,480.0 232.8,478.2M234.7,474.7 232.8,478.2M224.4,515.5 225.2,517.8M221.4,507.2 223.2,508.8 225.4,509.8 227.2,511.2M224.4,515.5 225.8,513.3 227.2,511.2M321.5,514.3 322.5,516.9 324.9,518.5 326.1,520.9M320.8,519.6 322.6,520.2M317.0,527.5 319.2,526.3 320.6,524.3 322.9,523.1 324.1,520.8M319.9,533.0 319.6,532.8M279.6,494.4 278.3,496.3 276.8,497.9 275.9,500.0M279.6,494.4 280.5,492.2M273.9,491.9 272.9,494.9 273.0,498.0M282.1,501.2 281.6,498.8 280.4,496.7 279.6,494.4M281.6,491.4 280.5,492.2M265.6,493.8 267.5,497.0M269.9,498.2 273.0,498.0M269.5,504.5 272.2,503.1 275.2,503.1M287.4,463.8 284.3,461.5M284.3,461.5 283.7,459.1 282.8,456.8M282.0,462.7 284.3,461.5M292.2,472.3 291.8,469.6 291.1,467.0 290.3,464.5M290.3,464.5 289.2,463.7M290.3,464.5 292.5,464.1 294.6,463.5M294.6,453.3 293.2,455.7 290.8,457.1M276.9,458.9 279.8,457.6 282.8,456.8M302.6,466.1 300.1,466.0 297.8,466.9M301.6,469.6 297.7,467.8M297.8,466.9 297.7,467.8M296.6,463.8 297.8,466.9M294.8,472.6 296.8,470.6 297.7,467.8M267.6,506.8 267.4,508.9M267.4,508.9 265.0,509.7 262.6,510.1 260.0,509.8M260.0,509.8 257.5,507.1M258.7,502.8 260.4,501.2M258.7,502.8 258.7,502.8M259.9,510.8 258.0,512.5 256.3,514.3 254.8,516.3M252.9,507.9 251.8,510.6M259.4,519.3 256.7,519.6 254.4,521.0M254.8,516.3 254.0,518.6 254.4,521.0M252.0,500.8 250.9,502.9 250.0,505.0M252.9,507.9 250.0,505.0M254.0,499.2 252.0,500.8M243.5,512.0 241.6,513.7 239.0,513.8 237.0,515.2M237.0,515.2 236.6,514.7M294.7,515.9 292.0,519.3M292.0,519.3 290.4,517.4 289.6,515.0 289.2,512.6M287.2,518.2 286.3,514.0M278.4,509.4 278.6,512.2 278.5,515.1M278.5,515.1 278.5,515.1M290.9,531.4 293.0,531.8M291.8,519.8 289.6,520.9M296.4,526.5 293.5,526.8 290.9,525.7 288.1,525.1M305.3,528.5 302.6,529.7M302.6,529.7 300.0,528.1 298.4,525.5M290.9,531.4 289.6,529.3 288.3,527.1M293.0,531.8 294.2,528.9 296.4,526.5M249.5,538.5 249.4,537.3M278.5,515.1 276.5,516.8 275.0,518.9M268.2,509.8 268.3,510.4M268.3,510.4 268.9,512.7 270.4,514.4 271.8,516.3 273.4,517.9M275.0,518.9 273.4,517.9M233.0,486.4 232.2,490.2M237.5,485.3 241.1,487.5M232.2,490.2 235.0,490.9 237.5,492.0 240.0,493.4M241.8,488.8 241.1,487.5M241.8,488.8 240.6,492.5M240.0,493.4 240.6,492.5M227.2,490.5 229.7,490.2 232.2,490.2M242.5,477.9 242.8,480.4 241.2,482.6 240.8,485.0 241.1,487.5M237.8,498.5 239.4,496.2 240.0,493.4M243.7,488.3 241.8,488.8M237.8,498.5 239.0,500.6 241.1,501.7M248.1,496.2 245.9,494.3 242.8,494.4 240.6,492.5M262.0,484.6 259.7,486.3 257.1,487.5M255.7,480.0 255.9,483.2 256.0,486.4M243.7,488.3 244.0,488.4M244.0,488.4 246.7,487.7 249.0,486.4 251.4,485.1M244.0,488.4 246.3,489.9 249.2,489.5 251.7,490.8M251.4,485.1 250.9,488.0 251.7,490.8M228.3,517.0 230.0,515.2 231.7,513.6 233.8,512.4M226.7,517.3 228.2,515.2 230.4,513.5 231.3,510.9M235.5,522.4 237.2,521.5M237.2,521.5 236.3,518.4 237.0,515.2M232.7,501.7 233.4,504.0 233.0,506.3 232.3,508.5 232.4,510.8M237.2,521.5 237.2,521.6M232.2,536.1 233.6,533.7 236.5,532.8 237.9,530.5M237.2,521.6 239.4,524.0M253.3,524.7 251.0,526.1 248.6,527.1 246.0,527.5M253.3,524.7 255.3,527.0M249.4,537.3 247.5,535.0 245.2,533.0M246.0,527.5 245.6,530.2 245.2,533.0M237.7,537.6 241.2,536.9M237.7,537.6 239.1,535.1 239.1,532.2M239.1,532.2 242.0,532.1 244.5,533.5M234.3,538.9 237.7,537.6M242.8,539.3 241.2,536.9M245.2,533.0 244.5,533.5M253.2,494.8 254.0,497.1M253.2,494.8 253.9,492.0M254.0,497.1 256.4,496.6 258.8,496.9 261.2,496.7M262.3,494.8 261.2,496.7M248.1,496.2 250.4,494.8 253.2,494.8M254.0,499.2 254.0,497.1M251.7,490.8 253.9,492.0M260.4,501.2 261.1,499.0 261.2,496.7M265.6,493.8 262.3,494.8M248.1,512.5 249.8,514.2 250.1,516.6 250.6,518.8 252.2,520.6M247.1,518.3 249.9,519.0 252.2,520.6M251.8,510.6 248.1,512.5M237.2,521.6 239.5,520.1 242.1,519.9 244.5,518.7 247.1,518.3M254.4,521.0 253.7,521.9M300.4,533.4 302.1,531.4M300.4,533.4 302.1,535.2 304.4,536.5 306.0,538.4 307.0,540.9 308.9,542.5M297.5,536.0 300.4,533.4M284.3,534.2 283.2,532.7M288.3,527.1 286.6,528.9 284.8,530.6 283.1,532.3M283.2,532.7 283.1,532.3M263.9,515.9 266.0,519.1M266.2,513.8 267.6,515.8 267.9,518.3M266.0,519.1 267.9,518.3M264.8,521.6 266.0,519.1M268.3,510.4 266.2,513.8M281.9,524.4 278.6,525.0M275.0,518.9 276.4,520.8 278.0,522.6 278.6,525.0M279.5,528.7 280.7,531.1 283.1,532.3M279.5,528.7 278.6,525.3M278.6,525.0 278.6,525.3M276.7,533.6 279.3,535.1M275.0,518.9 273.7,521.1 271.7,522.5 269.1,523.0 267.8,525.1M268.4,526.9 267.8,525.1M264.8,521.6 265.6,524.2M265.6,524.2 267.8,525.1M275.2,534.1 274.0,537.8M275.2,534.1 273.2,531.8M273.2,531.8 272.3,531.9M274.0,537.8 272.2,538.5M279.8,540.5 276.7,539.6 274.0,537.8M274.5,527.9 273.2,531.8M268.4,526.9 268.0,529.6M264.4,537.1 267.9,537.2M262.3,538.6 264.4,537.1M260.7,526.7 262.9,525.2 265.4,524.3M265.4,524.3 264.6,527.2 263.9,530.2M255.3,527.0 258.0,526.5 260.7,526.7M265.7,532.5 263.9,530.2M265.6,524.2 265.4,524.3" stroke="#fae6c4" stroke-width="0.65" fill="none" stroke-linecap="round" stroke-dasharray="1.2 0.9" opacity="0.9"/>
<circle cx="270.1" cy="518.1" r="10" fill="#050302" opacity="0.95" filter="url(#dblur)"/>
<circle cx="272.1" cy="530.1" r="9" fill="#050302" opacity="0.95" filter="url(#dblur)"/>
<circle cx="286.1" cy="528.1" r="7" fill="#050302" opacity="0.9" filter="url(#dblur)"/>
<circle cx="304.1" cy="506.1" r="6" fill="#050302" opacity="0.7" filter="url(#dblur)"/>
<circle cx="234.1" cy="524.1" r="6" fill="#050302" opacity="0.6" filter="url(#dblur)"/>
</g>
<g clip-path="url(#cd3)">
<rect x="319.8" y="462.1" width="95.0" height="71.4" fill="#0c0503"/>
<circle cx="344.8" cy="482.1" r="16" fill="#4a2410" opacity="0.7" filter="url(#dblur3)"/>
<circle cx="374.8" cy="497.1" r="10" fill="#2a1408" opacity="0.6" filter="url(#dblur3)"/>
<path d="M308.9,521.5 310.7,519.5 313.5,519.1 315.4,517.4M294.4,521.2 296.5,520.1 299.0,519.7 300.8,518.0 303.2,517.5 305.3,516.5 307.1,514.8 308.9,513.0 311.6,513.1 313.7,512.0 315.6,510.5M315.4,517.4 316.0,514.7 317.6,512.5M315.6,510.5 317.6,512.5M323.9,520.3 322.0,519.1 319.7,518.7 317.6,517.9 315.4,517.4M323.9,520.3 324.3,521.4M316.9,526.5 318.7,525.0 320.7,524.0 322.2,522.2 324.3,521.4M316.9,526.5 314.6,525.7 312.6,524.6 310.7,523.1 308.9,521.5M312.8,504.9 313.5,508.1 315.6,510.5M387.2,535.9 389.1,535.8M389.1,535.8 389.0,538.1 387.9,540.1M318.3,468.8 319.8,466.5 320.2,463.8 321.2,461.4M318.3,468.8 315.1,468.6 312.4,467.0M312.4,467.0 313.8,464.6 315.0,462.1 316.2,459.6M321.2,461.4 318.7,460.4 316.2,459.6M315.7,456.3 316.2,459.6M347.4,482.1 344.8,481.7 342.6,480.5 340.3,479.2M350.4,480.0 348.9,477.9 347.0,476.3 344.9,474.8M344.9,474.8 342.8,477.1 340.3,479.2M331.1,468.9 329.9,466.7 330.1,464.3 329.7,461.9M324.8,466.7 325.1,464.1 326.2,461.8 327.3,459.5M329.7,461.9 327.4,459.4M332.9,463.1 334.8,461.8 336.9,460.9M332.9,463.1 329.7,461.9M334.1,454.1 335.6,456.1 336.3,458.5 336.9,460.9M293.1,476.0 294.8,477.6 296.9,478.3 299.3,478.7 300.8,480.7 302.8,481.6 305.1,482.1 307.0,483.5 308.9,484.7 311.4,484.6 313.0,486.4 315.2,487.0M343.3,500.0 342.2,504.2M342.2,504.2 340.0,503.2M342.3,499.8 341.6,499.5M341.6,499.5 339.1,500.8 336.3,501.1 333.6,501.9M340.0,503.2 336.9,503.5 333.9,503.5M333.6,501.9 333.9,503.5M334.7,521.6 333.4,523.6 331.6,525.1M334.7,521.6 334.4,519.0M323.9,520.3 324.6,517.8 325.0,515.4 325.2,512.9M324.3,521.4 327.1,523.3M331.6,525.1 329.2,524.4 327.1,523.3M327.1,523.3 325.0,524.9 324.0,527.3 322.3,529.1 320.2,530.7 319.2,533.0M311.4,534.7 314.0,534.5 316.7,534.5 319.2,533.5M318.2,538.7 319.6,536.5 319.7,534.0M319.7,534.0 319.2,533.5M319.2,533.5 319.2,533.0M417.1,517.5 417.6,521.0M423.0,526.0 421.4,524.1 419.7,522.4 417.6,521.0M364.4,478.0 364.2,475.4 364.1,472.8 364.3,470.1M364.4,478.0 367.1,476.8M366.0,469.7 368.9,470.8M367.1,476.8 368.3,473.9 368.9,470.8M353.2,518.0 356.0,517.2M356.0,517.2 358.3,518.0 360.5,519.1M347.8,485.1 350.4,486.6 352.2,489.0M347.7,494.0 349.5,492.6 350.8,490.7 352.2,489.0M347.7,494.0 346.0,493.1M346.0,493.1 345.3,490.5 345.2,487.7M346.8,485.6 345.2,487.7M354.4,485.1 353.5,482.2 354.1,479.2M355.2,477.5 359.0,477.2M359.0,477.2 361.2,478.4M355.7,490.3 353.0,488.7M353.0,488.7 354.4,485.1M363.4,489.6 361.0,487.6 359.6,484.8M352.2,489.0 353.0,488.7M366.3,484.8 365.1,487.3 363.4,489.6M366.3,484.8 365.1,482.8 364.4,480.7 363.4,478.7M363.4,478.7 361.2,478.4M360.8,470.0 360.5,472.4 359.5,474.7 359.0,477.2M314.3,477.6 314.9,477.3M314.9,477.3 317.2,477.6 319.6,477.7M319.1,480.8 319.6,477.7M317.1,474.9 320.3,477.1M315.2,487.0 317.2,487.0M317.2,487.0 319.1,486.0M312.3,489.8 315.7,492.4M317.1,474.9 317.6,473.9M320.3,477.1 321.9,476.5M321.9,476.5 319.7,475.3 317.6,473.9M318.3,468.8 318.7,469.1M324.8,466.7 322.2,469.8M322.2,469.8 318.7,469.1M317.6,473.9 317.6,471.4 318.7,469.1M321.9,476.5 323.9,475.4 326.2,475.7M322.2,469.8 324.0,471.3 324.9,473.6 326.3,475.4M351.3,471.5 348.2,471.6M351.3,471.5 352.7,473.5 354.0,475.5 355.2,477.5M348.2,471.6 346.4,472.1M360.8,470.0 360.2,469.0M337.3,467.1 340.4,466.3M337.3,467.1 334.6,468.7 332.5,471.2M340.4,466.3 340.8,467.0M340.8,467.0 340.2,469.2 340.1,471.5 338.5,473.4 338.3,475.7 338.0,477.9M332.5,471.2 332.0,473.1M332.0,473.1 334.0,474.5 335.8,476.1 337.6,477.8M338.0,477.9 337.6,477.8M332.9,463.1 335.4,464.8 337.3,467.1M336.9,460.9 338.8,462.9 341.0,464.6M341.0,464.6 340.4,466.3M331.1,468.9 332.5,471.2M339.9,479.3 340.3,479.2M326.3,475.4 329.1,474.2 332.0,473.1M341.6,499.5 340.8,497.1 339.4,494.9M330.4,496.3 332.5,498.8 333.6,501.9M330.4,496.3 331.6,494.5M348.3,497.2 347.7,494.0M348.3,497.2 346.1,498.2 344.3,499.8M343.3,500.0 344.3,499.8M339.4,494.9 341.2,493.5 343.3,492.6M342.2,504.2 342.5,505.8M334.0,505.0 336.1,505.8 338.3,506.4M334.1,510.9 332.4,508.5M332.4,508.5 334.0,505.0M338.3,506.4 340.1,508.1 340.7,510.4M335.4,514.6 334.1,510.9M335.4,514.6 338.1,514.5 340.6,513.6 343.3,513.4M343.3,513.4 343.6,512.0M340.7,510.4 343.6,512.0M343.7,514.5 345.7,515.8 347.0,517.7M343.7,514.5 341.9,516.0 341.2,518.5 339.4,520.0 337.7,521.6M334.7,521.6 337.7,521.6M343.3,513.4 343.7,514.5M353.2,518.0 350.0,517.0M350.0,517.0 347.0,517.7M346.0,523.8 349.1,522.7 352.4,522.2M346.0,523.8 345.7,523.2M344.3,499.8 344.6,502.4 345.4,504.9 346.3,507.4M342.5,505.8 345.6,508.1M346.3,507.4 345.6,508.1M349.7,498.8 352.3,499.8 355.0,500.3M348.3,497.2 349.0,497.8M349.8,505.0 349.5,501.9 349.7,498.8M355.1,500.6 355.0,500.3M355.1,500.6 353.0,503.0 352.2,506.1M352.2,506.1 349.8,505.0M331.6,525.1 331.7,526.6M320.3,534.1 322.3,533.2 324.5,532.7 326.6,532.0 328.7,531.4M363.7,455.4 366.1,456.9 368.4,458.3M383.5,443.4 381.7,444.8 380.4,446.7 379.1,448.5 378.1,450.6 376.1,451.9 374.1,453.1 373.2,455.3 372.0,457.3 370.0,458.4M431.6,459.1 429.1,459.3 426.8,458.1 424.4,457.6 422.1,456.8 419.7,456.6 417.0,457.6 414.6,457.0 412.3,456.1M424.3,512.6 423.0,510.5 421.1,509.0 419.2,507.5 418.0,505.3 416.0,504.0M419.6,500.1 418.2,502.3 416.0,503.8M397.9,557.2 398.1,554.9 399.4,552.9 399.6,550.6 400.1,548.3 400.4,546.1 401.9,544.1 401.7,541.7 402.1,539.4 403.8,537.5 403.5,535.1 404.6,533.1M400.8,530.5 398.8,530.2M398.8,530.2 396.0,531.2 394.2,533.4M394.2,533.4 394.2,535.9 393.3,538.5 394.3,541.1 393.7,543.6M401.9,530.5 404.6,533.1M389.1,535.8 391.1,534.2 393.5,533.3M387.2,535.9 385.2,534.2 383.5,532.0 381.1,530.8M393.5,533.3 391.8,531.7 389.4,531.5 387.7,530.0 385.5,529.5 383.6,528.2M383.6,528.2 381.1,530.8M383.2,539.4 382.2,536.7 381.5,533.9 380.5,531.2M381.1,530.8 380.5,531.2M360.9,508.9 361.3,509.8M361.3,509.8 363.6,510.3 365.7,511.5 368.0,511.8M367.7,507.7 368.2,508.0M368.2,508.0 368.3,511.6M368.0,511.8 368.3,511.6M362.6,518.4 362.4,515.5 361.5,512.7 361.3,509.8M373.0,502.3 374.1,506.1M374.1,506.1 371.2,507.2 368.2,508.0M366.9,504.6 367.7,507.7M376.6,508.6 374.1,506.1M376.6,508.6 375.1,511.1M370.3,512.6 372.5,511.3 375.1,511.1M370.3,512.6 368.3,511.6M338.0,521.8 338.4,524.3 340.3,526.2 341.8,528.2 342.4,530.7M331.7,526.6 333.6,527.9 335.2,529.3 336.7,531.0M342.4,530.7 339.6,531.5 336.7,531.0M346.0,523.8 346.6,526.1 346.8,528.4M346.8,528.4 350.9,529.5M342.4,530.7 342.9,530.8M342.9,530.8 344.1,530.7M346.8,528.4 344.1,530.7M380.5,531.2 377.1,531.7M377.1,531.7 376.9,534.5 374.7,536.7 374.5,539.6M315.7,492.4 315.7,493.4M319.6,485.9 319.1,486.0M319.6,485.9 321.4,488.6 321.8,491.8M314.6,503.2 316.4,500.1M314.8,497.6 316.4,500.1M327.7,479.3 327.4,481.5 326.5,483.6 326.0,485.8M320.6,485.0 320.8,484.0M330.6,482.1 332.7,480.3 335.1,478.9 337.6,477.8M330.6,482.1 327.7,479.3M326.2,475.7 326.2,476.7M329.5,487.1 330.9,484.4M329.5,487.1 326.0,485.8M330.9,484.4 330.6,482.1M319.1,480.8 320.8,484.0M330.4,496.3 326.2,496.8M326.2,496.8 326.3,494.6 325.0,492.5 325.3,490.2 324.6,488.1 324.5,485.8M326.2,496.8 326.1,496.9M319.6,485.9 320.6,485.0M326.1,496.9 323.4,494.8 321.8,491.8M343.9,461.5 346.9,462.6M343.9,461.5 343.8,458.9M343.8,458.9 344.6,456.2 347.0,454.5 347.3,451.5 349.1,449.4M348.3,462.6 349.6,460.0 351.7,458.0 353.6,455.9M348.3,462.6 346.9,462.6M341.0,464.6 343.9,461.5M334.1,454.1 336.2,456.0 338.7,457.0 341.1,458.3 343.8,458.9M352.0,464.8 354.0,462.9 355.2,460.4 356.8,458.2M352.0,464.8 352.7,466.6M352.7,466.6 354.9,465.3 357.3,464.7 359.9,464.8M358.3,458.5 359.5,461.5 360.0,464.6M358.3,458.5 356.8,458.2M360.0,464.6 359.9,464.8M352.1,470.2 352.7,466.6M360.2,469.0 359.9,464.8M363.7,455.4 360.8,456.6 358.3,458.5M368.4,458.3 367.9,460.6 366.5,462.5 365.1,464.3M365.1,464.3 362.6,465.1 360.0,464.6M365.6,465.1 365.9,467.4 366.0,469.7M340.9,489.0 338.7,488.2 336.5,488.9M340.9,489.0 341.9,486.8M336.5,488.9 336.1,486.6 336.5,484.4M341.9,486.8 341.9,484.9M341.9,484.9 340.6,482.4 339.8,479.6M339.8,479.6 338.4,482.2 336.5,484.4M331.7,494.0 333.8,492.7 335.5,491.1 336.5,488.9M343.3,492.6 340.9,489.0M330.9,484.4 333.7,483.8 336.5,484.4M346.8,485.6 344.3,485.7 341.9,484.9M339.9,479.3 339.8,479.6M350.5,513.2 348.4,511.5 346.5,509.8M354.5,510.1 351.8,509.7 349.2,509.1 346.5,509.8M350.0,517.0 350.5,513.2M345.5,509.3 346.5,509.8M356.0,517.2 355.0,514.9 355.9,512.2 355.1,509.8M355.1,509.8 354.5,510.1M355.1,509.8 355.7,508.6M355.7,508.6 352.2,506.1M333.8,536.8 336.2,535.8M333.8,536.8 332.6,540.3M336.6,543.5 336.3,541.2 336.9,539.1 337.3,536.9M332.9,536.4 333.8,536.8M332.9,536.4 329.7,534.2M336.7,531.0 336.3,533.4 336.2,535.8M340.1,537.4 337.3,536.9M340.1,537.4 340.2,537.5M342.9,530.8 342.4,533.2 340.7,535.1 340.1,537.4M326.6,541.3 328.4,538.5 329.3,535.4M329.8,540.8 330.7,537.8M330.7,537.8 329.3,535.4M320.3,534.1 321.4,536.4 323.3,537.8 324.5,540.0 326.6,541.3M383.5,443.4 383.4,445.9 383.5,448.3 383.1,450.8 383.6,453.2 384.0,455.7 384.1,458.1M370.0,458.4 372.1,460.1 373.0,462.5M417.7,468.5 420.0,467.5 422.0,465.9M416.5,474.7 416.8,474.9M412.4,470.4 414.9,469.1 417.7,468.5M412.4,470.4 410.4,473.7M410.4,473.7 410.4,474.0M408.1,497.5 408.0,499.1M408.0,499.1 405.8,500.9 403.5,502.2M400.1,491.6 403.5,489.7M402.6,495.0 402.1,494.5M378.4,508.4 378.4,508.5M384.9,507.4 386.4,504.8 387.3,501.9M387.3,501.9 387.2,500.6M408.5,517.9 410.5,519.7 411.9,522.0 413.4,524.3M410.6,535.7 411.1,533.4 412.1,531.3 413.7,529.6M413.7,529.6 416.0,530.0 418.3,529.0 420.6,529.5M419.1,535.1 420.4,531.8M401.9,530.5 402.9,528.4 404.0,526.4 405.9,525.0M410.2,536.0 410.6,535.7M405.9,525.0 409.2,524.7 412.4,525.2M412.4,525.2 413.3,527.3 413.7,529.6M413.4,524.3 412.4,525.2M399.2,517.5 398.5,515.1M399.2,517.5 401.4,518.3 403.5,519.1 405.6,519.9M405.6,519.9 406.8,518.5M398.8,530.2 397.6,528.0 396.5,525.8 395.1,523.7M395.1,523.7 395.9,521.3 398.1,519.8 399.2,517.5M405.9,525.0 405.5,522.5 405.6,519.9M404.9,508.9 404.3,510.3M379.8,519.6 376.0,521.8M376.0,521.8 373.7,521.2 371.2,521.3 369.1,519.9M375.6,515.8 373.0,517.1 370.3,518.2M369.1,519.9 370.3,518.2M370.3,512.6 370.5,515.4 370.3,518.2M375.1,511.1 375.0,513.5 375.6,515.8M364.8,522.2 366.8,520.8 369.1,519.9M362.6,518.4 362.5,519.4M395.1,523.7 394.8,523.6M383.6,528.2 384.0,526.4M384.0,526.4 386.0,525.4 388.4,525.7 390.3,524.1 392.5,523.5 394.8,523.6M374.0,527.7 371.7,526.8 369.7,525.3 367.3,524.7 364.9,523.9M368.3,533.2 367.0,530.9 365.4,528.7 364.8,526.0M364.8,526.0 364.5,525.0M377.1,531.7 376.7,531.4M379.8,519.6 382.5,519.9M384.0,526.4 383.0,524.4 383.0,522.1 382.5,519.9M364.8,522.2 364.9,523.9M367.1,536.1 368.3,533.2M363.3,534.1 363.3,531.3 364.8,528.8 364.8,526.0M376.3,476.9 376.3,476.8M376.3,476.9 378.8,475.5 381.2,473.9M382.1,472.0 379.7,470.9M388.4,471.2 385.7,469.3M388.4,471.2 386.9,473.3 385.6,475.5M385.6,475.5 385.2,475.9M385.2,475.9 383.2,475.0 381.2,473.9M385.7,469.3 384.3,471.2 382.1,472.0M384.8,467.7 385.7,469.3M384.8,467.7 382.3,469.3 379.5,470.4M379.5,470.4 379.7,470.9M370.6,470.2 372.5,471.6 374.6,472.9M370.6,470.2 371.7,466.2M374.6,472.9 375.9,470.6 377.6,468.6M371.7,466.2 373.2,464.0M373.2,464.0 375.7,465.0 377.9,466.8M377.6,468.6 377.9,466.8M367.1,476.8 369.4,477.5 371.7,478.1 373.7,479.4 376.1,479.8M368.9,470.8 370.6,470.2M376.3,476.8 374.6,472.9M373.0,462.5 373.2,464.0M383.5,464.7 384.3,462.2 384.7,459.6M384.1,458.1 384.7,459.6M383.5,464.7 384.8,467.7M364.5,500.5 365.1,503.0M364.5,500.5 364.8,497.8 365.1,495.2M365.6,495.1 367.6,497.0 370.3,497.7 372.8,498.8M365.6,495.1 365.2,495.1M372.8,498.8 373.2,499.2M365.2,495.1 365.1,495.2M373.0,501.4 373.2,499.2M365.2,503.2 365.1,503.0M365.2,503.2 366.9,504.6M373.0,502.3 373.0,501.4M363.2,491.1 364.3,493.0 365.2,495.1M380.4,500.3 377.7,498.3M377.7,498.3 375.5,499.0 373.2,499.2M357.8,507.7 360.9,508.9M357.8,507.7 358.1,504.4M358.6,504.1 361.7,504.7 364.7,503.7M358.6,504.1 358.1,504.3M360.9,508.9 362.5,506.0 364.7,503.7M360.5,519.1 362.5,519.4M355.7,508.6 357.8,507.7M355.1,500.6 356.9,502.2 358.1,504.4M365.2,503.2 364.7,503.7M364.5,500.5 362.9,502.2 360.5,502.7 358.6,504.1M360.7,497.1 359.4,499.4 358.5,501.7 358.1,504.3M366.3,484.8 368.7,484.3 371.1,485.3 373.5,484.9 375.9,484.2M365.6,495.1 367.2,493.4 369.7,492.7 370.7,490.3 372.5,488.7 375.0,488.2 376.6,486.4M375.9,484.2 376.6,486.4M376.1,479.8 376.5,481.0M376.6,486.4 376.6,486.5M344.9,538.4 345.5,541.8M344.9,538.4 345.7,536.5M345.7,536.5 348.1,536.7 350.5,536.2 352.9,536.3M352.9,536.3 352.6,538.7 350.9,540.6 350.7,543.1 349.6,545.2 349.1,547.6 347.7,549.6M340.2,537.5 342.6,537.7 344.9,538.4M344.1,530.7 344.5,533.7 345.7,536.5M352.5,530.4 353.4,532.8 354.0,535.3M354.0,535.3 352.9,536.3M360.4,531.9 358.2,533.9 356.3,536.2M362.2,533.5 359.7,535.2 357.8,537.6M356.3,536.2 357.8,537.6M362.1,542.1 359.5,540.3 357.8,537.6M354.0,535.3 356.3,536.2M360.4,531.8 358.3,531.0 356.1,530.5 354.3,529.0M363.2,525.9 360.8,527.3 357.9,526.8 355.4,528.0M354.3,529.0 355.4,528.0M364.5,525.0 363.2,525.9M360.4,531.9 360.4,531.8M352.5,530.4 354.3,529.0M354.9,523.9 355.4,528.0M323.3,499.2 324.0,501.4 325.0,503.6 325.6,505.9 325.9,508.2 326.8,510.4M322.4,499.5 321.9,501.7 321.4,504.0 322.1,506.4 321.0,508.6M316.4,500.1 319.4,500.0 322.4,499.5M326.1,496.9 323.3,499.2M332.4,508.5 329.5,509.0 326.8,510.4M325.2,512.9 325.0,512.1M317.6,512.5 319.8,511.6 322.1,511.3M389.9,461.5 391.9,462.5M393.3,471.7 393.3,469.4 394.0,467.2 393.5,465.0M393.3,471.7 390.8,471.5 388.4,471.2M393.5,465.0 391.9,462.5M384.7,459.6 387.4,460.1 389.9,461.5M393.5,465.0 395.9,464.8 398.3,465.8 400.7,465.3M400.7,465.3 400.6,463.0 400.4,460.8M393.5,465.0 393.5,465.0M400.5,460.5 400.4,460.8M400.5,460.5 398.9,458.6 397.3,456.6M422.1,477.1 419.0,478.4M416.8,474.9 418.0,477.8M419.0,478.4 418.0,477.8M412.4,474.9 414.8,478.2M418.0,477.8 414.8,478.2M412.1,490.6 414.6,490.1 417.0,490.8 419.4,491.5M403.5,489.7 405.1,487.0M408.0,499.1 409.8,500.6 411.6,502.1 414.3,502.2 416.0,503.8M419.6,500.1 419.1,498.2M421.1,489.4 419.4,491.5M402.1,494.5 401.3,497.2 401.3,499.9M401.3,499.9 403.1,502.5M401.3,499.9 400.3,497.8 398.2,496.8M395.8,489.8 398.2,490.0 399.8,491.6M395.8,489.8 394.0,491.3 393.3,493.6 391.7,495.3 390.2,497.0M390.2,497.0 393.6,498.2M398.2,496.8 396.0,497.9 393.6,498.2M404.9,508.9 403.1,507.0 402.3,504.5M402.3,504.5 403.1,502.5M385.1,507.6 384.2,510.0 384.2,512.6 384.1,515.2 383.1,517.5M385.1,507.6 386.5,508.9M383.4,518.6 385.6,517.3 388.1,516.9M388.4,516.4 388.1,516.9M378.4,508.5 379.4,510.8 381.5,512.7 382.0,515.3 383.1,517.5M384.9,507.4 385.1,507.6M382.5,519.9 383.4,518.6M392.9,521.3 394.8,523.6M392.9,521.3 390.6,519.1 388.1,516.9M386.5,508.9 390.4,509.6M388.5,516.4 389.3,514.2 389.4,511.7 390.4,509.6M392.9,521.3 393.6,518.6 394.5,516.0M394.5,516.0 391.9,515.7 389.3,516.0M397.9,514.7 397.9,514.7M397.9,514.7 398.0,512.3 398.9,509.9 398.0,507.4 399.0,505.0M397.9,514.7 395.9,513.1 394.1,511.1M394.1,511.1 393.6,509.0M393.6,509.0 394.4,507.0M399.0,505.0 397.9,505.0M398.5,515.1 397.9,514.7M394.5,516.0 397.9,514.7M388.8,497.3 387.2,500.6M388.8,497.3 390.2,497.0M393.6,498.2 395.2,500.4 397.0,502.4 397.9,505.0M377.7,498.3 377.9,496.0 380.1,494.6 380.5,492.3M376.6,486.5 378.9,488.2M406.5,465.6 406.8,463.8M411.2,467.6 411.5,464.7 412.8,462.2M412.8,462.2 412.5,461.9M423.5,463.9 420.8,463.8 418.1,463.7 415.4,463.3 412.8,462.2M412.3,456.1 411.3,458.6M411.3,458.6 412.5,461.9M403.4,460.0 404.6,460.5M403.4,460.0 403.6,457.2 404.4,454.5 405.3,451.8M404.6,460.5 408.4,458.4M400.5,460.5 403.4,460.0M406.8,463.8 404.6,460.5M410.1,484.6 412.6,482.7 414.7,480.4M414.7,480.4 418.2,481.1M419.3,484.4 419.1,485.2M410.4,474.0 409.7,476.9 408.0,479.4M414.8,478.2 414.7,480.4M408.0,479.4 408.6,482.2 409.6,484.8M409.6,484.8 410.1,484.6M409.6,484.8 409.3,485.3M419.0,478.4 418.2,481.1M426.0,479.2 423.3,480.3 421.8,483.0 419.3,484.4M405.8,466.5 403.4,465.5 400.8,465.8M405.8,466.5 405.7,467.8M405.7,467.8 403.3,467.8 401.3,469.2 399.1,469.7M400.8,465.8 399.1,469.7M406.5,465.6 405.8,466.5M389.0,478.3 385.9,480.9M393.3,471.7 395.5,473.5M395.5,473.5 395.7,475.9M389.0,478.3 391.5,478.1 393.4,476.7 395.7,475.9M388.8,485.8 388.8,488.1 389.0,490.4 388.5,492.7 389.0,494.9 388.8,497.2M386.3,486.8 385.9,489.4 385.0,492.0 385.3,494.7M388.8,497.2 385.3,494.7M378.9,488.2 381.5,488.3 383.8,487.1 386.3,486.8M393.5,484.9 391.3,485.2 389.0,485.6M408.1,472.6 406.0,469.6M406.0,469.6 403.7,469.7 401.7,470.9 399.5,471.2 397.5,472.3M410.4,473.7 408.1,472.6M405.7,467.8 406.0,469.6M399.1,469.7 397.5,472.3M395.5,473.5 397.3,472.5M407.5,479.3 404.8,480.4 402.2,481.7 399.3,482.3M407.5,479.3 404.1,477.7M404.1,477.7 401.4,477.2 398.8,477.2 396.1,477.3M396.1,477.3 396.2,480.8M399.3,482.3 396.2,480.8M395.7,475.9 396.1,477.3M393.5,484.9 395.2,483.1 396.2,480.8" stroke="#a85a28" stroke-width="1.85" fill="none" stroke-linecap="round" stroke-linejoin="round" opacity="0.3" filter="url(#dblur2)"/>
<path d="M308.9,521.5 310.7,519.5 313.5,519.1 315.4,517.4M294.4,521.2 296.5,520.1 299.0,519.7 300.8,518.0 303.2,517.5 305.3,516.5 307.1,514.8 308.9,513.0 311.6,513.1 313.7,512.0 315.6,510.5M315.4,517.4 316.0,514.7 317.6,512.5M315.6,510.5 317.6,512.5M323.9,520.3 322.0,519.1 319.7,518.7 317.6,517.9 315.4,517.4M323.9,520.3 324.3,521.4M316.9,526.5 318.7,525.0 320.7,524.0 322.2,522.2 324.3,521.4M316.9,526.5 314.6,525.7 312.6,524.6 310.7,523.1 308.9,521.5M312.8,504.9 313.5,508.1 315.6,510.5M387.2,535.9 389.1,535.8M389.1,535.8 389.0,538.1 387.9,540.1M318.3,468.8 319.8,466.5 320.2,463.8 321.2,461.4M318.3,468.8 315.1,468.6 312.4,467.0M312.4,467.0 313.8,464.6 315.0,462.1 316.2,459.6M321.2,461.4 318.7,460.4 316.2,459.6M315.7,456.3 316.2,459.6M347.4,482.1 344.8,481.7 342.6,480.5 340.3,479.2M350.4,480.0 348.9,477.9 347.0,476.3 344.9,474.8M344.9,474.8 342.8,477.1 340.3,479.2M331.1,468.9 329.9,466.7 330.1,464.3 329.7,461.9M324.8,466.7 325.1,464.1 326.2,461.8 327.3,459.5M329.7,461.9 327.4,459.4M332.9,463.1 334.8,461.8 336.9,460.9M332.9,463.1 329.7,461.9M334.1,454.1 335.6,456.1 336.3,458.5 336.9,460.9M293.1,476.0 294.8,477.6 296.9,478.3 299.3,478.7 300.8,480.7 302.8,481.6 305.1,482.1 307.0,483.5 308.9,484.7 311.4,484.6 313.0,486.4 315.2,487.0M343.3,500.0 342.2,504.2M342.2,504.2 340.0,503.2M342.3,499.8 341.6,499.5M341.6,499.5 339.1,500.8 336.3,501.1 333.6,501.9M340.0,503.2 336.9,503.5 333.9,503.5M333.6,501.9 333.9,503.5M334.7,521.6 333.4,523.6 331.6,525.1M334.7,521.6 334.4,519.0M323.9,520.3 324.6,517.8 325.0,515.4 325.2,512.9M324.3,521.4 327.1,523.3M331.6,525.1 329.2,524.4 327.1,523.3M327.1,523.3 325.0,524.9 324.0,527.3 322.3,529.1 320.2,530.7 319.2,533.0M311.4,534.7 314.0,534.5 316.7,534.5 319.2,533.5M318.2,538.7 319.6,536.5 319.7,534.0M319.7,534.0 319.2,533.5M319.2,533.5 319.2,533.0M417.1,517.5 417.6,521.0M423.0,526.0 421.4,524.1 419.7,522.4 417.6,521.0M364.4,478.0 364.2,475.4 364.1,472.8 364.3,470.1M364.4,478.0 367.1,476.8M366.0,469.7 368.9,470.8M367.1,476.8 368.3,473.9 368.9,470.8M353.2,518.0 356.0,517.2M356.0,517.2 358.3,518.0 360.5,519.1M347.8,485.1 350.4,486.6 352.2,489.0M347.7,494.0 349.5,492.6 350.8,490.7 352.2,489.0M347.7,494.0 346.0,493.1M346.0,493.1 345.3,490.5 345.2,487.7M346.8,485.6 345.2,487.7M354.4,485.1 353.5,482.2 354.1,479.2M355.2,477.5 359.0,477.2M359.0,477.2 361.2,478.4M355.7,490.3 353.0,488.7M353.0,488.7 354.4,485.1M363.4,489.6 361.0,487.6 359.6,484.8M352.2,489.0 353.0,488.7M366.3,484.8 365.1,487.3 363.4,489.6M366.3,484.8 365.1,482.8 364.4,480.7 363.4,478.7M363.4,478.7 361.2,478.4M360.8,470.0 360.5,472.4 359.5,474.7 359.0,477.2M314.3,477.6 314.9,477.3M314.9,477.3 317.2,477.6 319.6,477.7M319.1,480.8 319.6,477.7M317.1,474.9 320.3,477.1M315.2,487.0 317.2,487.0M317.2,487.0 319.1,486.0M312.3,489.8 315.7,492.4M317.1,474.9 317.6,473.9M320.3,477.1 321.9,476.5M321.9,476.5 319.7,475.3 317.6,473.9M318.3,468.8 318.7,469.1M324.8,466.7 322.2,469.8M322.2,469.8 318.7,469.1M317.6,473.9 317.6,471.4 318.7,469.1M321.9,476.5 323.9,475.4 326.2,475.7M322.2,469.8 324.0,471.3 324.9,473.6 326.3,475.4M351.3,471.5 348.2,471.6M351.3,471.5 352.7,473.5 354.0,475.5 355.2,477.5M348.2,471.6 346.4,472.1M360.8,470.0 360.2,469.0M337.3,467.1 340.4,466.3M337.3,467.1 334.6,468.7 332.5,471.2M340.4,466.3 340.8,467.0M340.8,467.0 340.2,469.2 340.1,471.5 338.5,473.4 338.3,475.7 338.0,477.9M332.5,471.2 332.0,473.1M332.0,473.1 334.0,474.5 335.8,476.1 337.6,477.8M338.0,477.9 337.6,477.8M332.9,463.1 335.4,464.8 337.3,467.1M336.9,460.9 338.8,462.9 341.0,464.6M341.0,464.6 340.4,466.3M331.1,468.9 332.5,471.2M339.9,479.3 340.3,479.2M326.3,475.4 329.1,474.2 332.0,473.1M341.6,499.5 340.8,497.1 339.4,494.9M330.4,496.3 332.5,498.8 333.6,501.9M330.4,496.3 331.6,494.5M348.3,497.2 347.7,494.0M348.3,497.2 346.1,498.2 344.3,499.8M343.3,500.0 344.3,499.8M339.4,494.9 341.2,493.5 343.3,492.6M342.2,504.2 342.5,505.8M334.0,505.0 336.1,505.8 338.3,506.4M334.1,510.9 332.4,508.5M332.4,508.5 334.0,505.0M338.3,506.4 340.1,508.1 340.7,510.4M335.4,514.6 334.1,510.9M335.4,514.6 338.1,514.5 340.6,513.6 343.3,513.4M343.3,513.4 343.6,512.0M340.7,510.4 343.6,512.0M343.7,514.5 345.7,515.8 347.0,517.7M343.7,514.5 341.9,516.0 341.2,518.5 339.4,520.0 337.7,521.6M334.7,521.6 337.7,521.6M343.3,513.4 343.7,514.5M353.2,518.0 350.0,517.0M350.0,517.0 347.0,517.7M346.0,523.8 349.1,522.7 352.4,522.2M346.0,523.8 345.7,523.2M344.3,499.8 344.6,502.4 345.4,504.9 346.3,507.4M342.5,505.8 345.6,508.1M346.3,507.4 345.6,508.1M349.7,498.8 352.3,499.8 355.0,500.3M348.3,497.2 349.0,497.8M349.8,505.0 349.5,501.9 349.7,498.8M355.1,500.6 355.0,500.3M355.1,500.6 353.0,503.0 352.2,506.1M352.2,506.1 349.8,505.0M331.6,525.1 331.7,526.6M320.3,534.1 322.3,533.2 324.5,532.7 326.6,532.0 328.7,531.4M363.7,455.4 366.1,456.9 368.4,458.3M383.5,443.4 381.7,444.8 380.4,446.7 379.1,448.5 378.1,450.6 376.1,451.9 374.1,453.1 373.2,455.3 372.0,457.3 370.0,458.4M431.6,459.1 429.1,459.3 426.8,458.1 424.4,457.6 422.1,456.8 419.7,456.6 417.0,457.6 414.6,457.0 412.3,456.1M424.3,512.6 423.0,510.5 421.1,509.0 419.2,507.5 418.0,505.3 416.0,504.0M419.6,500.1 418.2,502.3 416.0,503.8M397.9,557.2 398.1,554.9 399.4,552.9 399.6,550.6 400.1,548.3 400.4,546.1 401.9,544.1 401.7,541.7 402.1,539.4 403.8,537.5 403.5,535.1 404.6,533.1M400.8,530.5 398.8,530.2M398.8,530.2 396.0,531.2 394.2,533.4M394.2,533.4 394.2,535.9 393.3,538.5 394.3,541.1 393.7,543.6M401.9,530.5 404.6,533.1M389.1,535.8 391.1,534.2 393.5,533.3M387.2,535.9 385.2,534.2 383.5,532.0 381.1,530.8M393.5,533.3 391.8,531.7 389.4,531.5 387.7,530.0 385.5,529.5 383.6,528.2M383.6,528.2 381.1,530.8M383.2,539.4 382.2,536.7 381.5,533.9 380.5,531.2M381.1,530.8 380.5,531.2M360.9,508.9 361.3,509.8M361.3,509.8 363.6,510.3 365.7,511.5 368.0,511.8M367.7,507.7 368.2,508.0M368.2,508.0 368.3,511.6M368.0,511.8 368.3,511.6M362.6,518.4 362.4,515.5 361.5,512.7 361.3,509.8M373.0,502.3 374.1,506.1M374.1,506.1 371.2,507.2 368.2,508.0M366.9,504.6 367.7,507.7M376.6,508.6 374.1,506.1M376.6,508.6 375.1,511.1M370.3,512.6 372.5,511.3 375.1,511.1M370.3,512.6 368.3,511.6M338.0,521.8 338.4,524.3 340.3,526.2 341.8,528.2 342.4,530.7M331.7,526.6 333.6,527.9 335.2,529.3 336.7,531.0M342.4,530.7 339.6,531.5 336.7,531.0M346.0,523.8 346.6,526.1 346.8,528.4M346.8,528.4 350.9,529.5M342.4,530.7 342.9,530.8M342.9,530.8 344.1,530.7M346.8,528.4 344.1,530.7M380.5,531.2 377.1,531.7M377.1,531.7 376.9,534.5 374.7,536.7 374.5,539.6M315.7,492.4 315.7,493.4M319.6,485.9 319.1,486.0M319.6,485.9 321.4,488.6 321.8,491.8M314.6,503.2 316.4,500.1M314.8,497.6 316.4,500.1M327.7,479.3 327.4,481.5 326.5,483.6 326.0,485.8M320.6,485.0 320.8,484.0M330.6,482.1 332.7,480.3 335.1,478.9 337.6,477.8M330.6,482.1 327.7,479.3M326.2,475.7 326.2,476.7M329.5,487.1 330.9,484.4M329.5,487.1 326.0,485.8M330.9,484.4 330.6,482.1M319.1,480.8 320.8,484.0M330.4,496.3 326.2,496.8M326.2,496.8 326.3,494.6 325.0,492.5 325.3,490.2 324.6,488.1 324.5,485.8M326.2,496.8 326.1,496.9M319.6,485.9 320.6,485.0M326.1,496.9 323.4,494.8 321.8,491.8M343.9,461.5 346.9,462.6M343.9,461.5 343.8,458.9M343.8,458.9 344.6,456.2 347.0,454.5 347.3,451.5 349.1,449.4M348.3,462.6 349.6,460.0 351.7,458.0 353.6,455.9M348.3,462.6 346.9,462.6M341.0,464.6 343.9,461.5M334.1,454.1 336.2,456.0 338.7,457.0 341.1,458.3 343.8,458.9M352.0,464.8 354.0,462.9 355.2,460.4 356.8,458.2M352.0,464.8 352.7,466.6M352.7,466.6 354.9,465.3 357.3,464.7 359.9,464.8M358.3,458.5 359.5,461.5 360.0,464.6M358.3,458.5 356.8,458.2M360.0,464.6 359.9,464.8M352.1,470.2 352.7,466.6M360.2,469.0 359.9,464.8M363.7,455.4 360.8,456.6 358.3,458.5M368.4,458.3 367.9,460.6 366.5,462.5 365.1,464.3M365.1,464.3 362.6,465.1 360.0,464.6M365.6,465.1 365.9,467.4 366.0,469.7M340.9,489.0 338.7,488.2 336.5,488.9M340.9,489.0 341.9,486.8M336.5,488.9 336.1,486.6 336.5,484.4M341.9,486.8 341.9,484.9M341.9,484.9 340.6,482.4 339.8,479.6M339.8,479.6 338.4,482.2 336.5,484.4M331.7,494.0 333.8,492.7 335.5,491.1 336.5,488.9M343.3,492.6 340.9,489.0M330.9,484.4 333.7,483.8 336.5,484.4M346.8,485.6 344.3,485.7 341.9,484.9M339.9,479.3 339.8,479.6M350.5,513.2 348.4,511.5 346.5,509.8M354.5,510.1 351.8,509.7 349.2,509.1 346.5,509.8M350.0,517.0 350.5,513.2M345.5,509.3 346.5,509.8M356.0,517.2 355.0,514.9 355.9,512.2 355.1,509.8M355.1,509.8 354.5,510.1M355.1,509.8 355.7,508.6M355.7,508.6 352.2,506.1M333.8,536.8 336.2,535.8M333.8,536.8 332.6,540.3M336.6,543.5 336.3,541.2 336.9,539.1 337.3,536.9M332.9,536.4 333.8,536.8M332.9,536.4 329.7,534.2M336.7,531.0 336.3,533.4 336.2,535.8M340.1,537.4 337.3,536.9M340.1,537.4 340.2,537.5M342.9,530.8 342.4,533.2 340.7,535.1 340.1,537.4M326.6,541.3 328.4,538.5 329.3,535.4M329.8,540.8 330.7,537.8M330.7,537.8 329.3,535.4M320.3,534.1 321.4,536.4 323.3,537.8 324.5,540.0 326.6,541.3M383.5,443.4 383.4,445.9 383.5,448.3 383.1,450.8 383.6,453.2 384.0,455.7 384.1,458.1M370.0,458.4 372.1,460.1 373.0,462.5M417.7,468.5 420.0,467.5 422.0,465.9M416.5,474.7 416.8,474.9M412.4,470.4 414.9,469.1 417.7,468.5M412.4,470.4 410.4,473.7M410.4,473.7 410.4,474.0M408.1,497.5 408.0,499.1M408.0,499.1 405.8,500.9 403.5,502.2M400.1,491.6 403.5,489.7M402.6,495.0 402.1,494.5M378.4,508.4 378.4,508.5M384.9,507.4 386.4,504.8 387.3,501.9M387.3,501.9 387.2,500.6M408.5,517.9 410.5,519.7 411.9,522.0 413.4,524.3M410.6,535.7 411.1,533.4 412.1,531.3 413.7,529.6M413.7,529.6 416.0,530.0 418.3,529.0 420.6,529.5M419.1,535.1 420.4,531.8M401.9,530.5 402.9,528.4 404.0,526.4 405.9,525.0M410.2,536.0 410.6,535.7M405.9,525.0 409.2,524.7 412.4,525.2M412.4,525.2 413.3,527.3 413.7,529.6M413.4,524.3 412.4,525.2M399.2,517.5 398.5,515.1M399.2,517.5 401.4,518.3 403.5,519.1 405.6,519.9M405.6,519.9 406.8,518.5M398.8,530.2 397.6,528.0 396.5,525.8 395.1,523.7M395.1,523.7 395.9,521.3 398.1,519.8 399.2,517.5M405.9,525.0 405.5,522.5 405.6,519.9M404.9,508.9 404.3,510.3M379.8,519.6 376.0,521.8M376.0,521.8 373.7,521.2 371.2,521.3 369.1,519.9M375.6,515.8 373.0,517.1 370.3,518.2M369.1,519.9 370.3,518.2M370.3,512.6 370.5,515.4 370.3,518.2M375.1,511.1 375.0,513.5 375.6,515.8M364.8,522.2 366.8,520.8 369.1,519.9M362.6,518.4 362.5,519.4M395.1,523.7 394.8,523.6M383.6,528.2 384.0,526.4M384.0,526.4 386.0,525.4 388.4,525.7 390.3,524.1 392.5,523.5 394.8,523.6M374.0,527.7 371.7,526.8 369.7,525.3 367.3,524.7 364.9,523.9M368.3,533.2 367.0,530.9 365.4,528.7 364.8,526.0M364.8,526.0 364.5,525.0M377.1,531.7 376.7,531.4M379.8,519.6 382.5,519.9M384.0,526.4 383.0,524.4 383.0,522.1 382.5,519.9M364.8,522.2 364.9,523.9M367.1,536.1 368.3,533.2M363.3,534.1 363.3,531.3 364.8,528.8 364.8,526.0M376.3,476.9 376.3,476.8M376.3,476.9 378.8,475.5 381.2,473.9M382.1,472.0 379.7,470.9M388.4,471.2 385.7,469.3M388.4,471.2 386.9,473.3 385.6,475.5M385.6,475.5 385.2,475.9M385.2,475.9 383.2,475.0 381.2,473.9M385.7,469.3 384.3,471.2 382.1,472.0M384.8,467.7 385.7,469.3M384.8,467.7 382.3,469.3 379.5,470.4M379.5,470.4 379.7,470.9M370.6,470.2 372.5,471.6 374.6,472.9M370.6,470.2 371.7,466.2M374.6,472.9 375.9,470.6 377.6,468.6M371.7,466.2 373.2,464.0M373.2,464.0 375.7,465.0 377.9,466.8M377.6,468.6 377.9,466.8M367.1,476.8 369.4,477.5 371.7,478.1 373.7,479.4 376.1,479.8M368.9,470.8 370.6,470.2M376.3,476.8 374.6,472.9M373.0,462.5 373.2,464.0M383.5,464.7 384.3,462.2 384.7,459.6M384.1,458.1 384.7,459.6M383.5,464.7 384.8,467.7M364.5,500.5 365.1,503.0M364.5,500.5 364.8,497.8 365.1,495.2M365.6,495.1 367.6,497.0 370.3,497.7 372.8,498.8M365.6,495.1 365.2,495.1M372.8,498.8 373.2,499.2M365.2,495.1 365.1,495.2M373.0,501.4 373.2,499.2M365.2,503.2 365.1,503.0M365.2,503.2 366.9,504.6M373.0,502.3 373.0,501.4M363.2,491.1 364.3,493.0 365.2,495.1M380.4,500.3 377.7,498.3M377.7,498.3 375.5,499.0 373.2,499.2M357.8,507.7 360.9,508.9M357.8,507.7 358.1,504.4M358.6,504.1 361.7,504.7 364.7,503.7M358.6,504.1 358.1,504.3M360.9,508.9 362.5,506.0 364.7,503.7M360.5,519.1 362.5,519.4M355.7,508.6 357.8,507.7M355.1,500.6 356.9,502.2 358.1,504.4M365.2,503.2 364.7,503.7M364.5,500.5 362.9,502.2 360.5,502.7 358.6,504.1M360.7,497.1 359.4,499.4 358.5,501.7 358.1,504.3M366.3,484.8 368.7,484.3 371.1,485.3 373.5,484.9 375.9,484.2M365.6,495.1 367.2,493.4 369.7,492.7 370.7,490.3 372.5,488.7 375.0,488.2 376.6,486.4M375.9,484.2 376.6,486.4M376.1,479.8 376.5,481.0M376.6,486.4 376.6,486.5M344.9,538.4 345.5,541.8M344.9,538.4 345.7,536.5M345.7,536.5 348.1,536.7 350.5,536.2 352.9,536.3M352.9,536.3 352.6,538.7 350.9,540.6 350.7,543.1 349.6,545.2 349.1,547.6 347.7,549.6M340.2,537.5 342.6,537.7 344.9,538.4M344.1,530.7 344.5,533.7 345.7,536.5M352.5,530.4 353.4,532.8 354.0,535.3M354.0,535.3 352.9,536.3M360.4,531.9 358.2,533.9 356.3,536.2M362.2,533.5 359.7,535.2 357.8,537.6M356.3,536.2 357.8,537.6M362.1,542.1 359.5,540.3 357.8,537.6M354.0,535.3 356.3,536.2M360.4,531.8 358.3,531.0 356.1,530.5 354.3,529.0M363.2,525.9 360.8,527.3 357.9,526.8 355.4,528.0M354.3,529.0 355.4,528.0M364.5,525.0 363.2,525.9M360.4,531.9 360.4,531.8M352.5,530.4 354.3,529.0M354.9,523.9 355.4,528.0M323.3,499.2 324.0,501.4 325.0,503.6 325.6,505.9 325.9,508.2 326.8,510.4M322.4,499.5 321.9,501.7 321.4,504.0 322.1,506.4 321.0,508.6M316.4,500.1 319.4,500.0 322.4,499.5M326.1,496.9 323.3,499.2M332.4,508.5 329.5,509.0 326.8,510.4M325.2,512.9 325.0,512.1M317.6,512.5 319.8,511.6 322.1,511.3M389.9,461.5 391.9,462.5M393.3,471.7 393.3,469.4 394.0,467.2 393.5,465.0M393.3,471.7 390.8,471.5 388.4,471.2M393.5,465.0 391.9,462.5M384.7,459.6 387.4,460.1 389.9,461.5M393.5,465.0 395.9,464.8 398.3,465.8 400.7,465.3M400.7,465.3 400.6,463.0 400.4,460.8M393.5,465.0 393.5,465.0M400.5,460.5 400.4,460.8M400.5,460.5 398.9,458.6 397.3,456.6M422.1,477.1 419.0,478.4M416.8,474.9 418.0,477.8M419.0,478.4 418.0,477.8M412.4,474.9 414.8,478.2M418.0,477.8 414.8,478.2M412.1,490.6 414.6,490.1 417.0,490.8 419.4,491.5M403.5,489.7 405.1,487.0M408.0,499.1 409.8,500.6 411.6,502.1 414.3,502.2 416.0,503.8M419.6,500.1 419.1,498.2M421.1,489.4 419.4,491.5M402.1,494.5 401.3,497.2 401.3,499.9M401.3,499.9 403.1,502.5M401.3,499.9 400.3,497.8 398.2,496.8M395.8,489.8 398.2,490.0 399.8,491.6M395.8,489.8 394.0,491.3 393.3,493.6 391.7,495.3 390.2,497.0M390.2,497.0 393.6,498.2M398.2,496.8 396.0,497.9 393.6,498.2M404.9,508.9 403.1,507.0 402.3,504.5M402.3,504.5 403.1,502.5M385.1,507.6 384.2,510.0 384.2,512.6 384.1,515.2 383.1,517.5M385.1,507.6 386.5,508.9M383.4,518.6 385.6,517.3 388.1,516.9M388.4,516.4 388.1,516.9M378.4,508.5 379.4,510.8 381.5,512.7 382.0,515.3 383.1,517.5M384.9,507.4 385.1,507.6M382.5,519.9 383.4,518.6M392.9,521.3 394.8,523.6M392.9,521.3 390.6,519.1 388.1,516.9M386.5,508.9 390.4,509.6M388.5,516.4 389.3,514.2 389.4,511.7 390.4,509.6M392.9,521.3 393.6,518.6 394.5,516.0M394.5,516.0 391.9,515.7 389.3,516.0M397.9,514.7 397.9,514.7M397.9,514.7 398.0,512.3 398.9,509.9 398.0,507.4 399.0,505.0M397.9,514.7 395.9,513.1 394.1,511.1M394.1,511.1 393.6,509.0M393.6,509.0 394.4,507.0M399.0,505.0 397.9,505.0M398.5,515.1 397.9,514.7M394.5,516.0 397.9,514.7M388.8,497.3 387.2,500.6M388.8,497.3 390.2,497.0M393.6,498.2 395.2,500.4 397.0,502.4 397.9,505.0M377.7,498.3 377.9,496.0 380.1,494.6 380.5,492.3M376.6,486.5 378.9,488.2M406.5,465.6 406.8,463.8M411.2,467.6 411.5,464.7 412.8,462.2M412.8,462.2 412.5,461.9M423.5,463.9 420.8,463.8 418.1,463.7 415.4,463.3 412.8,462.2M412.3,456.1 411.3,458.6M411.3,458.6 412.5,461.9M403.4,460.0 404.6,460.5M403.4,460.0 403.6,457.2 404.4,454.5 405.3,451.8M404.6,460.5 408.4,458.4M400.5,460.5 403.4,460.0M406.8,463.8 404.6,460.5M410.1,484.6 412.6,482.7 414.7,480.4M414.7,480.4 418.2,481.1M419.3,484.4 419.1,485.2M410.4,474.0 409.7,476.9 408.0,479.4M414.8,478.2 414.7,480.4M408.0,479.4 408.6,482.2 409.6,484.8M409.6,484.8 410.1,484.6M409.6,484.8 409.3,485.3M419.0,478.4 418.2,481.1M426.0,479.2 423.3,480.3 421.8,483.0 419.3,484.4M405.8,466.5 403.4,465.5 400.8,465.8M405.8,466.5 405.7,467.8M405.7,467.8 403.3,467.8 401.3,469.2 399.1,469.7M400.8,465.8 399.1,469.7M406.5,465.6 405.8,466.5M389.0,478.3 385.9,480.9M393.3,471.7 395.5,473.5M395.5,473.5 395.7,475.9M389.0,478.3 391.5,478.1 393.4,476.7 395.7,475.9M388.8,485.8 388.8,488.1 389.0,490.4 388.5,492.7 389.0,494.9 388.8,497.2M386.3,486.8 385.9,489.4 385.0,492.0 385.3,494.7M388.8,497.2 385.3,494.7M378.9,488.2 381.5,488.3 383.8,487.1 386.3,486.8M393.5,484.9 391.3,485.2 389.0,485.6M408.1,472.6 406.0,469.6M406.0,469.6 403.7,469.7 401.7,470.9 399.5,471.2 397.5,472.3M410.4,473.7 408.1,472.6M405.7,467.8 406.0,469.6M399.1,469.7 397.5,472.3M395.5,473.5 397.3,472.5M407.5,479.3 404.8,480.4 402.2,481.7 399.3,482.3M407.5,479.3 404.1,477.7M404.1,477.7 401.4,477.2 398.8,477.2 396.1,477.3M396.1,477.3 396.2,480.8M399.3,482.3 396.2,480.8M395.7,475.9 396.1,477.3M393.5,484.9 395.2,483.1 396.2,480.8" stroke="#a85a28" stroke-width="0.95" fill="none" stroke-linecap="round" stroke-linejoin="round" filter="url(#dblur)"/>
<path d="M308.9,521.5 310.7,519.5 313.5,519.1 315.4,517.4M294.4,521.2 296.5,520.1 299.0,519.7 300.8,518.0 303.2,517.5 305.3,516.5 307.1,514.8 308.9,513.0 311.6,513.1 313.7,512.0 315.6,510.5M315.4,517.4 316.0,514.7 317.6,512.5M315.6,510.5 317.6,512.5M323.9,520.3 322.0,519.1 319.7,518.7 317.6,517.9 315.4,517.4M316.9,526.5 318.7,525.0 320.7,524.0 322.2,522.2 324.3,521.4M387.2,535.9 389.1,535.8M389.1,535.8 389.0,538.1 387.9,540.1M318.3,468.8 315.1,468.6 312.4,467.0M312.4,467.0 313.8,464.6 315.0,462.1 316.2,459.6M321.2,461.4 318.7,460.4 316.2,459.6M347.4,482.1 344.8,481.7 342.6,480.5 340.3,479.2M350.4,480.0 348.9,477.9 347.0,476.3 344.9,474.8M344.9,474.8 342.8,477.1 340.3,479.2M331.1,468.9 329.9,466.7 330.1,464.3 329.7,461.9M324.8,466.7 325.1,464.1 326.2,461.8 327.3,459.5M329.7,461.9 327.4,459.4M332.9,463.1 334.8,461.8 336.9,460.9M332.9,463.1 329.7,461.9M334.1,454.1 335.6,456.1 336.3,458.5 336.9,460.9M293.1,476.0 294.8,477.6 296.9,478.3 299.3,478.7 300.8,480.7 302.8,481.6 305.1,482.1 307.0,483.5 308.9,484.7 311.4,484.6 313.0,486.4 315.2,487.0M342.2,504.2 340.0,503.2M341.6,499.5 339.1,500.8 336.3,501.1 333.6,501.9M340.0,503.2 336.9,503.5 333.9,503.5M333.6,501.9 333.9,503.5M334.7,521.6 333.4,523.6 331.6,525.1M334.7,521.6 334.4,519.0M324.3,521.4 327.1,523.3M331.6,525.1 329.2,524.4 327.1,523.3M311.4,534.7 314.0,534.5 316.7,534.5 319.2,533.5M318.2,538.7 319.6,536.5 319.7,534.0M319.7,534.0 319.2,533.5M319.2,533.5 319.2,533.0M423.0,526.0 421.4,524.1 419.7,522.4 417.6,521.0M364.4,478.0 364.2,475.4 364.1,472.8 364.3,470.1M364.4,478.0 367.1,476.8M366.0,469.7 368.9,470.8M353.2,518.0 356.0,517.2M347.8,485.1 350.4,486.6 352.2,489.0M347.7,494.0 349.5,492.6 350.8,490.7 352.2,489.0M347.7,494.0 346.0,493.1M346.0,493.1 345.3,490.5 345.2,487.7M354.4,485.1 353.5,482.2 354.1,479.2M355.2,477.5 359.0,477.2M359.0,477.2 361.2,478.4M355.7,490.3 353.0,488.7M353.0,488.7 354.4,485.1M363.4,489.6 361.0,487.6 359.6,484.8M366.3,484.8 365.1,487.3 363.4,489.6M366.3,484.8 365.1,482.8 364.4,480.7 363.4,478.7M363.4,478.7 361.2,478.4M360.8,470.0 360.5,472.4 359.5,474.7 359.0,477.2M314.9,477.3 317.2,477.6 319.6,477.7M319.1,480.8 319.6,477.7M315.2,487.0 317.2,487.0M312.3,489.8 315.7,492.4M317.1,474.9 317.6,473.9M320.3,477.1 321.9,476.5M321.9,476.5 319.7,475.3 317.6,473.9M324.8,466.7 322.2,469.8M317.6,473.9 317.6,471.4 318.7,469.1M322.2,469.8 324.0,471.3 324.9,473.6 326.3,475.4M351.3,471.5 348.2,471.6M351.3,471.5 352.7,473.5 354.0,475.5 355.2,477.5M348.2,471.6 346.4,472.1M360.8,470.0 360.2,469.0M337.3,467.1 334.6,468.7 332.5,471.2M340.4,466.3 340.8,467.0M332.5,471.2 332.0,473.1M332.0,473.1 334.0,474.5 335.8,476.1 337.6,477.8M332.9,463.1 335.4,464.8 337.3,467.1M336.9,460.9 338.8,462.9 341.0,464.6M331.1,468.9 332.5,471.2M339.9,479.3 340.3,479.2M326.3,475.4 329.1,474.2 332.0,473.1M330.4,496.3 332.5,498.8 333.6,501.9M330.4,496.3 331.6,494.5M348.3,497.2 346.1,498.2 344.3,499.8M339.4,494.9 341.2,493.5 343.3,492.6M342.2,504.2 342.5,505.8M334.0,505.0 336.1,505.8 338.3,506.4M332.4,508.5 334.0,505.0M335.4,514.6 334.1,510.9M335.4,514.6 338.1,514.5 340.6,513.6 343.3,513.4M343.3,513.4 343.6,512.0M343.7,514.5 345.7,515.8 347.0,517.7M343.7,514.5 341.9,516.0 341.2,518.5 339.4,520.0 337.7,521.6M334.7,521.6 337.7,521.6M343.3,513.4 343.7,514.5M353.2,518.0 350.0,517.0M346.0,523.8 349.1,522.7 352.4,522.2M346.0,523.8 345.7,523.2M344.3,499.8 344.6,502.4 345.4,504.9 346.3,507.4M342.5,505.8 345.6,508.1M346.3,507.4 345.6,508.1M349.7,498.8 352.3,499.8 355.0,500.3M348.3,497.2 349.0,497.8M349.8,505.0 349.5,501.9 349.7,498.8M355.1,500.6 355.0,500.3M355.1,500.6 353.0,503.0 352.2,506.1M352.2,506.1 349.8,505.0M320.3,534.1 322.3,533.2 324.5,532.7 326.6,532.0 328.7,531.4M363.7,455.4 366.1,456.9 368.4,458.3M383.5,443.4 381.7,444.8 380.4,446.7 379.1,448.5 378.1,450.6 376.1,451.9 374.1,453.1 373.2,455.3 372.0,457.3 370.0,458.4M424.3,512.6 423.0,510.5 421.1,509.0 419.2,507.5 418.0,505.3 416.0,504.0M400.8,530.5 398.8,530.2M394.2,533.4 394.2,535.9 393.3,538.5 394.3,541.1 393.7,543.6M401.9,530.5 404.6,533.1M387.2,535.9 385.2,534.2 383.5,532.0 381.1,530.8M393.5,533.3 391.8,531.7 389.4,531.5 387.7,530.0 385.5,529.5 383.6,528.2M383.6,528.2 381.1,530.8M383.2,539.4 382.2,536.7 381.5,533.9 380.5,531.2M381.1,530.8 380.5,531.2M367.7,507.7 368.2,508.0M368.2,508.0 368.3,511.6M368.0,511.8 368.3,511.6M362.6,518.4 362.4,515.5 361.5,512.7 361.3,509.8M374.1,506.1 371.2,507.2 368.2,508.0M366.9,504.6 367.7,507.7M376.6,508.6 374.1,506.1M376.6,508.6 375.1,511.1M370.3,512.6 372.5,511.3 375.1,511.1M370.3,512.6 368.3,511.6M338.0,521.8 338.4,524.3 340.3,526.2 341.8,528.2 342.4,530.7M331.7,526.6 333.6,527.9 335.2,529.3 336.7,531.0M342.4,530.7 339.6,531.5 336.7,531.0M346.8,528.4 350.9,529.5M342.4,530.7 342.9,530.8M342.9,530.8 344.1,530.7M380.5,531.2 377.1,531.7M377.1,531.7 376.9,534.5 374.7,536.7 374.5,539.6M315.7,492.4 315.7,493.4M319.6,485.9 319.1,486.0M319.6,485.9 321.4,488.6 321.8,491.8M314.6,503.2 316.4,500.1M314.8,497.6 316.4,500.1M327.7,479.3 327.4,481.5 326.5,483.6 326.0,485.8M320.6,485.0 320.8,484.0M330.6,482.1 332.7,480.3 335.1,478.9 337.6,477.8M326.2,475.7 326.2,476.7M329.5,487.1 330.9,484.4M329.5,487.1 326.0,485.8M330.9,484.4 330.6,482.1M330.4,496.3 326.2,496.8M326.2,496.8 326.1,496.9M319.6,485.9 320.6,485.0M343.9,461.5 346.9,462.6M343.8,458.9 344.6,456.2 347.0,454.5 347.3,451.5 349.1,449.4M348.3,462.6 349.6,460.0 351.7,458.0 353.6,455.9M348.3,462.6 346.9,462.6M341.0,464.6 343.9,461.5M334.1,454.1 336.2,456.0 338.7,457.0 341.1,458.3 343.8,458.9M352.0,464.8 354.0,462.9 355.2,460.4 356.8,458.2M358.3,458.5 359.5,461.5 360.0,464.6M358.3,458.5 356.8,458.2M360.0,464.6 359.9,464.8M360.2,469.0 359.9,464.8M363.7,455.4 360.8,456.6 358.3,458.5M368.4,458.3 367.9,460.6 366.5,462.5 365.1,464.3M365.6,465.1 365.9,467.4 366.0,469.7M340.9,489.0 341.9,486.8M341.9,486.8 341.9,484.9M341.9,484.9 340.6,482.4 339.8,479.6M339.8,479.6 338.4,482.2 336.5,484.4M331.7,494.0 333.8,492.7 335.5,491.1 336.5,488.9M343.3,492.6 340.9,489.0M330.9,484.4 333.7,483.8 336.5,484.4M346.8,485.6 344.3,485.7 341.9,484.9M339.9,479.3 339.8,479.6M350.5,513.2 348.4,511.5 346.5,509.8M354.5,510.1 351.8,509.7 349.2,509.1 346.5,509.8M355.1,509.8 354.5,510.1M355.1,509.8 355.7,508.6M355.7,508.6 352.2,506.1M333.8,536.8 336.2,535.8M336.6,543.5 336.3,541.2 336.9,539.1 337.3,536.9M332.9,536.4 329.7,534.2M336.7,531.0 336.3,533.4 336.2,535.8M340.1,537.4 340.2,537.5M326.6,541.3 328.4,538.5 329.3,535.4M329.8,540.8 330.7,537.8M330.7,537.8 329.3,535.4M320.3,534.1 321.4,536.4 323.3,537.8 324.5,540.0 326.6,541.3M383.5,443.4 383.4,445.9 383.5,448.3 383.1,450.8 383.6,453.2 384.0,455.7 384.1,458.1M417.7,468.5 420.0,467.5 422.0,465.9M416.5,474.7 416.8,474.9M412.4,470.4 414.9,469.1 417.7,468.5M412.4,470.4 410.4,473.7M410.4,473.7 410.4,474.0M408.1,497.5 408.0,499.1M408.0,499.1 405.8,500.9 403.5,502.2M402.6,495.0 402.1,494.5M387.3,501.9 387.2,500.6M408.5,517.9 410.5,519.7 411.9,522.0 413.4,524.3M410.6,535.7 411.1,533.4 412.1,531.3 413.7,529.6M419.1,535.1 420.4,531.8M401.9,530.5 402.9,528.4 404.0,526.4 405.9,525.0M410.2,536.0 410.6,535.7M412.4,525.2 413.3,527.3 413.7,529.6M413.4,524.3 412.4,525.2M399.2,517.5 398.5,515.1M405.6,519.9 406.8,518.5M398.8,530.2 397.6,528.0 396.5,525.8 395.1,523.7M395.1,523.7 395.9,521.3 398.1,519.8 399.2,517.5M404.9,508.9 404.3,510.3M376.0,521.8 373.7,521.2 371.2,521.3 369.1,519.9M375.6,515.8 373.0,517.1 370.3,518.2M369.1,519.9 370.3,518.2M375.1,511.1 375.0,513.5 375.6,515.8M364.8,522.2 366.8,520.8 369.1,519.9M362.6,518.4 362.5,519.4M395.1,523.7 394.8,523.6M383.6,528.2 384.0,526.4M384.0,526.4 386.0,525.4 388.4,525.7 390.3,524.1 392.5,523.5 394.8,523.6M374.0,527.7 371.7,526.8 369.7,525.3 367.3,524.7 364.9,523.9M368.3,533.2 367.0,530.9 365.4,528.7 364.8,526.0M364.8,526.0 364.5,525.0M377.1,531.7 376.7,531.4M384.0,526.4 383.0,524.4 383.0,522.1 382.5,519.9M364.8,522.2 364.9,523.9M363.3,534.1 363.3,531.3 364.8,528.8 364.8,526.0M376.3,476.9 378.8,475.5 381.2,473.9M382.1,472.0 379.7,470.9M388.4,471.2 385.7,469.3M385.6,475.5 385.2,475.9M385.2,475.9 383.2,475.0 381.2,473.9M384.8,467.7 385.7,469.3M379.5,470.4 379.7,470.9M370.6,470.2 372.5,471.6 374.6,472.9M374.6,472.9 375.9,470.6 377.6,468.6M371.7,466.2 373.2,464.0M373.2,464.0 375.7,465.0 377.9,466.8M368.9,470.8 370.6,470.2M373.0,462.5 373.2,464.0M383.5,464.7 384.3,462.2 384.7,459.6M384.1,458.1 384.7,459.6M383.5,464.7 384.8,467.7M364.5,500.5 365.1,503.0M364.5,500.5 364.8,497.8 365.1,495.2M365.6,495.1 365.2,495.1M372.8,498.8 373.2,499.2M365.2,503.2 365.1,503.0M365.2,503.2 366.9,504.6M373.0,502.3 373.0,501.4M363.2,491.1 364.3,493.0 365.2,495.1M380.4,500.3 377.7,498.3M357.8,507.7 360.9,508.9M357.8,507.7 358.1,504.4M358.6,504.1 358.1,504.3M360.9,508.9 362.5,506.0 364.7,503.7M360.5,519.1 362.5,519.4M364.5,500.5 362.9,502.2 360.5,502.7 358.6,504.1M360.7,497.1 359.4,499.4 358.5,501.7 358.1,504.3M376.1,479.8 376.5,481.0M376.6,486.4 376.6,486.5M344.9,538.4 345.5,541.8M344.9,538.4 345.7,536.5M345.7,536.5 348.1,536.7 350.5,536.2 352.9,536.3M352.9,536.3 352.6,538.7 350.9,540.6 350.7,543.1 349.6,545.2 349.1,547.6 347.7,549.6M340.2,537.5 342.6,537.7 344.9,538.4M344.1,530.7 344.5,533.7 345.7,536.5M352.5,530.4 353.4,532.8 354.0,535.3M362.2,533.5 359.7,535.2 357.8,537.6M356.3,536.2 357.8,537.6M362.1,542.1 359.5,540.3 357.8,537.6M354.0,535.3 356.3,536.2M360.4,531.8 358.3,531.0 356.1,530.5 354.3,529.0M363.2,525.9 360.8,527.3 357.9,526.8 355.4,528.0M354.3,529.0 355.4,528.0M352.5,530.4 354.3,529.0M323.3,499.2 324.0,501.4 325.0,503.6 325.6,505.9 325.9,508.2 326.8,510.4M322.4,499.5 321.9,501.7 321.4,504.0 322.1,506.4 321.0,508.6M316.4,500.1 319.4,500.0 322.4,499.5M332.4,508.5 329.5,509.0 326.8,510.4M317.6,512.5 319.8,511.6 322.1,511.3M389.9,461.5 391.9,462.5M393.3,471.7 393.3,469.4 394.0,467.2 393.5,465.0M393.3,471.7 390.8,471.5 388.4,471.2M400.7,465.3 400.6,463.0 400.4,460.8M393.5,465.0 393.5,465.0M400.5,460.5 400.4,460.8M400.5,460.5 398.9,458.6 397.3,456.6M422.1,477.1 419.0,478.4M416.8,474.9 418.0,477.8M419.0,478.4 418.0,477.8M412.4,474.9 414.8,478.2M418.0,477.8 414.8,478.2M412.1,490.6 414.6,490.1 417.0,490.8 419.4,491.5M408.0,499.1 409.8,500.6 411.6,502.1 414.3,502.2 416.0,503.8M421.1,489.4 419.4,491.5M401.3,499.9 403.1,502.5M401.3,499.9 400.3,497.8 398.2,496.8M395.8,489.8 398.2,490.0 399.8,491.6M395.8,489.8 394.0,491.3 393.3,493.6 391.7,495.3 390.2,497.0M402.3,504.5 403.1,502.5M385.1,507.6 384.2,510.0 384.2,512.6 384.1,515.2 383.1,517.5M385.1,507.6 386.5,508.9M383.4,518.6 385.6,517.3 388.1,516.9M388.4,516.4 388.1,516.9M378.4,508.5 379.4,510.8 381.5,512.7 382.0,515.3 383.1,517.5M382.5,519.9 383.4,518.6M392.9,521.3 394.8,523.6M386.5,508.9 390.4,509.6M394.5,516.0 391.9,515.7 389.3,516.0M397.9,514.7 397.9,514.7M397.9,514.7 398.0,512.3 398.9,509.9 398.0,507.4 399.0,505.0M394.1,511.1 393.6,509.0M393.6,509.0 394.4,507.0M399.0,505.0 397.9,505.0M394.5,516.0 397.9,514.7M388.8,497.3 387.2,500.6M393.6,498.2 395.2,500.4 397.0,502.4 397.9,505.0M377.7,498.3 377.9,496.0 380.1,494.6 380.5,492.3M376.6,486.5 378.9,488.2M406.5,465.6 406.8,463.8M411.2,467.6 411.5,464.7 412.8,462.2M412.8,462.2 412.5,461.9M423.5,463.9 420.8,463.8 418.1,463.7 415.4,463.3 412.8,462.2M411.3,458.6 412.5,461.9M403.4,460.0 404.6,460.5M404.6,460.5 408.4,458.4M400.5,460.5 403.4,460.0M410.1,484.6 412.6,482.7 414.7,480.4M414.7,480.4 418.2,481.1M410.4,474.0 409.7,476.9 408.0,479.4M414.8,478.2 414.7,480.4M408.0,479.4 408.6,482.2 409.6,484.8M409.6,484.8 410.1,484.6M409.6,484.8 409.3,485.3M426.0,479.2 423.3,480.3 421.8,483.0 419.3,484.4M405.8,466.5 403.4,465.5 400.8,465.8M405.8,466.5 405.7,467.8M405.7,467.8 403.3,467.8 401.3,469.2 399.1,469.7M400.8,465.8 399.1,469.7M389.0,478.3 385.9,480.9M393.3,471.7 395.5,473.5M395.5,473.5 395.7,475.9M389.0,478.3 391.5,478.1 393.4,476.7 395.7,475.9M386.3,486.8 385.9,489.4 385.0,492.0 385.3,494.7M393.5,484.9 391.3,485.2 389.0,485.6M408.1,472.6 406.0,469.6M406.0,469.6 403.7,469.7 401.7,470.9 399.5,471.2 397.5,472.3M410.4,473.7 408.1,472.6M405.7,467.8 406.0,469.6M407.5,479.3 404.1,477.7M404.1,477.7 401.4,477.2 398.8,477.2 396.1,477.3M399.3,482.3 396.2,480.8M395.7,475.9 396.1,477.3M393.5,484.9 395.2,483.1 396.2,480.8" stroke="#fcd0a0" stroke-width="0.65" fill="none" stroke-linecap="round" stroke-dasharray="1.2 0.9" opacity="0.9"/>
<circle cx="397.8" cy="474.1" r="8" fill="#050302" opacity="0.9" filter="url(#dblur)"/>
<circle cx="381.8" cy="500.1" r="8" fill="#050302" opacity="0.85" filter="url(#dblur)"/>
<circle cx="407.8" cy="512.1" r="6" fill="#050302" opacity="0.7" filter="url(#dblur)"/>
<circle cx="335.8" cy="524.1" r="10" fill="#050302" opacity="0.9" filter="url(#dblur)"/>
<circle cx="359.8" cy="526.1" r="8" fill="#050302" opacity="0.8" filter="url(#dblur)"/>
<circle cx="327.8" cy="506.1" r="6" fill="#050302" opacity="0.7" filter="url(#dblur)"/>
</g>
<g clip-path="url(#cd4)">
<rect x="418.0" y="462.1" width="95.0" height="71.4" fill="#0c0403"/>
<circle cx="448.0" cy="487.1" r="14" fill="#3a1a0a" opacity="0.6" filter="url(#dblur3)"/>
<circle cx="493.0" cy="477.1" r="10" fill="#2a1208" opacity="0.5" filter="url(#dblur3)"/>
<path d="M417.4,537.6 416.3,536.7M433.6,535.5 431.5,537.0 430.9,539.6 429.1,541.4 427.2,543.0 425.5,544.8 424.5,547.1M433.6,535.5 435.7,536.6 438.2,536.7M438.2,536.7 438.2,536.7M438.2,536.7 437.0,538.6 435.5,540.3 434.5,542.4 432.1,543.4 431.0,545.5 430.2,547.7 428.8,549.5 426.4,550.5 425.4,552.6M422.7,541.7 424.2,539.2 425.1,536.4 427.2,534.3M430.7,531.3 428.7,532.4 427.2,534.3M430.7,531.3 432.5,533.1 433.6,535.5M443.1,536.9 443.8,540.1M443.1,536.9 442.7,536.8M442.7,536.8 440.4,536.8 438.2,536.7M417.4,537.6 419.5,539.6 422.1,541.0M420.4,464.6 420.2,461.8 421.3,459.3M420.4,464.6 418.0,463.6 415.5,462.5 413.3,461.0 410.7,460.4M411.9,458.4 414.2,458.1 416.4,458.7 418.6,459.0 420.9,458.8M420.9,458.8 421.3,459.3M420.2,456.7 420.9,458.8M421.0,470.0 420.9,470.1M410.6,460.4 412.2,462.0 413.8,463.6 414.6,465.9 416.3,467.4 417.8,469.1 419.7,470.4M420.9,470.1 419.7,470.4M434.3,527.2 432.4,527.2M430.7,531.3 431.7,527.7M432.4,527.2 431.7,527.7M422.1,541.0 421.5,538.4 422.8,535.8 422.7,533.2 422.1,530.6M427.2,534.3 425.5,531.8M422.1,530.6 425.5,531.8M419.7,470.4 417.4,471.0M417.4,471.0 415.2,469.9 412.7,469.6 410.3,469.2 408.0,467.9 405.3,468.5 402.9,468.0 400.7,466.7M459.7,537.5 462.3,537.8M462.3,537.8 462.4,537.6M511.9,532.2 511.2,534.4 510.4,536.5 510.7,538.9 509.9,541.1 509.8,543.4 509.8,545.7 508.3,547.7 508.3,550.1 507.8,552.3M511.9,532.2 514.6,532.9 517.3,533.8M517.3,533.9 517.3,533.8M517.3,533.9 516.9,536.3 515.9,538.4 514.5,540.3 513.1,542.3 511.9,544.3 511.2,546.5 510.4,548.8 508.3,550.3 507.9,552.7M511.3,531.6 509.2,532.4 506.9,532.4M511.3,531.6 511.9,532.2M524.4,524.4 521.9,525.1 519.4,525.9 516.7,525.6 514.1,526.0 511.7,527.2M524.4,524.4 522.8,526.2 521.9,528.4 519.5,529.6 518.9,532.1 517.3,533.8M511.7,527.2 512.2,529.5 511.3,531.6M417.4,471.0 415.9,473.9M408.5,485.6 410.8,484.2 413.4,483.3 415.8,482.2M415.8,482.2 415.7,481.9M441.3,509.1 441.6,509.3M447.8,506.2 445.8,503.9 444.3,501.2M447.8,506.2 448.3,508.4M448.3,508.4 446.0,508.6 443.7,508.4 441.6,509.3M450.8,488.7 449.6,488.4M450.8,488.7 449.3,490.6 447.0,491.4 445.4,493.2M445.4,493.2 444.4,491.2 443.6,489.0M447.8,506.2 448.8,503.7 450.7,501.8 452.3,499.7M444.3,501.2 444.2,498.1M452.4,496.6 452.3,499.7M452.4,496.6 450.1,496.5 447.9,497.4 445.6,497.2M441.3,509.1 438.4,508.7 435.6,509.3M435.6,509.3 434.7,508.9M434.3,494.0 437.4,494.9 440.0,496.8M434.3,494.0 435.1,496.4 434.2,499.0 434.6,501.5M440.0,496.8 438.6,499.6 436.3,501.7M434.6,501.5 436.3,501.7M440.0,496.8 440.2,496.8M440.2,496.8 444.2,498.1M480.8,519.6 478.3,518.5 475.7,517.6M480.8,519.6 480.2,522.2M475.7,517.6 475.3,520.3 475.7,523.0 475.3,525.7M480.2,522.2 477.8,524.0 475.3,525.7M488.2,523.8 488.9,526.1 490.8,527.6M488.2,523.8 486.1,524.8 484.5,526.5 482.5,527.6M487.9,531.9 487.6,532.1M487.9,531.9 489.0,529.6 490.8,527.6M487.6,532.1 486.2,530.3 483.9,529.6 482.3,528.0M482.5,527.6 482.3,528.0M472.5,540.9 475.3,539.8 477.8,538.3M468.8,538.8 471.4,536.9 474.6,536.3M486.1,535.7 483.6,536.3 481.7,538.2M486.1,535.7 488.0,536.9 489.9,537.9 492.0,538.6M481.4,538.8 481.7,538.2M509.1,522.1 510.5,524.3 511.4,526.8M509.1,522.1 507.1,521.0M511.4,526.8 509.0,526.8 506.9,528.1 504.7,528.6 502.4,529.1M507.1,521.0 505.8,523.0 504.1,524.7 502.5,526.5 501.0,528.4M502.4,529.1 501.0,528.5M501.0,528.4 501.0,528.5M511.7,527.2 511.4,526.8M523.8,517.4 521.6,519.0 518.7,518.4 516.5,520.1 514.0,520.6 511.3,520.5 509.1,522.1M506.9,532.4 505.0,530.3 502.4,529.1M499.7,529.8 500.1,532.2 502.0,533.8 502.8,535.9 503.9,538.0 505.2,539.9M499.7,529.8 501.0,528.5M505.2,515.8 507.6,514.3 509.1,511.8 511.7,510.6M505.2,515.8 506.7,518.2 507.1,521.0M511.7,510.6 513.8,511.5 515.7,512.7 517.6,513.8 519.5,514.8 521.6,515.7M505.2,515.8 503.0,515.2M499.6,515.8 499.7,518.6 498.6,521.2 498.1,523.9M498.1,523.9 499.7,526.1 501.0,528.4M489.9,532.8 491.8,535.1 493.3,537.7M496.5,534.0 496.2,536.1M493.3,537.7 496.2,536.1M486.1,535.7 487.6,532.1M487.9,531.9 489.9,532.8M490.8,527.6 493.0,528.9 495.7,529.4 497.5,531.2M497.5,531.2 499.7,529.8M434.3,527.2 436.0,526.6M433.6,517.2 435.4,519.7 436.3,522.6M436.0,526.6 436.3,522.6M444.4,535.2 447.3,535.1M444.4,535.2 444.7,532.4M444.7,532.4 447.2,531.4 449.1,529.5 451.1,527.6M447.3,535.1 450.2,534.2 452.5,532.2M451.1,527.6 452.3,530.7M443.2,527.9 444.6,530.0 444.7,532.4M459.7,537.5 457.5,536.7 456.4,534.5 454.7,533.0 452.5,532.2M425.5,531.8 424.5,527.5M431.1,527.6 427.8,527.7 424.5,527.5M424.5,527.5 421.1,526.6M437.7,516.3 433.6,517.2M437.7,516.3 436.8,514.0 436.1,511.7 435.6,509.3M430.1,517.0 429.9,516.8M434.7,508.9 432.9,509.0M430.2,512.9 429.9,516.8M431.1,527.6 428.9,525.7 427.0,523.6M429.9,516.8 429.7,516.9M473.6,491.0 474.8,488.5 475.7,485.9 476.8,483.4M450.8,488.7 454.0,488.5 457.1,489.1M457.1,489.1 457.5,491.2M452.4,496.6 454.6,495.4 456.1,493.3M445.4,493.2 445.6,497.2M457.5,491.2 456.1,493.3M467.7,505.2 467.3,502.8 467.8,500.5M467.7,505.2 465.4,506.8M467.8,500.5 466.0,498.0 464.6,495.2M464.6,495.2 464.2,497.6 462.2,499.2 461.7,501.5 460.4,503.4M465.4,506.8 463.0,505.1 460.4,503.4M440.5,493.8 441.8,491.3 443.3,488.9M440.5,493.8 439.3,491.4 438.0,489.0 436.7,486.6M443.3,488.9 441.9,487.0M440.2,496.8 440.5,493.8M436.2,486.5 437.7,484.2 439.3,482.0 441.4,480.2M436.2,486.5 436.7,486.6M443.9,484.1 441.9,487.0M445.7,483.8 443.9,484.1M421.0,501.5 421.6,501.9M421.6,501.9 421.5,504.3 423.0,506.4 423.2,508.8M415.6,509.2 418.1,508.4 420.6,509.2 423.2,508.8M423.8,509.3 425.0,509.1M423.8,509.3 423.2,508.8M421.6,501.9 425.6,502.4M427.9,505.7 425.6,502.4M430.2,512.9 427.2,511.5 425.0,509.1M422.0,474.7 421.4,477.1 421.4,479.5M421.4,479.5 423.8,479.8 426.2,480.2M426.5,478.1 426.2,480.2M420.8,482.0 424.3,484.6M420.8,482.0 417.4,483.2M417.4,483.2 416.9,486.0M416.9,486.0 417.9,488.5 420.0,489.9M421.7,489.0 420.5,489.8M420.5,489.8 420.0,489.9M421.4,479.5 420.8,482.0M426.9,484.8 426.8,482.5 426.2,480.2M426.9,484.8 424.3,484.6M431.1,491.7 431.7,489.2 432.2,486.6M431.1,491.7 429.9,492.9M432.2,486.6 429.4,486.4 426.9,484.8M429.5,493.5 425.7,494.6M429.5,493.5 429.9,492.9M490.8,527.6 492.3,525.6 494.6,524.3M498.1,523.9 495.8,523.6M494.6,524.3 495.8,523.6M499.1,515.7 497.6,517.7 496.0,519.7 494.1,521.4M492.8,514.8 490.7,517.3 489.0,520.1M480.8,519.6 483.7,518.3M475.7,517.6 475.0,517.1M475.0,517.1 477.2,516.0 479.7,515.2 481.1,512.7 483.7,512.1M483.7,518.3 483.7,515.2 483.7,512.1M488.2,523.8 488.1,520.6M480.2,522.2 480.9,525.0 482.5,527.6M483.7,518.3 486.1,519.0 488.1,520.6M494.6,524.3 492.8,522.7 490.4,522.0 488.8,520.2M488.8,520.2 489.0,520.1M484.0,486.4 483.7,486.4M473.6,491.0 473.6,491.1M476.8,492.6 473.6,491.1M466.2,494.0 464.5,494.9M464.5,494.9 464.6,495.2M472.5,491.9 473.2,495.1 473.7,498.4M517.3,449.2 517.6,452.0 516.8,454.7 516.5,457.4M516.5,457.4 516.6,457.4M519.7,459.4 516.6,457.4M486.8,485.3 488.4,486.0M486.8,485.3 486.5,482.7M491.2,473.4 491.6,475.9 492.5,478.3 493.0,480.8 494.5,482.9M494.5,482.9 493.7,485.2M479.4,473.9 480.6,473.7M484.0,486.4 486.8,485.3M505.5,482.4 506.2,481.1M505.5,482.4 503.8,484.3 501.3,484.8 499.4,486.5 497.2,487.5M505.2,480.6 506.2,481.1M497.2,487.5 493.7,485.2M480.1,467.4 481.4,464.0M480.1,467.4 478.4,466.0 476.7,464.6M476.7,464.6 476.9,462.8M476.9,462.8 480.9,463.3M481.4,464.0 480.9,463.3M481.4,473.0 484.1,472.0 486.5,470.4 489.2,469.3M481.4,473.0 481.1,470.1 480.1,467.4M486.5,466.7 489.2,469.3M486.5,466.7 483.7,465.8 481.4,464.0M479.4,473.9 477.2,472.5 474.6,472.4M474.6,472.4 474.6,468.5M474.6,468.5 476.1,466.8 476.7,464.6M489.2,469.3 490.0,469.3M484.2,460.2 487.9,458.3M490.0,469.3 490.6,468.5M491.2,473.4 491.4,471.9M490.0,469.3 491.4,471.9M497.2,479.8 497.2,477.2 497.5,474.6M491.4,471.9 493.5,472.7 495.3,474.0 497.5,474.6M491.7,467.4 490.6,468.5M491.7,467.4 491.0,464.6 492.0,461.7 491.4,458.8M487.9,458.3 488.8,456.1M490.6,468.5 490.6,468.5M505.2,480.6 502.8,478.9 500.9,476.6 499.2,474.3M497.5,474.6 499.2,474.3M492.6,459.5 493.7,462.0 495.5,464.0M426.0,457.1 428.4,456.1 430.2,454.4 432.4,453.1 433.8,450.9 435.4,448.8 437.9,447.9M457.7,375.2 457.3,377.5 458.1,379.7 457.5,382.0 457.8,384.2 457.3,386.5 457.5,388.7 458.7,391.0 458.0,393.2 458.3,395.5 457.8,397.8 458.6,400.0 458.5,402.3 458.2,404.5 459.2,406.8 458.7,409.0 458.3,411.3 458.4,413.5 458.6,415.8 458.7,418.1 459.0,420.3 458.5,422.6 459.1,424.8 459.6,427.1 459.3,429.3 459.5,431.6 460.0,433.8 459.9,436.1 459.7,438.3 459.2,440.6 459.0,442.9 460.4,445.1 460.4,447.3 459.6,449.6 459.9,451.9 459.6,454.1 460.3,456.4 460.1,458.6M453.4,451.9 454.4,454.5 455.9,456.8 456.7,459.5M456.7,459.5 460.1,458.6M445.7,483.8 448.7,481.3M443.7,475.0 442.8,477.3 442.3,479.7M443.7,475.0 446.7,477.3M470.6,481.8 471.5,484.0 471.2,486.4 471.3,488.7M468.8,480.6 466.7,481.7 465.2,483.7M465.2,483.7 467.1,485.4 468.2,487.6M468.2,487.6 471.3,488.7M476.8,483.4 473.8,482.2 470.6,481.8M473.6,491.1 473.0,491.3M473.0,491.3 471.3,488.7M468.7,474.3 471.4,472.7 474.6,472.4M468.7,474.3 468.7,477.4 468.8,480.6M457.1,489.1 457.5,487.0M466.2,494.0 466.3,491.7 467.4,489.7 468.2,487.6M457.5,487.0 459.9,485.4 462.5,484.5 465.2,483.7M457.5,491.2 460.0,492.1 462.5,492.9 464.5,494.9M472.5,491.9 473.0,491.3M448.7,481.3 451.1,482.5 453.8,483.1 456.2,484.3M446.7,477.3 449.3,476.3 452.1,476.7 454.7,476.1M454.7,476.1 455.4,478.8 455.7,481.6 456.2,484.3M457.5,487.0 456.8,485.2M456.8,485.2 456.2,484.3M511.2,490.7 511.7,490.9M511.7,490.9 514.3,490.8M514.3,490.8 515.4,487.9M515.4,487.9 513.7,486.2 512.4,484.1 511.9,481.7M507.3,480.5 506.2,481.1M506.8,489.5 508.8,490.7M508.8,490.7 511.2,490.7M437.7,516.3 439.5,516.7M441.6,509.3 441.5,509.9M441.5,509.9 440.2,512.0 440.5,514.6 439.5,516.7M439.5,516.7 439.7,516.9M427.0,523.6 422.8,522.3M423.8,509.3 423.5,512.1 422.4,514.6M426.3,517.3 424.6,515.6 422.4,514.6M412.2,511.6 415.2,513.4M419.4,515.0 422.4,514.6M419.0,527.4 414.7,527.5M419.0,527.4 420.7,526.3M417.5,521.9 414.7,521.2 411.9,521.6M419.9,522.8 420.8,523.8M414.7,527.5 413.5,524.4 411.9,521.6M411.3,530.5 413.5,529.5 414.7,527.5M421.1,526.6 420.7,526.3M422.8,522.3 420.8,523.8M473.8,514.0 473.7,514.7M472.8,506.9 476.0,505.3M472.8,506.9 473.4,509.2 473.8,511.6 473.8,514.0M476.0,505.3 478.2,507.3 479.3,510.0M475.0,517.1 473.3,516.0M473.3,516.0 473.7,514.7M483.7,512.1 483.7,512.0M437.7,475.3 437.2,477.7 437.3,480.1M432.4,475.5 433.7,474.7M432.4,475.5 431.5,478.3M431.5,478.3 432.6,480.9 431.7,483.7 432.5,486.4M437.3,480.1 435.7,482.1 433.6,483.8 432.7,486.3M432.7,486.3 432.5,486.4M442.3,474.2 440.0,474.6 437.7,475.3M442.3,474.2 443.6,474.6M441.4,480.2 437.3,480.1M434.0,471.3 434.2,468.9 435.8,466.9M438.5,468.0 435.8,466.9M425.1,471.0 427.9,470.3 430.8,469.7M430.8,469.7 434.0,471.3M421.0,470.0 422.1,469.9M436.2,486.5 432.7,486.3M434.3,494.0 431.1,491.7M433.9,501.5 431.7,503.5M431.7,503.5 430.1,501.6 428.1,500.3M429.6,496.6 428.1,500.3M429.5,493.5 429.6,496.6M419.4,498.4 421.0,501.5M412.7,511.0 412.3,508.7 413.1,506.6 413.7,504.4 413.4,502.1 414.0,500.0M419.4,498.4 418.0,497.7M418.0,497.7 415.8,498.4 414.0,500.0M497.4,495.4 497.5,492.7 498.1,490.2M503.7,498.1 504.8,495.7 503.7,493.1 504.7,490.7M497.2,487.5 498.1,490.2M506.8,489.5 504.7,490.7M489.5,492.5 490.8,494.8 492.9,496.2M497.4,495.4 495.7,496.6M492.9,496.2 495.7,496.6M492.8,514.8 491.4,512.9 489.3,511.8M485.3,510.0 487.2,511.1 489.3,511.8M500.3,515.6 499.6,512.9 499.6,509.9 498.2,507.3M503.0,515.2 502.2,512.9 502.5,510.4 502.2,508.0 501.4,505.8M495.5,514.2 494.8,511.2 495.2,508.3M485.7,505.0 488.2,505.8 490.8,506.5 493.5,506.3M485.7,505.0 484.8,507.5 485.3,510.0M478.7,502.1 478.1,500.4M478.7,502.1 480.8,502.9 482.9,503.9 485.2,503.9M478.1,500.4 478.7,498.2 479.4,496.1M485.2,503.9 486.6,501.7M479.4,496.1 482.8,494.4M487.0,500.4 486.6,501.7M487.0,500.4 486.1,498.1 485.2,495.8M485.2,495.8 482.8,494.4M467.7,505.2 470.2,506.2 472.8,506.9M476.0,505.3 478.7,502.1M473.7,498.4 475.8,499.7 478.1,500.4M489.5,492.5 487.4,494.3 485.2,495.8M492.9,496.2 491.1,497.9 489.1,499.2 487.0,500.4M508.0,475.9 510.6,476.0 512.9,475.4 515.1,474.0M511.9,481.7 514.2,480.8M514.2,480.8 514.7,478.5 514.7,476.2 515.1,474.0M519.2,486.1 515.4,487.9M514.2,480.8 518.2,480.8M476.6,454.7 479.0,457.8M481.4,455.4 480.6,457.2M469.4,458.6 471.6,456.9 474.0,455.5 476.6,454.7M483.0,460.1 480.6,457.2M476.9,462.8 475.6,460.6M517.3,449.2 515.1,450.4 513.9,452.7 512.1,454.2 509.7,455.2 508.4,457.4M516.5,457.4 514.3,457.7 512.0,458.1 510.1,459.4M508.4,457.4 510.1,459.4M499.0,463.5 500.6,465.8 502.6,467.6 504.4,469.7M499.0,463.5 496.1,463.6M496.0,463.7 496.1,463.6M496.0,463.7 498.4,465.3 499.8,467.8 502.0,469.6M502.0,469.6 503.1,470.1M503.1,470.1 504.4,469.7M495.5,464.0 496.0,463.7M496.9,460.5 496.1,463.6M499.2,474.3 501.3,472.3 503.1,470.1M516.6,457.4 516.9,460.2 515.8,462.7 515.3,465.3M515.3,465.3 518.4,464.9M437.5,457.9 434.7,458.1 432.0,459.6 429.1,459.4M437.5,457.9 436.3,460.5 435.4,463.2M435.4,463.2 434.4,464.6M434.4,464.6 433.3,464.5M428.9,459.5 429.1,459.4M440.0,453.9 439.2,456.2 437.5,457.9M437.9,447.9 436.1,449.5 435.2,451.9 433.7,453.8 432.2,455.7 430.5,457.4 429.1,459.4M430.8,469.7 432.3,467.2 433.3,464.5M435.8,466.9 434.4,464.6M422.1,469.9 423.8,467.8 426.2,466.6 428.3,464.9 430.7,463.8M468.7,474.3 466.8,473.0M474.6,468.5 472.6,467.2 471.8,464.6 469.7,463.3M469.7,463.3 469.3,465.8 468.2,468.2 467.7,470.6 466.8,473.0M469.4,458.6 469.0,458.5M460.6,394.4 461.4,396.5 461.5,398.8 461.7,400.9 461.0,403.3 462.2,405.3 461.9,407.6 462.7,409.7 463.6,411.9 462.7,414.2 463.8,416.3 464.1,418.5 464.0,420.7 464.5,422.9 464.7,425.1 464.8,427.3 465.4,429.5 464.8,431.8 465.6,433.9 465.1,436.2 466.4,438.2 466.5,440.4 467.1,442.6 466.0,445.0 467.9,447.0 466.7,449.3 468.4,451.4 468.3,453.6 468.9,455.7 468.4,458.0M467.6,458.5 468.4,458.0M468.4,458.0 469.0,458.5M453.1,472.8 450.4,471.5M453.1,472.8 454.9,470.2 455.2,467.1M450.4,471.5 451.0,469.0 451.4,466.4M445.5,469.9 447.1,468.4 448.5,466.6 450.2,465.0M445.5,469.9 443.9,467.5 443.5,464.6M445.0,461.3 448.0,461.6M448.0,461.6 449.5,462.7M449.5,462.7 450.2,465.0M445.4,472.4 447.8,471.4 450.4,471.5M445.4,472.4 445.5,469.9M451.4,466.4 450.2,465.0M443.6,474.6 445.4,472.4M440.0,453.9 440.8,456.1 442.2,457.8 443.4,459.7 445.0,461.3M453.4,451.9 452.1,453.7 451.6,456.0 450.5,457.9 449.3,459.8 448.0,461.6M456.7,459.5 456.3,460.8M480.0,533.6 477.7,533.1 475.5,532.5M480.0,533.6 481.0,531.5 480.6,529.2M475.5,532.5 477.0,530.5 478.1,528.3M474.6,536.3 473.7,532.4M481.7,538.2 481.4,535.7 480.0,533.6M482.3,528.0 480.6,529.2M475.3,525.7 474.9,526.3M474.9,526.3 478.1,528.3M510.7,496.2 507.3,495.6M512.5,498.4 509.7,498.3 507.2,499.9 504.4,499.8M507.3,495.6 503.9,498.3M503.9,498.3 504.4,499.8M511.7,490.9 511.4,493.6 510.7,496.2M511.6,509.3 513.8,507.9 515.5,505.8 517.6,504.3M511.6,509.3 510.1,506.1M517.6,504.3 516.7,501.3 516.9,498.2M516.9,498.2 514.0,499.2M511.7,510.6 511.6,509.3M519.7,505.3 517.6,504.3M504.6,502.8 504.4,499.8M504.6,502.8 507.5,504.2 510.1,506.1M528.6,499.4 526.4,498.9 524.2,498.6 522.0,497.9 519.8,497.8 517.5,497.7M514.3,490.8 516.8,493.6M517.5,497.7 516.8,493.6M439.7,516.9 441.4,517.9M441.4,517.9 443.9,516.9 446.5,517.5M437.2,526.4 438.7,523.8 441.0,521.8M443.2,527.9 443.6,527.4M443.6,527.4 443.5,524.3M443.5,524.3 442.8,523.2M441.0,521.8 442.8,523.2M456.9,505.9 454.2,504.5M456.9,505.9 459.4,503.2M458.4,501.8 456.4,502.9 454.1,503.2M454.1,503.2 454.2,504.5M456.1,493.3 456.4,496.3 458.2,498.8 458.4,501.8M460.4,503.4 459.4,503.2M417.3,494.7 416.4,492.3 416.4,489.6 415.5,487.1M417.3,494.7 417.1,495.1M417.1,495.1 414.0,493.2M415.5,487.1 413.5,488.1M420.0,489.9 419.2,492.7 417.3,494.7M418.0,497.7 417.1,495.1M410.4,493.2 414.0,493.2M502.0,504.7 499.5,503.2 497.4,501.2 495.6,498.9M502.0,504.7 501.6,505.1M501.6,505.1 499.5,504.1 497.1,503.7 494.8,503.0M494.7,502.0 494.8,503.0M504.6,502.8 502.0,504.7M495.7,496.6 495.6,498.9M501.4,505.8 501.6,505.1M486.6,501.7 489.3,501.6 492.0,502.1 494.7,502.0M501.1,462.9 504.2,464.2M501.1,462.9 502.2,458.9M502.2,458.9 504.9,455.7M504.6,469.7 504.4,469.7M504.9,465.5 506.8,464.1 508.9,463.2 510.8,461.8M508.4,457.4 505.9,456.4M504.6,469.7 506.5,470.7M508.0,475.9 507.8,473.6 506.9,471.5M506.5,470.7 506.9,471.5M506.5,470.7 508.7,469.8 510.0,467.8 512.2,466.9 513.7,465.2M515.3,465.3 514.8,465.5M513.7,465.2 514.8,465.5M466.8,473.0 465.6,472.7M467.6,458.5 466.6,460.8 464.7,462.4 463.1,464.2 461.7,466.1M456.3,460.8 457.9,462.9 458.4,465.5M455.2,467.1 457.5,466.3M457.5,466.3 458.4,465.5M463.7,473.5 465.6,472.7M473.3,516.0 470.1,517.4M474.9,526.3 472.2,526.6 469.7,527.5M470.1,517.4 469.3,519.9 470.5,522.5 470.3,525.0 469.7,527.5M473.7,532.4 471.0,530.8 468.7,528.7M469.7,527.5 468.7,528.7M456.9,505.9 457.4,510.1M446.5,517.5 449.2,517.6M450.1,511.2 450.2,514.5 449.2,517.6M465.4,506.8 463.8,508.5 464.1,511.1 462.6,512.8M457.4,510.1 460.0,511.5 462.6,512.8M442.8,523.2 444.7,521.1 447.4,519.9 449.3,517.7M443.5,524.3 445.6,522.3 447.8,520.4 450.3,519.1M449.3,517.7 450.3,519.1M470.1,517.4 467.6,516.6 465.4,515.4 463.0,514.6M462.6,512.8 463.0,514.6M514.3,471.4 515.2,473.9M514.9,466.8 516.9,468.3 518.1,470.4 519.7,472.3 521.0,474.3M515.2,473.9 518.1,474.6 521.0,474.3M506.9,471.5 509.4,471.7 511.8,471.5 514.3,471.4M514.8,465.5 514.9,466.8M515.1,474.0 515.2,473.9M457.4,467.7 457.6,470.8 458.9,473.6M457.4,467.7 456.4,470.0 455.8,472.4 454.8,474.7M454.8,474.7 454.9,474.9M453.1,472.8 454.8,474.7M462.4,537.6 463.2,534.9M452.3,530.7 455.4,529.6 458.5,528.9M463.2,534.9 461.1,533.3 460.6,530.5 458.5,528.9M468.7,528.7 468.1,529.0M463.2,534.9 465.3,533.3 466.3,530.8 468.1,529.0M463.0,514.6 460.5,517.8M468.1,529.0 465.4,527.1 463.7,524.3M450.3,519.1 450.7,519.5M450.7,519.5 453.5,518.6 456.4,518.8 459.3,518.4M459.3,518.4 460.5,517.8M458.0,527.9 458.7,525.6M451.4,525.4 450.9,524.0M458.5,524.5 456.0,523.9 453.5,523.5 450.9,523.2M450.9,524.0 450.9,523.2M458.5,528.9 458.0,527.9M443.6,527.4 446.3,526.8 448.4,525.0 450.9,524.0M459.3,518.4 458.5,521.4 458.5,524.5M450.7,519.5 450.9,523.2" stroke="#a04c20" stroke-width="1.85" fill="none" stroke-linecap="round" stroke-linejoin="round" opacity="0.3" filter="url(#dblur2)"/>
<path d="M417.4,537.6 416.3,536.7M433.6,535.5 431.5,537.0 430.9,539.6 429.1,541.4 427.2,543.0 425.5,544.8 424.5,547.1M433.6,535.5 435.7,536.6 438.2,536.7M438.2,536.7 438.2,536.7M438.2,536.7 437.0,538.6 435.5,540.3 434.5,542.4 432.1,543.4 431.0,545.5 430.2,547.7 428.8,549.5 426.4,550.5 425.4,552.6M422.7,541.7 424.2,539.2 425.1,536.4 427.2,534.3M430.7,531.3 428.7,532.4 427.2,534.3M430.7,531.3 432.5,533.1 433.6,535.5M443.1,536.9 443.8,540.1M443.1,536.9 442.7,536.8M442.7,536.8 440.4,536.8 438.2,536.7M417.4,537.6 419.5,539.6 422.1,541.0M420.4,464.6 420.2,461.8 421.3,459.3M420.4,464.6 418.0,463.6 415.5,462.5 413.3,461.0 410.7,460.4M411.9,458.4 414.2,458.1 416.4,458.7 418.6,459.0 420.9,458.8M420.9,458.8 421.3,459.3M420.2,456.7 420.9,458.8M421.0,470.0 420.9,470.1M410.6,460.4 412.2,462.0 413.8,463.6 414.6,465.9 416.3,467.4 417.8,469.1 419.7,470.4M420.9,470.1 419.7,470.4M434.3,527.2 432.4,527.2M430.7,531.3 431.7,527.7M432.4,527.2 431.7,527.7M422.1,541.0 421.5,538.4 422.8,535.8 422.7,533.2 422.1,530.6M427.2,534.3 425.5,531.8M422.1,530.6 425.5,531.8M419.7,470.4 417.4,471.0M417.4,471.0 415.2,469.9 412.7,469.6 410.3,469.2 408.0,467.9 405.3,468.5 402.9,468.0 400.7,466.7M459.7,537.5 462.3,537.8M462.3,537.8 462.4,537.6M511.9,532.2 511.2,534.4 510.4,536.5 510.7,538.9 509.9,541.1 509.8,543.4 509.8,545.7 508.3,547.7 508.3,550.1 507.8,552.3M511.9,532.2 514.6,532.9 517.3,533.8M517.3,533.9 517.3,533.8M517.3,533.9 516.9,536.3 515.9,538.4 514.5,540.3 513.1,542.3 511.9,544.3 511.2,546.5 510.4,548.8 508.3,550.3 507.9,552.7M511.3,531.6 509.2,532.4 506.9,532.4M511.3,531.6 511.9,532.2M524.4,524.4 521.9,525.1 519.4,525.9 516.7,525.6 514.1,526.0 511.7,527.2M524.4,524.4 522.8,526.2 521.9,528.4 519.5,529.6 518.9,532.1 517.3,533.8M511.7,527.2 512.2,529.5 511.3,531.6M417.4,471.0 415.9,473.9M408.5,485.6 410.8,484.2 413.4,483.3 415.8,482.2M415.8,482.2 415.7,481.9M441.3,509.1 441.6,509.3M447.8,506.2 445.8,503.9 444.3,501.2M447.8,506.2 448.3,508.4M448.3,508.4 446.0,508.6 443.7,508.4 441.6,509.3M450.8,488.7 449.6,488.4M450.8,488.7 449.3,490.6 447.0,491.4 445.4,493.2M445.4,493.2 444.4,491.2 443.6,489.0M447.8,506.2 448.8,503.7 450.7,501.8 452.3,499.7M444.3,501.2 444.2,498.1M452.4,496.6 452.3,499.7M452.4,496.6 450.1,496.5 447.9,497.4 445.6,497.2M441.3,509.1 438.4,508.7 435.6,509.3M435.6,509.3 434.7,508.9M434.3,494.0 437.4,494.9 440.0,496.8M434.3,494.0 435.1,496.4 434.2,499.0 434.6,501.5M440.0,496.8 438.6,499.6 436.3,501.7M434.6,501.5 436.3,501.7M440.0,496.8 440.2,496.8M440.2,496.8 444.2,498.1M480.8,519.6 478.3,518.5 475.7,517.6M480.8,519.6 480.2,522.2M475.7,517.6 475.3,520.3 475.7,523.0 475.3,525.7M480.2,522.2 477.8,524.0 475.3,525.7M488.2,523.8 488.9,526.1 490.8,527.6M488.2,523.8 486.1,524.8 484.5,526.5 482.5,527.6M487.9,531.9 487.6,532.1M487.9,531.9 489.0,529.6 490.8,527.6M487.6,532.1 486.2,530.3 483.9,529.6 482.3,528.0M482.5,527.6 482.3,528.0M472.5,540.9 475.3,539.8 477.8,538.3M468.8,538.8 471.4,536.9 474.6,536.3M486.1,535.7 483.6,536.3 481.7,538.2M486.1,535.7 488.0,536.9 489.9,537.9 492.0,538.6M481.4,538.8 481.7,538.2M509.1,522.1 510.5,524.3 511.4,526.8M509.1,522.1 507.1,521.0M511.4,526.8 509.0,526.8 506.9,528.1 504.7,528.6 502.4,529.1M507.1,521.0 505.8,523.0 504.1,524.7 502.5,526.5 501.0,528.4M502.4,529.1 501.0,528.5M501.0,528.4 501.0,528.5M511.7,527.2 511.4,526.8M523.8,517.4 521.6,519.0 518.7,518.4 516.5,520.1 514.0,520.6 511.3,520.5 509.1,522.1M506.9,532.4 505.0,530.3 502.4,529.1M499.7,529.8 500.1,532.2 502.0,533.8 502.8,535.9 503.9,538.0 505.2,539.9M499.7,529.8 501.0,528.5M505.2,515.8 507.6,514.3 509.1,511.8 511.7,510.6M505.2,515.8 506.7,518.2 507.1,521.0M511.7,510.6 513.8,511.5 515.7,512.7 517.6,513.8 519.5,514.8 521.6,515.7M505.2,515.8 503.0,515.2M499.6,515.8 499.7,518.6 498.6,521.2 498.1,523.9M498.1,523.9 499.7,526.1 501.0,528.4M489.9,532.8 491.8,535.1 493.3,537.7M496.5,534.0 496.2,536.1M493.3,537.7 496.2,536.1M486.1,535.7 487.6,532.1M487.9,531.9 489.9,532.8M490.8,527.6 493.0,528.9 495.7,529.4 497.5,531.2M497.5,531.2 499.7,529.8M434.3,527.2 436.0,526.6M433.6,517.2 435.4,519.7 436.3,522.6M436.0,526.6 436.3,522.6M444.4,535.2 447.3,535.1M444.4,535.2 444.7,532.4M444.7,532.4 447.2,531.4 449.1,529.5 451.1,527.6M447.3,535.1 450.2,534.2 452.5,532.2M451.1,527.6 452.3,530.7M443.2,527.9 444.6,530.0 444.7,532.4M459.7,537.5 457.5,536.7 456.4,534.5 454.7,533.0 452.5,532.2M425.5,531.8 424.5,527.5M431.1,527.6 427.8,527.7 424.5,527.5M424.5,527.5 421.1,526.6M437.7,516.3 433.6,517.2M437.7,516.3 436.8,514.0 436.1,511.7 435.6,509.3M430.1,517.0 429.9,516.8M434.7,508.9 432.9,509.0M430.2,512.9 429.9,516.8M431.1,527.6 428.9,525.7 427.0,523.6M429.9,516.8 429.7,516.9M473.6,491.0 474.8,488.5 475.7,485.9 476.8,483.4M450.8,488.7 454.0,488.5 457.1,489.1M457.1,489.1 457.5,491.2M452.4,496.6 454.6,495.4 456.1,493.3M445.4,493.2 445.6,497.2M457.5,491.2 456.1,493.3M467.7,505.2 467.3,502.8 467.8,500.5M467.7,505.2 465.4,506.8M467.8,500.5 466.0,498.0 464.6,495.2M464.6,495.2 464.2,497.6 462.2,499.2 461.7,501.5 460.4,503.4M465.4,506.8 463.0,505.1 460.4,503.4M440.5,493.8 441.8,491.3 443.3,488.9M440.5,493.8 439.3,491.4 438.0,489.0 436.7,486.6M443.3,488.9 441.9,487.0M440.2,496.8 440.5,493.8M436.2,486.5 437.7,484.2 439.3,482.0 441.4,480.2M436.2,486.5 436.7,486.6M443.9,484.1 441.9,487.0M445.7,483.8 443.9,484.1M421.0,501.5 421.6,501.9M421.6,501.9 421.5,504.3 423.0,506.4 423.2,508.8M415.6,509.2 418.1,508.4 420.6,509.2 423.2,508.8M423.8,509.3 425.0,509.1M423.8,509.3 423.2,508.8M421.6,501.9 425.6,502.4M427.9,505.7 425.6,502.4M430.2,512.9 427.2,511.5 425.0,509.1M422.0,474.7 421.4,477.1 421.4,479.5M421.4,479.5 423.8,479.8 426.2,480.2M426.5,478.1 426.2,480.2M420.8,482.0 424.3,484.6M420.8,482.0 417.4,483.2M417.4,483.2 416.9,486.0M416.9,486.0 417.9,488.5 420.0,489.9M421.7,489.0 420.5,489.8M420.5,489.8 420.0,489.9M421.4,479.5 420.8,482.0M426.9,484.8 426.8,482.5 426.2,480.2M426.9,484.8 424.3,484.6M431.1,491.7 431.7,489.2 432.2,486.6M431.1,491.7 429.9,492.9M432.2,486.6 429.4,486.4 426.9,484.8M429.5,493.5 425.7,494.6M429.5,493.5 429.9,492.9M490.8,527.6 492.3,525.6 494.6,524.3M498.1,523.9 495.8,523.6M494.6,524.3 495.8,523.6M499.1,515.7 497.6,517.7 496.0,519.7 494.1,521.4M492.8,514.8 490.7,517.3 489.0,520.1M480.8,519.6 483.7,518.3M475.7,517.6 475.0,517.1M475.0,517.1 477.2,516.0 479.7,515.2 481.1,512.7 483.7,512.1M483.7,518.3 483.7,515.2 483.7,512.1M488.2,523.8 488.1,520.6M480.2,522.2 480.9,525.0 482.5,527.6M483.7,518.3 486.1,519.0 488.1,520.6M494.6,524.3 492.8,522.7 490.4,522.0 488.8,520.2M488.8,520.2 489.0,520.1M484.0,486.4 483.7,486.4M473.6,491.0 473.6,491.1M476.8,492.6 473.6,491.1M466.2,494.0 464.5,494.9M464.5,494.9 464.6,495.2M472.5,491.9 473.2,495.1 473.7,498.4M517.3,449.2 517.6,452.0 516.8,454.7 516.5,457.4M516.5,457.4 516.6,457.4M519.7,459.4 516.6,457.4M486.8,485.3 488.4,486.0M486.8,485.3 486.5,482.7M491.2,473.4 491.6,475.9 492.5,478.3 493.0,480.8 494.5,482.9M494.5,482.9 493.7,485.2M479.4,473.9 480.6,473.7M484.0,486.4 486.8,485.3M505.5,482.4 506.2,481.1M505.5,482.4 503.8,484.3 501.3,484.8 499.4,486.5 497.2,487.5M505.2,480.6 506.2,481.1M497.2,487.5 493.7,485.2M480.1,467.4 481.4,464.0M480.1,467.4 478.4,466.0 476.7,464.6M476.7,464.6 476.9,462.8M476.9,462.8 480.9,463.3M481.4,464.0 480.9,463.3M481.4,473.0 484.1,472.0 486.5,470.4 489.2,469.3M481.4,473.0 481.1,470.1 480.1,467.4M486.5,466.7 489.2,469.3M486.5,466.7 483.7,465.8 481.4,464.0M479.4,473.9 477.2,472.5 474.6,472.4M474.6,472.4 474.6,468.5M474.6,468.5 476.1,466.8 476.7,464.6M489.2,469.3 490.0,469.3M484.2,460.2 487.9,458.3M490.0,469.3 490.6,468.5M491.2,473.4 491.4,471.9M490.0,469.3 491.4,471.9M497.2,479.8 497.2,477.2 497.5,474.6M491.4,471.9 493.5,472.7 495.3,474.0 497.5,474.6M491.7,467.4 490.6,468.5M491.7,467.4 491.0,464.6 492.0,461.7 491.4,458.8M487.9,458.3 488.8,456.1M490.6,468.5 490.6,468.5M505.2,480.6 502.8,478.9 500.9,476.6 499.2,474.3M497.5,474.6 499.2,474.3M492.6,459.5 493.7,462.0 495.5,464.0M426.0,457.1 428.4,456.1 430.2,454.4 432.4,453.1 433.8,450.9 435.4,448.8 437.9,447.9M457.7,375.2 457.3,377.5 458.1,379.7 457.5,382.0 457.8,384.2 457.3,386.5 457.5,388.7 458.7,391.0 458.0,393.2 458.3,395.5 457.8,397.8 458.6,400.0 458.5,402.3 458.2,404.5 459.2,406.8 458.7,409.0 458.3,411.3 458.4,413.5 458.6,415.8 458.7,418.1 459.0,420.3 458.5,422.6 459.1,424.8 459.6,427.1 459.3,429.3 459.5,431.6 460.0,433.8 459.9,436.1 459.7,438.3 459.2,440.6 459.0,442.9 460.4,445.1 460.4,447.3 459.6,449.6 459.9,451.9 459.6,454.1 460.3,456.4 460.1,458.6M453.4,451.9 454.4,454.5 455.9,456.8 456.7,459.5M456.7,459.5 460.1,458.6M445.7,483.8 448.7,481.3M443.7,475.0 442.8,477.3 442.3,479.7M443.7,475.0 446.7,477.3M470.6,481.8 471.5,484.0 471.2,486.4 471.3,488.7M468.8,480.6 466.7,481.7 465.2,483.7M465.2,483.7 467.1,485.4 468.2,487.6M468.2,487.6 471.3,488.7M476.8,483.4 473.8,482.2 470.6,481.8M473.6,491.1 473.0,491.3M473.0,491.3 471.3,488.7M468.7,474.3 471.4,472.7 474.6,472.4M468.7,474.3 468.7,477.4 468.8,480.6M457.1,489.1 457.5,487.0M466.2,494.0 466.3,491.7 467.4,489.7 468.2,487.6M457.5,487.0 459.9,485.4 462.5,484.5 465.2,483.7M457.5,491.2 460.0,492.1 462.5,492.9 464.5,494.9M472.5,491.9 473.0,491.3M448.7,481.3 451.1,482.5 453.8,483.1 456.2,484.3M446.7,477.3 449.3,476.3 452.1,476.7 454.7,476.1M454.7,476.1 455.4,478.8 455.7,481.6 456.2,484.3M457.5,487.0 456.8,485.2M456.8,485.2 456.2,484.3M511.2,490.7 511.7,490.9M511.7,490.9 514.3,490.8M514.3,490.8 515.4,487.9M515.4,487.9 513.7,486.2 512.4,484.1 511.9,481.7M507.3,480.5 506.2,481.1M506.8,489.5 508.8,490.7M508.8,490.7 511.2,490.7M437.7,516.3 439.5,516.7M441.6,509.3 441.5,509.9M441.5,509.9 440.2,512.0 440.5,514.6 439.5,516.7M439.5,516.7 439.7,516.9M427.0,523.6 422.8,522.3M423.8,509.3 423.5,512.1 422.4,514.6M426.3,517.3 424.6,515.6 422.4,514.6M412.2,511.6 415.2,513.4M419.4,515.0 422.4,514.6M419.0,527.4 414.7,527.5M419.0,527.4 420.7,526.3M417.5,521.9 414.7,521.2 411.9,521.6M419.9,522.8 420.8,523.8M414.7,527.5 413.5,524.4 411.9,521.6M411.3,530.5 413.5,529.5 414.7,527.5M421.1,526.6 420.7,526.3M422.8,522.3 420.8,523.8M473.8,514.0 473.7,514.7M472.8,506.9 476.0,505.3M472.8,506.9 473.4,509.2 473.8,511.6 473.8,514.0M476.0,505.3 478.2,507.3 479.3,510.0M475.0,517.1 473.3,516.0M473.3,516.0 473.7,514.7M483.7,512.1 483.7,512.0M437.7,475.3 437.2,477.7 437.3,480.1M432.4,475.5 433.7,474.7M432.4,475.5 431.5,478.3M431.5,478.3 432.6,480.9 431.7,483.7 432.5,486.4M437.3,480.1 435.7,482.1 433.6,483.8 432.7,486.3M432.7,486.3 432.5,486.4M442.3,474.2 440.0,474.6 437.7,475.3M442.3,474.2 443.6,474.6M441.4,480.2 437.3,480.1M434.0,471.3 434.2,468.9 435.8,466.9M438.5,468.0 435.8,466.9M425.1,471.0 427.9,470.3 430.8,469.7M430.8,469.7 434.0,471.3M421.0,470.0 422.1,469.9M436.2,486.5 432.7,486.3M434.3,494.0 431.1,491.7M433.9,501.5 431.7,503.5M431.7,503.5 430.1,501.6 428.1,500.3M429.6,496.6 428.1,500.3M429.5,493.5 429.6,496.6M419.4,498.4 421.0,501.5M412.7,511.0 412.3,508.7 413.1,506.6 413.7,504.4 413.4,502.1 414.0,500.0M419.4,498.4 418.0,497.7M418.0,497.7 415.8,498.4 414.0,500.0M497.4,495.4 497.5,492.7 498.1,490.2M503.7,498.1 504.8,495.7 503.7,493.1 504.7,490.7M497.2,487.5 498.1,490.2M506.8,489.5 504.7,490.7M489.5,492.5 490.8,494.8 492.9,496.2M497.4,495.4 495.7,496.6M492.9,496.2 495.7,496.6M492.8,514.8 491.4,512.9 489.3,511.8M485.3,510.0 487.2,511.1 489.3,511.8M500.3,515.6 499.6,512.9 499.6,509.9 498.2,507.3M503.0,515.2 502.2,512.9 502.5,510.4 502.2,508.0 501.4,505.8M495.5,514.2 494.8,511.2 495.2,508.3M485.7,505.0 488.2,505.8 490.8,506.5 493.5,506.3M485.7,505.0 484.8,507.5 485.3,510.0M478.7,502.1 478.1,500.4M478.7,502.1 480.8,502.9 482.9,503.9 485.2,503.9M478.1,500.4 478.7,498.2 479.4,496.1M485.2,503.9 486.6,501.7M479.4,496.1 482.8,494.4M487.0,500.4 486.6,501.7M487.0,500.4 486.1,498.1 485.2,495.8M485.2,495.8 482.8,494.4M467.7,505.2 470.2,506.2 472.8,506.9M476.0,505.3 478.7,502.1M473.7,498.4 475.8,499.7 478.1,500.4M489.5,492.5 487.4,494.3 485.2,495.8M492.9,496.2 491.1,497.9 489.1,499.2 487.0,500.4M508.0,475.9 510.6,476.0 512.9,475.4 515.1,474.0M511.9,481.7 514.2,480.8M514.2,480.8 514.7,478.5 514.7,476.2 515.1,474.0M519.2,486.1 515.4,487.9M514.2,480.8 518.2,480.8M476.6,454.7 479.0,457.8M481.4,455.4 480.6,457.2M469.4,458.6 471.6,456.9 474.0,455.5 476.6,454.7M483.0,460.1 480.6,457.2M476.9,462.8 475.6,460.6M517.3,449.2 515.1,450.4 513.9,452.7 512.1,454.2 509.7,455.2 508.4,457.4M516.5,457.4 514.3,457.7 512.0,458.1 510.1,459.4M508.4,457.4 510.1,459.4M499.0,463.5 500.6,465.8 502.6,467.6 504.4,469.7M499.0,463.5 496.1,463.6M496.0,463.7 496.1,463.6M496.0,463.7 498.4,465.3 499.8,467.8 502.0,469.6M502.0,469.6 503.1,470.1M503.1,470.1 504.4,469.7M495.5,464.0 496.0,463.7M496.9,460.5 496.1,463.6M499.2,474.3 501.3,472.3 503.1,470.1M516.6,457.4 516.9,460.2 515.8,462.7 515.3,465.3M515.3,465.3 518.4,464.9M437.5,457.9 434.7,458.1 432.0,459.6 429.1,459.4M437.5,457.9 436.3,460.5 435.4,463.2M435.4,463.2 434.4,464.6M434.4,464.6 433.3,464.5M428.9,459.5 429.1,459.4M440.0,453.9 439.2,456.2 437.5,457.9M437.9,447.9 436.1,449.5 435.2,451.9 433.7,453.8 432.2,455.7 430.5,457.4 429.1,459.4M430.8,469.7 432.3,467.2 433.3,464.5M435.8,466.9 434.4,464.6M422.1,469.9 423.8,467.8 426.2,466.6 428.3,464.9 430.7,463.8M468.7,474.3 466.8,473.0M474.6,468.5 472.6,467.2 471.8,464.6 469.7,463.3M469.7,463.3 469.3,465.8 468.2,468.2 467.7,470.6 466.8,473.0M469.4,458.6 469.0,458.5M460.6,394.4 461.4,396.5 461.5,398.8 461.7,400.9 461.0,403.3 462.2,405.3 461.9,407.6 462.7,409.7 463.6,411.9 462.7,414.2 463.8,416.3 464.1,418.5 464.0,420.7 464.5,422.9 464.7,425.1 464.8,427.3 465.4,429.5 464.8,431.8 465.6,433.9 465.1,436.2 466.4,438.2 466.5,440.4 467.1,442.6 466.0,445.0 467.9,447.0 466.7,449.3 468.4,451.4 468.3,453.6 468.9,455.7 468.4,458.0M467.6,458.5 468.4,458.0M468.4,458.0 469.0,458.5M453.1,472.8 450.4,471.5M453.1,472.8 454.9,470.2 455.2,467.1M450.4,471.5 451.0,469.0 451.4,466.4M445.5,469.9 447.1,468.4 448.5,466.6 450.2,465.0M445.5,469.9 443.9,467.5 443.5,464.6M445.0,461.3 448.0,461.6M448.0,461.6 449.5,462.7M449.5,462.7 450.2,465.0M445.4,472.4 447.8,471.4 450.4,471.5M445.4,472.4 445.5,469.9M451.4,466.4 450.2,465.0M443.6,474.6 445.4,472.4M440.0,453.9 440.8,456.1 442.2,457.8 443.4,459.7 445.0,461.3M453.4,451.9 452.1,453.7 451.6,456.0 450.5,457.9 449.3,459.8 448.0,461.6M456.7,459.5 456.3,460.8M480.0,533.6 477.7,533.1 475.5,532.5M480.0,533.6 481.0,531.5 480.6,529.2M475.5,532.5 477.0,530.5 478.1,528.3M474.6,536.3 473.7,532.4M481.7,538.2 481.4,535.7 480.0,533.6M482.3,528.0 480.6,529.2M475.3,525.7 474.9,526.3M474.9,526.3 478.1,528.3M510.7,496.2 507.3,495.6M512.5,498.4 509.7,498.3 507.2,499.9 504.4,499.8M507.3,495.6 503.9,498.3M503.9,498.3 504.4,499.8M511.7,490.9 511.4,493.6 510.7,496.2M511.6,509.3 513.8,507.9 515.5,505.8 517.6,504.3M511.6,509.3 510.1,506.1M517.6,504.3 516.7,501.3 516.9,498.2M516.9,498.2 514.0,499.2M511.7,510.6 511.6,509.3M519.7,505.3 517.6,504.3M504.6,502.8 504.4,499.8M504.6,502.8 507.5,504.2 510.1,506.1M528.6,499.4 526.4,498.9 524.2,498.6 522.0,497.9 519.8,497.8 517.5,497.7M514.3,490.8 516.8,493.6M517.5,497.7 516.8,493.6M439.7,516.9 441.4,517.9M441.4,517.9 443.9,516.9 446.5,517.5M437.2,526.4 438.7,523.8 441.0,521.8M443.2,527.9 443.6,527.4M443.6,527.4 443.5,524.3M443.5,524.3 442.8,523.2M441.0,521.8 442.8,523.2M456.9,505.9 454.2,504.5M456.9,505.9 459.4,503.2M458.4,501.8 456.4,502.9 454.1,503.2M454.1,503.2 454.2,504.5M456.1,493.3 456.4,496.3 458.2,498.8 458.4,501.8M460.4,503.4 459.4,503.2M417.3,494.7 416.4,492.3 416.4,489.6 415.5,487.1M417.3,494.7 417.1,495.1M417.1,495.1 414.0,493.2M415.5,487.1 413.5,488.1M420.0,489.9 419.2,492.7 417.3,494.7M418.0,497.7 417.1,495.1M410.4,493.2 414.0,493.2M502.0,504.7 499.5,503.2 497.4,501.2 495.6,498.9M502.0,504.7 501.6,505.1M501.6,505.1 499.5,504.1 497.1,503.7 494.8,503.0M494.7,502.0 494.8,503.0M504.6,502.8 502.0,504.7M495.7,496.6 495.6,498.9M501.4,505.8 501.6,505.1M486.6,501.7 489.3,501.6 492.0,502.1 494.7,502.0M501.1,462.9 504.2,464.2M501.1,462.9 502.2,458.9M502.2,458.9 504.9,455.7M504.6,469.7 504.4,469.7M504.9,465.5 506.8,464.1 508.9,463.2 510.8,461.8M508.4,457.4 505.9,456.4M504.6,469.7 506.5,470.7M508.0,475.9 507.8,473.6 506.9,471.5M506.5,470.7 506.9,471.5M506.5,470.7 508.7,469.8 510.0,467.8 512.2,466.9 513.7,465.2M515.3,465.3 514.8,465.5M513.7,465.2 514.8,465.5M466.8,473.0 465.6,472.7M467.6,458.5 466.6,460.8 464.7,462.4 463.1,464.2 461.7,466.1M456.3,460.8 457.9,462.9 458.4,465.5M455.2,467.1 457.5,466.3M457.5,466.3 458.4,465.5M463.7,473.5 465.6,472.7M473.3,516.0 470.1,517.4M474.9,526.3 472.2,526.6 469.7,527.5M470.1,517.4 469.3,519.9 470.5,522.5 470.3,525.0 469.7,527.5M473.7,532.4 471.0,530.8 468.7,528.7M469.7,527.5 468.7,528.7M456.9,505.9 457.4,510.1M446.5,517.5 449.2,517.6M450.1,511.2 450.2,514.5 449.2,517.6M465.4,506.8 463.8,508.5 464.1,511.1 462.6,512.8M457.4,510.1 460.0,511.5 462.6,512.8M442.8,523.2 444.7,521.1 447.4,519.9 449.3,517.7M443.5,524.3 445.6,522.3 447.8,520.4 450.3,519.1M449.3,517.7 450.3,519.1M470.1,517.4 467.6,516.6 465.4,515.4 463.0,514.6M462.6,512.8 463.0,514.6M514.3,471.4 515.2,473.9M514.9,466.8 516.9,468.3 518.1,470.4 519.7,472.3 521.0,474.3M515.2,473.9 518.1,474.6 521.0,474.3M506.9,471.5 509.4,471.7 511.8,471.5 514.3,471.4M514.8,465.5 514.9,466.8M515.1,474.0 515.2,473.9M457.4,467.7 457.6,470.8 458.9,473.6M457.4,467.7 456.4,470.0 455.8,472.4 454.8,474.7M454.8,474.7 454.9,474.9M453.1,472.8 454.8,474.7M462.4,537.6 463.2,534.9M452.3,530.7 455.4,529.6 458.5,528.9M463.2,534.9 461.1,533.3 460.6,530.5 458.5,528.9M468.7,528.7 468.1,529.0M463.2,534.9 465.3,533.3 466.3,530.8 468.1,529.0M463.0,514.6 460.5,517.8M468.1,529.0 465.4,527.1 463.7,524.3M450.3,519.1 450.7,519.5M450.7,519.5 453.5,518.6 456.4,518.8 459.3,518.4M459.3,518.4 460.5,517.8M458.0,527.9 458.7,525.6M451.4,525.4 450.9,524.0M458.5,524.5 456.0,523.9 453.5,523.5 450.9,523.2M450.9,524.0 450.9,523.2M458.5,528.9 458.0,527.9M443.6,527.4 446.3,526.8 448.4,525.0 450.9,524.0M459.3,518.4 458.5,521.4 458.5,524.5M450.7,519.5 450.9,523.2" stroke="#a04c20" stroke-width="0.95" fill="none" stroke-linecap="round" stroke-linejoin="round" filter="url(#dblur)"/>
<path d="M417.4,537.6 416.3,536.7M433.6,535.5 431.5,537.0 430.9,539.6 429.1,541.4 427.2,543.0 425.5,544.8 424.5,547.1M433.6,535.5 435.7,536.6 438.2,536.7M438.2,536.7 438.2,536.7M438.2,536.7 437.0,538.6 435.5,540.3 434.5,542.4 432.1,543.4 431.0,545.5 430.2,547.7 428.8,549.5 426.4,550.5 425.4,552.6M422.7,541.7 424.2,539.2 425.1,536.4 427.2,534.3M430.7,531.3 432.5,533.1 433.6,535.5M443.1,536.9 443.8,540.1M443.1,536.9 442.7,536.8M442.7,536.8 440.4,536.8 438.2,536.7M417.4,537.6 419.5,539.6 422.1,541.0M420.4,464.6 420.2,461.8 421.3,459.3M420.4,464.6 418.0,463.6 415.5,462.5 413.3,461.0 410.7,460.4M411.9,458.4 414.2,458.1 416.4,458.7 418.6,459.0 420.9,458.8M420.2,456.7 420.9,458.8M421.0,470.0 420.9,470.1M410.6,460.4 412.2,462.0 413.8,463.6 414.6,465.9 416.3,467.4 417.8,469.1 419.7,470.4M430.7,531.3 431.7,527.7M432.4,527.2 431.7,527.7M422.1,541.0 421.5,538.4 422.8,535.8 422.7,533.2 422.1,530.6M427.2,534.3 425.5,531.8M422.1,530.6 425.5,531.8M417.4,471.0 415.2,469.9 412.7,469.6 410.3,469.2 408.0,467.9 405.3,468.5 402.9,468.0 400.7,466.7M511.9,532.2 511.2,534.4 510.4,536.5 510.7,538.9 509.9,541.1 509.8,543.4 509.8,545.7 508.3,547.7 508.3,550.1 507.8,552.3M511.9,532.2 514.6,532.9 517.3,533.8M517.3,533.9 517.3,533.8M517.3,533.9 516.9,536.3 515.9,538.4 514.5,540.3 513.1,542.3 511.9,544.3 511.2,546.5 510.4,548.8 508.3,550.3 507.9,552.7M511.3,531.6 509.2,532.4 506.9,532.4M511.3,531.6 511.9,532.2M524.4,524.4 521.9,525.1 519.4,525.9 516.7,525.6 514.1,526.0 511.7,527.2M524.4,524.4 522.8,526.2 521.9,528.4 519.5,529.6 518.9,532.1 517.3,533.8M511.7,527.2 512.2,529.5 511.3,531.6M417.4,471.0 415.9,473.9M408.5,485.6 410.8,484.2 413.4,483.3 415.8,482.2M415.8,482.2 415.7,481.9M441.3,509.1 441.6,509.3M447.8,506.2 445.8,503.9 444.3,501.2M447.8,506.2 448.3,508.4M448.3,508.4 446.0,508.6 443.7,508.4 441.6,509.3M450.8,488.7 449.6,488.4M450.8,488.7 449.3,490.6 447.0,491.4 445.4,493.2M445.4,493.2 444.4,491.2 443.6,489.0M447.8,506.2 448.8,503.7 450.7,501.8 452.3,499.7M444.3,501.2 444.2,498.1M452.4,496.6 452.3,499.7M452.4,496.6 450.1,496.5 447.9,497.4 445.6,497.2M441.3,509.1 438.4,508.7 435.6,509.3M435.6,509.3 434.7,508.9M434.3,494.0 437.4,494.9 440.0,496.8M434.3,494.0 435.1,496.4 434.2,499.0 434.6,501.5M440.0,496.8 440.2,496.8M440.2,496.8 444.2,498.1M480.8,519.6 478.3,518.5 475.7,517.6M480.8,519.6 480.2,522.2M480.2,522.2 477.8,524.0 475.3,525.7M488.2,523.8 488.9,526.1 490.8,527.6M488.2,523.8 486.1,524.8 484.5,526.5 482.5,527.6M487.9,531.9 489.0,529.6 490.8,527.6M487.6,532.1 486.2,530.3 483.9,529.6 482.3,528.0M482.5,527.6 482.3,528.0M472.5,540.9 475.3,539.8 477.8,538.3M468.8,538.8 471.4,536.9 474.6,536.3M486.1,535.7 483.6,536.3 481.7,538.2M486.1,535.7 488.0,536.9 489.9,537.9 492.0,538.6M481.4,538.8 481.7,538.2M509.1,522.1 510.5,524.3 511.4,526.8M509.1,522.1 507.1,521.0M511.4,526.8 509.0,526.8 506.9,528.1 504.7,528.6 502.4,529.1M507.1,521.0 505.8,523.0 504.1,524.7 502.5,526.5 501.0,528.4M502.4,529.1 501.0,528.5M501.0,528.4 501.0,528.5M523.8,517.4 521.6,519.0 518.7,518.4 516.5,520.1 514.0,520.6 511.3,520.5 509.1,522.1M506.9,532.4 505.0,530.3 502.4,529.1M499.7,529.8 500.1,532.2 502.0,533.8 502.8,535.9 503.9,538.0 505.2,539.9M499.7,529.8 501.0,528.5M505.2,515.8 507.6,514.3 509.1,511.8 511.7,510.6M505.2,515.8 506.7,518.2 507.1,521.0M511.7,510.6 513.8,511.5 515.7,512.7 517.6,513.8 519.5,514.8 521.6,515.7M505.2,515.8 503.0,515.2M499.6,515.8 499.7,518.6 498.6,521.2 498.1,523.9M498.1,523.9 499.7,526.1 501.0,528.4M489.9,532.8 491.8,535.1 493.3,537.7M493.3,537.7 496.2,536.1M486.1,535.7 487.6,532.1M487.9,531.9 489.9,532.8M490.8,527.6 493.0,528.9 495.7,529.4 497.5,531.2M434.3,527.2 436.0,526.6M433.6,517.2 435.4,519.7 436.3,522.6M444.4,535.2 447.3,535.1M444.7,532.4 447.2,531.4 449.1,529.5 451.1,527.6M447.3,535.1 450.2,534.2 452.5,532.2M451.1,527.6 452.3,530.7M425.5,531.8 424.5,527.5M431.1,527.6 427.8,527.7 424.5,527.5M437.7,516.3 433.6,517.2M437.7,516.3 436.8,514.0 436.1,511.7 435.6,509.3M430.1,517.0 429.9,516.8M431.1,527.6 428.9,525.7 427.0,523.6M473.6,491.0 474.8,488.5 475.7,485.9 476.8,483.4M450.8,488.7 454.0,488.5 457.1,489.1M457.1,489.1 457.5,491.2M452.4,496.6 454.6,495.4 456.1,493.3M445.4,493.2 445.6,497.2M457.5,491.2 456.1,493.3M467.7,505.2 467.3,502.8 467.8,500.5M467.7,505.2 465.4,506.8M467.8,500.5 466.0,498.0 464.6,495.2M464.6,495.2 464.2,497.6 462.2,499.2 461.7,501.5 460.4,503.4M465.4,506.8 463.0,505.1 460.4,503.4M440.5,493.8 441.8,491.3 443.3,488.9M440.5,493.8 439.3,491.4 438.0,489.0 436.7,486.6M443.3,488.9 441.9,487.0M440.2,496.8 440.5,493.8M436.2,486.5 437.7,484.2 439.3,482.0 441.4,480.2M443.9,484.1 441.9,487.0M421.0,501.5 421.6,501.9M421.6,501.9 421.5,504.3 423.0,506.4 423.2,508.8M415.6,509.2 418.1,508.4 420.6,509.2 423.2,508.8M423.8,509.3 423.2,508.8M427.9,505.7 425.6,502.4M430.2,512.9 427.2,511.5 425.0,509.1M422.0,474.7 421.4,477.1 421.4,479.5M421.4,479.5 423.8,479.8 426.2,480.2M426.5,478.1 426.2,480.2M420.8,482.0 424.3,484.6M420.8,482.0 417.4,483.2M417.4,483.2 416.9,486.0M416.9,486.0 417.9,488.5 420.0,489.9M421.7,489.0 420.5,489.8M420.5,489.8 420.0,489.9M421.4,479.5 420.8,482.0M426.9,484.8 426.8,482.5 426.2,480.2M432.2,486.6 429.4,486.4 426.9,484.8M429.5,493.5 425.7,494.6M490.8,527.6 492.3,525.6 494.6,524.3M494.6,524.3 495.8,523.6M480.8,519.6 483.7,518.3M475.7,517.6 475.0,517.1M494.6,524.3 492.8,522.7 490.4,522.0 488.8,520.2M488.8,520.2 489.0,520.1M484.0,486.4 483.7,486.4M473.6,491.0 473.6,491.1M476.8,492.6 473.6,491.1M466.2,494.0 464.5,494.9M464.5,494.9 464.6,495.2M472.5,491.9 473.2,495.1 473.7,498.4M517.3,449.2 517.6,452.0 516.8,454.7 516.5,457.4M516.5,457.4 516.6,457.4M519.7,459.4 516.6,457.4M486.8,485.3 488.4,486.0M486.8,485.3 486.5,482.7M494.5,482.9 493.7,485.2M484.0,486.4 486.8,485.3M505.5,482.4 506.2,481.1M505.5,482.4 503.8,484.3 501.3,484.8 499.4,486.5 497.2,487.5M497.2,487.5 493.7,485.2M480.1,467.4 481.4,464.0M480.1,467.4 478.4,466.0 476.7,464.6M476.7,464.6 476.9,462.8M476.9,462.8 480.9,463.3M481.4,464.0 480.9,463.3M481.4,473.0 484.1,472.0 486.5,470.4 489.2,469.3M486.5,466.7 489.2,469.3M486.5,466.7 483.7,465.8 481.4,464.0M479.4,473.9 477.2,472.5 474.6,472.4M474.6,472.4 474.6,468.5M489.2,469.3 490.0,469.3M484.2,460.2 487.9,458.3M490.0,469.3 490.6,468.5M491.2,473.4 491.4,471.9M490.0,469.3 491.4,471.9M497.2,479.8 497.2,477.2 497.5,474.6M491.7,467.4 490.6,468.5M491.7,467.4 491.0,464.6 492.0,461.7 491.4,458.8M487.9,458.3 488.8,456.1M490.6,468.5 490.6,468.5M505.2,480.6 502.8,478.9 500.9,476.6 499.2,474.3M497.5,474.6 499.2,474.3M426.0,457.1 428.4,456.1 430.2,454.4 432.4,453.1 433.8,450.9 435.4,448.8 437.9,447.9M457.7,375.2 457.3,377.5 458.1,379.7 457.5,382.0 457.8,384.2 457.3,386.5 457.5,388.7 458.7,391.0 458.0,393.2 458.3,395.5 457.8,397.8 458.6,400.0 458.5,402.3 458.2,404.5 459.2,406.8 458.7,409.0 458.3,411.3 458.4,413.5 458.6,415.8 458.7,418.1 459.0,420.3 458.5,422.6 459.1,424.8 459.6,427.1 459.3,429.3 459.5,431.6 460.0,433.8 459.9,436.1 459.7,438.3 459.2,440.6 459.0,442.9 460.4,445.1 460.4,447.3 459.6,449.6 459.9,451.9 459.6,454.1 460.3,456.4 460.1,458.6M453.4,451.9 454.4,454.5 455.9,456.8 456.7,459.5M456.7,459.5 460.1,458.6M445.7,483.8 448.7,481.3M443.7,475.0 442.8,477.3 442.3,479.7M443.7,475.0 446.7,477.3M468.8,480.6 466.7,481.7 465.2,483.7M468.2,487.6 471.3,488.7M468.7,474.3 471.4,472.7 474.6,472.4M468.7,474.3 468.7,477.4 468.8,480.6M457.1,489.1 457.5,487.0M466.2,494.0 466.3,491.7 467.4,489.7 468.2,487.6M457.5,487.0 459.9,485.4 462.5,484.5 465.2,483.7M457.5,491.2 460.0,492.1 462.5,492.9 464.5,494.9M472.5,491.9 473.0,491.3M448.7,481.3 451.1,482.5 453.8,483.1 456.2,484.3M454.7,476.1 455.4,478.8 455.7,481.6 456.2,484.3M457.5,487.0 456.8,485.2M511.2,490.7 511.7,490.9M511.7,490.9 514.3,490.8M514.3,490.8 515.4,487.9M507.3,480.5 506.2,481.1M506.8,489.5 508.8,490.7M508.8,490.7 511.2,490.7M437.7,516.3 439.5,516.7M441.6,509.3 441.5,509.9M441.5,509.9 440.2,512.0 440.5,514.6 439.5,516.7M439.5,516.7 439.7,516.9M427.0,523.6 422.8,522.3M423.8,509.3 423.5,512.1 422.4,514.6M426.3,517.3 424.6,515.6 422.4,514.6M412.2,511.6 415.2,513.4M419.4,515.0 422.4,514.6M419.0,527.4 414.7,527.5M419.0,527.4 420.7,526.3M417.5,521.9 414.7,521.2 411.9,521.6M414.7,527.5 413.5,524.4 411.9,521.6M411.3,530.5 413.5,529.5 414.7,527.5M421.1,526.6 420.7,526.3M422.8,522.3 420.8,523.8M473.8,514.0 473.7,514.7M472.8,506.9 473.4,509.2 473.8,511.6 473.8,514.0M475.0,517.1 473.3,516.0M473.3,516.0 473.7,514.7M483.7,512.1 483.7,512.0M437.7,475.3 437.2,477.7 437.3,480.1M432.4,475.5 433.7,474.7M432.4,475.5 431.5,478.3M431.5,478.3 432.6,480.9 431.7,483.7 432.5,486.4M437.3,480.1 435.7,482.1 433.6,483.8 432.7,486.3M442.3,474.2 443.6,474.6M441.4,480.2 437.3,480.1M434.0,471.3 434.2,468.9 435.8,466.9M438.5,468.0 435.8,466.9M425.1,471.0 427.9,470.3 430.8,469.7M430.8,469.7 434.0,471.3M421.0,470.0 422.1,469.9M436.2,486.5 432.7,486.3M434.3,494.0 431.1,491.7M433.9,501.5 431.7,503.5M431.7,503.5 430.1,501.6 428.1,500.3M429.6,496.6 428.1,500.3M429.5,493.5 429.6,496.6M419.4,498.4 421.0,501.5M418.0,497.7 415.8,498.4 414.0,500.0M497.4,495.4 497.5,492.7 498.1,490.2M497.2,487.5 498.1,490.2M489.5,492.5 490.8,494.8 492.9,496.2M497.4,495.4 495.7,496.6M500.3,515.6 499.6,512.9 499.6,509.9 498.2,507.3M485.7,505.0 488.2,505.8 490.8,506.5 493.5,506.3M478.7,502.1 478.1,500.4M478.1,500.4 478.7,498.2 479.4,496.1M485.2,503.9 486.6,501.7M479.4,496.1 482.8,494.4M487.0,500.4 486.6,501.7M487.0,500.4 486.1,498.1 485.2,495.8M467.7,505.2 470.2,506.2 472.8,506.9M476.0,505.3 478.7,502.1M473.7,498.4 475.8,499.7 478.1,500.4M489.5,492.5 487.4,494.3 485.2,495.8M492.9,496.2 491.1,497.9 489.1,499.2 487.0,500.4M511.9,481.7 514.2,480.8M514.2,480.8 514.7,478.5 514.7,476.2 515.1,474.0M519.2,486.1 515.4,487.9M514.2,480.8 518.2,480.8M481.4,455.4 480.6,457.2M469.4,458.6 471.6,456.9 474.0,455.5 476.6,454.7M483.0,460.1 480.6,457.2M516.5,457.4 514.3,457.7 512.0,458.1 510.1,459.4M499.0,463.5 500.6,465.8 502.6,467.6 504.4,469.7M496.0,463.7 496.1,463.6M496.0,463.7 498.4,465.3 499.8,467.8 502.0,469.6M502.0,469.6 503.1,470.1M503.1,470.1 504.4,469.7M496.9,460.5 496.1,463.6M499.2,474.3 501.3,472.3 503.1,470.1M516.6,457.4 516.9,460.2 515.8,462.7 515.3,465.3M515.3,465.3 518.4,464.9M437.5,457.9 434.7,458.1 432.0,459.6 429.1,459.4M437.5,457.9 436.3,460.5 435.4,463.2M434.4,464.6 433.3,464.5M440.0,453.9 439.2,456.2 437.5,457.9M437.9,447.9 436.1,449.5 435.2,451.9 433.7,453.8 432.2,455.7 430.5,457.4 429.1,459.4M430.8,469.7 432.3,467.2 433.3,464.5M435.8,466.9 434.4,464.6M468.7,474.3 466.8,473.0M460.6,394.4 461.4,396.5 461.5,398.8 461.7,400.9 461.0,403.3 462.2,405.3 461.9,407.6 462.7,409.7 463.6,411.9 462.7,414.2 463.8,416.3 464.1,418.5 464.0,420.7 464.5,422.9 464.7,425.1 464.8,427.3 465.4,429.5 464.8,431.8 465.6,433.9 465.1,436.2 466.4,438.2 466.5,440.4 467.1,442.6 466.0,445.0 467.9,447.0 466.7,449.3 468.4,451.4 468.3,453.6 468.9,455.7 468.4,458.0M467.6,458.5 468.4,458.0M453.1,472.8 450.4,471.5M453.1,472.8 454.9,470.2 455.2,467.1M450.4,471.5 451.0,469.0 451.4,466.4M445.5,469.9 447.1,468.4 448.5,466.6 450.2,465.0M448.0,461.6 449.5,462.7M449.5,462.7 450.2,465.0M445.4,472.4 447.8,471.4 450.4,471.5M445.4,472.4 445.5,469.9M451.4,466.4 450.2,465.0M443.6,474.6 445.4,472.4M440.0,453.9 440.8,456.1 442.2,457.8 443.4,459.7 445.0,461.3M453.4,451.9 452.1,453.7 451.6,456.0 450.5,457.9 449.3,459.8 448.0,461.6M456.7,459.5 456.3,460.8M480.0,533.6 477.7,533.1 475.5,532.5M475.5,532.5 477.0,530.5 478.1,528.3M474.6,536.3 473.7,532.4M481.7,538.2 481.4,535.7 480.0,533.6M482.3,528.0 480.6,529.2M510.7,496.2 507.3,495.6M511.6,509.3 513.8,507.9 515.5,505.8 517.6,504.3M517.6,504.3 516.7,501.3 516.9,498.2M516.9,498.2 514.0,499.2M511.7,510.6 511.6,509.3M504.6,502.8 504.4,499.8M504.6,502.8 507.5,504.2 510.1,506.1M528.6,499.4 526.4,498.9 524.2,498.6 522.0,497.9 519.8,497.8 517.5,497.7M517.5,497.7 516.8,493.6M441.4,517.9 443.9,516.9 446.5,517.5M443.2,527.9 443.6,527.4M443.6,527.4 443.5,524.3M443.5,524.3 442.8,523.2M441.0,521.8 442.8,523.2M456.9,505.9 454.2,504.5M458.4,501.8 456.4,502.9 454.1,503.2M454.1,503.2 454.2,504.5M460.4,503.4 459.4,503.2M417.3,494.7 417.1,495.1M415.5,487.1 413.5,488.1M420.0,489.9 419.2,492.7 417.3,494.7M418.0,497.7 417.1,495.1M410.4,493.2 414.0,493.2M502.0,504.7 499.5,503.2 497.4,501.2 495.6,498.9M501.6,505.1 499.5,504.1 497.1,503.7 494.8,503.0M504.6,502.8 502.0,504.7M495.7,496.6 495.6,498.9M501.1,462.9 502.2,458.9M504.6,469.7 504.4,469.7M504.9,465.5 506.8,464.1 508.9,463.2 510.8,461.8M508.4,457.4 505.9,456.4M508.0,475.9 507.8,473.6 506.9,471.5M506.5,470.7 506.9,471.5M506.5,470.7 508.7,469.8 510.0,467.8 512.2,466.9 513.7,465.2M515.3,465.3 514.8,465.5M513.7,465.2 514.8,465.5M466.8,473.0 465.6,472.7M455.2,467.1 457.5,466.3M457.5,466.3 458.4,465.5M473.3,516.0 470.1,517.4M474.9,526.3 472.2,526.6 469.7,527.5M473.7,532.4 471.0,530.8 468.7,528.7M456.9,505.9 457.4,510.1M446.5,517.5 449.2,517.6M450.1,511.2 450.2,514.5 449.2,517.6M465.4,506.8 463.8,508.5 464.1,511.1 462.6,512.8M457.4,510.1 460.0,511.5 462.6,512.8M442.8,523.2 444.7,521.1 447.4,519.9 449.3,517.7M443.5,524.3 445.6,522.3 447.8,520.4 450.3,519.1M449.3,517.7 450.3,519.1M470.1,517.4 467.6,516.6 465.4,515.4 463.0,514.6M462.6,512.8 463.0,514.6M514.3,471.4 515.2,473.9M514.9,466.8 516.9,468.3 518.1,470.4 519.7,472.3 521.0,474.3M515.2,473.9 518.1,474.6 521.0,474.3M506.9,471.5 509.4,471.7 511.8,471.5 514.3,471.4M515.1,474.0 515.2,473.9M457.4,467.7 457.6,470.8 458.9,473.6M457.4,467.7 456.4,470.0 455.8,472.4 454.8,474.7M453.1,472.8 454.8,474.7M462.4,537.6 463.2,534.9M463.2,534.9 461.1,533.3 460.6,530.5 458.5,528.9M468.7,528.7 468.1,529.0M468.1,529.0 465.4,527.1 463.7,524.3M459.3,518.4 460.5,517.8M458.0,527.9 458.7,525.6M451.4,525.4 450.9,524.0M458.5,524.5 456.0,523.9 453.5,523.5 450.9,523.2M458.5,528.9 458.0,527.9M450.7,519.5 450.9,523.2" stroke="#f8c098" stroke-width="0.65" fill="none" stroke-linecap="round" stroke-dasharray="1.2 0.9" opacity="0.9"/>
<circle cx="464.0" cy="516.1" r="13" fill="#050302" opacity="0.95" filter="url(#dblur)"/>
<circle cx="482.0" cy="526.1" r="9" fill="#050302" opacity="0.9" filter="url(#dblur)"/>
<circle cx="440.0" cy="476.1" r="5" fill="#050302" opacity="0.6" filter="url(#dblur)"/>
<circle cx="498.0" cy="492.1" r="6" fill="#050302" opacity="0.6" filter="url(#dblur)"/>
<circle cx="428.0" cy="524.1" r="6" fill="#050302" opacity="0.6" filter="url(#dblur)"/>
<circle cx="493.0" cy="514.1" r="6" fill="#050302" opacity="0.7" filter="url(#dblur)"/>
<text x="487.6" y="530.7" font-size="8.6" font-weight="bold" fill="#fff" textLength="21.5" lengthAdjust="spacingAndGlyphs">200X</text>
</g>
<rect x="62.95" y="373.40" width="9.7" height="43.80" fill="#d8877c"/>
<rect x="79.35" y="348.87" width="9.7" height="68.33" fill="#8a93c0"/>
<rect x="95.75" y="373.40" width="9.7" height="43.80" fill="#b6d59b"/>
<rect x="112.15" y="369.02" width="9.7" height="48.18" fill="#9b84ad"/>
<rect x="128.55" y="365.95" width="9.7" height="51.25" fill="#f1c589"/>
<circle cx="67.80" cy="373.40" r="1.75" fill="#a8123a"/>
<circle cx="65.20" cy="372.52" r="1.75" fill="#a8123a"/>
<circle cx="70.40" cy="374.28" r="1.75" fill="#a8123a"/>
<circle cx="65.20" cy="372.96" r="1.75" fill="#a8123a"/>
<circle cx="70.40" cy="373.84" r="1.75" fill="#a8123a"/>
<circle cx="67.80" cy="372.09" r="1.75" fill="#a8123a"/>
<path d="M67.80,372.09V374.71M65.90,372.09H69.70M65.90,374.71H69.70" stroke="#231f20" stroke-width="0.9" fill="none"/>
<rect x="82.45" y="335.30" width="3.50" height="3.50" fill="#2b4d8c"/>
<rect x="79.85" y="345.37" width="3.50" height="3.50" fill="#2b4d8c"/>
<rect x="85.05" y="347.56" width="3.50" height="3.50" fill="#2b4d8c"/>
<rect x="79.85" y="349.75" width="3.50" height="3.50" fill="#2b4d8c"/>
<rect x="85.05" y="350.63" width="3.50" height="3.50" fill="#2b4d8c"/>
<rect x="82.45" y="346.25" width="3.50" height="3.50" fill="#2b4d8c"/>
<path d="M84.20,342.30V355.44M82.30,342.30H86.10M82.30,355.44H86.10" stroke="#231f20" stroke-width="0.9" fill="none"/>
<path d="M100.60,370.51L102.61,374.13L98.59,374.13Z" fill="#5ea33a"/>
<path d="M98.00,372.26L100.01,375.89L95.99,375.89Z" fill="#5ea33a"/>
<path d="M103.20,371.39L105.21,375.01L101.19,375.01Z" fill="#5ea33a"/>
<path d="M98.00,370.95L100.01,374.57L95.99,374.57Z" fill="#5ea33a"/>
<path d="M103.20,371.83L105.21,375.45L101.19,375.45Z" fill="#5ea33a"/>
<path d="M100.60,371.65V375.15M98.70,371.65H102.50M98.70,375.15H102.50" stroke="#231f20" stroke-width="0.9" fill="none"/>
<path d="M117.00,364.90L119.01,361.28L114.99,361.28Z" fill="#4b1d6b"/>
<path d="M114.40,371.03L116.41,367.41L112.39,367.41Z" fill="#4b1d6b"/>
<path d="M119.60,371.91L121.61,368.29L117.59,368.29Z" fill="#4b1d6b"/>
<path d="M114.40,373.22L116.41,369.60L112.39,369.60Z" fill="#4b1d6b"/>
<path d="M119.60,370.16L121.61,366.53L117.59,366.53Z" fill="#4b1d6b"/>
<path d="M117.00,366.39V371.65M115.10,366.39H118.90M115.10,371.65H118.90" stroke="#231f20" stroke-width="0.9" fill="none"/>
<path d="M133.40,360.79L135.50,362.89L133.40,364.99L131.30,362.89Z" fill="#e8901c"/>
<path d="M130.80,361.66L132.90,363.76L130.80,365.86L128.70,363.76Z" fill="#e8901c"/>
<path d="M136.00,366.04L138.10,368.14L136.00,370.24L133.90,368.14Z" fill="#e8901c"/>
<path d="M130.80,366.04L132.90,368.14L130.80,370.24L128.70,368.14Z" fill="#e8901c"/>
<path d="M136.00,363.42L138.10,365.52L136.00,367.62L133.90,365.52Z" fill="#e8901c"/>
<path d="M133.40,362.89V369.02M131.50,362.89H135.30M131.50,369.02H135.30" stroke="#231f20" stroke-width="0.9" fill="none"/>
<line x1="59.40" y1="328.10" x2="59.40" y2="417.70" stroke="#231f20" stroke-width="1.1"/>
<line x1="58.90" y1="417.20" x2="141.40" y2="417.20" stroke="#231f20" stroke-width="1.1"/>
<line x1="55.90" y1="417.20" x2="59.40" y2="417.20" stroke="#231f20" stroke-width="1"/>
<text x="53.20" y="420.60" font-size="8.3" text-anchor="end" font-weight="normal" fill="#231f20" stroke="#231f20" stroke-width="0.22" >0.0</text>
<line x1="55.90" y1="395.30" x2="59.40" y2="395.30" stroke="#231f20" stroke-width="1"/>
<text x="53.20" y="398.70" font-size="8.3" text-anchor="end" font-weight="normal" fill="#231f20" stroke="#231f20" stroke-width="0.22" >0.5</text>
<line x1="55.90" y1="373.40" x2="59.40" y2="373.40" stroke="#231f20" stroke-width="1"/>
<text x="53.20" y="376.80" font-size="8.3" text-anchor="end" font-weight="normal" fill="#231f20" stroke="#231f20" stroke-width="0.22" >1.0</text>
<line x1="55.90" y1="351.50" x2="59.40" y2="351.50" stroke="#231f20" stroke-width="1"/>
<text x="53.20" y="354.90" font-size="8.3" text-anchor="end" font-weight="normal" fill="#231f20" stroke="#231f20" stroke-width="0.22" >1.5</text>
<line x1="55.90" y1="329.60" x2="59.40" y2="329.60" stroke="#231f20" stroke-width="1"/>
<text x="53.20" y="333.00" font-size="8.3" text-anchor="end" font-weight="normal" fill="#231f20" stroke="#231f20" stroke-width="0.22" >2.0</text>
<line x1="67.80" y1="417.20" x2="67.80" y2="420.50" stroke="#231f20" stroke-width="1"/>
<line x1="84.20" y1="417.20" x2="84.20" y2="420.50" stroke="#231f20" stroke-width="1"/>
<line x1="100.60" y1="417.20" x2="100.60" y2="420.50" stroke="#231f20" stroke-width="1"/>
<line x1="117.00" y1="417.20" x2="117.00" y2="420.50" stroke="#231f20" stroke-width="1"/>
<line x1="133.40" y1="417.20" x2="133.40" y2="420.50" stroke="#231f20" stroke-width="1"/>
<path d="M84.20,334.30V332.30H100.60V334.30" stroke="#231f20" stroke-width="0.9" fill="none"/>
<text x="92.75" y="332.60" font-size="7.6" text-anchor="middle" letter-spacing="0.7" fill="#231f20" stroke="#231f20" stroke-width="0.25">***</text>
<path d="M84.20,325.80V323.80H117.00V325.80" stroke="#231f20" stroke-width="0.9" fill="none"/>
<text x="100.95" y="324.10" font-size="7.6" text-anchor="middle" letter-spacing="0.7" fill="#231f20" stroke="#231f20" stroke-width="0.25">***</text>
<path d="M84.20,317.60V315.60H133.40V317.60" stroke="#231f20" stroke-width="0.9" fill="none"/>
<text x="109.15" y="315.90" font-size="7.6" text-anchor="middle" letter-spacing="0.7" fill="#231f20" stroke="#231f20" stroke-width="0.25">***</text>
<text transform="translate(25.60,372.30) rotate(-90) scale(0.8588,1)" x="0" y="0" font-size="9" text-anchor="middle" fill="#231f20" stroke="#231f20" stroke-width="0.22">x-fold change of</text>
<text transform="translate(35.90,372.30) rotate(-90) scale(0.8589,1)" x="0" y="0" font-size="9" text-anchor="middle" fill="#231f20" stroke="#231f20" stroke-width="0.22">dermal thickness</text>
<rect x="198.05" y="373.59" width="9.7" height="43.51" fill="#d8877c"/>
<rect x="214.45" y="352.72" width="9.7" height="64.38" fill="#8a93c0"/>
<rect x="230.85" y="371.81" width="9.7" height="45.29" fill="#b6d59b"/>
<rect x="247.25" y="370.48" width="9.7" height="46.62" fill="#9b84ad"/>
<rect x="263.65" y="376.25" width="9.7" height="40.85" fill="#f1c589"/>
<circle cx="202.90" cy="364.71" r="1.75" fill="#a8123a"/>
<circle cx="200.30" cy="368.26" r="1.75" fill="#a8123a"/>
<circle cx="205.50" cy="374.92" r="1.75" fill="#a8123a"/>
<circle cx="200.30" cy="378.03" r="1.75" fill="#a8123a"/>
<circle cx="205.50" cy="379.36" r="1.75" fill="#a8123a"/>
<circle cx="202.90" cy="372.70" r="1.75" fill="#a8123a"/>
<path d="M202.90,366.93V380.25M201.00,366.93H204.80M201.00,380.25H204.80" stroke="#231f20" stroke-width="0.9" fill="none"/>
<rect x="217.55" y="333.21" width="3.50" height="3.50" fill="#2b4d8c"/>
<rect x="214.95" y="339.87" width="3.50" height="3.50" fill="#2b4d8c"/>
<rect x="220.15" y="352.30" width="3.50" height="3.50" fill="#2b4d8c"/>
<rect x="214.95" y="355.41" width="3.50" height="3.50" fill="#2b4d8c"/>
<rect x="220.15" y="358.52" width="3.50" height="3.50" fill="#2b4d8c"/>
<rect x="217.55" y="359.85" width="3.50" height="3.50" fill="#2b4d8c"/>
<path d="M219.30,342.95V362.49M217.40,342.95H221.20M217.40,362.49H221.20" stroke="#231f20" stroke-width="0.9" fill="none"/>
<path d="M235.70,350.71L237.71,354.33L233.69,354.33Z" fill="#5ea33a"/>
<path d="M233.10,368.47L235.11,372.09L231.09,372.09Z" fill="#5ea33a"/>
<path d="M238.30,371.58L240.31,375.20L236.29,375.20Z" fill="#5ea33a"/>
<path d="M233.10,372.91L235.11,376.53L231.09,376.53Z" fill="#5ea33a"/>
<path d="M238.30,376.02L240.31,379.64L236.29,379.64Z" fill="#5ea33a"/>
<path d="M235.70,377.35L237.71,380.97L233.69,380.97Z" fill="#5ea33a"/>
<path d="M235.70,361.60V382.02M233.80,361.60H237.60M233.80,382.02H237.60" stroke="#231f20" stroke-width="0.9" fill="none"/>
<path d="M252.10,361.39L254.11,357.77L250.09,357.77Z" fill="#4b1d6b"/>
<path d="M249.50,368.05L251.51,364.43L247.49,364.43Z" fill="#4b1d6b"/>
<path d="M254.70,372.49L256.71,368.87L252.69,368.87Z" fill="#4b1d6b"/>
<path d="M249.50,374.71L251.51,371.09L247.49,371.09Z" fill="#4b1d6b"/>
<path d="M254.70,376.93L256.71,373.31L252.69,373.31Z" fill="#4b1d6b"/>
<path d="M252.10,379.15L254.11,375.53L250.09,375.53Z" fill="#4b1d6b"/>
<path d="M252.10,363.82V377.14M250.20,363.82H254.00M250.20,377.14H254.00" stroke="#231f20" stroke-width="0.9" fill="none"/>
<path d="M268.50,371.04L270.60,373.14L268.50,375.24L266.40,373.14Z" fill="#e8901c"/>
<path d="M265.90,371.49L268.00,373.59L265.90,375.69L263.80,373.59Z" fill="#e8901c"/>
<path d="M271.10,374.15L273.20,376.25L271.10,378.35L269.00,376.25Z" fill="#e8901c"/>
<path d="M265.90,375.04L268.00,377.14L265.90,379.24L263.80,377.14Z" fill="#e8901c"/>
<path d="M271.10,375.93L273.20,378.03L271.10,380.13L269.00,378.03Z" fill="#e8901c"/>
<path d="M268.50,374.03V378.47M266.60,374.03H270.40M266.60,378.47H270.40" stroke="#231f20" stroke-width="0.9" fill="none"/>
<line x1="194.30" y1="326.80" x2="194.30" y2="417.60" stroke="#231f20" stroke-width="1.1"/>
<line x1="193.80" y1="417.10" x2="276.50" y2="417.10" stroke="#231f20" stroke-width="1.1"/>
<line x1="190.80" y1="417.10" x2="194.30" y2="417.10" stroke="#231f20" stroke-width="1"/>
<text x="188.10" y="420.50" font-size="8.3" text-anchor="end" font-weight="normal" fill="#231f20" stroke="#231f20" stroke-width="0.22" >0.0</text>
<line x1="190.80" y1="394.90" x2="194.30" y2="394.90" stroke="#231f20" stroke-width="1"/>
<text x="188.10" y="398.30" font-size="8.3" text-anchor="end" font-weight="normal" fill="#231f20" stroke="#231f20" stroke-width="0.22" >0.5</text>
<line x1="190.80" y1="372.70" x2="194.30" y2="372.70" stroke="#231f20" stroke-width="1"/>
<text x="188.10" y="376.10" font-size="8.3" text-anchor="end" font-weight="normal" fill="#231f20" stroke="#231f20" stroke-width="0.22" >1.0</text>
<line x1="190.80" y1="350.50" x2="194.30" y2="350.50" stroke="#231f20" stroke-width="1"/>
<text x="188.10" y="353.90" font-size="8.3" text-anchor="end" font-weight="normal" fill="#231f20" stroke="#231f20" stroke-width="0.22" >1.5</text>
<line x1="190.80" y1="328.30" x2="194.30" y2="328.30" stroke="#231f20" stroke-width="1"/>
<text x="188.10" y="331.70" font-size="8.3" text-anchor="end" font-weight="normal" fill="#231f20" stroke="#231f20" stroke-width="0.22" >2.0</text>
<line x1="202.90" y1="417.10" x2="202.90" y2="420.40" stroke="#231f20" stroke-width="1"/>
<line x1="219.30" y1="417.10" x2="219.30" y2="420.40" stroke="#231f20" stroke-width="1"/>
<line x1="235.70" y1="417.10" x2="235.70" y2="420.40" stroke="#231f20" stroke-width="1"/>
<line x1="252.10" y1="417.10" x2="252.10" y2="420.40" stroke="#231f20" stroke-width="1"/>
<line x1="268.50" y1="417.10" x2="268.50" y2="420.40" stroke="#231f20" stroke-width="1"/>
<path d="M219.30,333.00V331.00H235.70V333.00" stroke="#231f20" stroke-width="0.9" fill="none"/>
<text x="227.85" y="331.30" font-size="7.6" text-anchor="middle" letter-spacing="0.7" fill="#231f20" stroke="#231f20" stroke-width="0.25">*</text>
<path d="M219.30,324.90V322.90H252.10V324.90" stroke="#231f20" stroke-width="0.9" fill="none"/>
<text x="236.05" y="323.20" font-size="7.6" text-anchor="middle" letter-spacing="0.7" fill="#231f20" stroke="#231f20" stroke-width="0.25">*</text>
<path d="M219.30,316.80V314.80H268.50V316.80" stroke="#231f20" stroke-width="0.9" fill="none"/>
<text x="244.25" y="315.10" font-size="7.6" text-anchor="middle" letter-spacing="0.7" fill="#231f20" stroke="#231f20" stroke-width="0.25">**</text>
<text transform="translate(160.60,372.30) rotate(-90) scale(0.8900,1)" x="0" y="0" font-size="9" text-anchor="middle" fill="#231f20" stroke="#231f20" stroke-width="0.22">x-fold change of</text>
<text transform="translate(171.20,372.30) rotate(-90) scale(0.8834,1)" x="0" y="0" font-size="9" text-anchor="middle" fill="#231f20" stroke="#231f20" stroke-width="0.22">hydroxyproline content</text>
<rect x="326.15" y="400.24" width="9.7" height="16.86" fill="#d8877c"/>
<rect x="342.75" y="359.48" width="9.7" height="57.62" fill="#8a93c0"/>
<rect x="359.15" y="390.44" width="9.7" height="26.66" fill="#b6d59b"/>
<rect x="375.75" y="393.02" width="9.7" height="24.08" fill="#9b84ad"/>
<rect x="392.15" y="384.08" width="9.7" height="33.02" fill="#f1c589"/>
<circle cx="331.00" cy="394.74" r="1.75" fill="#a8123a"/>
<circle cx="328.40" cy="398.18" r="1.75" fill="#a8123a"/>
<circle cx="333.60" cy="400.76" r="1.75" fill="#a8123a"/>
<circle cx="328.40" cy="404.20" r="1.75" fill="#a8123a"/>
<circle cx="333.60" cy="405.06" r="1.75" fill="#a8123a"/>
<path d="M331.00,395.94V404.54M329.10,395.94H332.90M329.10,404.54H332.90" stroke="#231f20" stroke-width="0.9" fill="none"/>
<rect x="345.85" y="346.55" width="3.50" height="3.50" fill="#2b4d8c"/>
<rect x="343.25" y="349.99" width="3.50" height="3.50" fill="#2b4d8c"/>
<rect x="348.45" y="356.87" width="3.50" height="3.50" fill="#2b4d8c"/>
<rect x="343.25" y="360.31" width="3.50" height="3.50" fill="#2b4d8c"/>
<rect x="348.45" y="367.19" width="3.50" height="3.50" fill="#2b4d8c"/>
<rect x="345.85" y="368.91" width="3.50" height="3.50" fill="#2b4d8c"/>
<path d="M347.60,350.88V368.08M345.70,350.88H349.50M345.70,368.08H349.50" stroke="#231f20" stroke-width="0.9" fill="none"/>
<path d="M364.00,381.55L366.01,385.17L361.99,385.17Z" fill="#5ea33a"/>
<path d="M361.40,385.85L363.41,389.47L359.39,389.47Z" fill="#5ea33a"/>
<path d="M366.60,389.29L368.61,392.91L364.59,392.91Z" fill="#5ea33a"/>
<path d="M361.40,390.15L363.41,393.77L359.39,393.77Z" fill="#5ea33a"/>
<path d="M366.60,391.01L368.61,394.63L364.59,394.63Z" fill="#5ea33a"/>
<path d="M364.00,385.28V395.60M362.10,385.28H365.90M362.10,395.60H365.90" stroke="#231f20" stroke-width="0.9" fill="none"/>
<path d="M380.60,387.29L382.61,383.67L378.59,383.67Z" fill="#4b1d6b"/>
<path d="M378.00,389.87L380.01,386.25L375.99,386.25Z" fill="#4b1d6b"/>
<path d="M383.20,395.03L385.21,391.41L381.19,391.41Z" fill="#4b1d6b"/>
<path d="M378.00,396.75L380.01,393.13L375.99,393.13Z" fill="#4b1d6b"/>
<path d="M383.20,399.33L385.21,395.71L381.19,395.71Z" fill="#4b1d6b"/>
<path d="M380.60,398.47L382.61,394.85L378.59,394.85Z" fill="#4b1d6b"/>
<path d="M380.60,387.86V398.18M378.70,387.86H382.50M378.70,398.18H382.50" stroke="#231f20" stroke-width="0.9" fill="none"/>
<path d="M397.00,377.16L399.10,379.26L397.00,381.36L394.90,379.26Z" fill="#e8901c"/>
<path d="M394.40,378.02L396.50,380.12L394.40,382.22L392.30,380.12Z" fill="#e8901c"/>
<path d="M399.60,381.46L401.70,383.56L399.60,385.66L397.50,383.56Z" fill="#e8901c"/>
<path d="M394.40,383.18L396.50,385.28L394.40,387.38L392.30,385.28Z" fill="#e8901c"/>
<path d="M399.60,384.90L401.70,387.00L399.60,389.10L397.50,387.00Z" fill="#e8901c"/>
<path d="M397.00,380.64V387.52M395.10,380.64H398.90M395.10,387.52H398.90" stroke="#231f20" stroke-width="0.9" fill="none"/>
<line x1="322.30" y1="329.60" x2="322.30" y2="417.60" stroke="#231f20" stroke-width="1.1"/>
<line x1="321.80" y1="417.10" x2="405.00" y2="417.10" stroke="#231f20" stroke-width="1.1"/>
<line x1="318.80" y1="417.10" x2="322.30" y2="417.10" stroke="#231f20" stroke-width="1"/>
<text x="316.10" y="420.50" font-size="8.3" text-anchor="end" font-weight="normal" fill="#231f20" stroke="#231f20" stroke-width="0.22" >0</text>
<line x1="318.80" y1="399.90" x2="322.30" y2="399.90" stroke="#231f20" stroke-width="1"/>
<text x="316.10" y="403.30" font-size="8.3" text-anchor="end" font-weight="normal" fill="#231f20" stroke="#231f20" stroke-width="0.22" >1</text>
<line x1="318.80" y1="382.70" x2="322.30" y2="382.70" stroke="#231f20" stroke-width="1"/>
<text x="316.10" y="386.10" font-size="8.3" text-anchor="end" font-weight="normal" fill="#231f20" stroke="#231f20" stroke-width="0.22" >2</text>
<line x1="318.80" y1="365.50" x2="322.30" y2="365.50" stroke="#231f20" stroke-width="1"/>
<text x="316.10" y="368.90" font-size="8.3" text-anchor="end" font-weight="normal" fill="#231f20" stroke="#231f20" stroke-width="0.22" >3</text>
<line x1="318.80" y1="348.30" x2="322.30" y2="348.30" stroke="#231f20" stroke-width="1"/>
<text x="316.10" y="351.70" font-size="8.3" text-anchor="end" font-weight="normal" fill="#231f20" stroke="#231f20" stroke-width="0.22" >4</text>
<line x1="318.80" y1="331.10" x2="322.30" y2="331.10" stroke="#231f20" stroke-width="1"/>
<text x="316.10" y="334.50" font-size="8.3" text-anchor="end" font-weight="normal" fill="#231f20" stroke="#231f20" stroke-width="0.22" >5</text>
<line x1="331.00" y1="417.10" x2="331.00" y2="420.40" stroke="#231f20" stroke-width="1"/>
<line x1="347.60" y1="417.10" x2="347.60" y2="420.40" stroke="#231f20" stroke-width="1"/>
<line x1="364.00" y1="417.10" x2="364.00" y2="420.40" stroke="#231f20" stroke-width="1"/>
<line x1="380.60" y1="417.10" x2="380.60" y2="420.40" stroke="#231f20" stroke-width="1"/>
<line x1="397.00" y1="417.10" x2="397.00" y2="420.40" stroke="#231f20" stroke-width="1"/>
<path d="M347.60,344.30V342.30H364.00V344.30" stroke="#231f20" stroke-width="0.9" fill="none"/>
<text x="356.15" y="342.60" font-size="7.6" text-anchor="middle" letter-spacing="0.7" fill="#231f20" stroke="#231f20" stroke-width="0.25">***</text>
<path d="M347.60,336.50V334.50H380.60V336.50" stroke="#231f20" stroke-width="0.9" fill="none"/>
<text x="364.45" y="334.80" font-size="7.6" text-anchor="middle" letter-spacing="0.7" fill="#231f20" stroke="#231f20" stroke-width="0.25">***</text>
<path d="M347.60,328.10V326.10H397.00V328.10" stroke="#231f20" stroke-width="0.9" fill="none"/>
<text x="372.65" y="326.40" font-size="7.6" text-anchor="middle" letter-spacing="0.7" fill="#231f20" stroke="#231f20" stroke-width="0.25">***</text>
<text transform="translate(295.40,372.20) rotate(-90) scale(0.8588,1)" x="0" y="0" font-size="9" text-anchor="middle" fill="#231f20" stroke="#231f20" stroke-width="0.22">x-fold change of</text>
<text transform="translate(306.20,372.20) rotate(-90) scale(0.8602,1)" x="0" y="0" font-size="9" text-anchor="middle" fill="#231f20" stroke="#231f20" stroke-width="0.22">myofibroblast counts</text>
<rect x="62.95" y="618.05" width="9.7" height="34.45" fill="#d8877c"/>
<rect x="79.35" y="597.86" width="9.7" height="54.64" fill="#8a93c0"/>
<rect x="95.75" y="625.36" width="9.7" height="27.14" fill="#b6d59b"/>
<rect x="112.15" y="608.65" width="9.7" height="43.85" fill="#9b84ad"/>
<rect x="128.55" y="612.13" width="9.7" height="40.37" fill="#f1c589"/>
<circle cx="67.80" cy="611.44" r="1.75" fill="#a8123a"/>
<circle cx="65.20" cy="614.22" r="1.75" fill="#a8123a"/>
<circle cx="70.40" cy="617.70" r="1.75" fill="#a8123a"/>
<circle cx="65.20" cy="619.44" r="1.75" fill="#a8123a"/>
<circle cx="70.40" cy="621.18" r="1.75" fill="#a8123a"/>
<circle cx="67.80" cy="622.92" r="1.75" fill="#a8123a"/>
<path d="M67.80,613.52V622.57M65.90,613.52H69.70M65.90,622.57H69.70" stroke="#231f20" stroke-width="0.9" fill="none"/>
<rect x="82.45" y="581.15" width="3.50" height="3.50" fill="#2b4d8c"/>
<rect x="79.85" y="588.11" width="3.50" height="3.50" fill="#2b4d8c"/>
<rect x="85.05" y="595.07" width="3.50" height="3.50" fill="#2b4d8c"/>
<rect x="79.85" y="596.81" width="3.50" height="3.50" fill="#2b4d8c"/>
<rect x="85.05" y="600.29" width="3.50" height="3.50" fill="#2b4d8c"/>
<rect x="82.45" y="605.51" width="3.50" height="3.50" fill="#2b4d8c"/>
<path d="M84.20,589.16V606.56M82.30,589.16H86.10M82.30,606.56H86.10" stroke="#231f20" stroke-width="0.9" fill="none"/>
<path d="M100.60,613.95L102.61,617.57L98.59,617.57Z" fill="#5ea33a"/>
<path d="M98.00,617.43L100.01,621.05L95.99,621.05Z" fill="#5ea33a"/>
<path d="M103.20,622.65L105.21,626.27L101.19,626.27Z" fill="#5ea33a"/>
<path d="M98.00,624.39L100.01,628.01L95.99,628.01Z" fill="#5ea33a"/>
<path d="M103.20,631.35L105.21,634.97L101.19,634.97Z" fill="#5ea33a"/>
<path d="M100.60,640.05L102.61,643.67L98.59,643.67Z" fill="#5ea33a"/>
<path d="M100.60,616.66V634.06M98.70,616.66H102.50M98.70,634.06H102.50" stroke="#231f20" stroke-width="0.9" fill="none"/>
<path d="M117.00,609.97L119.01,606.35L114.99,606.35Z" fill="#4b1d6b"/>
<path d="M114.40,610.32L116.41,606.69L112.39,606.69Z" fill="#4b1d6b"/>
<path d="M119.60,611.01L121.61,607.39L117.59,607.39Z" fill="#4b1d6b"/>
<path d="M114.40,610.66L116.41,607.04L112.39,607.04Z" fill="#4b1d6b"/>
<path d="M119.60,609.62L121.61,606.00L117.59,606.00Z" fill="#4b1d6b"/>
<path d="M117.00,607.96V609.35M115.10,607.96H118.90M115.10,609.35H118.90" stroke="#231f20" stroke-width="0.9" fill="none"/>
<path d="M133.40,600.98L135.50,603.08L133.40,605.18L131.30,603.08Z" fill="#e8901c"/>
<path d="M130.80,605.16L132.90,607.26L130.80,609.36L128.70,607.26Z" fill="#e8901c"/>
<path d="M136.00,608.64L138.10,610.74L136.00,612.84L133.90,610.74Z" fill="#e8901c"/>
<path d="M130.80,612.12L132.90,614.22L130.80,616.32L128.70,614.22Z" fill="#e8901c"/>
<path d="M136.00,619.08L138.10,621.18L136.00,623.28L133.90,621.18Z" fill="#e8901c"/>
<path d="M133.40,620.82L135.50,622.92L133.40,625.02L131.30,622.92Z" fill="#e8901c"/>
<path d="M133.40,605.17V619.09M131.50,605.17H135.30M131.50,619.09H135.30" stroke="#231f20" stroke-width="0.9" fill="none"/>
<line x1="59.40" y1="564.00" x2="59.40" y2="653.00" stroke="#231f20" stroke-width="1.1"/>
<line x1="58.90" y1="652.50" x2="141.40" y2="652.50" stroke="#231f20" stroke-width="1.1"/>
<line x1="55.90" y1="652.50" x2="59.40" y2="652.50" stroke="#231f20" stroke-width="1"/>
<text x="53.20" y="655.90" font-size="8.3" text-anchor="end" font-weight="normal" fill="#231f20" stroke="#231f20" stroke-width="0.22" >0.0</text>
<line x1="55.90" y1="635.10" x2="59.40" y2="635.10" stroke="#231f20" stroke-width="1"/>
<text x="53.20" y="638.50" font-size="8.3" text-anchor="end" font-weight="normal" fill="#231f20" stroke="#231f20" stroke-width="0.22" >0.5</text>
<line x1="55.90" y1="617.70" x2="59.40" y2="617.70" stroke="#231f20" stroke-width="1"/>
<text x="53.20" y="621.10" font-size="8.3" text-anchor="end" font-weight="normal" fill="#231f20" stroke="#231f20" stroke-width="0.22" >1.0</text>
<line x1="55.90" y1="600.30" x2="59.40" y2="600.30" stroke="#231f20" stroke-width="1"/>
<text x="53.20" y="603.70" font-size="8.3" text-anchor="end" font-weight="normal" fill="#231f20" stroke="#231f20" stroke-width="0.22" >1.5</text>
<line x1="55.90" y1="582.90" x2="59.40" y2="582.90" stroke="#231f20" stroke-width="1"/>
<text x="53.20" y="586.30" font-size="8.3" text-anchor="end" font-weight="normal" fill="#231f20" stroke="#231f20" stroke-width="0.22" >2.0</text>
<line x1="55.90" y1="565.50" x2="59.40" y2="565.50" stroke="#231f20" stroke-width="1"/>
<text x="53.20" y="568.90" font-size="8.3" text-anchor="end" font-weight="normal" fill="#231f20" stroke="#231f20" stroke-width="0.22" >2.5</text>
<line x1="67.80" y1="652.50" x2="67.80" y2="655.80" stroke="#231f20" stroke-width="1"/>
<line x1="84.20" y1="652.50" x2="84.20" y2="655.80" stroke="#231f20" stroke-width="1"/>
<line x1="100.60" y1="652.50" x2="100.60" y2="655.80" stroke="#231f20" stroke-width="1"/>
<line x1="117.00" y1="652.50" x2="117.00" y2="655.80" stroke="#231f20" stroke-width="1"/>
<line x1="133.40" y1="652.50" x2="133.40" y2="655.80" stroke="#231f20" stroke-width="1"/>
<path d="M84.20,581.80V579.80H100.60V581.80" stroke="#231f20" stroke-width="0.9" fill="none"/>
<text x="92.75" y="580.10" font-size="7.6" text-anchor="middle" letter-spacing="0.7" fill="#231f20" stroke="#231f20" stroke-width="0.25">***</text>
<path d="M84.20,573.50V571.50H117.00V573.50" stroke="#231f20" stroke-width="0.9" fill="none"/>
<text x="100.95" y="571.80" font-size="7.6" text-anchor="middle" letter-spacing="0.7" fill="#231f20" stroke="#231f20" stroke-width="0.25">*</text>
<path d="M84.20,564.90V562.90H133.40V564.90" stroke="#231f20" stroke-width="0.9" fill="none"/>
<text x="109.15" y="563.20" font-size="7.6" text-anchor="middle" letter-spacing="0.7" fill="#231f20" stroke="#231f20" stroke-width="0.25">*</text>
<text transform="translate(25.00,607.60) rotate(-90) scale(0.8588,1)" x="0" y="0" font-size="9" text-anchor="middle" fill="#231f20" stroke="#231f20" stroke-width="0.22">x-fold change of</text>
<text transform="translate(35.40,607.60) rotate(-90) scale(0.8592,1)" x="0" y="0" font-size="9" text-anchor="middle" fill="#231f20" stroke="#231f20" stroke-width="0.22">fibrotic area</text>
<rect x="198.05" y="618.80" width="9.7" height="33.70" fill="#d8877c"/>
<rect x="214.45" y="594.94" width="9.7" height="57.56" fill="#8a93c0"/>
<rect x="230.85" y="613.89" width="9.7" height="38.61" fill="#b6d59b"/>
<rect x="247.25" y="610.03" width="9.7" height="42.47" fill="#9b84ad"/>
<rect x="263.65" y="613.89" width="9.7" height="38.61" fill="#f1c589"/>
<circle cx="202.90" cy="606.87" r="1.75" fill="#a8123a"/>
<circle cx="200.30" cy="610.38" r="1.75" fill="#a8123a"/>
<circle cx="205.50" cy="610.38" r="1.75" fill="#a8123a"/>
<circle cx="200.30" cy="626.17" r="1.75" fill="#a8123a"/>
<circle cx="205.50" cy="627.93" r="1.75" fill="#a8123a"/>
<circle cx="202.90" cy="627.93" r="1.75" fill="#a8123a"/>
<path d="M202.90,608.98V628.63M201.00,608.98H204.80M201.00,628.63H204.80" stroke="#231f20" stroke-width="0.9" fill="none"/>
<rect x="217.55" y="582.30" width="3.50" height="3.50" fill="#2b4d8c"/>
<rect x="214.95" y="589.33" width="3.50" height="3.50" fill="#2b4d8c"/>
<rect x="220.15" y="592.84" width="3.50" height="3.50" fill="#2b4d8c"/>
<rect x="214.95" y="596.35" width="3.50" height="3.50" fill="#2b4d8c"/>
<rect x="220.15" y="601.61" width="3.50" height="3.50" fill="#2b4d8c"/>
<rect x="217.55" y="605.12" width="3.50" height="3.50" fill="#2b4d8c"/>
<path d="M219.30,587.92V601.96M217.40,587.92H221.20M217.40,601.96H221.20" stroke="#231f20" stroke-width="0.9" fill="none"/>
<path d="M235.70,607.67L237.71,611.29L233.69,611.29Z" fill="#5ea33a"/>
<path d="M233.10,609.07L235.11,612.69L231.09,612.69Z" fill="#5ea33a"/>
<path d="M238.30,611.88L240.31,615.50L236.29,615.50Z" fill="#5ea33a"/>
<path d="M233.10,613.63L235.11,617.25L231.09,617.25Z" fill="#5ea33a"/>
<path d="M238.30,615.39L240.31,619.01L236.29,619.01Z" fill="#5ea33a"/>
<path d="M235.70,616.09L237.71,619.71L233.69,619.71Z" fill="#5ea33a"/>
<path d="M235.70,609.68V618.10M233.80,609.68H237.60M233.80,618.10H237.60" stroke="#231f20" stroke-width="0.9" fill="none"/>
<path d="M252.10,601.86L254.11,598.24L250.09,598.24Z" fill="#4b1d6b"/>
<path d="M249.50,610.64L251.51,607.01L247.49,607.01Z" fill="#4b1d6b"/>
<path d="M254.70,612.39L256.71,608.77L252.69,608.77Z" fill="#4b1d6b"/>
<path d="M249.50,614.15L251.51,610.52L247.49,610.52Z" fill="#4b1d6b"/>
<path d="M254.70,615.90L256.71,612.28L252.69,612.28Z" fill="#4b1d6b"/>
<path d="M252.10,615.90L254.11,612.28L250.09,612.28Z" fill="#4b1d6b"/>
<path d="M252.10,605.82V614.24M250.20,605.82H254.00M250.20,614.24H254.00" stroke="#231f20" stroke-width="0.9" fill="none"/>
<path d="M268.50,599.50L270.60,601.61L268.50,603.71L266.40,601.61Z" fill="#e8901c"/>
<path d="M265.90,606.52L268.00,608.62L265.90,610.73L263.80,608.62Z" fill="#e8901c"/>
<path d="M271.10,610.03L273.20,612.13L271.10,614.24L269.00,612.13Z" fill="#e8901c"/>
<path d="M265.90,617.05L268.00,619.15L265.90,621.25L263.80,619.15Z" fill="#e8901c"/>
<path d="M271.10,624.07L273.20,626.17L271.10,628.27L269.00,626.17Z" fill="#e8901c"/>
<path d="M268.50,625.83L270.60,627.93L268.50,630.03L266.40,627.93Z" fill="#e8901c"/>
<path d="M268.50,602.66V625.12M266.60,602.66H270.40M266.60,625.12H270.40" stroke="#231f20" stroke-width="0.9" fill="none"/>
<line x1="194.30" y1="563.25" x2="194.30" y2="653.00" stroke="#231f20" stroke-width="1.1"/>
<line x1="193.80" y1="652.50" x2="276.50" y2="652.50" stroke="#231f20" stroke-width="1.1"/>
<line x1="190.80" y1="652.50" x2="194.30" y2="652.50" stroke="#231f20" stroke-width="1"/>
<text x="188.10" y="655.90" font-size="8.3" text-anchor="end" font-weight="normal" fill="#231f20" stroke="#231f20" stroke-width="0.22" >0.0</text>
<line x1="190.80" y1="634.95" x2="194.30" y2="634.95" stroke="#231f20" stroke-width="1"/>
<text x="188.10" y="638.35" font-size="8.3" text-anchor="end" font-weight="normal" fill="#231f20" stroke="#231f20" stroke-width="0.22" >0.5</text>
<line x1="190.80" y1="617.40" x2="194.30" y2="617.40" stroke="#231f20" stroke-width="1"/>
<text x="188.10" y="620.80" font-size="8.3" text-anchor="end" font-weight="normal" fill="#231f20" stroke="#231f20" stroke-width="0.22" >1.0</text>
<line x1="190.80" y1="599.85" x2="194.30" y2="599.85" stroke="#231f20" stroke-width="1"/>
<text x="188.10" y="603.25" font-size="8.3" text-anchor="end" font-weight="normal" fill="#231f20" stroke="#231f20" stroke-width="0.22" >1.5</text>
<line x1="190.80" y1="582.30" x2="194.30" y2="582.30" stroke="#231f20" stroke-width="1"/>
<text x="188.10" y="585.70" font-size="8.3" text-anchor="end" font-weight="normal" fill="#231f20" stroke="#231f20" stroke-width="0.22" >2.0</text>
<line x1="190.80" y1="564.75" x2="194.30" y2="564.75" stroke="#231f20" stroke-width="1"/>
<text x="188.10" y="568.15" font-size="8.3" text-anchor="end" font-weight="normal" fill="#231f20" stroke="#231f20" stroke-width="0.22" >2.5</text>
<line x1="202.90" y1="652.50" x2="202.90" y2="655.80" stroke="#231f20" stroke-width="1"/>
<line x1="219.30" y1="652.50" x2="219.30" y2="655.80" stroke="#231f20" stroke-width="1"/>
<line x1="235.70" y1="652.50" x2="235.70" y2="655.80" stroke="#231f20" stroke-width="1"/>
<line x1="252.10" y1="652.50" x2="252.10" y2="655.80" stroke="#231f20" stroke-width="1"/>
<line x1="268.50" y1="652.50" x2="268.50" y2="655.80" stroke="#231f20" stroke-width="1"/>
<path d="M219.30,577.80V575.80H235.70V577.80" stroke="#231f20" stroke-width="0.9" fill="none"/>
<text x="227.85" y="576.10" font-size="7.6" text-anchor="middle" letter-spacing="0.7" fill="#231f20" stroke="#231f20" stroke-width="0.25">**</text>
<path d="M219.30,569.50V567.50H252.10V569.50" stroke="#231f20" stroke-width="0.9" fill="none"/>
<text x="236.05" y="567.80" font-size="7.6" text-anchor="middle" letter-spacing="0.7" fill="#231f20" stroke="#231f20" stroke-width="0.25">*</text>
<path d="M219.30,561.40V559.40H268.50V561.40" stroke="#231f20" stroke-width="0.9" fill="none"/>
<text x="244.25" y="559.70" font-size="7.6" text-anchor="middle" letter-spacing="0.7" fill="#231f20" stroke="#231f20" stroke-width="0.25">*</text>
<text transform="translate(160.60,607.60) rotate(-90) scale(0.8900,1)" x="0" y="0" font-size="9" text-anchor="middle" fill="#231f20" stroke="#231f20" stroke-width="0.22">x-fold change of</text>
<text transform="translate(171.20,607.60) rotate(-90) scale(0.8834,1)" x="0" y="0" font-size="9" text-anchor="middle" fill="#231f20" stroke="#231f20" stroke-width="0.22">hydroxyproline content</text>
<rect x="326.15" y="631.06" width="9.7" height="21.44" fill="#d8877c"/>
<rect x="342.75" y="591.28" width="9.7" height="61.22" fill="#8a93c0"/>
<rect x="359.15" y="624.43" width="9.7" height="28.07" fill="#b6d59b"/>
<rect x="375.75" y="627.97" width="9.7" height="24.53" fill="#9b84ad"/>
<rect x="392.15" y="630.40" width="9.7" height="22.10" fill="#f1c589"/>
<circle cx="331.00" cy="619.35" r="1.75" fill="#a8123a"/>
<circle cx="328.40" cy="622.66" r="1.75" fill="#a8123a"/>
<circle cx="333.60" cy="630.40" r="1.75" fill="#a8123a"/>
<circle cx="328.40" cy="633.72" r="1.75" fill="#a8123a"/>
<circle cx="333.60" cy="639.24" r="1.75" fill="#a8123a"/>
<circle cx="331.00" cy="639.24" r="1.75" fill="#a8123a"/>
<path d="M331.00,622.22V639.90M329.10,622.22H332.90M329.10,639.90H332.90" stroke="#231f20" stroke-width="0.9" fill="none"/>
<rect x="345.85" y="576.72" width="3.50" height="3.50" fill="#2b4d8c"/>
<rect x="343.25" y="582.24" width="3.50" height="3.50" fill="#2b4d8c"/>
<rect x="348.45" y="587.76" width="3.50" height="3.50" fill="#2b4d8c"/>
<rect x="343.25" y="591.08" width="3.50" height="3.50" fill="#2b4d8c"/>
<rect x="348.45" y="593.29" width="3.50" height="3.50" fill="#2b4d8c"/>
<rect x="345.85" y="596.61" width="3.50" height="3.50" fill="#2b4d8c"/>
<path d="M347.60,583.55V599.02M345.70,583.55H349.50M345.70,599.02H349.50" stroke="#231f20" stroke-width="0.9" fill="none"/>
<path d="M364.00,614.02L366.01,617.64L361.99,617.64Z" fill="#5ea33a"/>
<path d="M361.40,618.44L363.41,622.07L359.39,622.07Z" fill="#5ea33a"/>
<path d="M366.60,621.76L368.61,625.38L364.59,625.38Z" fill="#5ea33a"/>
<path d="M361.40,623.97L363.41,627.59L359.39,627.59Z" fill="#5ea33a"/>
<path d="M366.60,628.39L368.61,632.01L364.59,632.01Z" fill="#5ea33a"/>
<path d="M364.00,628.39L366.01,632.01L361.99,632.01Z" fill="#5ea33a"/>
<path d="M364.00,618.47V630.40M362.10,618.47H365.90M362.10,630.40H365.90" stroke="#231f20" stroke-width="0.9" fill="none"/>
<path d="M380.60,621.36L382.61,617.74L378.59,617.74Z" fill="#4b1d6b"/>
<path d="M378.00,623.57L380.01,619.95L375.99,619.95Z" fill="#4b1d6b"/>
<path d="M383.20,627.99L385.21,624.37L381.19,624.37Z" fill="#4b1d6b"/>
<path d="M378.00,632.41L380.01,628.79L375.99,628.79Z" fill="#4b1d6b"/>
<path d="M383.20,634.62L385.21,631.00L381.19,631.00Z" fill="#4b1d6b"/>
<path d="M380.60,637.94L382.61,634.31L378.59,634.31Z" fill="#4b1d6b"/>
<path d="M380.60,620.23V635.70M378.70,620.23H382.50M378.70,635.70H382.50" stroke="#231f20" stroke-width="0.9" fill="none"/>
<path d="M397.00,617.69L399.10,619.79L397.00,621.89L394.90,619.79Z" fill="#e8901c"/>
<path d="M394.40,623.88L396.50,625.98L394.40,628.08L392.30,625.98Z" fill="#e8901c"/>
<path d="M399.60,628.30L401.70,630.40L399.60,632.50L397.50,630.40Z" fill="#e8901c"/>
<path d="M394.40,630.51L396.50,632.61L394.40,634.71L392.30,632.61Z" fill="#e8901c"/>
<path d="M399.60,633.82L401.70,635.92L399.60,638.02L397.50,635.92Z" fill="#e8901c"/>
<path d="M397.00,637.14L399.10,639.24L397.00,641.34L394.90,639.24Z" fill="#e8901c"/>
<path d="M397.00,622.66V638.13M395.10,622.66H398.90M395.10,638.13H398.90" stroke="#231f20" stroke-width="0.9" fill="none"/>
<line x1="322.30" y1="562.60" x2="322.30" y2="653.00" stroke="#231f20" stroke-width="1.1"/>
<line x1="321.80" y1="652.50" x2="405.00" y2="652.50" stroke="#231f20" stroke-width="1.1"/>
<line x1="318.80" y1="652.50" x2="322.30" y2="652.50" stroke="#231f20" stroke-width="1"/>
<text x="316.10" y="655.90" font-size="8.3" text-anchor="end" font-weight="normal" fill="#231f20" stroke="#231f20" stroke-width="0.22" >0</text>
<line x1="318.80" y1="630.40" x2="322.30" y2="630.40" stroke="#231f20" stroke-width="1"/>
<text x="316.10" y="633.80" font-size="8.3" text-anchor="end" font-weight="normal" fill="#231f20" stroke="#231f20" stroke-width="0.22" >1</text>
<line x1="318.80" y1="608.30" x2="322.30" y2="608.30" stroke="#231f20" stroke-width="1"/>
<text x="316.10" y="611.70" font-size="8.3" text-anchor="end" font-weight="normal" fill="#231f20" stroke="#231f20" stroke-width="0.22" >2</text>
<line x1="318.80" y1="586.20" x2="322.30" y2="586.20" stroke="#231f20" stroke-width="1"/>
<text x="316.10" y="589.60" font-size="8.3" text-anchor="end" font-weight="normal" fill="#231f20" stroke="#231f20" stroke-width="0.22" >3</text>
<line x1="318.80" y1="564.10" x2="322.30" y2="564.10" stroke="#231f20" stroke-width="1"/>
<text x="316.10" y="567.50" font-size="8.3" text-anchor="end" font-weight="normal" fill="#231f20" stroke="#231f20" stroke-width="0.22" >4</text>
<line x1="331.00" y1="652.50" x2="331.00" y2="655.80" stroke="#231f20" stroke-width="1"/>
<line x1="347.60" y1="652.50" x2="347.60" y2="655.80" stroke="#231f20" stroke-width="1"/>
<line x1="364.00" y1="652.50" x2="364.00" y2="655.80" stroke="#231f20" stroke-width="1"/>
<line x1="380.60" y1="652.50" x2="380.60" y2="655.80" stroke="#231f20" stroke-width="1"/>
<line x1="397.00" y1="652.50" x2="397.00" y2="655.80" stroke="#231f20" stroke-width="1"/>
<path d="M347.60,575.70V573.70H364.00V575.70" stroke="#231f20" stroke-width="0.9" fill="none"/>
<text x="356.15" y="574.00" font-size="7.6" text-anchor="middle" letter-spacing="0.7" fill="#231f20" stroke="#231f20" stroke-width="0.25">***</text>
<path d="M347.60,567.00V565.00H380.60V567.00" stroke="#231f20" stroke-width="0.9" fill="none"/>
<text x="364.45" y="565.30" font-size="7.6" text-anchor="middle" letter-spacing="0.7" fill="#231f20" stroke="#231f20" stroke-width="0.25">***</text>
<path d="M347.60,558.70V556.70H397.00V558.70" stroke="#231f20" stroke-width="0.9" fill="none"/>
<text x="372.65" y="557.00" font-size="7.6" text-anchor="middle" letter-spacing="0.7" fill="#231f20" stroke="#231f20" stroke-width="0.25">***</text>
<text transform="translate(295.40,607.60) rotate(-90) scale(0.8588,1)" x="0" y="0" font-size="9" text-anchor="middle" fill="#231f20" stroke="#231f20" stroke-width="0.22">x-fold change of</text>
<text transform="translate(306.20,607.60) rotate(-90) scale(0.8602,1)" x="0" y="0" font-size="9" text-anchor="middle" fill="#231f20" stroke="#231f20" stroke-width="0.22">myofibroblast counts</text>
<circle cx="416.20" cy="355.70" r="1.50" fill="#a8123a"/>
<text x="421.90" y="358.30" font-size="7.7" text-anchor="start" font-weight="normal" fill="#231f20" stroke="#231f20" stroke-width="0.1" >syngeneic</text>
<rect x="414.70" y="362.70" width="3.00" height="3.00" fill="#2b4d8c"/>
<text x="421.90" y="366.80" font-size="7.7" text-anchor="start" font-weight="normal" fill="#231f20" stroke="#231f20" stroke-width="0.1" >allogeneic</text>
<path d="M416.20,370.97L417.93,374.08L414.47,374.08Z" fill="#5ea33a"/>
<text x="421.90" y="375.30" font-size="7.7" text-anchor="start" font-weight="normal" fill="#231f20" stroke="#231f20" stroke-width="0.1" >allogeneic+G007-LK</text>
<path d="M416.20,382.93L417.93,379.82L414.47,379.82Z" fill="#4b1d6b"/>
<text x="421.90" y="383.80" font-size="7.7" text-anchor="start" font-weight="normal" fill="#231f20" stroke="#231f20" stroke-width="0.1" >allogeneic+pyrvinium</text>
<path d="M416.20,387.90L418.00,389.70L416.20,391.50L414.40,389.70Z" fill="#e8901c"/>
<text x="421.90" y="392.30" font-size="7.7" text-anchor="start" font-weight="normal" fill="#231f20" stroke="#231f20" stroke-width="0.1" >allogeneic+salinomycin</text>
<circle cx="416.20" cy="590.00" r="1.50" fill="#a8123a"/>
<text x="421.90" y="592.60" font-size="7.7" text-anchor="start" font-weight="normal" fill="#231f20" stroke="#231f20" stroke-width="0.1" >syngeneic</text>
<rect x="414.70" y="597.00" width="3.00" height="3.00" fill="#2b4d8c"/>
<text x="421.90" y="601.10" font-size="7.7" text-anchor="start" font-weight="normal" fill="#231f20" stroke="#231f20" stroke-width="0.1" >allogeneic</text>
<path d="M416.20,605.27L417.93,608.38L414.47,608.38Z" fill="#5ea33a"/>
<text x="421.90" y="609.60" font-size="7.7" text-anchor="start" font-weight="normal" fill="#231f20" stroke="#231f20" stroke-width="0.1" >allogeneic+G007-LK</text>
<path d="M416.20,617.23L417.93,614.12L414.47,614.12Z" fill="#4b1d6b"/>
<text x="421.90" y="618.10" font-size="7.7" text-anchor="start" font-weight="normal" fill="#231f20" stroke="#231f20" stroke-width="0.1" >allogeneic+pyrvinium</text>
<path d="M416.20,622.20L418.00,624.00L416.20,625.80L414.40,624.00Z" fill="#e8901c"/>
<text x="421.90" y="626.60" font-size="7.7" text-anchor="start" font-weight="normal" fill="#231f20" stroke="#231f20" stroke-width="0.1" >allogeneic+salinomycin</text>
<rect x="0.5" y="0.5" width="519" height="663" fill="none" stroke="#000" stroke-width="1"/>
</svg>
</body></html>
